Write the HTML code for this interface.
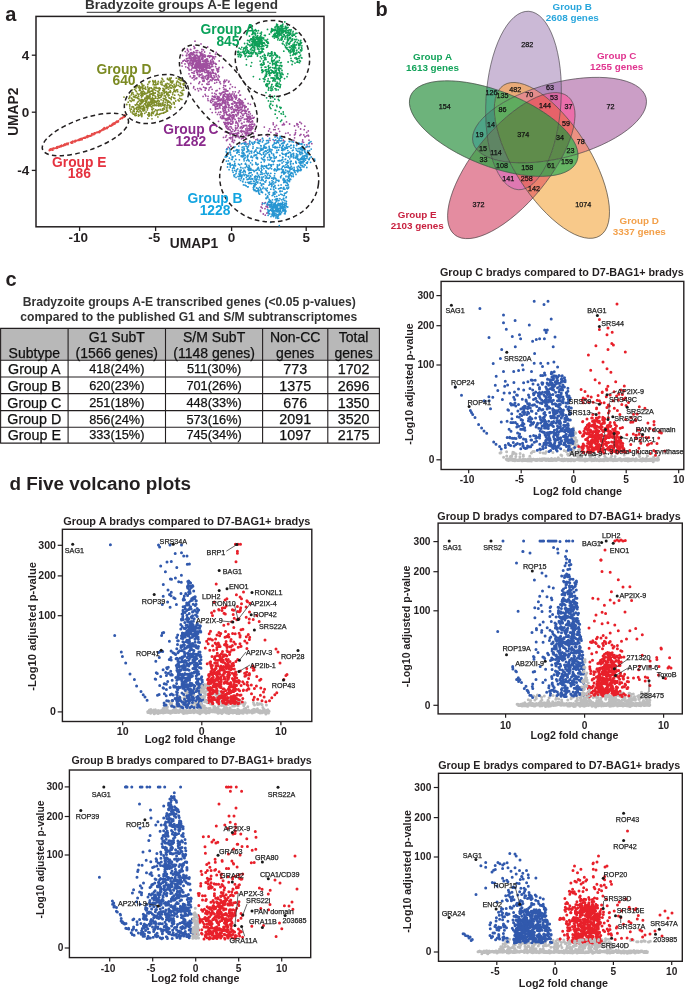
<!DOCTYPE html>
<html><head><meta charset="utf-8"><style>html,body{margin:0;padding:0;background:#fff;}svg{display:block;}text{font-family:"Liberation Sans",sans-serif;}</style></head>
<body><svg style="will-change:transform;filter:blur(0.35px)" width="685" height="990" viewBox="0 0 685 990" font-family="Liberation Sans, sans-serif">
<text x="5.3" y="20.8" font-size="20" font-weight="bold" fill="#231f20">a</text>
<text x="181.5" y="9.3" font-size="13.55" font-weight="bold" text-anchor="middle" fill="#333">Bradyzoite groups A-E legend</text>
<line x1="86.7" y1="12.3" x2="276.3" y2="12.3" stroke="#333" stroke-width="1.0"/>
<rect x="36" y="16.4" width="288" height="210.4" fill="none" stroke="#231f20" stroke-width="1.5"/>
<line x1="31.8" y1="55.2" x2="36.0" y2="55.2" stroke="#231f20" stroke-width="1.3"/>
<text x="29.3" y="59.8" font-size="13.5" font-weight="bold" text-anchor="end" fill="#231f20">4</text>
<line x1="31.8" y1="112.2" x2="36.0" y2="112.2" stroke="#231f20" stroke-width="1.3"/>
<text x="29.3" y="116.8" font-size="13.5" font-weight="bold" text-anchor="end" fill="#231f20">0</text>
<line x1="31.8" y1="170.4" x2="36.0" y2="170.4" stroke="#231f20" stroke-width="1.3"/>
<text x="29.3" y="175.0" font-size="13.5" font-weight="bold" text-anchor="end" fill="#231f20">-4</text>
<line x1="79.6" y1="226.8" x2="79.6" y2="231.0" stroke="#231f20" stroke-width="1.3"/>
<text x="78.3" y="242.3" font-size="13.5" font-weight="bold" text-anchor="middle" fill="#231f20">-10</text>
<line x1="155.6" y1="226.8" x2="155.6" y2="231.0" stroke="#231f20" stroke-width="1.3"/>
<text x="154.3" y="242.3" font-size="13.5" font-weight="bold" text-anchor="middle" fill="#231f20">-5</text>
<line x1="231.6" y1="226.8" x2="231.6" y2="231.0" stroke="#231f20" stroke-width="1.3"/>
<text x="231.6" y="242.3" font-size="13.5" font-weight="bold" text-anchor="middle" fill="#231f20">0</text>
<line x1="306.2" y1="226.8" x2="306.2" y2="231.0" stroke="#231f20" stroke-width="1.3"/>
<text x="306.2" y="242.3" font-size="13.5" font-weight="bold" text-anchor="middle" fill="#231f20">5</text>
<text x="194.0" y="247.8" font-size="13.8" font-weight="bold" text-anchor="middle" fill="#231f20">UMAP1</text>
<text x="17.6" y="111.7" font-size="13.8" font-weight="bold" text-anchor="middle" fill="#231f20" transform="rotate(-90 17.6 111.7)">UMAP2</text>
<path d="M196.6 64.9h0M199.5 60.3h0M194.2 58.1h0M206.3 69.8h0M206.4 68.5h0M202.1 65.6h0M185.7 61.2h0M201.9 67.8h0M193.9 46.4h0M195.4 56.8h0M202.3 64.0h0M205.7 61.5h0M200.9 66.5h0M189.8 70.0h0M200.0 72.0h0M198.1 56.4h0M198.0 61.0h0M203.6 66.9h0M200.0 55.8h0M192.4 67.8h0M193.6 61.1h0M207.8 56.3h0M196.1 70.5h0M187.1 53.1h0M201.9 58.0h0M203.6 64.6h0M187.2 61.8h0M201.6 71.0h0M208.8 70.8h0M205.0 56.2h0M206.3 62.0h0M201.0 54.1h0M195.0 56.1h0M215.5 56.7h0M189.1 58.5h0M208.1 72.0h0M195.0 41.2h0M204.9 60.3h0M189.1 64.0h0M207.1 68.3h0M200.3 66.4h0M209.0 72.9h0M201.8 68.2h0M185.0 63.9h0M204.9 69.8h0M188.4 51.5h0M211.7 56.2h0M195.4 68.0h0M185.7 66.8h0M204.3 64.4h0M200.1 68.0h0M197.1 69.9h0M196.8 58.0h0M207.1 67.3h0M190.8 64.8h0M211.6 66.4h0M190.9 56.7h0M199.9 60.7h0M213.1 62.8h0M212.9 60.9h0M192.5 63.4h0M205.0 72.4h0M201.9 65.2h0M199.2 66.8h0M197.9 63.9h0M204.0 65.3h0M203.5 69.2h0M212.9 72.9h0M198.2 59.2h0M196.9 68.1h0M196.4 63.8h0M221.1 55.9h0M191.4 59.9h0M202.0 65.9h0M194.9 65.0h0M203.7 61.2h0M215.7 74.7h0M196.5 60.2h0M198.6 61.7h0M182.7 49.3h0M210.8 60.5h0M196.4 68.1h0M201.1 74.8h0M189.4 54.2h0M195.6 65.1h0M216.3 52.3h0M212.2 59.2h0M209.6 57.3h0M197.3 70.4h0M198.3 63.5h0M205.1 67.0h0M194.4 71.3h0M208.2 65.5h0M222.7 67.5h0M207.2 65.2h0M198.6 67.5h0M199.5 67.5h0M194.3 48.4h0M207.4 60.0h0M197.7 50.6h0M206.3 72.3h0M213.3 63.6h0M203.7 56.6h0M200.1 75.0h0M188.8 68.2h0M207.4 66.0h0M181.8 63.0h0M201.3 59.2h0M201.4 66.9h0M213.7 63.2h0M203.0 75.9h0M210.6 67.8h0M191.5 65.8h0M200.4 64.2h0M210.7 67.2h0M185.3 51.6h0M184.5 60.2h0M204.2 60.8h0M197.2 67.6h0M196.2 70.8h0M196.2 68.6h0M205.1 78.0h0M192.5 65.3h0M190.5 49.4h0M182.9 61.2h0M191.5 58.0h0M198.8 62.1h0M195.1 61.9h0M212.3 70.4h0M200.4 70.8h0M202.7 55.1h0M192.7 66.8h0M190.5 53.0h0M204.4 71.5h0M197.4 67.6h0M205.0 57.0h0M191.2 53.1h0M208.2 63.5h0M196.3 55.1h0M189.8 56.2h0M190.6 60.3h0M182.6 55.4h0M201.9 49.5h0M205.9 64.3h0M187.4 49.2h0M203.5 61.6h0M203.0 70.3h0M203.6 67.5h0M207.1 72.0h0M209.9 53.1h0M202.0 74.0h0M199.5 59.2h0M219.2 60.9h0M195.4 78.5h0M191.3 63.2h0M213.5 69.9h0M201.0 70.3h0M194.0 58.9h0M199.3 68.8h0M200.4 61.8h0M194.1 56.9h0M205.8 67.1h0M196.8 54.9h0M214.8 80.1h0M212.8 51.0h0M202.7 68.2h0M210.3 72.1h0M197.8 65.7h0M183.2 61.0h0M204.5 60.3h0M203.3 78.5h0M192.4 53.6h0M201.4 65.2h0M200.4 55.9h0M211.3 77.3h0M196.1 50.7h0M208.6 75.4h0M210.0 74.8h0M193.1 61.0h0M187.5 50.1h0M197.9 65.7h0M195.4 59.4h0M202.0 67.0h0M203.7 66.7h0M195.2 66.1h0M203.0 58.5h0M195.7 60.5h0M198.7 63.4h0M199.4 64.0h0M203.2 55.4h0M199.5 70.6h0M203.6 63.7h0M206.2 59.3h0M186.7 55.8h0M191.1 63.4h0M201.0 43.9h0M187.7 67.7h0M201.8 53.8h0M193.0 62.9h0M202.9 66.0h0M208.0 72.9h0M197.9 66.3h0M208.3 75.1h0M210.6 61.0h0M196.6 66.5h0M194.5 67.8h0M201.2 70.5h0M190.3 76.5h0M209.3 66.7h0M192.2 78.0h0M194.8 66.5h0M206.8 67.0h0M191.3 59.4h0M198.8 70.8h0M205.3 66.3h0M204.2 69.5h0M201.2 64.1h0M196.1 65.9h0M194.7 55.2h0M204.8 54.8h0M203.5 49.9h0M193.4 63.5h0M204.1 65.0h0M203.0 54.1h0M211.0 73.2h0M210.4 62.4h0M204.6 52.0h0M202.4 71.4h0M187.0 55.1h0M210.1 55.6h0M190.8 49.7h0M200.2 52.6h0M199.4 64.5h0M202.1 69.5h0M206.6 75.6h0M192.6 54.9h0M196.2 52.7h0M199.4 62.7h0M208.6 56.0h0M191.5 57.9h0M199.6 60.5h0M202.0 58.5h0M203.7 67.8h0M201.6 58.9h0M207.6 47.0h0M193.1 59.3h0M188.9 58.1h0M205.5 55.8h0M199.3 60.2h0M201.2 68.3h0M202.5 58.1h0M199.2 62.1h0M204.1 67.6h0M199.4 52.5h0M199.8 57.3h0M192.7 57.9h0M196.3 61.6h0M205.0 62.8h0M217.1 70.5h0M207.2 68.1h0M215.5 54.1h0M194.0 61.4h0M196.6 78.6h0M198.1 71.5h0M202.2 71.4h0M204.0 64.2h0M207.0 59.0h0M211.5 62.0h0M194.8 75.9h0M198.4 62.2h0M208.0 67.8h0M193.6 61.2h0M201.7 69.3h0M189.0 69.8h0M211.5 69.8h0M203.3 61.7h0M212.1 64.7h0M206.2 63.0h0M192.9 64.3h0M209.3 68.3h0M192.7 64.9h0M198.6 64.6h0M206.9 75.5h0M189.0 73.8h0M197.5 67.4h0M195.7 60.2h0M182.1 66.1h0M213.4 61.6h0M194.8 47.9h0M209.6 65.1h0M200.6 61.0h0M202.7 56.4h0M204.8 55.0h0M198.5 64.5h0M204.0 63.6h0M193.2 60.3h0M191.6 69.9h0M205.7 65.4h0M199.0 57.2h0M194.7 57.3h0M190.9 54.8h0M202.4 56.6h0M216.7 79.9h0M200.7 54.2h0M191.7 52.7h0M197.0 52.7h0M193.4 57.8h0M204.9 76.6h0M211.2 62.4h0M199.5 65.7h0M198.2 60.1h0M187.2 58.3h0M202.6 68.9h0M194.5 57.5h0M199.0 63.4h0M218.4 75.5h0M216.3 64.2h0M213.9 75.7h0M188.8 54.6h0M203.3 70.5h0M218.0 71.7h0M207.7 72.9h0M201.0 66.5h0M207.6 59.1h0M189.5 57.6h0M207.3 71.0h0M203.4 67.5h0M198.6 56.7h0M195.6 63.8h0M218.6 69.3h0M215.9 64.3h0M193.2 57.4h0M218.6 71.1h0M202.4 70.2h0M199.7 57.7h0M208.4 77.8h0M196.8 62.6h0M208.9 55.9h0M212.9 72.2h0M202.7 56.2h0M213.7 56.9h0M192.8 72.8h0M202.4 55.6h0M192.8 62.5h0M208.3 78.5h0M190.1 61.8h0M216.4 76.5h0M210.6 79.9h0M208.3 61.4h0M198.1 60.0h0M194.8 60.5h0M197.5 74.6h0M213.8 63.0h0M191.8 60.9h0M199.4 74.4h0M211.2 77.0h0M196.9 58.2h0M218.5 68.5h0M194.2 71.5h0M196.1 58.3h0M217.1 69.0h0M193.2 64.3h0M198.5 57.5h0M200.0 64.8h0M213.1 72.2h0M213.8 73.2h0M206.3 59.8h0M196.2 60.9h0M191.9 72.6h0M193.7 51.9h0M215.9 79.6h0M194.3 52.5h0M209.8 63.4h0M193.2 62.5h0M206.7 70.2h0M211.2 75.4h0M214.4 58.8h0M204.8 61.2h0M210.8 56.0h0M193.7 57.4h0M205.2 59.8h0M202.8 56.9h0M213.3 69.6h0M201.6 74.6h0M214.4 77.4h0M186.4 58.8h0M189.2 55.7h0M219.1 67.5h0M215.3 63.5h0M194.1 73.3h0M205.9 68.6h0M192.6 61.1h0M189.9 56.1h0M193.9 68.0h0M207.8 56.1h0M208.7 55.6h0M195.9 56.1h0M212.8 66.4h0M198.8 66.5h0M199.3 58.5h0M195.9 67.0h0M197.5 62.5h0M215.2 79.9h0M197.7 55.9h0M210.5 56.1h0M199.8 74.6h0M199.2 76.5h0M201.1 54.9h0M207.4 77.3h0M198.0 65.1h0M190.1 58.5h0M203.2 77.8h0M188.8 64.7h0M213.2 79.0h0M191.9 53.8h0M218.0 79.3h0M201.9 51.6h0M216.6 68.6h0M212.5 56.7h0M199.2 75.4h0M192.6 62.0h0M203.1 61.5h0M189.3 57.4h0M210.4 76.9h0M206.0 66.5h0M206.9 59.2h0M199.7 67.5h0M199.9 69.8h0M200.6 63.2h0M202.1 57.1h0M211.7 73.4h0M201.0 55.4h0M201.6 53.2h0M189.5 62.9h0M188.2 63.3h0M210.7 73.3h0M202.6 61.3h0M215.0 79.9h0M210.6 74.4h0M202.2 78.7h0M212.6 77.9h0M187.3 60.5h0M202.6 77.6h0M192.3 57.9h0M202.7 59.6h0M186.3 55.5h0M208.8 76.9h0M189.0 65.9h0M207.3 60.8h0M215.6 66.7h0M205.3 76.5h0M207.0 61.8h0M212.9 57.9h0M197.6 72.9h0M200.5 55.3h0M213.7 57.6h0M207.4 79.5h0M205.5 69.9h0M206.6 63.0h0M202.9 76.9h0M189.6 56.8h0M188.7 60.7h0M192.8 67.5h0M205.6 56.1h0M206.8 64.2h0M193.5 54.5h0M215.5 73.5h0M199.1 57.9h0M204.7 60.5h0M207.6 63.3h0M217.8 72.0h0M199.2 57.1h0M192.0 68.2h0M202.7 69.2h0M195.8 59.0h0M212.4 71.5h0M211.1 64.0h0M211.0 63.6h0M192.9 53.2h0M196.7 72.5h0M227.6 104.1h0M228.6 82.1h0M219.6 88.6h0M232.9 91.9h0M203.1 96.4h0M202.8 81.0h0M230.4 107.9h0M230.5 84.4h0M223.9 98.3h0M214.8 103.9h0M227.8 104.6h0M212.9 99.5h0M220.5 83.7h0M207.7 77.4h0M227.5 96.1h0M227.7 100.0h0M234.7 105.9h0M194.1 79.8h0M236.3 102.9h0M224.1 103.4h0M224.0 82.9h0M193.7 75.7h0M206.2 88.1h0M209.0 84.2h0M236.5 95.5h0M212.9 101.4h0M207.8 98.8h0M218.7 80.2h0M216.0 102.3h0M198.5 90.8h0M204.2 80.2h0M227.9 90.9h0M227.7 101.9h0M223.8 85.5h0M210.9 87.0h0M199.7 82.0h0M239.4 91.0h0M201.3 89.5h0M218.3 100.7h0M230.9 96.6h0M207.9 84.4h0M225.7 100.2h0M197.7 88.7h0M232.1 94.0h0M195.2 89.6h0M198.9 83.5h0M228.1 104.1h0M196.8 77.9h0M202.1 84.4h0M217.8 78.1h0M206.7 79.2h0M193.8 86.6h0M229.8 88.5h0M194.1 79.8h0M210.1 73.3h0M210.7 102.1h0M227.5 91.0h0M224.0 89.6h0M211.1 100.2h0M220.7 100.5h0M212.0 80.7h0M229.2 105.4h0M232.1 98.6h0M236.6 97.8h0M224.6 89.2h0M205.8 95.9h0M193.6 87.9h0M232.6 99.1h0M223.9 81.5h0M212.1 89.3h0M223.4 87.6h0M226.5 107.3h0M232.4 86.8h0M218.8 99.3h0M217.2 96.3h0M235.3 91.8h0M210.4 101.0h0M208.3 74.2h0M203.6 87.2h0M212.0 98.5h0M208.1 82.1h0M210.3 80.1h0M234.1 96.1h0M214.7 93.4h0M208.1 96.3h0M234.7 103.0h0M214.7 83.2h0M219.3 76.8h0M209.4 81.6h0M212.3 79.1h0M204.0 81.3h0M205.2 90.2h0M212.4 96.2h0M225.6 85.8h0M240.9 104.5h0M239.6 101.8h0M225.4 81.5h0M193.8 77.4h0M207.7 77.8h0M239.5 102.1h0M222.7 101.7h0M226.1 106.0h0M232.9 103.9h0M218.3 100.2h0M219.6 82.1h0M201.3 77.3h0M216.1 74.2h0M214.6 77.5h0M216.0 90.9h0M218.8 104.8h0M214.7 93.4h0M225.9 103.9h0M209.4 87.9h0M224.3 96.2h0M226.9 107.4h0M217.1 90.4h0M228.9 95.8h0M208.9 90.0h0M218.0 101.3h0M200.0 88.5h0M212.1 93.1h0M235.2 87.3h0M216.7 82.3h0M225.3 102.1h0M206.9 84.0h0M205.1 94.3h0M224.2 101.8h0M238.5 92.7h0M190.8 83.4h0M240.5 95.1h0M225.5 102.0h0M239.9 95.2h0M223.2 95.8h0M227.7 94.7h0M226.8 80.1h0M226.0 89.4h0M232.1 106.7h0M225.4 86.0h0M234.9 101.9h0M220.0 81.8h0M205.2 88.0h0M206.2 88.4h0M224.6 107.5h0M190.2 76.5h0M234.2 93.9h0M211.5 75.9h0M224.7 80.1h0M229.0 81.2h0M228.7 104.5h0M223.8 99.0h0M225.8 126.5h0M228.1 118.7h0M231.0 123.8h0M227.9 122.2h0M238.8 110.9h0M228.8 129.3h0M251.7 129.2h0M236.2 104.6h0M241.8 131.4h0M226.6 120.3h0M237.6 105.4h0M228.4 124.2h0M237.7 134.8h0M230.3 119.3h0M246.5 134.4h0M246.3 133.4h0M236.4 103.7h0M247.9 130.4h0M241.1 135.7h0M227.2 94.3h0M235.7 129.9h0M237.9 123.9h0M232.1 100.3h0M245.5 113.0h0M236.8 134.8h0M249.3 116.1h0M232.5 119.5h0M220.8 99.6h0M227.9 118.2h0M229.5 115.9h0M237.5 107.2h0M248.5 114.3h0M236.3 103.1h0M244.9 111.3h0M251.8 128.4h0M223.4 91.9h0M221.2 99.0h0M235.9 133.5h0M237.5 109.9h0M223.5 118.2h0M239.3 137.8h0M240.5 109.7h0M231.4 98.0h0M223.5 107.6h0M245.2 125.5h0M215.3 97.2h0M244.0 137.0h0M240.8 104.9h0M237.3 127.9h0M217.3 106.2h0M223.5 96.2h0M232.7 98.4h0M222.8 97.2h0M248.5 134.4h0M218.7 112.4h0M247.5 121.4h0M231.5 107.0h0M246.7 113.9h0M222.1 92.8h0M242.3 117.7h0M223.9 110.6h0M219.4 103.6h0M219.9 114.6h0M240.4 100.6h0M232.6 104.3h0M223.6 100.1h0M217.0 104.5h0M242.8 104.7h0M246.1 107.0h0M247.1 116.3h0M220.6 111.8h0M236.4 96.9h0M216.2 94.4h0M238.0 114.8h0M224.2 100.3h0M238.1 125.4h0M246.3 119.1h0M221.3 93.3h0M243.0 110.4h0M246.2 106.8h0M247.5 133.2h0M250.3 113.8h0M228.1 98.2h0M228.2 119.7h0M231.3 115.8h0M246.5 133.3h0M226.2 125.6h0M228.6 127.6h0M234.0 116.5h0M220.5 95.1h0M236.6 116.1h0M248.7 125.9h0M214.9 96.2h0M233.2 115.0h0M224.5 96.1h0M229.6 96.8h0M237.3 133.1h0M228.9 111.0h0M247.4 116.3h0M244.9 106.9h0M222.9 106.8h0M246.0 135.6h0M246.4 132.4h0M223.2 111.1h0M238.9 108.2h0M230.8 115.2h0M213.9 97.0h0M251.4 121.7h0M246.2 134.2h0M239.3 103.3h0M240.8 103.7h0M235.2 136.2h0M238.5 102.5h0M234.3 111.7h0M225.5 122.4h0M252.2 115.7h0M224.0 113.3h0M234.9 97.4h0M218.1 96.6h0M225.0 110.3h0M224.8 102.2h0M247.4 120.5h0M236.4 122.5h0M231.9 117.4h0M238.1 113.4h0M225.7 102.1h0M222.1 115.6h0M228.7 119.3h0M235.8 114.6h0M219.5 93.3h0M248.7 112.0h0M215.5 109.4h0M231.0 126.8h0M217.5 101.3h0M252.3 126.9h0M219.3 106.9h0M227.5 123.8h0M238.3 132.5h0M246.7 115.9h0M243.3 127.2h0M244.1 113.8h0M245.2 125.4h0M244.4 119.3h0M236.5 110.9h0M245.1 133.6h0M237.9 109.0h0M231.5 112.9h0M242.6 104.6h0M229.0 117.8h0M228.8 106.1h0M245.3 132.5h0M233.5 112.2h0M220.6 105.2h0M247.6 131.9h0M236.2 114.9h0M250.7 128.7h0M234.2 115.9h0M241.1 109.5h0M227.7 119.7h0M240.7 116.3h0M217.1 108.7h0M229.4 118.1h0M236.5 134.0h0M231.0 121.2h0M234.7 130.8h0M220.0 105.9h0M234.0 95.5h0M249.7 124.5h0M219.4 104.5h0M234.0 115.2h0M220.7 99.1h0M238.8 120.2h0M229.9 129.4h0M225.6 124.5h0M213.2 105.2h0M247.5 119.3h0M240.4 99.8h0M233.4 117.7h0M223.9 122.3h0M236.6 110.6h0M218.0 97.8h0M217.1 98.5h0M234.4 131.2h0M238.1 130.3h0M244.6 106.1h0M242.3 107.7h0M219.9 103.3h0M236.9 107.4h0M231.4 109.3h0M231.0 121.0h0M223.2 92.2h0M251.2 132.7h0M223.0 109.5h0M242.5 101.1h0M232.9 129.6h0M223.0 98.7h0M227.7 99.3h0M236.0 95.7h0M234.9 109.3h0M229.5 93.3h0M227.4 102.2h0M220.8 104.2h0M240.2 107.1h0M216.8 103.5h0M231.2 131.8h0M227.5 126.1h0M233.7 101.4h0M231.6 96.5h0M242.0 103.0h0M249.9 119.4h0M228.1 102.3h0M237.9 100.6h0M234.0 117.1h0M228.8 122.9h0M236.3 105.5h0M229.0 94.3h0M226.2 123.1h0M227.8 115.0h0M225.2 93.3h0M225.8 101.3h0M224.6 110.2h0M250.3 128.7h0M249.2 133.1h0M218.4 103.8h0M240.2 107.6h0M229.9 123.0h0M241.7 102.4h0M238.8 99.1h0M243.1 125.6h0M219.6 99.9h0M225.4 109.0h0M214.6 105.5h0M239.2 99.0h0M247.4 118.5h0M242.4 102.7h0M230.8 124.2h0M247.2 128.8h0M224.7 92.1h0M248.0 120.4h0M214.9 102.2h0M241.5 109.7h0M243.7 131.4h0M224.5 94.5h0M251.1 124.6h0M243.3 131.5h0M238.8 112.6h0M230.6 115.6h0M241.8 130.3h0M223.7 117.3h0M252.7 121.9h0M235.3 102.5h0M215.4 107.9h0M229.9 100.1h0M225.7 96.8h0M242.0 123.5h0M222.8 102.1h0M234.1 112.3h0M235.5 128.0h0M237.5 113.1h0M244.4 131.6h0M217.7 104.5h0M227.8 100.3h0M215.5 104.0h0M231.4 95.6h0M226.3 113.4h0M227.9 98.4h0M253.2 118.2h0M217.5 114.4h0M230.8 99.5h0M250.7 122.2h0M238.7 136.8h0M239.8 102.6h0M223.1 96.9h0M247.0 127.1h0M226.4 99.2h0M228.1 117.6h0M222.8 92.1h0M236.2 121.4h0M246.6 125.3h0M233.3 115.0h0M219.5 105.0h0M231.0 99.5h0M247.5 132.8h0M245.3 111.3h0M224.6 123.1h0M234.1 111.1h0M226.9 111.9h0M240.3 131.3h0M225.1 112.2h0M236.1 107.4h0M221.0 94.3h0M226.3 113.0h0M252.4 121.0h0M240.7 120.5h0M225.2 118.6h0M239.5 105.0h0M214.1 99.4h0M240.8 112.4h0M228.3 119.0h0M230.1 116.5h0M236.2 109.8h0M217.7 99.0h0M249.5 117.4h0M223.4 94.7h0M234.8 102.6h0M233.1 117.7h0M222.3 118.6h0M229.7 93.7h0M231.0 133.2h0M235.6 125.7h0M229.1 98.6h0M252.4 118.2h0M222.7 108.6h0M221.7 105.0h0M242.0 111.3h0M249.4 121.1h0M248.8 118.1h0M227.0 128.2h0M240.9 131.3h0M218.0 108.7h0M243.2 137.4h0M235.5 130.2h0M240.7 102.7h0M220.9 112.3h0M247.4 119.1h0M220.6 117.7h0M224.9 124.4h0M228.6 97.2h0M248.9 116.9h0M241.3 130.4h0M227.0 97.5h0M233.6 133.7h0M240.9 109.6h0M232.5 97.9h0M247.6 109.7h0M248.8 120.5h0M216.1 106.5h0M220.0 108.0h0M232.2 118.9h0M228.9 107.7h0M226.7 91.0h0M214.9 97.3h0M240.5 103.6h0M224.2 115.0h0M223.7 118.4h0M236.0 128.5h0M248.8 128.7h0M239.0 121.7h0M227.9 104.1h0M245.6 133.6h0M251.5 124.1h0M243.3 115.4h0M239.0 107.5h0M235.6 110.3h0M215.5 106.9h0M232.7 108.4h0M223.0 101.7h0M227.3 96.8h0M231.6 112.3h0M236.3 105.1h0M219.9 93.3h0M225.4 105.4h0M242.8 117.6h0M250.8 119.2h0M216.3 98.9h0M227.6 128.7h0M230.6 133.4h0M219.7 103.4h0M241.9 100.9h0M229.4 100.0h0M237.7 133.2h0M239.6 99.8h0M243.1 138.2h0M246.2 133.8h0M227.0 96.8h0M220.7 116.8h0M248.9 122.0h0M226.4 127.5h0M239.6 110.3h0M240.8 106.9h0M226.7 114.7h0M237.5 102.9h0M250.9 118.2h0M238.2 126.2h0M226.5 94.7h0M219.4 97.1h0M246.4 111.2h0M235.1 119.4h0M235.8 122.9h0M237.7 106.5h0M243.4 102.9h0M242.2 128.2h0M244.8 105.5h0M231.6 103.9h0M232.5 122.8h0M244.7 108.1h0M214.1 96.7h0M235.8 99.1h0M219.1 98.9h0M243.2 136.1h0M239.1 107.2h0M245.8 113.0h0M229.5 133.2h0M251.7 121.4h0M222.2 102.6h0M223.8 111.7h0M222.5 100.2h0M244.1 122.1h0M221.9 118.5h0M243.8 131.1h0M224.6 106.6h0M232.9 134.5h0M237.5 112.7h0M236.7 134.1h0M227.8 129.0h0M225.2 91.2h0M217.0 98.4h0M242.4 134.1h0M233.7 101.6h0M230.7 95.2h0M212.2 112.6h0M231.5 97.4h0M223.7 115.8h0M251.8 127.1h0M219.5 100.5h0M226.6 118.7h0M241.5 123.3h0M233.8 118.3h0M251.3 126.5h0M226.2 107.3h0M225.5 110.5h0M226.7 98.9h0M237.2 136.5h0M218.5 121.3h0M225.0 103.6h0M249.7 129.6h0M241.8 107.6h0M239.2 118.3h0M250.2 116.5h0M244.4 110.2h0M242.7 110.9h0M232.9 121.4h0M240.9 107.5h0M238.3 118.1h0M230.1 126.6h0M232.7 114.9h0M216.7 98.8h0M254.1 117.4h0M232.8 117.3h0M248.1 103.5h0M229.4 122.7h0M248.9 134.9h0M225.2 131.9h0M213.2 104.1h0M210.4 109.1h0M247.6 117.0h0M229.0 96.2h0M241.8 113.6h0M230.4 130.3h0M245.2 99.2h0M241.0 109.6h0M232.6 103.4h0M224.7 108.3h0M208.1 100.6h0M243.1 105.2h0M222.2 103.6h0M238.7 133.2h0M215.7 112.3h0M247.0 121.7h0M228.5 109.6h0M242.8 106.2h0M226.6 123.1h0M248.0 108.9h0M225.4 119.8h0M224.7 123.9h0M245.1 110.2h0M232.9 115.8h0M252.8 128.3h0M229.5 114.2h0M249.5 111.9h0M230.1 134.7h0M228.3 115.6h0M232.1 131.6h0M240.5 127.5h0M241.0 118.6h0M245.8 129.0h0M211.3 102.6h0M244.9 119.1h0M242.7 115.2h0M227.1 120.0h0M222.7 116.9h0M219.6 104.6h0M221.6 104.2h0M250.5 118.7h0M232.1 112.2h0M250.9 130.5h0M250.4 104.3h0M233.5 109.9h0M229.6 115.5h0M235.9 109.6h0M294.5 126.0h0M304.9 136.7h0M228.5 129.4h0M270.9 132.3h0M273.7 129.7h0M248.1 143.9h0M249.7 141.3h0M294.6 137.8h0M229.1 133.0h0M299.9 122.2h0M276.5 125.4h0M305.2 136.8h0M294.5 134.9h0M283.3 140.2h0M250.0 126.3h0M297.8 124.4h0M304.8 126.2h0M232.9 122.9h0M260.5 139.8h0M284.4 124.6h0M249.8 127.0h0M275.2 129.6h0M273.3 124.6h0M304.2 129.7h0M298.0 124.6h0M257.4 139.2h0M243.7 136.4h0M232.2 133.9h0M288.1 132.9h0M283.7 123.4h0M296.9 123.7h0M306.7 135.8h0M249.6 130.4h0M290.0 134.9h0M276.6 136.2h0M231.8 124.2h0M298.4 126.8h0M253.3 133.5h0M245.8 142.3h0M239.7 143.6h0M273.2 122.9h0M276.4 133.8h0M232.6 139.4h0M235.6 137.3h0M255.1 131.2h0M282.4 124.9h0M300.9 134.4h0M237.1 122.8h0M301.4 123.5h0M267.7 136.1h0M234.3 134.0h0M238.4 136.1h0M268.6 131.0h0M241.4 132.1h0M241.9 123.8h0M274.2 140.7h0M244.2 142.5h0M237.5 127.9h0M226.7 131.8h0M269.6 128.8h0M274.9 127.0h0M286.5 121.9h0M245.6 138.0h0M278.4 140.8h0M295.7 130.3h0M295.3 133.9h0M306.7 132.4h0M245.5 142.0h0M283.7 124.5h0M254.3 124.2h0M241.4 126.6h0M311.8 143.7h0M266.2 134.9h0M290.1 139.1h0M241.5 138.8h0M298.4 143.6h0M232.1 141.5h0M254.7 124.9h0M309.0 140.2h0M289.6 124.0h0M303.6 142.3h0M297.3 144.1h0M276.0 133.1h0M296.6 143.5h0M300.6 129.0h0M308.6 136.0h0M309.2 143.6h0M244.4 125.9h0M264.3 127.1h0M284.3 141.3h0M293.8 140.5h0M306.9 144.8h0M253.9 137.8h0M297.6 143.8h0M225.4 123.3h0M295.5 132.6h0M277.2 133.7h0M253.5 126.4h0M278.5 128.8h0M231.7 128.1h0M285.7 133.3h0M234.6 140.5h0M240.2 128.1h0M308.3 130.9h0M258.7 135.0h0M308.1 135.2h0M297.1 124.9h0M246.1 130.6h0M232.9 136.6h0M299.9 135.4h0M302.7 140.0h0M230.7 138.7h0M255.8 139.8h0M279.6 131.3h0M270.0 140.3h0M303.8 134.9h0M284.2 136.7h0M302.4 141.9h0M252.6 124.1h0M307.9 146.7h0M260.6 211.4h0M265.3 202.7h0M263.3 214.0h0M266.1 206.5h0M267.4 206.7h0M265.0 208.7h0M267.9 212.8h0M266.8 213.1h0M262.1 204.6h0M265.3 215.2h0M267.7 207.6h0M260.5 210.3h0M268.7 204.6h0M267.1 204.7h0M262.4 202.9h0M262.3 208.1h0M261.1 207.0h0M269.4 205.2h0M226.5 140.5h0M223.5 137.4h0M227.5 139.6h0M228.3 147.2h0M230.9 146.2h0M226.4 135.6h0M232.6 141.0h0M229.8 144.4h0M232.5 137.7h0M227.1 148.6h0M229.4 137.9h0M230.8 137.4h0M233.6 142.6h0M227.0 149.0h0M225.7 137.1h0" stroke="#9f4f9f" stroke-width="1.8" stroke-linecap="round" fill="none"/>
<path d="M132.1 98.9h0M171.7 104.1h0M151.9 109.3h0M134.5 89.3h0M164.8 104.7h0M172.9 92.8h0M147.8 92.7h0M174.7 91.0h0M138.8 111.9h0M158.8 97.8h0M135.7 90.5h0M131.8 93.5h0M157.1 111.1h0M166.7 100.1h0M151.4 99.9h0M143.9 110.8h0M136.8 103.9h0M171.7 97.0h0M165.6 112.1h0M135.6 105.2h0M168.8 101.5h0M163.0 110.0h0M143.8 85.5h0M174.5 91.4h0M168.6 79.9h0M176.6 90.0h0M128.2 102.2h0M136.0 88.0h0M131.4 94.8h0M160.2 109.3h0M130.3 110.1h0M164.5 90.6h0M147.2 99.7h0M140.6 108.7h0M140.1 110.6h0M174.9 98.5h0M129.8 108.1h0M129.6 97.2h0M164.5 106.0h0M161.9 93.0h0M157.7 100.6h0M141.1 111.7h0M183.8 90.2h0M155.7 82.3h0M154.3 104.3h0M169.1 95.2h0M147.8 84.6h0M151.4 88.3h0M139.3 106.4h0M157.9 94.5h0M139.5 105.1h0M139.4 87.6h0M160.5 105.0h0M169.9 105.8h0M169.9 102.2h0M143.3 91.2h0M137.5 102.3h0M148.6 113.0h0M174.7 95.2h0M136.9 108.1h0M155.6 109.9h0M160.7 97.3h0M140.1 87.1h0M170.5 92.4h0M140.4 100.4h0M179.6 98.4h0M132.1 89.9h0M164.2 112.4h0M156.1 102.6h0M139.9 86.7h0M180.5 92.3h0M134.0 100.6h0M154.5 100.4h0M164.9 105.3h0M170.0 79.2h0M155.3 93.0h0M167.0 105.5h0M141.9 103.0h0M168.1 95.9h0M136.2 113.4h0M162.7 79.5h0M141.8 116.5h0M141.3 92.7h0M164.8 106.7h0M141.9 114.2h0M140.7 103.9h0M181.3 87.5h0M171.9 81.2h0M138.8 109.3h0M137.4 97.5h0M134.1 108.5h0M160.2 109.9h0M157.1 101.8h0M162.5 109.0h0M159.6 88.6h0M171.2 78.0h0M154.6 81.9h0M165.7 85.3h0M152.9 81.4h0M177.2 81.1h0M149.3 89.1h0M172.2 82.9h0M168.2 101.0h0M158.2 95.2h0M151.6 101.4h0M170.5 108.9h0M169.6 78.2h0M167.5 111.0h0M153.0 112.1h0M138.4 114.7h0M153.6 105.3h0M142.7 89.0h0M148.2 90.0h0M133.5 94.7h0M171.7 88.0h0M142.5 93.5h0M147.1 107.8h0M174.1 98.3h0M134.1 110.0h0M146.2 102.1h0M149.3 98.5h0M184.0 83.4h0M158.8 103.0h0M159.2 114.5h0M151.6 113.6h0M144.7 113.3h0M138.2 94.5h0M167.8 104.6h0M171.3 107.1h0M142.4 87.3h0M129.6 104.6h0M140.1 87.4h0M162.3 103.2h0M162.7 104.8h0M149.0 82.7h0M134.5 96.7h0M143.9 107.8h0M145.6 93.4h0M168.0 94.8h0M170.2 80.8h0M182.1 90.7h0M176.3 78.2h0M176.1 86.1h0M166.9 88.1h0M180.5 83.3h0M166.2 100.5h0M166.4 84.2h0M165.8 99.8h0M135.5 115.5h0M149.1 105.9h0M136.0 108.5h0M142.6 91.6h0M158.3 81.5h0M142.4 108.8h0M144.5 92.2h0M172.4 86.0h0M139.2 85.8h0M150.3 91.6h0M165.2 95.9h0M178.4 79.0h0M166.5 110.5h0M153.4 81.6h0M154.7 105.5h0M155.8 84.0h0M141.4 94.6h0M148.9 95.8h0M171.2 99.5h0M177.8 81.4h0M141.9 83.8h0M178.2 85.5h0M181.6 95.4h0M170.4 80.0h0M154.3 89.7h0M139.9 103.5h0M149.0 81.8h0M165.9 97.6h0M170.9 98.5h0M141.6 97.0h0M163.1 103.0h0M136.4 109.1h0M177.7 91.7h0M180.4 84.3h0M141.2 100.9h0M180.3 80.3h0M153.5 82.6h0M139.1 107.0h0M151.3 104.2h0M141.5 96.1h0M164.0 85.7h0M176.4 85.1h0M141.1 115.4h0M146.7 93.3h0M147.9 103.7h0M137.4 110.1h0M143.0 95.2h0M160.6 105.5h0M136.0 86.6h0M135.0 115.4h0M158.3 100.3h0M179.4 79.3h0M141.6 83.7h0M162.0 95.1h0M151.7 112.5h0M166.4 111.4h0M183.5 87.8h0M182.6 93.3h0M144.8 88.6h0M152.4 98.2h0M165.9 97.5h0M166.2 100.5h0M183.8 84.7h0M132.4 112.9h0M161.1 84.3h0M168.1 87.2h0M141.7 91.7h0M158.4 104.1h0M132.3 106.7h0M164.2 95.9h0M167.0 109.0h0M167.3 105.4h0M165.6 84.2h0M141.5 94.2h0M183.6 85.3h0M151.7 115.5h0M180.2 86.3h0M170.6 91.4h0M166.5 107.7h0M140.5 87.6h0M151.6 93.8h0M132.5 100.3h0M148.6 105.2h0M153.4 84.0h0M167.2 83.4h0M149.4 115.5h0M165.2 102.4h0M139.4 107.6h0M145.4 87.2h0M175.7 101.0h0M162.2 84.9h0M128.9 98.4h0M170.1 87.9h0M138.0 104.8h0M143.4 105.4h0M134.6 114.4h0M184.3 82.9h0M147.5 97.9h0M146.6 93.7h0M155.8 87.3h0M164.2 104.9h0M143.3 108.7h0M170.3 90.7h0M156.5 84.5h0M181.9 99.4h0M168.2 92.4h0M169.6 86.2h0M133.5 100.4h0M139.1 105.3h0M166.5 99.6h0M161.8 81.3h0M164.8 86.6h0M143.0 93.9h0M158.9 106.0h0M129.8 106.0h0M140.8 88.6h0M165.1 104.6h0M163.7 113.1h0M139.9 89.4h0M166.4 87.4h0M137.1 86.1h0M174.1 89.4h0M146.3 105.8h0M131.2 101.4h0M157.8 83.1h0M154.8 84.9h0M134.9 97.3h0M158.2 91.5h0M169.5 98.2h0M173.0 81.2h0M132.1 92.5h0M156.0 87.1h0M166.8 85.9h0M146.5 96.1h0M169.3 107.8h0M149.6 94.9h0M163.9 81.2h0M154.4 102.5h0M135.5 95.6h0M163.9 89.0h0M132.0 107.0h0M172.7 94.5h0M133.0 92.8h0M172.5 82.4h0M137.5 98.3h0M176.3 83.8h0M138.1 107.6h0M152.7 90.5h0M143.1 106.6h0M155.4 115.3h0M163.0 88.5h0M155.0 105.6h0M170.6 82.2h0M139.2 115.3h0M134.2 109.5h0M147.7 86.9h0M142.8 95.8h0M177.6 89.8h0M138.0 106.8h0M147.8 84.5h0M152.3 109.9h0M178.1 100.0h0M163.2 113.0h0M183.2 90.1h0M143.4 91.6h0M149.7 91.1h0M149.9 81.4h0M141.2 113.4h0M151.8 102.4h0M142.2 113.8h0M170.2 107.2h0M175.2 87.1h0M166.0 92.2h0M176.7 82.3h0M159.3 90.5h0M175.6 90.8h0M179.0 82.6h0M167.3 103.1h0M130.8 111.8h0M159.8 95.2h0M147.7 108.3h0M140.4 90.6h0M174.2 86.1h0M171.0 84.9h0M154.8 93.1h0M146.0 102.3h0M179.9 95.8h0M146.1 112.0h0M161.2 81.2h0M162.1 110.2h0M158.1 96.4h0M152.2 112.2h0M166.6 85.3h0M149.0 91.5h0M135.2 113.6h0M130.0 100.6h0M153.1 105.7h0M152.9 80.7h0M158.4 109.8h0M173.8 91.3h0M140.9 106.8h0M174.5 85.8h0M153.1 92.2h0M139.7 89.1h0M147.1 106.3h0M138.8 98.9h0M157.0 103.7h0M136.3 115.3h0M174.1 84.3h0M180.8 99.1h0M149.0 114.0h0M157.1 112.9h0M157.6 114.3h0M160.5 82.7h0M164.6 109.1h0M152.6 101.1h0M143.0 88.0h0M152.4 97.5h0M155.2 80.7h0M169.6 106.9h0M141.7 87.2h0M158.0 84.0h0M163.0 113.2h0M139.7 100.4h0M169.8 107.0h0M169.3 105.4h0M143.8 110.5h0M181.7 79.1h0M182.8 94.7h0M174.2 104.1h0M136.2 95.4h0M147.5 107.7h0M142.2 85.0h0M137.4 93.4h0M163.9 89.1h0M137.4 85.7h0M146.3 97.2h0M138.6 96.2h0M156.2 114.8h0M155.3 84.9h0M162.3 82.8h0M151.4 91.2h0M152.7 91.1h0M168.1 92.7h0M136.8 111.6h0M148.6 102.2h0M181.4 93.1h0M153.1 88.9h0M160.1 103.5h0M136.4 91.6h0M162.2 104.1h0M147.7 114.8h0M159.9 93.1h0M155.8 96.8h0M149.1 112.8h0M148.3 98.3h0M155.7 90.3h0M150.5 101.4h0M173.6 87.4h0M149.5 92.5h0M149.0 113.5h0M159.3 88.0h0M147.3 109.9h0M137.3 104.6h0M131.4 109.2h0M136.5 86.1h0M170.5 105.8h0M160.0 113.9h0M133.2 114.0h0M153.2 84.7h0M169.1 102.2h0M138.5 101.4h0M148.9 116.2h0M153.2 92.6h0M142.7 86.3h0M168.9 84.0h0M148.4 106.5h0M131.4 98.2h0M167.5 78.3h0M153.5 108.6h0M161.4 95.1h0M179.1 101.0h0M147.5 92.8h0M181.1 99.4h0M150.2 104.6h0M173.6 97.6h0M152.0 103.8h0M161.1 106.1h0M151.7 115.4h0M163.7 89.7h0M149.8 87.8h0M146.5 107.3h0M143.2 101.4h0M137.2 111.3h0M156.3 88.0h0M181.5 80.3h0M136.6 107.4h0M161.3 113.3h0M162.0 94.1h0M182.1 80.5h0M173.1 81.1h0M178.5 94.7h0M170.1 87.3h0M170.4 102.9h0M133.7 96.8h0M169.9 85.6h0M166.0 88.1h0M149.5 113.8h0M152.8 99.9h0M174.9 107.3h0M154.5 111.5h0M151.3 115.0h0M155.4 81.7h0M171.4 82.8h0M167.4 79.1h0M170.9 82.2h0M164.9 92.1h0M142.4 109.6h0M129.9 96.1h0M133.0 111.1h0M179.8 78.4h0M154.9 95.8h0M145.8 89.2h0M141.9 115.7h0M155.2 101.8h0M153.3 95.3h0M158.9 105.0h0M149.6 103.3h0M162.0 92.8h0M152.5 93.5h0M157.7 94.8h0M162.8 90.6h0M169.4 92.1h0M141.4 95.3h0M157.5 91.3h0M173.5 102.5h0M154.9 87.9h0M150.4 94.2h0M133.5 107.0h0M174.4 89.1h0M162.9 105.4h0M141.2 99.4h0M155.7 101.4h0M140.2 103.7h0M152.6 105.7h0M134.0 99.7h0M146.1 98.3h0M158.5 92.7h0M179.8 86.4h0M162.8 103.5h0M161.9 94.9h0M142.7 99.6h0M159.3 97.9h0M159.2 101.2h0M140.9 95.2h0M166.4 91.6h0M138.5 116.1h0M141.5 95.1h0M160.2 88.6h0M144.6 108.6h0M147.8 118.3h0M157.9 116.9h0M153.5 99.0h0M144.8 99.3h0M146.6 100.3h0M157.9 88.2h0M138.5 87.5h0M167.8 94.2h0M151.7 98.6h0M163.3 98.3h0M160.7 95.4h0M150.6 99.0h0M134.2 111.7h0M133.4 96.8h0M159.2 97.5h0M163.7 108.2h0M174.3 103.0h0M153.3 113.5h0M142.5 100.9h0M162.2 94.7h0M150.1 97.0h0M162.0 78.4h0M167.4 102.5h0M152.2 103.0h0M143.7 109.3h0M182.9 84.1h0M166.7 94.6h0M147.5 96.7h0M147.7 91.1h0M140.6 114.1h0M152.8 102.8h0M156.2 101.3h0M134.1 96.9h0M160.5 103.9h0M138.8 98.4h0M141.8 106.5h0M155.7 98.2h0M145.7 103.2h0M151.0 93.9h0M154.3 93.6h0M163.2 100.5h0M145.8 104.9h0M151.4 94.0h0M139.3 90.4h0M140.6 104.6h0M163.7 91.3h0M154.3 100.9h0M161.1 99.8h0M166.4 100.7h0M144.6 103.9h0M126.8 104.5h0M153.3 102.9h0M150.3 105.5h0M164.5 89.6h0M146.7 102.3h0M157.5 98.6h0M158.7 88.6h0M162.4 104.7h0M164.6 98.7h0M150.2 102.4h0M148.3 88.5h0M145.5 100.4h0M144.8 94.2h0M148.9 97.1h0M152.6 98.5h0M155.6 105.2h0M154.2 101.4h0M133.7 82.5h0M149.0 104.7h0M147.3 95.8h0M140.4 108.6h0M146.8 102.2h0M165.0 99.4h0M175.6 91.7h0M163.4 101.0h0M145.1 101.2h0M144.1 93.7h0M153.8 92.9h0M168.5 89.2h0M146.4 101.2h0M146.6 100.8h0M143.0 91.1h0M124.0 97.1h0M169.0 97.7h0M152.8 95.4h0M151.0 101.4h0M135.8 97.6h0M144.8 110.0h0M142.9 109.9h0M152.0 118.8h0M151.2 99.4h0M167.9 101.1h0M160.0 89.1h0M167.1 107.1h0M150.0 96.0h0M142.2 109.0h0M155.1 98.2h0M141.8 113.5h0M161.3 96.4h0M166.0 88.4h0M159.6 89.7h0M166.5 93.1h0M164.2 92.7h0M158.3 105.6h0M142.6 102.2h0M144.6 107.1h0M144.9 98.2h0M152.0 107.5h0M140.9 101.8h0M147.5 96.2h0M143.3 100.2h0M151.3 88.0h0M152.3 90.3h0M156.3 114.4h0M141.6 101.3h0M151.1 106.4h0M143.7 88.3h0M135.2 104.8h0M156.6 105.5h0M147.5 105.0h0M143.0 110.8h0M150.0 94.6h0M157.0 110.3h0M140.8 93.0h0M139.1 94.1h0M152.1 101.5h0M150.6 100.8h0M164.1 93.7h0M134.5 87.1h0M153.3 93.7h0M150.1 102.5h0M154.1 87.1h0" stroke="#7f8d2a" stroke-width="1.8" stroke-linecap="round" fill="none"/>
<path d="M87.6 136.8h0M87.6 135.7h0M115.4 122.5h0M82.1 139.7h0M63.8 145.5h0M120.4 119.1h0M115.6 122.4h0M64.4 144.5h0M58.9 146.7h0M80.4 139.0h0M50.3 150.1h0M49.4 150.6h0M75.3 140.4h0M64.7 145.1h0M97.2 132.5h0M115.8 122.4h0M95.0 132.9h0M51.6 149.9h0M96.4 132.5h0M65.8 144.8h0M78.1 140.1h0M124.6 117.1h0M68.0 143.3h0M52.3 148.5h0M70.5 142.3h0M125.0 116.3h0M66.6 143.4h0M114.1 123.0h0M111.8 125.2h0M106.8 127.6h0M55.9 147.9h0M49.3 150.4h0M77.9 140.2h0M71.9 141.7h0M124.5 116.9h0M87.7 137.0h0M66.0 144.1h0M75.3 140.6h0M72.6 142.9h0M78.9 140.4h0M91.0 135.4h0M114.5 123.4h0M122.3 118.0h0M61.5 145.2h0M84.3 138.1h0M110.0 125.7h0M78.9 139.7h0M67.1 144.0h0M101.8 129.9h0M65.0 145.3h0M103.6 129.9h0M59.6 146.3h0M89.3 136.3h0M59.0 146.6h0M59.5 147.2h0M91.7 134.0h0M94.4 134.1h0M113.0 123.4h0M76.9 140.5h0M113.0 123.8h0M98.4 132.4h0M123.5 116.5h0M115.2 123.7h0M91.3 135.5h0M84.4 137.5h0M91.5 134.8h0M118.5 120.7h0M76.0 141.0h0M98.5 132.0h0M72.1 143.1h0M120.0 119.2h0M84.2 137.7h0M120.8 118.5h0M68.0 144.5h0M92.1 133.7h0M60.3 145.8h0M110.2 125.7h0M122.4 118.4h0M113.8 124.3h0M80.6 139.6h0M122.0 118.2h0M89.6 136.2h0M107.9 127.1h0M65.3 145.0h0M100.5 130.9h0M61.7 145.7h0M89.4 135.6h0M105.3 128.9h0M56.4 148.3h0M87.0 137.2h0M66.3 144.2h0M111.4 125.9h0M92.3 133.9h0M59.0 146.4h0M116.2 121.6h0M112.0 124.6h0M122.4 118.1h0M81.6 138.8h0M66.9 143.8h0M61.1 146.7h0M63.6 145.0h0M83.2 138.0h0M50.6 149.8h0M52.1 148.7h0M91.8 135.6h0M73.4 141.4h0M94.1 133.2h0M87.8 137.1h0M103.8 129.8h0M107.3 128.4h0M116.9 122.0h0M55.7 148.2h0M88.0 136.9h0M85.3 138.0h0M106.1 128.4h0M49.6 150.4h0M104.2 127.7h0M66.4 144.6h0M82.2 138.7h0M74.9 142.1h0M89.3 135.9h0M109.5 126.0h0M62.4 145.8h0M81.2 138.5h0M85.5 137.3h0M93.3 134.0h0M79.3 139.2h0M49.6 149.6h0M114.4 123.1h0M72.8 141.2h0M64.9 144.0h0M101.4 130.6h0M74.6 141.0h0M59.0 146.4h0M110.7 126.0h0M112.7 125.1h0M54.5 148.4h0M105.8 128.4h0M80.0 139.3h0M58.4 146.8h0M122.9 117.5h0M67.5 143.8h0M100.2 130.6h0M108.3 127.2h0M51.5 149.5h0M64.4 144.9h0M71.3 143.0h0M83.8 138.1h0M67.5 143.5h0M50.8 149.8h0M72.5 141.5h0M54.2 148.5h0M73.0 141.8h0M79.3 140.2h0M50.4 150.2h0M55.7 148.2h0M90.7 136.1h0M82.2 139.0h0M115.1 123.5h0M57.2 147.4h0M96.4 132.5h0M53.9 148.0h0M105.6 128.8h0M63.5 145.2h0M95.3 133.5h0M100.4 131.5h0M88.5 136.5h0M88.7 135.8h0M78.0 140.4h0M71.8 142.5h0M125.2 115.9h0M112.3 124.2h0M124.8 115.0h0M94.0 134.5h0M62.9 146.0h0M63.7 145.0h0M56.5 147.5h0M86.5 136.4h0M52.8 150.2h0M79.8 139.6h0M103.8 128.5h0M80.6 138.9h0M65.1 144.7h0M110.4 126.0h0M114.4 124.0h0M106.1 128.2h0M117.1 122.3h0M86.7 137.4h0M111.9 124.3h0M101.9 130.4h0M94.1 134.1h0M57.6 148.1h0M67.0 143.7h0M114.9 123.2h0M81.0 139.3h0M80.2 139.8h0M80.1 139.9h0M67.2 144.0h0M56.8 147.0h0M89.1 136.4h0M122.5 118.0h0M118.4 121.8h0M50.5 149.0h0M103.0 129.0h0M60.9 145.9h0M81.1 139.8h0M94.5 132.9h0M97.1 132.3h0M93.4 134.7h0M78.9 140.2h0M105.2 128.5h0M102.0 130.1h0M83.8 138.1h0M74.8 141.8h0M112.2 125.3h0M118.3 121.0h0M87.7 137.3h0M124.5 115.9h0M99.5 132.6h0M63.3 145.6h0M50.0 149.9h0M121.6 118.2h0M109.8 125.7h0M72.8 141.8h0M99.6 131.0h0M97.3 132.4h0M75.9 141.0h0M52.7 149.2h0M104.8 128.9h0M95.3 133.1h0M79.5 140.2h0M53.8 148.4h0M88.0 136.5h0M106.7 127.3h0M57.5 146.6h0M124.6 116.0h0M117.0 121.2h0M120.5 118.6h0M68.3 143.2h0M72.6 141.4h0" stroke="#e64a48" stroke-width="1.8" stroke-linecap="round" fill="none"/>
<path d="M254.5 44.4h0M261.7 37.7h0M261.4 37.3h0M258.0 40.0h0M252.1 41.3h0M255.5 29.6h0M253.7 36.8h0M253.7 36.3h0M254.3 30.7h0M260.5 40.3h0M258.0 39.0h0M257.3 39.0h0M252.7 34.2h0M257.3 43.9h0M257.9 46.2h0M251.6 39.0h0M254.6 44.7h0M263.7 38.0h0M259.9 39.1h0M253.1 39.6h0M252.9 45.9h0M259.3 44.6h0M258.4 30.7h0M260.2 40.4h0M247.6 40.4h0M261.0 46.6h0M253.0 43.0h0M258.3 39.4h0M255.9 42.0h0M259.3 42.5h0M255.4 35.0h0M262.2 45.0h0M254.8 39.9h0M260.2 33.3h0M259.0 49.3h0M258.1 37.3h0M265.0 40.1h0M257.8 38.4h0M257.7 33.1h0M252.0 34.4h0M260.5 39.7h0M261.5 32.2h0M254.6 45.6h0M253.9 32.9h0M254.1 38.7h0M256.9 45.0h0M262.2 46.0h0M259.3 38.1h0M255.1 34.3h0M262.0 44.8h0M257.4 36.6h0M259.7 41.9h0M257.6 35.6h0M257.9 37.8h0M259.9 42.3h0M258.7 38.4h0M263.0 43.0h0M262.0 43.2h0M259.6 41.5h0M252.8 33.0h0M253.3 42.4h0M260.6 40.7h0M257.4 47.0h0M255.4 33.2h0M250.9 38.8h0M259.8 42.8h0M256.1 43.1h0M256.8 37.2h0M255.5 42.9h0M260.7 35.7h0M253.1 40.5h0M265.3 35.5h0M252.1 41.6h0M259.0 37.7h0M256.9 41.9h0M250.2 39.9h0M259.4 43.5h0M261.6 39.7h0M251.3 45.2h0M260.0 37.6h0M261.1 44.0h0M256.5 31.0h0M255.2 37.1h0M253.7 39.7h0M252.8 41.5h0M264.4 35.4h0M261.1 38.0h0M259.1 39.5h0M262.0 37.3h0M259.9 37.0h0M257.9 39.9h0M261.3 34.0h0M251.7 45.3h0M258.5 46.5h0M253.0 40.8h0M259.4 46.8h0M256.8 38.3h0M259.8 39.6h0M254.1 42.9h0M249.5 36.1h0M262.3 38.1h0M255.7 41.4h0M261.4 42.0h0M253.2 37.8h0M261.1 39.5h0M254.5 43.4h0M261.5 48.3h0M252.8 37.3h0M254.3 41.4h0M255.1 44.3h0M255.6 40.6h0M248.4 53.2h0M266.3 41.2h0M262.7 45.7h0M254.7 47.7h0M259.0 51.2h0M249.6 56.2h0M264.1 42.6h0M239.2 48.2h0M258.6 40.9h0M238.1 52.2h0M257.6 42.1h0M251.7 41.1h0M263.9 46.0h0M260.6 43.6h0M263.6 49.1h0M258.6 44.6h0M255.5 40.2h0M254.6 50.1h0M244.6 54.5h0M260.7 42.6h0M244.7 51.5h0M246.9 51.9h0M248.5 52.7h0M255.9 53.9h0M255.0 44.5h0M262.4 42.9h0M243.9 53.2h0M255.2 52.6h0M253.1 36.8h0M262.4 40.8h0M245.5 50.6h0M262.2 50.0h0M251.6 52.1h0M259.1 40.5h0M254.7 49.2h0M261.0 40.4h0M247.3 43.5h0M261.1 48.7h0M242.7 52.1h0M240.9 52.5h0M245.3 47.3h0M245.9 55.4h0M268.0 42.2h0M261.7 51.3h0M255.5 41.6h0M251.2 55.8h0M237.8 54.4h0M266.7 42.0h0M256.1 45.8h0M247.1 47.6h0M262.5 51.9h0M248.3 56.2h0M263.1 48.4h0M252.7 43.3h0M241.4 55.5h0M257.1 38.2h0M238.1 51.4h0M244.9 47.8h0M264.5 43.7h0M253.4 50.6h0M243.3 49.8h0M243.2 51.6h0M254.4 39.8h0M263.2 38.1h0M257.6 54.9h0M262.2 46.3h0M267.8 43.4h0M266.4 40.4h0M240.9 54.7h0M256.8 38.2h0M262.9 51.9h0M247.5 51.1h0M250.5 52.5h0M238.4 56.5h0M249.7 53.7h0M252.6 53.9h0M246.9 48.0h0M239.6 54.9h0M259.4 45.4h0M260.2 52.0h0M257.0 36.3h0M267.5 45.6h0M256.6 53.9h0M267.5 42.0h0M256.2 38.9h0M240.4 57.0h0M238.4 51.3h0M253.3 46.8h0M241.8 47.3h0M263.5 38.9h0M265.9 45.2h0M252.2 50.2h0M253.9 47.3h0M267.4 46.7h0M261.1 52.7h0M247.0 52.0h0M243.8 48.2h0M256.6 53.1h0M260.9 52.4h0M258.4 53.1h0M254.0 48.4h0M258.6 49.0h0M253.3 52.7h0M255.9 38.8h0M251.1 45.3h0M251.3 48.3h0M248.9 44.6h0M251.1 44.2h0M237.6 51.9h0M250.0 45.9h0M256.5 44.1h0M246.4 46.2h0M260.0 53.5h0M252.5 44.5h0M244.7 53.6h0M240.8 49.1h0M252.2 39.2h0M239.0 52.1h0M239.3 53.8h0M259.0 46.4h0M257.3 38.2h0M256.4 45.3h0M245.2 56.4h0M261.1 38.7h0M244.6 43.5h0M255.9 43.1h0M251.5 53.9h0M243.0 51.8h0M247.9 56.8h0M268.4 43.2h0M257.0 38.4h0M250.5 49.7h0M258.1 43.5h0M255.5 39.8h0M247.1 49.6h0M266.7 47.3h0M245.4 48.9h0M246.1 53.2h0M251.5 56.0h0M248.0 44.7h0M262.1 44.9h0M252.7 44.7h0M251.0 56.3h0M254.3 51.0h0M249.6 42.0h0M241.5 55.5h0M248.9 51.4h0M252.2 47.6h0M248.1 51.0h0M279.7 30.9h0M278.7 27.4h0M283.5 32.1h0M282.2 37.3h0M275.8 30.0h0M280.0 33.9h0M279.1 34.2h0M282.2 25.0h0M276.7 24.1h0M278.6 29.6h0M282.9 31.6h0M279.7 35.3h0M282.9 26.8h0M276.6 32.1h0M288.3 30.3h0M279.2 31.9h0M283.8 30.7h0M281.4 29.6h0M277.3 28.3h0M283.2 29.1h0M282.7 32.4h0M284.8 21.9h0M275.3 26.9h0M279.2 33.7h0M292.4 36.2h0M286.6 32.3h0M278.1 32.8h0M269.4 34.2h0M280.0 33.1h0M275.0 27.3h0M276.9 30.9h0M281.7 29.8h0M281.7 33.3h0M274.3 30.7h0M272.4 29.1h0M284.4 28.6h0M289.1 32.7h0M284.3 31.4h0M284.2 34.7h0M280.5 29.2h0M277.3 37.6h0M279.1 29.4h0M276.5 25.3h0M277.6 32.1h0M277.6 28.4h0M282.0 32.6h0M277.9 32.0h0M275.2 33.9h0M275.2 29.9h0M280.7 29.6h0M274.4 38.1h0M287.4 25.1h0M280.6 26.7h0M281.5 26.6h0M282.8 32.8h0M288.3 35.1h0M277.8 34.2h0M277.8 30.6h0M277.6 25.0h0M282.9 24.1h0M278.8 32.8h0M280.6 25.6h0M276.8 33.3h0M285.4 36.4h0M271.1 32.6h0M277.6 33.6h0M271.8 30.5h0M283.5 28.8h0M278.2 27.7h0M285.4 26.5h0M275.5 29.9h0M278.5 38.2h0M281.3 28.2h0M282.8 32.2h0M281.4 30.8h0M282.3 27.0h0M274.1 29.5h0M274.6 33.4h0M289.5 35.2h0M282.2 32.2h0M276.7 26.6h0M282.7 26.0h0M281.5 30.5h0M283.7 31.2h0M280.5 29.0h0M271.6 29.8h0M283.4 34.6h0M286.7 27.6h0M275.4 33.4h0M277.8 39.8h0M281.5 25.8h0M277.3 36.4h0M271.1 31.5h0M273.2 36.5h0M277.8 27.5h0M271.7 28.6h0M267.5 29.4h0M290.7 31.3h0M278.7 27.0h0M281.7 29.4h0M275.9 35.7h0M282.1 28.0h0M287.2 30.8h0M282.5 31.5h0M285.8 33.1h0M278.3 33.4h0M278.1 31.5h0M288.0 27.4h0M274.9 29.6h0M277.6 35.4h0M300.6 55.1h0M277.9 26.9h0M279.5 28.3h0M287.4 38.0h0M291.9 48.4h0M289.5 38.0h0M293.8 53.6h0M293.1 44.8h0M285.4 37.4h0M290.1 33.4h0M297.7 61.2h0M297.5 58.6h0M286.1 33.0h0M281.2 38.2h0M278.9 27.0h0M288.4 40.4h0M300.4 61.1h0M291.2 29.8h0M292.6 39.9h0M275.5 29.1h0M301.9 58.0h0M287.5 37.0h0M293.6 52.8h0M297.1 42.4h0M288.8 31.9h0M299.6 43.6h0M289.3 43.2h0M293.1 31.3h0M297.7 61.3h0M294.4 50.0h0M282.3 26.7h0M284.4 35.5h0M277.5 29.0h0M292.7 39.0h0M295.7 33.4h0M291.8 40.8h0M294.5 44.9h0M289.9 42.9h0M301.8 48.3h0M281.2 34.9h0M290.5 55.5h0M300.1 43.5h0M291.2 60.7h0M294.1 51.2h0M299.8 52.8h0M290.6 34.1h0M297.5 42.5h0M300.8 40.3h0M290.2 47.7h0M286.5 27.5h0M295.2 41.6h0M287.2 42.8h0M299.5 62.7h0M293.8 54.0h0M296.8 52.9h0M290.6 38.5h0M281.6 40.0h0M299.0 58.6h0M296.1 57.6h0M297.1 59.2h0M287.0 35.4h0M301.5 42.6h0M294.9 58.1h0M295.0 63.1h0M294.3 35.1h0M281.1 39.7h0M284.5 31.1h0M301.9 45.8h0M292.8 46.8h0M294.8 39.5h0M292.8 61.5h0M293.9 48.9h0M273.4 29.9h0M280.7 30.9h0M293.7 50.6h0M296.6 50.8h0M283.2 36.8h0M276.3 36.6h0M286.8 28.4h0M288.9 51.5h0M301.4 57.7h0M274.9 30.5h0M279.1 35.8h0M282.2 39.0h0M293.9 45.7h0M298.9 44.3h0M286.5 48.5h0M290.2 52.9h0M290.5 50.8h0M282.7 28.8h0M297.8 62.2h0M296.4 59.3h0M291.9 35.3h0M282.8 30.0h0M295.7 33.4h0M275.2 37.1h0M290.8 51.5h0M294.3 34.4h0M287.6 32.8h0M278.5 31.9h0M298.5 52.2h0M273.7 34.8h0M289.3 47.2h0M271.8 29.8h0M288.5 50.0h0M287.4 39.6h0M300.3 41.8h0M294.9 47.5h0M293.2 51.5h0M294.6 34.7h0M288.6 43.6h0M286.2 43.1h0M292.9 55.0h0M295.8 36.6h0M291.7 45.8h0M300.2 43.9h0M282.1 27.0h0M285.6 47.3h0M280.6 30.2h0M286.0 28.8h0M287.4 41.5h0M279.7 40.1h0M283.4 41.4h0M300.9 43.6h0M290.9 49.8h0M296.7 39.4h0M287.6 49.3h0M282.4 37.0h0M295.3 54.5h0M298.6 40.3h0M296.2 44.9h0M298.6 45.1h0M279.0 32.0h0M286.4 28.0h0M285.5 30.3h0M293.4 46.4h0M300.6 49.8h0M276.1 35.6h0M289.1 44.4h0M285.6 31.6h0M293.3 47.5h0M283.0 44.0h0M298.6 44.0h0M276.8 37.2h0M289.9 29.8h0M294.3 42.9h0M272.5 29.5h0M287.0 47.6h0M284.8 39.1h0M296.7 53.7h0M274.7 30.2h0M272.6 36.5h0M294.6 44.9h0M301.9 50.0h0M274.7 34.6h0M298.8 48.5h0M289.8 50.6h0M294.9 46.7h0M274.5 34.9h0M274.3 36.0h0M295.7 47.9h0M289.0 35.5h0M282.4 43.4h0M290.8 33.2h0M289.0 38.9h0M296.4 44.7h0M290.5 37.5h0M287.5 34.9h0M294.7 46.0h0M282.0 36.1h0M296.9 62.1h0M292.1 39.5h0M295.4 53.2h0M289.1 30.1h0M277.7 36.3h0M285.5 46.7h0M300.0 45.5h0M286.8 45.0h0M299.7 56.5h0M292.7 49.9h0M291.2 46.0h0M296.9 50.1h0M272.4 31.0h0M299.0 47.8h0M299.7 60.6h0M291.0 58.3h0M296.1 39.7h0M300.6 50.7h0M288.9 33.3h0M281.3 32.0h0M285.4 27.8h0M291.4 51.9h0M299.0 56.7h0M286.3 29.3h0M292.8 32.9h0M301.5 47.6h0M299.0 45.7h0M293.0 44.4h0M293.2 35.1h0M280.5 29.4h0M271.2 86.5h0M276.2 76.1h0M271.1 77.9h0M272.0 57.7h0M276.0 55.4h0M267.1 85.8h0M273.1 71.5h0M276.3 70.7h0M268.8 73.2h0M260.5 64.8h0M280.9 77.5h0M266.5 83.8h0M275.0 75.4h0M277.1 61.2h0M279.2 72.8h0M277.4 85.3h0M265.9 67.2h0M268.3 53.2h0M280.1 78.8h0M271.3 72.9h0M268.2 78.8h0M272.3 70.9h0M266.0 59.4h0M275.4 64.3h0M271.8 54.4h0M268.3 53.1h0M271.5 90.2h0M277.5 65.3h0M281.9 77.1h0M268.9 67.9h0M274.0 72.1h0M280.0 87.6h0M277.9 77.2h0M275.1 53.1h0M268.4 69.9h0M274.6 52.6h0M272.9 81.0h0M278.2 89.8h0M276.5 73.0h0M279.0 83.9h0M274.5 78.1h0M264.1 64.2h0M267.5 86.1h0M278.0 62.2h0M261.4 63.8h0M268.2 66.3h0M279.7 72.4h0M274.5 68.5h0M270.6 90.2h0M266.4 72.1h0M271.0 55.9h0M263.4 71.3h0M278.4 68.1h0M263.4 60.9h0M269.7 81.7h0M270.0 67.6h0M269.3 71.9h0M264.4 55.6h0M272.6 64.8h0M275.6 65.3h0M281.3 62.6h0M270.0 63.3h0M272.3 61.8h0M275.4 67.3h0M276.3 62.2h0M270.5 73.4h0M276.5 77.4h0M269.9 53.6h0M262.6 56.2h0M264.2 57.7h0M275.2 64.3h0M265.7 57.7h0M263.3 78.6h0M273.3 60.6h0M278.6 78.4h0M269.9 75.5h0M275.1 68.5h0M262.1 65.3h0M281.8 65.7h0M274.7 53.7h0M277.8 86.3h0M268.6 65.6h0M271.8 60.6h0M264.8 55.4h0M275.8 71.4h0M280.1 75.9h0M274.3 68.3h0M269.8 56.1h0M272.6 61.5h0M273.2 86.8h0M266.8 74.2h0M266.4 84.9h0M264.8 77.2h0M272.8 63.7h0M261.8 70.4h0M272.0 84.4h0M264.7 57.8h0M267.0 83.7h0M265.3 76.6h0M276.3 70.9h0M262.6 69.9h0M281.6 66.4h0M272.8 67.7h0M271.6 51.8h0M280.3 74.3h0M268.0 61.9h0M279.3 65.9h0M273.9 73.2h0M276.9 56.8h0M260.5 56.9h0M275.0 75.7h0M282.0 70.5h0M279.2 70.0h0M265.0 67.1h0M265.0 79.5h0M264.0 79.0h0M274.2 79.9h0M275.7 66.7h0M280.6 84.7h0M277.6 75.2h0M267.8 84.5h0M275.6 85.3h0M278.4 69.1h0M269.1 83.4h0M275.1 72.7h0M265.2 55.6h0M277.3 78.5h0M269.4 75.0h0M272.7 89.8h0M271.7 72.7h0M270.6 67.3h0M275.9 54.7h0M275.9 89.0h0M277.5 72.8h0M268.1 54.1h0M262.1 72.6h0M280.2 86.4h0M264.2 81.5h0M278.6 70.2h0M279.7 57.8h0M267.7 71.6h0M276.7 68.8h0M266.9 86.4h0M269.0 67.6h0M265.1 70.3h0M276.2 65.2h0M275.2 70.7h0M266.6 72.9h0M261.5 58.6h0M271.9 51.8h0M266.2 71.5h0M264.0 62.9h0M280.8 68.7h0M265.4 75.1h0M262.6 71.8h0M274.9 53.7h0M272.6 63.0h0M277.1 75.9h0M280.9 75.5h0M264.2 57.8h0M276.2 84.0h0M261.4 67.5h0M266.5 69.6h0M280.1 73.5h0M277.1 82.1h0M266.4 76.0h0M268.6 69.9h0M272.2 78.0h0M263.7 63.1h0M268.4 90.0h0M277.5 56.8h0M262.9 65.0h0M261.9 69.8h0M268.0 81.0h0M271.3 90.5h0M279.4 57.2h0M273.0 72.1h0M263.9 63.5h0M265.1 58.2h0M274.1 63.6h0M277.7 74.1h0M279.5 71.3h0M274.5 60.0h0M276.0 67.1h0M276.6 74.5h0M263.2 62.6h0M274.5 72.9h0M276.4 63.8h0M271.0 70.0h0M271.7 60.9h0M273.6 60.9h0M264.7 59.7h0M280.6 65.3h0M280.2 80.9h0M266.2 73.3h0M274.5 54.7h0M271.9 70.8h0M275.4 62.2h0M280.9 76.1h0M280.3 62.8h0M276.4 86.1h0M279.2 60.4h0M278.4 78.8h0M270.7 87.9h0M282.1 74.1h0M276.9 78.2h0M269.2 70.9h0M271.7 59.1h0M266.0 85.5h0M279.5 79.3h0M275.8 71.4h0M273.2 78.0h0M270.8 53.3h0M265.9 84.6h0M278.4 86.5h0M268.5 68.9h0M281.9 72.9h0M275.7 54.6h0M260.1 61.1h0M275.6 58.1h0M276.3 63.4h0M272.1 53.2h0M279.2 83.1h0M273.4 79.0h0M267.8 55.4h0M267.5 81.1h0M273.0 55.7h0M265.5 70.0h0M270.3 55.6h0M277.2 83.4h0M270.9 108.6h0M270.8 104.0h0M283.4 114.2h0M279.9 107.2h0M277.2 117.9h0M281.1 113.6h0M272.7 105.3h0M275.8 110.4h0M270.0 95.0h0M275.1 88.6h0M269.6 106.0h0M266.0 92.6h0M281.7 120.1h0M278.3 99.4h0M278.8 96.8h0M274.5 96.1h0M283.2 112.0h0M279.2 111.6h0M281.1 107.6h0M277.0 106.7h0M280.6 108.3h0M270.1 107.6h0M268.7 88.2h0M275.2 110.2h0M276.7 105.5h0M275.2 114.2h0M281.3 113.8h0M266.6 97.8h0M270.9 101.5h0M274.8 99.2h0M273.1 101.3h0M272.1 88.3h0M268.4 100.9h0M273.0 97.4h0M279.1 100.5h0M280.6 121.4h0M270.5 98.0h0M276.1 90.0h0M270.2 104.1h0M285.4 116.4h0M255.0 44.2h0M246.4 64.9h0M248.9 40.6h0M292.2 47.1h0M252.6 53.5h0M293.1 34.6h0M292.1 64.5h0M292.7 50.5h0M246.6 34.6h0M288.1 62.0h0M290.6 41.3h0M261.0 42.2h0M253.4 76.6h0M246.4 59.3h0M259.7 79.2h0M287.8 73.8h0M256.0 30.9h0M283.0 74.5h0M298.7 52.2h0M275.7 71.6h0M275.5 79.5h0M273.9 30.2h0M277.4 55.7h0M264.4 54.4h0M257.5 48.9h0M271.8 84.7h0M251.7 62.6h0M267.6 39.3h0M283.8 51.2h0M250.9 66.2h0M268.7 87.6h0M284.5 78.6h0M278.8 78.4h0M279.4 68.0h0M255.6 34.1h0M287.0 76.7h0M284.7 45.1h0M273.7 79.5h0M276.6 33.0h0M269.6 72.8h0M296.9 33.2h0M275.1 81.3h0M301.3 50.9h0M256.7 37.7h0M257.4 56.1h0" stroke="#0f9f58" stroke-width="1.8" stroke-linecap="round" fill="none"/>
<path d="M285.0 212.8h0M272.4 214.2h0M261.2 189.9h0M293.7 145.4h0M250.3 179.1h0M269.6 138.5h0M259.3 143.6h0M265.6 166.5h0M271.8 214.8h0M291.1 145.2h0M270.8 165.4h0M276.3 157.0h0M262.0 179.2h0M257.1 182.3h0M232.5 170.5h0M267.9 197.8h0M226.2 151.8h0M239.7 164.9h0M299.5 143.5h0M277.2 204.9h0M291.0 148.2h0M276.5 192.4h0M307.3 156.8h0M282.1 172.1h0M260.4 174.3h0M248.6 150.2h0M301.4 165.7h0M285.4 172.8h0M245.6 182.3h0M253.7 170.4h0M271.0 216.6h0M269.6 182.2h0M266.2 198.5h0M284.0 181.0h0M236.0 173.6h0M230.1 150.8h0M236.3 171.7h0M244.3 153.8h0M279.1 211.9h0M274.4 175.9h0M254.8 178.9h0M266.7 177.0h0M296.7 145.6h0M266.7 173.2h0M259.4 176.7h0M269.0 149.8h0M241.2 175.1h0M226.4 155.5h0M266.0 153.9h0M235.2 155.9h0M287.4 183.2h0M235.9 159.4h0M289.1 174.7h0M242.4 156.9h0M275.5 178.5h0M290.7 179.4h0M266.2 147.4h0M288.5 171.4h0M275.6 215.9h0M293.2 163.7h0M288.3 184.9h0M288.1 173.0h0M247.4 157.5h0M262.0 173.0h0M261.6 165.3h0M283.2 199.7h0M286.1 162.3h0M261.8 158.5h0M257.0 179.3h0M269.7 160.1h0M285.9 193.0h0M269.4 154.7h0M280.7 177.7h0M270.7 204.9h0M279.4 213.2h0M282.9 211.0h0M289.2 168.0h0M269.4 200.2h0M273.2 194.9h0M253.9 185.7h0M287.5 167.3h0M282.9 210.1h0M256.3 179.1h0M247.8 159.5h0M258.2 189.5h0M267.7 195.9h0M257.7 182.9h0M274.8 173.6h0M227.3 156.2h0M253.5 189.3h0M239.6 175.8h0M247.9 182.3h0M283.4 178.5h0M288.7 187.1h0M266.0 198.2h0M304.6 164.8h0M297.2 154.9h0M280.2 136.5h0M295.1 172.6h0M263.5 176.8h0M256.5 154.9h0M283.8 187.4h0M229.4 158.2h0M304.2 159.2h0M249.8 183.4h0M244.0 150.0h0M262.7 159.3h0M282.3 208.6h0M234.4 161.4h0M236.2 171.4h0M260.6 188.7h0M236.7 149.6h0M289.8 141.5h0M277.5 137.9h0M277.7 166.0h0M261.2 172.3h0M297.6 168.8h0M284.8 203.8h0M270.1 167.8h0M282.1 191.2h0M266.4 143.5h0M265.5 182.1h0M293.3 176.5h0M265.3 175.7h0M256.8 191.2h0M257.3 164.8h0M261.7 185.6h0M286.0 197.7h0M260.7 145.7h0M286.3 153.8h0M267.3 178.2h0M255.8 176.1h0M278.2 216.1h0M302.2 150.5h0M290.5 167.3h0M275.7 182.2h0M287.8 160.7h0M282.6 166.3h0M291.5 176.5h0M279.8 204.1h0M300.7 167.6h0M255.7 170.4h0M256.0 164.1h0M279.5 160.6h0M257.3 176.9h0M243.4 156.6h0M262.9 188.5h0M255.2 183.2h0M240.5 180.4h0M252.5 157.5h0M287.9 165.6h0M274.2 192.2h0M271.5 210.4h0M277.3 169.4h0M275.6 136.8h0M277.9 169.8h0M273.7 204.1h0M251.3 156.6h0M247.6 179.4h0M304.9 150.1h0M249.4 166.6h0M279.3 165.0h0M281.9 148.3h0M286.5 147.0h0M283.6 149.2h0M259.7 140.6h0M232.3 164.9h0M274.6 177.9h0M280.7 176.7h0M250.4 169.3h0M254.2 171.5h0M259.0 153.2h0M240.8 175.2h0M249.0 183.4h0M290.7 145.5h0M266.2 151.4h0M279.9 191.6h0M243.6 154.9h0M250.6 162.9h0M292.2 168.3h0M263.8 152.5h0M232.6 168.3h0M250.5 176.0h0M268.6 201.7h0M286.3 197.0h0M247.2 156.6h0M275.7 140.0h0M266.8 165.6h0M290.7 145.6h0M299.1 162.4h0M270.5 184.1h0M284.9 203.1h0M246.3 177.4h0M271.1 183.8h0M263.0 149.0h0M277.9 211.0h0M229.6 163.3h0M236.4 150.3h0M270.8 173.3h0M269.8 156.8h0M237.7 168.9h0M239.0 174.0h0M299.4 162.5h0M289.3 175.6h0M300.7 148.1h0M262.0 178.0h0M297.1 167.1h0M242.2 147.5h0M304.0 161.3h0M283.7 171.6h0M233.8 166.0h0M272.3 213.4h0M304.1 166.8h0M283.7 195.7h0M280.6 137.9h0M283.4 198.5h0M241.3 143.8h0M287.3 171.1h0M240.4 171.0h0M276.5 206.6h0M300.8 162.6h0M283.4 189.1h0M278.1 203.4h0M281.6 143.7h0M248.6 175.8h0M286.4 182.7h0M288.7 180.7h0M228.5 154.1h0M280.2 145.6h0M279.6 164.5h0M262.9 180.0h0M276.6 142.5h0M283.3 149.6h0M293.1 174.8h0M284.1 142.9h0M256.0 149.7h0M263.7 147.6h0M265.2 144.1h0M286.7 153.5h0M304.5 144.8h0M278.6 188.8h0M271.6 186.5h0M240.6 175.1h0M245.6 163.4h0M265.5 178.1h0M263.6 159.9h0M263.3 140.3h0M289.5 152.2h0M251.9 142.3h0M251.9 178.7h0M288.9 177.5h0M273.1 139.6h0M272.1 184.9h0M234.9 163.5h0M240.2 173.8h0M302.8 150.3h0M254.5 186.5h0M283.7 173.8h0M269.9 204.9h0M285.7 170.1h0M284.5 182.2h0M293.5 157.8h0M301.7 161.7h0M291.4 166.4h0M263.8 184.1h0M293.4 170.1h0M301.4 153.8h0M269.2 147.9h0M239.4 159.8h0M277.6 168.4h0M283.0 143.0h0M257.0 191.1h0M289.8 158.8h0M252.8 178.9h0M296.8 144.1h0M275.3 169.4h0M257.3 169.3h0M285.8 172.3h0M285.6 207.9h0M305.0 151.9h0M294.2 169.2h0M261.3 185.2h0M288.7 157.0h0M259.2 170.2h0M285.2 159.4h0M255.1 177.3h0M245.0 171.2h0M288.5 177.4h0M229.6 164.6h0M273.4 155.0h0M257.8 181.9h0M255.8 151.0h0M302.0 143.8h0M272.0 180.7h0M259.7 187.3h0M300.1 162.2h0M229.9 152.4h0M289.0 167.9h0M273.2 210.9h0M238.5 164.1h0M283.7 210.4h0M250.1 151.3h0M285.5 210.9h0M260.1 141.4h0M293.7 157.0h0M286.0 176.1h0M262.6 138.5h0M259.0 179.8h0M247.9 167.3h0M264.5 159.7h0M278.2 142.6h0M243.8 159.1h0M255.9 176.2h0M301.7 144.3h0M273.7 187.2h0M246.7 165.1h0M291.0 175.3h0M230.7 165.3h0M294.4 171.6h0M258.1 188.4h0M283.2 145.2h0M247.1 179.5h0M254.3 181.3h0M258.1 164.2h0M264.6 166.0h0M298.7 166.1h0M282.7 150.5h0M271.0 158.1h0M302.6 166.1h0M253.9 181.2h0M277.5 147.5h0M280.0 160.9h0M289.8 179.2h0M261.8 177.1h0M246.2 185.9h0M255.0 185.8h0M301.3 169.7h0M296.0 174.4h0M262.4 138.5h0M252.2 174.8h0M273.6 154.2h0M279.8 188.4h0M250.0 144.4h0M249.5 153.5h0M276.3 170.9h0M254.8 176.7h0M265.0 151.4h0M282.1 204.4h0M280.5 136.9h0M236.0 177.4h0M283.0 179.8h0M284.8 149.6h0M276.0 179.0h0M286.4 145.2h0M299.1 151.1h0M286.2 167.0h0M284.5 193.3h0M262.1 174.3h0M285.7 148.4h0M301.1 163.2h0M300.4 147.9h0M245.3 172.1h0M274.5 142.7h0M285.8 180.9h0M280.6 203.8h0M268.0 159.8h0M281.5 187.9h0M268.4 173.3h0M303.1 166.9h0M238.0 176.4h0M266.6 167.8h0M291.8 156.5h0M307.5 153.4h0M248.1 169.5h0M264.8 156.2h0M303.6 149.0h0M287.9 180.9h0M283.0 157.4h0M259.0 141.3h0M251.7 151.2h0M270.7 209.5h0M279.8 145.0h0M261.6 154.8h0M294.0 170.3h0M250.1 172.8h0M270.8 189.2h0M253.3 187.6h0M272.2 195.6h0M273.6 193.2h0M258.0 148.1h0M255.8 162.7h0M269.5 175.4h0M284.8 141.5h0M268.1 215.3h0M298.0 169.5h0M254.1 171.6h0M290.4 173.9h0M288.6 178.1h0M288.0 176.5h0M274.3 170.5h0M273.2 181.8h0M304.0 155.9h0M290.8 156.9h0M285.6 159.1h0M275.5 199.6h0M269.4 156.0h0M251.0 181.5h0M287.9 150.6h0M230.8 155.0h0M278.9 169.1h0M256.1 184.3h0M279.9 155.4h0M281.6 147.4h0M277.2 167.0h0M283.8 198.3h0M282.7 153.9h0M241.1 156.0h0M266.5 147.8h0M259.6 194.2h0M246.8 175.2h0M298.4 166.1h0M256.3 180.4h0M236.8 169.8h0M271.3 166.3h0M285.5 154.0h0M276.6 170.2h0M289.7 171.8h0M263.4 152.8h0M256.4 182.1h0M256.2 157.8h0M261.7 148.5h0M299.2 148.6h0M244.3 148.9h0M272.5 199.8h0M284.6 204.2h0M260.7 171.8h0M232.8 157.5h0M299.0 159.4h0M303.2 147.5h0M251.3 156.1h0M271.7 153.4h0M299.1 170.5h0M250.0 144.6h0M285.2 181.9h0M247.9 156.3h0M254.8 184.0h0M243.6 174.1h0M274.3 161.0h0M276.3 180.4h0M260.1 148.1h0M271.3 184.6h0M278.1 208.6h0M276.6 199.3h0M261.8 149.1h0M265.7 194.5h0M268.9 213.5h0M261.1 180.4h0M290.6 155.1h0M273.0 147.1h0M269.2 199.3h0M229.6 148.2h0M275.5 191.5h0M276.1 211.7h0M270.6 164.8h0M258.6 168.4h0M300.0 159.4h0M283.8 182.5h0M246.6 160.6h0M283.9 165.9h0M253.5 181.1h0M298.7 143.2h0M243.8 171.0h0M295.8 161.3h0M276.1 215.7h0M301.8 158.5h0M243.0 168.1h0M263.0 149.7h0M262.3 166.2h0M282.6 159.5h0M233.9 151.0h0M247.2 151.7h0M273.4 161.8h0M277.5 180.3h0M256.1 180.6h0M239.1 154.6h0M263.2 180.6h0M299.5 143.9h0M269.0 185.2h0M296.3 162.8h0M276.5 214.1h0M253.6 189.3h0M287.0 191.8h0M282.3 167.5h0M285.8 164.8h0M244.6 144.2h0M271.9 150.0h0M248.8 160.4h0M256.5 170.2h0M271.6 168.8h0M271.5 202.8h0M269.3 178.0h0M254.7 151.2h0M242.9 143.3h0M260.2 183.0h0M263.3 187.1h0M282.7 145.9h0M271.6 157.7h0M288.4 166.4h0M229.1 169.7h0M261.7 191.8h0M252.0 142.9h0M247.7 186.9h0M301.0 144.1h0M274.8 168.8h0M249.3 169.9h0M276.8 196.3h0M282.6 171.6h0M253.6 187.4h0M269.9 184.0h0M281.5 175.6h0M266.7 190.4h0M275.9 217.9h0M250.8 176.5h0M272.0 161.0h0M240.0 170.1h0M261.1 171.5h0M246.6 175.4h0M273.7 144.4h0M280.9 194.2h0M241.4 156.4h0M282.3 169.8h0M275.0 185.6h0M268.0 211.8h0M285.0 172.5h0M246.9 146.8h0M279.9 198.7h0M258.3 143.0h0M290.5 168.8h0M300.4 168.0h0M226.8 152.8h0M232.2 159.5h0M258.4 175.5h0M270.1 157.6h0M281.5 140.7h0M251.3 183.7h0M260.2 153.8h0M281.6 160.5h0M257.4 177.6h0M252.2 164.8h0M266.5 190.2h0M249.0 165.5h0M283.6 149.5h0M246.6 151.9h0M267.7 197.2h0M283.3 172.2h0M269.1 146.5h0M245.4 164.2h0M255.2 190.1h0M245.4 155.5h0M241.4 176.0h0M244.2 175.6h0M275.0 136.9h0M281.6 172.7h0M273.5 179.3h0M254.3 143.0h0M287.6 144.1h0M274.8 143.3h0M287.1 163.8h0M256.9 158.4h0M276.3 198.8h0M277.3 216.8h0M284.0 174.0h0M275.1 182.5h0M249.1 161.1h0M267.8 168.4h0M284.9 189.2h0M257.5 158.8h0M261.2 168.3h0M301.3 158.7h0M281.1 184.9h0M274.6 215.3h0M268.7 165.1h0M253.9 189.3h0M237.8 151.5h0M293.1 153.6h0M264.9 155.4h0M258.3 167.5h0M242.8 153.3h0M283.6 161.6h0M233.7 167.6h0M257.6 169.1h0M263.9 168.6h0M244.0 148.5h0M265.0 188.5h0M233.8 175.1h0M254.2 190.6h0M291.5 169.2h0M257.4 142.5h0M293.5 147.4h0M256.0 180.2h0M282.1 163.0h0M266.1 171.8h0M272.7 145.5h0M264.9 160.1h0M239.0 179.0h0M284.6 179.1h0M267.3 190.9h0M273.2 193.0h0M257.4 168.7h0M254.0 155.9h0M248.6 182.3h0M264.0 146.8h0M287.3 179.6h0M301.8 157.5h0M291.6 154.5h0M284.9 167.6h0M264.3 161.7h0M244.1 160.8h0M248.0 151.5h0M299.2 167.1h0M272.6 202.5h0M282.6 148.8h0M296.3 163.0h0M227.5 167.0h0M284.3 180.6h0M262.4 141.9h0M279.0 200.6h0M243.8 156.1h0M290.5 179.3h0M226.4 161.1h0M305.2 158.6h0M249.4 173.0h0M257.6 190.6h0M256.5 188.0h0M297.5 151.3h0M231.5 159.4h0M274.1 189.8h0M249.2 178.3h0M253.1 183.5h0M242.6 181.5h0M240.9 172.4h0M271.6 164.8h0M249.4 177.7h0M288.5 162.5h0M275.7 157.8h0M286.0 176.7h0M251.2 172.7h0M258.7 190.9h0M261.7 184.1h0M276.2 143.3h0M267.9 197.5h0M282.8 146.5h0M259.7 177.8h0M247.6 149.4h0M287.2 185.7h0M272.9 207.6h0M230.2 167.0h0M243.5 184.9h0M244.7 158.1h0M261.4 166.6h0M287.3 148.2h0M286.3 154.6h0M293.5 142.1h0M226.9 149.1h0M274.2 156.3h0M283.4 170.0h0M285.9 156.0h0M261.2 192.0h0M256.4 157.1h0M269.7 213.9h0M232.9 156.6h0M279.5 147.3h0M242.4 147.1h0M268.5 178.3h0M240.4 176.0h0M289.5 181.6h0M301.8 147.0h0M287.6 185.2h0M300.0 163.5h0M246.6 166.5h0M289.9 170.0h0M245.1 167.7h0M282.2 149.2h0M237.5 150.0h0M248.2 186.8h0M261.5 150.2h0M254.6 177.1h0M234.0 165.1h0M267.9 142.9h0M267.5 204.9h0M275.1 146.6h0M278.6 142.8h0M270.0 150.6h0M248.5 145.9h0M301.1 147.9h0M282.3 202.1h0M263.1 183.8h0M283.2 142.4h0M284.8 147.5h0M265.8 151.0h0M266.1 189.7h0M287.3 162.7h0M277.6 198.8h0M279.2 213.8h0M293.6 147.6h0M274.3 206.7h0M290.7 163.2h0M234.3 176.6h0M248.3 168.9h0M280.5 188.0h0M277.4 141.0h0M279.9 208.8h0M288.4 188.0h0M285.9 205.5h0M257.7 153.3h0M289.2 146.7h0M242.0 153.0h0M288.3 156.6h0M300.5 169.8h0M241.2 170.1h0M298.0 170.5h0M273.1 177.9h0M285.8 185.3h0M307.7 150.8h0M249.2 168.1h0M273.9 215.5h0M280.8 211.4h0M284.3 204.9h0M278.8 181.3h0M241.2 178.5h0M228.4 160.9h0M241.5 163.9h0M274.4 158.5h0M289.2 141.5h0M282.5 157.1h0M306.4 163.0h0M281.8 138.4h0M257.2 152.5h0M254.5 141.9h0M280.1 140.9h0M287.5 188.8h0M276.3 147.5h0M270.0 151.4h0M232.1 157.0h0M307.6 162.0h0M248.7 179.1h0M291.2 161.2h0M279.4 138.6h0M275.7 188.2h0M227.2 153.5h0M274.4 147.3h0M291.6 173.0h0M307.6 151.7h0M253.4 187.4h0M248.9 170.6h0M286.4 203.9h0M236.7 150.2h0M282.2 194.8h0M293.6 155.2h0M254.8 185.3h0M242.9 172.2h0M283.1 154.2h0M281.3 168.8h0M280.4 203.4h0M282.7 206.8h0M281.5 199.8h0M270.1 149.2h0M244.9 143.0h0M234.3 168.1h0M249.7 182.2h0M295.4 158.0h0M243.6 152.7h0M256.7 164.3h0M284.5 179.5h0M252.9 148.3h0M243.8 179.0h0M247.5 176.1h0M267.6 157.6h0M234.8 170.4h0M293.9 147.3h0M270.6 202.5h0M273.4 164.4h0M266.0 172.9h0M271.7 178.2h0M300.7 165.0h0M236.0 150.5h0M245.6 143.8h0M292.8 173.2h0M269.2 154.5h0M300.7 170.5h0M265.8 170.8h0M295.2 170.8h0M242.1 175.2h0M250.9 157.1h0M290.6 164.6h0M278.1 160.8h0M276.8 150.3h0M267.5 204.3h0M278.6 150.0h0M226.4 156.8h0M258.9 193.4h0M284.2 207.1h0M304.0 158.3h0M246.0 146.0h0M252.9 144.4h0M266.6 140.7h0M302.5 156.1h0M290.4 152.8h0M247.9 147.2h0M270.4 159.3h0M273.5 194.6h0M244.0 146.8h0M268.7 168.8h0M262.9 166.2h0M238.8 146.1h0M286.8 188.0h0M283.4 188.4h0M268.5 152.1h0M263.8 157.4h0M248.0 155.2h0M250.7 168.5h0M279.6 169.4h0M298.2 148.7h0M297.7 171.8h0M292.3 168.4h0M279.0 195.2h0M269.3 194.3h0M261.9 169.9h0M305.5 152.6h0M239.0 150.1h0M250.6 170.2h0M257.4 173.7h0M227.8 164.0h0M268.1 140.4h0M280.5 213.6h0M273.9 205.1h0M253.1 146.8h0M289.5 180.2h0M264.7 146.5h0M272.0 183.0h0M285.3 210.0h0M252.2 170.1h0M262.4 141.9h0M265.2 148.2h0M257.2 173.0h0M257.8 140.1h0M281.2 160.4h0M304.0 156.4h0M242.5 151.0h0M285.4 212.1h0M242.1 155.5h0M237.0 153.1h0M244.0 170.2h0M245.2 157.8h0M260.5 149.9h0M250.9 169.0h0M261.2 162.3h0M229.4 148.8h0M237.0 153.0h0M253.0 144.4h0M277.3 152.4h0M268.3 192.8h0M267.2 196.8h0M291.3 172.7h0M283.8 166.1h0M249.6 142.9h0M296.7 156.3h0M245.0 185.1h0M285.0 154.4h0M248.1 150.7h0M304.9 164.9h0M255.7 155.0h0M268.5 212.6h0M277.0 207.5h0M241.5 177.6h0M262.5 192.5h0M283.7 172.0h0M269.1 202.4h0M256.1 191.4h0M271.7 205.8h0M245.3 174.3h0M234.0 147.6h0M275.2 199.6h0M254.1 142.5h0M274.7 186.4h0M261.5 158.2h0M254.4 155.1h0M294.1 167.3h0M285.6 181.0h0M244.3 158.9h0M281.9 206.8h0M303.0 148.6h0M246.9 144.1h0M240.9 167.7h0M286.0 211.1h0M275.1 147.9h0M256.9 147.8h0M248.6 183.1h0M267.5 150.1h0M278.5 185.3h0M252.2 160.5h0M280.5 214.4h0M278.9 139.9h0M240.6 170.6h0M280.3 191.4h0M258.6 192.2h0M306.3 156.5h0M282.1 153.2h0M234.8 164.0h0M305.4 160.2h0M230.2 163.4h0M266.4 166.5h0M233.1 172.3h0M295.9 148.6h0M230.4 152.9h0M292.4 150.6h0M292.1 141.7h0M239.4 171.8h0M266.1 180.5h0M255.0 141.9h0M271.9 149.6h0M280.1 190.8h0M276.4 152.5h0M254.1 152.5h0M280.6 205.8h0M239.0 152.2h0M267.5 152.8h0M242.0 149.7h0M275.0 213.7h0M264.8 181.8h0M284.4 206.4h0M307.2 163.3h0M276.4 208.4h0M234.9 146.8h0M235.1 165.7h0M260.2 189.9h0M274.1 169.7h0M257.4 157.7h0M225.2 157.0h0M286.4 201.5h0M283.3 172.2h0M259.8 151.5h0M274.9 169.1h0M270.4 176.4h0M249.8 170.3h0M300.7 159.6h0M263.6 154.2h0M306.0 147.2h0M264.1 173.7h0M267.4 174.9h0M252.4 164.5h0M243.5 179.6h0M267.2 188.2h0M289.2 175.9h0M302.2 165.3h0M271.0 201.4h0M239.0 176.7h0M306.3 154.0h0M261.2 145.9h0M297.7 158.3h0M264.3 156.3h0M275.0 194.0h0M273.7 183.9h0M226.5 149.7h0M297.0 156.2h0M273.5 189.1h0M277.4 208.1h0M301.4 161.9h0M300.8 161.9h0M283.1 149.0h0M279.1 160.6h0M280.1 137.4h0M264.0 145.5h0M278.9 180.5h0M273.7 186.7h0M247.2 148.6h0M241.9 176.7h0M236.9 152.9h0M269.4 192.3h0M251.6 152.9h0M235.5 165.8h0M245.3 163.9h0M288.3 153.0h0M302.7 161.9h0M248.9 173.7h0M304.6 151.1h0M281.7 150.2h0M249.8 141.2h0M268.6 142.2h0M274.0 157.8h0M242.9 181.8h0M268.2 210.1h0M239.4 174.2h0M262.9 166.9h0M240.7 167.4h0M271.1 151.9h0M252.1 179.2h0M268.9 164.2h0M234.7 174.9h0M277.3 164.8h0M276.4 201.0h0M278.3 208.6h0M270.9 206.9h0M274.0 206.7h0M273.0 214.6h0M272.6 211.7h0M277.9 215.0h0M276.7 208.0h0M277.2 199.0h0M287.7 207.0h0M275.5 202.6h0M276.3 215.8h0M273.5 210.2h0M281.6 212.6h0M275.1 199.7h0M278.8 210.8h0M275.5 206.0h0M284.8 200.5h0M274.6 205.1h0M269.9 204.7h0M273.3 214.0h0M269.1 201.5h0M278.1 200.7h0M267.9 205.1h0M271.5 203.4h0M276.2 210.2h0M274.0 206.7h0M280.1 207.3h0M280.2 205.3h0M279.1 214.1h0M270.7 222.3h0M275.5 206.4h0M276.2 210.3h0M271.5 208.2h0M274.3 214.8h0M269.2 211.1h0M275.5 204.5h0M277.5 206.9h0M277.1 209.2h0M282.3 206.1h0M284.4 195.2h0M285.1 213.8h0M283.9 209.0h0M278.2 203.3h0M282.9 202.6h0M273.3 208.1h0M278.0 209.7h0M271.7 206.4h0M279.1 213.7h0M280.4 210.0h0M275.7 205.5h0M274.6 207.6h0M279.3 205.7h0M286.1 203.3h0M280.6 207.1h0M276.3 206.3h0M283.8 206.7h0M279.4 208.6h0M280.3 210.8h0M284.3 204.6h0M273.2 216.1h0M282.6 208.4h0M275.6 209.3h0M282.8 204.4h0M283.4 207.8h0M275.3 206.2h0M267.5 209.6h0M271.0 205.4h0M272.9 209.2h0M280.2 208.3h0M277.8 210.0h0M284.1 210.8h0M284.0 207.8h0M278.5 205.0h0M279.6 204.0h0M279.0 205.1h0M275.3 213.8h0M277.6 211.8h0M275.8 199.3h0M283.5 207.2h0M274.0 212.5h0M271.8 204.6h0M282.1 204.8h0M282.0 206.6h0M276.0 208.4h0M274.7 213.1h0M281.8 208.4h0M279.6 210.6h0M284.5 200.6h0M281.5 212.4h0M275.5 208.1h0M275.4 213.9h0M271.8 210.9h0M282.7 210.8h0M274.8 205.9h0M267.4 203.2h0M281.8 203.6h0M269.6 206.9h0M270.2 210.2h0M273.0 212.6h0M276.4 201.4h0M273.5 205.0h0M273.1 213.9h0M272.4 209.8h0M274.3 210.9h0M270.5 200.7h0M279.2 214.8h0M270.7 206.6h0M274.6 203.7h0M281.3 208.3h0M270.7 207.1h0M282.9 204.7h0M274.6 204.2h0M277.7 205.5h0M280.9 204.2h0M270.4 210.2h0M262.7 203.6h0M278.2 209.2h0M274.3 206.0h0M279.3 225.6h0M273.3 207.2h0M274.9 210.7h0M277.0 210.7h0M284.3 206.8h0M275.6 209.9h0M286.3 206.4h0M284.5 213.7h0M264.6 203.4h0M272.5 210.0h0M282.9 208.3h0M277.7 218.3h0M278.5 218.2h0M272.9 215.8h0M274.7 196.7h0M273.2 205.9h0M276.7 211.6h0M280.0 210.5h0M273.6 216.5h0M282.3 208.3h0M274.4 207.9h0M300.8 152.2h0M301.9 152.3h0M305.1 152.4h0M304.4 157.9h0M302.8 159.1h0M296.8 170.7h0M298.5 160.3h0M302.0 153.6h0M310.6 162.3h0M300.6 159.3h0M305.3 165.1h0M307.0 155.1h0M300.7 149.5h0M303.2 161.0h0M300.0 159.9h0M302.6 153.5h0M295.8 162.4h0M314.6 159.2h0M296.5 150.2h0M303.2 159.8h0M309.5 142.4h0M311.2 157.0h0M302.6 158.3h0M300.2 154.5h0M307.2 146.3h0M301.4 159.3h0M293.7 155.2h0M309.6 158.2h0M305.5 160.1h0M303.0 158.1h0M297.9 154.9h0M311.2 149.1h0M301.1 148.9h0M299.3 151.7h0M295.8 157.5h0M297.2 159.1h0M311.0 141.6h0M301.1 144.2h0M301.3 158.2h0M303.0 163.0h0M302.7 146.3h0M309.5 150.7h0M301.5 157.9h0M297.6 156.6h0M309.4 146.5h0M293.6 153.5h0M301.1 148.8h0M290.4 161.3h0M303.9 148.5h0M304.8 155.7h0M302.8 148.5h0M300.9 158.8h0M293.2 150.1h0M306.8 167.5h0M305.3 155.7h0M296.5 153.8h0M300.7 158.6h0M300.7 170.2h0M308.6 143.5h0M296.1 156.1h0M306.9 158.4h0M288.2 146.7h0M308.7 159.5h0M314.8 160.6h0M304.3 164.8h0M299.7 153.0h0M296.9 157.5h0M304.2 161.4h0M309.2 159.6h0M308.1 154.6h0" stroke="#2796d2" stroke-width="1.8" stroke-linecap="round" fill="none"/>
<ellipse cx="85.4" cy="134.5" rx="45.4" ry="16" transform="rotate(-19.4 85.4 134.5)" fill="none" stroke="#231f20" stroke-width="1.5" stroke-dasharray="4.6 3.2"/>
<ellipse cx="156.5" cy="99" rx="33.8" ry="22.3" transform="rotate(-24 156.5 99)" fill="none" stroke="#231f20" stroke-width="1.5" stroke-dasharray="4.6 3.2"/>
<ellipse cx="218.4" cy="90.8" rx="54.4" ry="25.8" transform="rotate(52.4 218.4 90.8)" fill="none" stroke="#231f20" stroke-width="1.5" stroke-dasharray="4.6 3.2"/>
<ellipse cx="272.4" cy="58.5" rx="38.3" ry="37" transform="rotate(65.7 272.4 58.5)" fill="none" stroke="#231f20" stroke-width="1.5" stroke-dasharray="4.6 3.2"/>
<ellipse cx="269.2" cy="178.3" rx="49.6" ry="43.6" transform="rotate(6.8 269.2 178.3)" fill="none" stroke="#231f20" stroke-width="1.5" stroke-dasharray="4.6 3.2"/>
<text x="227.9" y="34.1" font-size="13.8" font-weight="bold" text-anchor="middle" fill="#0aa25a">Group A</text>
<text x="227.9" y="45.8" font-size="13.8" font-weight="bold" text-anchor="middle" fill="#0aa25a">845</text>
<text x="124.0" y="74.0" font-size="13.8" font-weight="bold" text-anchor="middle" fill="#7b8a22">Group D</text>
<text x="124.0" y="85.4" font-size="13.8" font-weight="bold" text-anchor="middle" fill="#7b8a22">640</text>
<text x="190.8" y="134.1" font-size="13.8" font-weight="bold" text-anchor="middle" fill="#8a2a8c">Group C</text>
<text x="190.8" y="145.8" font-size="13.8" font-weight="bold" text-anchor="middle" fill="#8a2a8c">1282</text>
<text x="79.3" y="167.0" font-size="13.8" font-weight="bold" text-anchor="middle" fill="#e5323f">Group E</text>
<text x="79.3" y="178.4" font-size="13.8" font-weight="bold" text-anchor="middle" fill="#e5323f">186</text>
<text x="215.0" y="202.7" font-size="13.8" font-weight="bold" text-anchor="middle" fill="#12a4e0">Group B</text>
<text x="215.0" y="214.6" font-size="13.8" font-weight="bold" text-anchor="middle" fill="#12a4e0">1228</text>
<text x="375.6" y="15.8" font-size="20" font-weight="bold" fill="#231f20">b</text>
<path d="M478.8 84.8 476.7 84.3 474.5 83.8 472.4 83.4 470.2 83.0 468.1 82.7 466.0 82.3 464.0 82.0 461.9 81.8 459.9 81.5 457.9 81.3 455.9 81.2 453.9 81.0 452.0 80.9 450.1 80.9 448.2 80.8 446.4 80.8 444.6 80.9 442.8 80.9 441.0 81.0 439.3 81.1 437.7 81.3 436.0 81.5 434.4 81.7 432.9 82.0 431.4 82.3 429.9 82.6 428.5 82.9 427.1 83.3 425.8 83.7 424.5 84.2 423.3 84.6 422.1 85.1 420.9 85.7 419.8 86.2 418.8 86.8 417.8 87.5 416.9 88.1 416.0 88.8 415.2 89.5 414.4 90.2 413.7 91.0 413.0 91.8 412.4 92.6 411.8 93.4 411.3 94.3 410.9 95.1 410.5 96.0 410.2 97.0 409.9 97.9 409.7 98.9 409.5 99.9 409.4 100.9 409.4 101.9 409.4 103.0 409.5 104.0 409.6 105.1 409.8 106.2 410.1 107.3 410.4 108.4 410.7 109.6 411.1 110.7 411.6 111.9 412.1 113.1 412.7 114.3 413.4 115.5 414.1 116.7 414.8 117.9 415.6 119.1 416.5 120.3 417.4 121.6 418.4 122.8 419.4 124.1 420.5 125.3 421.6 126.5 422.7 127.8 424.0 129.0 425.2 130.3 426.5 131.5 427.9 132.8 429.3 134.0 430.7 135.3 432.2 136.5 433.8 137.7 435.3 139.0 436.9 140.2 438.6 141.4 440.3 142.6 442.0 143.8 443.8 145.0 445.6 146.1 447.4 147.3 449.2 148.4 451.1 149.6 453.1 150.7 455.0 151.8 457.0 152.9 459.0 153.9 461.0 155.0 463.0 156.0 465.1 157.0 467.2 158.0 469.3 159.0 469.5 159.1 469.8 158.6 471.1 156.7 472.4 154.8 473.7 152.9 475.1 151.1 476.4 149.2 476.2 149.0 475.6 148.1 475.0 147.3 474.5 146.4 474.1 145.5 473.7 144.6 473.3 143.7 473.1 142.7 472.8 141.8 472.7 140.8 472.6 139.8 472.5 138.8 472.6 137.8 472.6 136.8 472.8 135.7 473.0 134.7 473.2 133.6 473.6 132.5 473.9 131.5 474.4 130.4 474.9 129.3 475.4 128.2 476.0 127.1 476.7 126.0 477.4 124.9 478.2 123.8 479.0 122.7 479.9 121.5 480.8 120.4 481.8 119.3 482.9 118.2 484.0 117.1 485.1 115.9 485.8 115.4 485.7 114.6 485.7 112.2 485.7 109.9 485.7 107.6 485.8 105.3 485.8 102.9 485.9 100.6 486.1 98.3 486.2 95.9 486.4 93.6 486.6 91.3 486.8 89.0 487.1 86.8 485.4 86.4 483.2 85.8 481.0 85.3Z" fill="rgb(109, 179, 123)" stroke="rgb(109, 179, 123)" stroke-width="0.3"/>
<path d="M560.8 75.0 560.6 72.8 560.4 70.6 560.2 68.4 559.9 66.2 559.6 64.1 559.3 61.9 559.0 59.8 558.6 57.8 558.2 55.7 557.8 53.7 557.4 51.8 556.9 49.8 556.5 47.9 556.0 46.0 555.4 44.2 554.9 42.4 554.3 40.7 553.7 38.9 553.1 37.3 552.5 35.7 551.9 34.1 551.2 32.5 550.5 31.0 549.8 29.6 549.1 28.2 548.3 26.9 547.6 25.6 546.8 24.3 546.0 23.1 545.2 22.0 544.4 20.9 543.6 19.9 542.7 18.9 541.9 18.0 541.0 17.1 540.1 16.3 539.2 15.6 538.3 14.9 537.4 14.2 536.5 13.7 535.5 13.2 534.6 12.7 533.6 12.3 532.7 12.0 531.7 11.7 530.7 11.5 529.8 11.4 528.8 11.3 527.8 11.2 526.8 11.3 525.8 11.4 524.8 11.5 523.8 11.7 522.9 12.0 521.9 12.4 520.9 12.8 519.9 13.2 518.9 13.7 517.9 14.3 516.9 15.0 516.0 15.6 515.0 16.4 514.0 17.2 513.1 18.1 512.1 19.0 511.2 20.0 510.3 21.0 509.3 22.1 508.4 23.3 507.5 24.5 506.6 25.7 505.8 27.0 504.9 28.4 504.0 29.8 503.2 31.2 502.4 32.7 501.5 34.2 500.8 35.8 500.0 37.5 499.2 39.1 498.5 40.9 497.7 42.6 497.0 44.4 496.3 46.3 495.6 48.1 495.0 50.0 494.3 52.0 493.7 54.0 493.1 56.0 492.5 58.0 492.0 60.1 491.4 62.2 490.9 64.3 490.4 66.4 490.0 68.6 489.5 70.8 489.1 73.0 488.7 75.3 488.3 77.5 488.0 79.8 487.7 82.0 487.4 84.3 487.1 86.6 487.1 86.8 487.6 87.0 489.8 87.6 492.0 88.3 494.2 89.0 496.4 89.7 498.6 90.4 498.8 90.1 499.4 89.3 500.0 88.5 500.7 87.7 501.4 87.0 502.1 86.3 502.9 85.7 503.7 85.2 504.6 84.7 505.4 84.2 506.4 83.8 507.3 83.5 508.3 83.2 509.3 82.9 510.3 82.7 511.3 82.6 512.4 82.5 513.5 82.5 514.7 82.5 515.8 82.6 517.0 82.7 518.3 82.9 519.5 83.2 520.7 83.4 522.0 83.8 523.3 84.2 524.6 84.6 526.0 85.1 527.3 85.7 528.7 86.3 530.1 86.9 531.5 87.6 532.9 88.4 533.7 88.8 534.4 88.5 536.6 87.8 538.8 87.1 541.0 86.4 543.3 85.7 545.5 85.0 547.8 84.4 550.0 83.8 552.3 83.2 554.6 82.7 556.8 82.2 559.1 81.7 561.2 81.2 561.1 79.5 561.0 77.2Z" fill="rgb(203, 185, 214)" stroke="rgb(203, 185, 214)" stroke-width="0.3"/>
<path d="M593.2 148.5 595.2 147.7 597.3 146.8 599.3 146.0 601.4 145.1 603.3 144.1 605.3 143.2 607.2 142.2 609.1 141.3 611.0 140.3 612.8 139.3 614.6 138.3 616.3 137.3 618.0 136.2 619.7 135.2 621.3 134.2 622.9 133.1 624.4 132.0 625.9 130.9 627.3 129.9 628.7 128.8 630.1 127.7 631.4 126.6 632.7 125.4 633.9 124.3 635.0 123.2 636.1 122.1 637.2 121.0 638.2 119.9 639.1 118.7 640.0 117.6 640.8 116.5 641.6 115.4 642.3 114.3 643.0 113.2 643.6 112.1 644.2 111.0 644.7 109.9 645.1 108.8 645.5 107.7 645.8 106.7 646.0 105.6 646.2 104.6 646.4 103.5 646.5 102.5 646.5 101.5 646.4 100.5 646.3 99.5 646.2 98.5 646.0 97.6 645.7 96.6 645.3 95.7 644.9 94.8 644.5 93.9 644.0 93.0 643.4 92.2 642.8 91.3 642.1 90.5 641.4 89.7 640.6 88.9 639.7 88.2 638.8 87.4 637.8 86.7 636.8 86.0 635.7 85.4 634.6 84.7 633.5 84.1 632.2 83.5 631.0 83.0 629.6 82.4 628.3 81.9 626.8 81.4 625.4 81.0 623.9 80.5 622.3 80.1 620.7 79.7 619.1 79.4 617.4 79.1 615.7 78.8 613.9 78.5 612.1 78.2 610.3 78.0 608.4 77.9 606.5 77.7 604.6 77.6 602.6 77.5 600.7 77.4 598.6 77.4 596.6 77.4 594.5 77.4 592.4 77.4 590.3 77.5 588.2 77.6 586.0 77.8 583.8 77.9 581.6 78.1 579.4 78.4 577.2 78.6 575.0 78.9 572.7 79.2 570.5 79.5 568.2 79.9 565.9 80.3 563.7 80.7 561.4 81.2 561.2 81.2 561.2 81.8 561.3 84.1 561.3 86.4 561.4 88.7 561.4 91.0 561.4 93.3 561.7 93.4 562.7 93.7 563.6 94.0 564.6 94.4 565.5 94.9 566.3 95.4 567.1 96.0 567.9 96.6 568.7 97.2 569.4 97.9 570.0 98.6 570.6 99.4 571.2 100.3 571.8 101.1 572.3 102.1 572.7 103.0 573.1 104.0 573.5 105.1 573.8 106.2 574.1 107.3 574.4 108.5 574.6 109.7 574.7 110.9 574.8 112.2 574.9 113.5 574.9 114.9 574.9 116.3 574.8 117.7 574.7 119.2 574.6 120.7 574.4 122.2 574.2 123.7 573.9 125.3 573.7 126.1 574.2 126.8 575.6 128.7 577.0 130.5 578.3 132.4 579.6 134.3 581.0 136.3 582.3 138.2 583.5 140.2 584.8 142.1 586.0 144.1 587.2 146.1 588.4 148.1 589.4 150.0 591.0 149.4Z" fill="rgb(203, 158, 198)" stroke="rgb(203, 158, 198)" stroke-width="0.3"/>
<path d="M533.9 199.5 535.3 201.2 536.7 202.9 538.2 204.6 539.7 206.3 541.2 207.9 542.6 209.5 544.1 211.1 545.6 212.6 547.1 214.1 548.6 215.6 550.1 217.0 551.6 218.4 553.2 219.7 554.7 221.0 556.2 222.3 557.7 223.5 559.2 224.7 560.7 225.8 562.2 226.9 563.6 227.9 565.1 228.9 566.6 229.9 568.0 230.8 569.5 231.6 570.9 232.4 572.3 233.2 573.7 233.9 575.1 234.5 576.5 235.2 577.8 235.7 579.2 236.2 580.5 236.7 581.8 237.0 583.1 237.4 584.3 237.7 585.6 237.9 586.8 238.1 588.0 238.2 589.1 238.3 590.3 238.3 591.4 238.3 592.5 238.2 593.5 238.1 594.6 237.9 595.6 237.7 596.5 237.4 597.5 237.0 598.4 236.6 599.3 236.2 600.1 235.7 600.9 235.1 601.7 234.5 602.4 233.8 603.1 233.1 603.8 232.4 604.5 231.6 605.1 230.7 605.6 229.8 606.2 228.9 606.6 227.9 607.1 226.8 607.5 225.7 607.9 224.6 608.2 223.4 608.5 222.2 608.8 220.9 609.0 219.6 609.2 218.3 609.3 216.9 609.5 215.5 609.5 214.0 609.5 212.5 609.5 211.0 609.5 209.4 609.4 207.8 609.3 206.1 609.1 204.5 608.9 202.8 608.6 201.1 608.3 199.3 608.0 197.5 607.7 195.7 607.2 193.9 606.8 192.0 606.3 190.2 605.8 188.3 605.3 186.3 604.7 184.4 604.0 182.5 603.4 180.5 602.7 178.5 602.0 176.5 601.2 174.5 600.4 172.5 599.6 170.5 598.7 168.5 597.8 166.4 596.9 164.4 595.9 162.4 594.9 160.3 593.9 158.3 592.9 156.3 591.8 154.2 590.7 152.2 589.5 150.2 589.4 150.0 588.9 150.2 586.8 151.0 584.6 151.7 582.4 152.5 580.2 153.2 578.0 153.9 578.0 154.2 578.1 155.3 578.0 156.3 577.9 157.3 577.8 158.3 577.5 159.3 577.3 160.2 576.9 161.1 576.6 162.0 576.1 162.9 575.6 163.8 575.1 164.6 574.4 165.4 573.8 166.2 573.1 167.0 572.3 167.7 571.4 168.4 570.6 169.1 569.6 169.7 568.6 170.3 567.6 170.9 566.5 171.5 565.4 172.0 564.2 172.5 562.9 173.0 561.7 173.5 560.3 173.9 559.0 174.3 557.5 174.6 556.1 174.9 554.6 175.2 553.0 175.5 551.4 175.7 550.6 175.8 550.1 176.5 548.8 178.3 547.4 180.2 546.0 182.1 544.6 184.0 543.2 185.8 541.8 187.6 540.3 189.4 538.8 191.2 537.3 193.0 535.7 194.8 534.2 196.5 532.8 198.1Z" fill="rgb(248, 201, 138)" stroke="rgb(248, 201, 138)" stroke-width="0.3"/>
<path d="M465.0 166.3 463.9 168.2 462.8 170.1 461.7 172.0 460.7 173.9 459.7 175.8 458.7 177.7 457.8 179.6 456.9 181.4 456.1 183.3 455.2 185.2 454.5 187.0 453.7 188.8 453.0 190.6 452.4 192.4 451.8 194.2 451.2 195.9 450.7 197.7 450.2 199.4 449.7 201.1 449.3 202.7 449.0 204.3 448.6 206.0 448.4 207.5 448.1 209.1 447.9 210.6 447.8 212.1 447.7 213.6 447.6 215.0 447.6 216.4 447.6 217.7 447.7 219.1 447.8 220.4 448.0 221.6 448.2 222.8 448.4 224.0 448.7 225.1 449.0 226.2 449.4 227.3 449.8 228.3 450.2 229.2 450.7 230.2 451.3 231.0 451.9 231.9 452.5 232.6 453.1 233.4 453.8 234.1 454.6 234.7 455.4 235.3 456.2 235.9 457.0 236.4 457.9 236.8 458.9 237.2 459.8 237.6 460.8 237.9 461.9 238.2 462.9 238.4 464.0 238.5 465.2 238.6 466.3 238.7 467.5 238.7 468.8 238.7 470.0 238.6 471.3 238.4 472.6 238.2 473.9 238.0 475.3 237.7 476.7 237.4 478.1 237.0 479.5 236.5 481.0 236.1 482.5 235.5 484.0 234.9 485.5 234.3 487.0 233.6 488.6 232.9 490.1 232.1 491.7 231.3 493.3 230.5 494.9 229.6 496.5 228.6 498.2 227.6 499.8 226.6 501.4 225.5 503.1 224.4 504.7 223.2 506.4 222.0 508.1 220.8 509.7 219.5 511.4 218.2 513.1 216.9 514.7 215.5 516.4 214.1 518.0 212.6 519.7 211.1 521.3 209.6 523.0 208.1 524.6 206.5 526.3 204.9 527.9 203.3 529.5 201.6 531.1 200.0 532.6 198.3 532.8 198.1 532.4 197.7 531.0 195.9 529.6 194.0 528.2 192.2 526.9 190.3 525.5 188.4 525.2 188.6 524.2 188.9 523.2 189.2 522.3 189.4 521.3 189.6 520.3 189.7 519.3 189.7 518.3 189.7 517.3 189.6 516.4 189.4 515.4 189.2 514.4 188.9 513.5 188.6 512.5 188.2 511.6 187.8 510.6 187.3 509.7 186.7 508.8 186.1 507.9 185.4 507.0 184.6 506.1 183.8 505.2 182.9 504.4 182.0 503.5 181.1 502.7 180.0 501.9 178.9 501.1 177.8 500.3 176.6 499.5 175.4 498.7 174.1 498.0 172.7 497.3 171.3 496.6 169.9 496.2 169.1 495.4 168.9 493.2 168.2 491.0 167.5 488.8 166.8 486.6 166.0 484.4 165.2 482.2 164.4 480.1 163.5 477.9 162.7 475.7 161.8 473.6 160.9 471.4 160.0 469.5 159.1 468.6 160.5 467.3 162.4 466.1 164.3Z" fill="rgb(228, 140, 160)" stroke="rgb(228, 140, 160)" stroke-width="0.3"/>
<path d="M494.2 89.0 492.0 88.3 489.8 87.6 487.6 87.0 487.1 86.8 486.8 89.0 486.6 91.3 486.4 93.6 486.2 95.9 486.1 98.3 485.9 100.6 485.8 102.9 485.8 105.3 485.7 107.6 485.7 109.9 485.7 112.2 485.7 114.6 485.8 115.4 486.4 114.8 487.6 113.7 488.9 112.6 490.3 111.5 491.7 110.4 493.1 109.3 494.3 108.5 494.3 108.3 494.3 106.8 494.4 105.4 494.5 104.0 494.6 102.6 494.8 101.2 495.0 99.9 495.3 98.7 495.6 97.4 495.9 96.3 496.3 95.1 496.7 94.0 497.2 93.0 497.7 92.0 498.2 91.0 498.6 90.4 496.4 89.7Z" fill="rgb(80, 168, 128)" stroke="rgb(80, 168, 128)" stroke-width="0.3"/>
<path d="M482.9 118.2 481.8 119.3 480.8 120.4 479.9 121.5 479.0 122.7 478.2 123.8 477.4 124.9 476.7 126.0 476.0 127.1 475.4 128.2 474.9 129.3 474.4 130.4 473.9 131.5 473.6 132.5 473.2 133.6 473.0 134.7 472.8 135.7 472.6 136.8 472.6 137.8 472.5 138.8 472.6 139.8 472.7 140.8 472.8 141.8 473.1 142.7 473.3 143.7 473.7 144.6 474.1 145.5 474.5 146.4 475.0 147.3 475.6 148.1 476.2 149.0 476.4 149.2 476.5 149.2 477.9 147.3 479.3 145.5 480.8 143.7 482.2 141.8 483.7 140.0 485.2 138.3 486.8 136.5 487.3 135.9 487.2 134.7 486.9 132.6 486.7 130.4 486.5 128.2 486.3 125.9 486.1 123.7 486.0 121.4 485.9 119.1 485.8 116.9 485.8 115.4 485.1 115.9 484.0 117.1Z" fill="rgb(78, 165, 135)" stroke="rgb(78, 165, 135)" stroke-width="0.3"/>
<path d="M551.4 175.7 553.0 175.5 554.6 175.2 556.1 174.9 557.5 174.6 559.0 174.3 560.3 173.9 561.7 173.5 562.9 173.0 564.2 172.5 565.4 172.0 566.5 171.5 567.6 170.9 568.6 170.3 569.6 169.7 570.6 169.1 571.4 168.4 572.3 167.7 573.1 167.0 573.8 166.2 574.4 165.4 575.1 164.6 575.6 163.8 576.1 162.9 576.6 162.0 576.9 161.1 577.3 160.2 577.5 159.3 577.8 158.3 577.9 157.3 578.0 156.3 578.1 155.3 578.0 154.2 578.0 153.9 578.0 153.9 575.8 154.6 573.5 155.2 571.3 155.9 569.0 156.5 566.7 157.0 564.5 157.6 562.2 158.1 561.4 158.3 560.8 159.3 559.8 161.2 558.7 163.1 557.5 165.0 556.4 166.9 555.2 168.8 554.0 170.8 552.7 172.7 551.4 174.6 550.6 175.8Z" fill="rgb(102, 182, 100)" stroke="rgb(102, 182, 100)" stroke-width="0.3"/>
<path d="M477.9 162.7 480.1 163.5 482.2 164.4 484.4 165.2 486.6 166.0 488.8 166.8 491.0 167.5 493.2 168.2 495.4 168.9 496.2 169.1 495.9 168.4 495.2 166.9 494.6 165.3 494.0 163.7 493.3 162.0 492.8 160.3 492.3 158.9 492.2 158.9 490.8 158.4 489.4 157.9 488.1 157.3 486.8 156.7 485.6 156.2 484.4 155.5 483.3 154.9 482.2 154.2 481.2 153.5 480.2 152.8 479.3 152.1 478.5 151.4 477.7 150.6 476.9 149.8 476.4 149.2 475.1 151.1 473.7 152.9 472.4 154.8 471.1 156.7 469.8 158.6 469.5 159.1 471.4 160.0 473.6 160.9 475.7 161.8Z" fill="rgb(92, 160, 92)" stroke="rgb(92, 160, 92)" stroke-width="0.3"/>
<path d="M561.4 91.0 561.4 88.7 561.3 86.4 561.3 84.1 561.2 81.8 561.2 81.2 559.1 81.7 556.8 82.2 554.6 82.7 552.3 83.2 550.0 83.8 547.8 84.4 545.5 85.0 543.3 85.7 541.0 86.4 538.8 87.1 536.6 87.8 534.4 88.5 533.7 88.8 534.4 89.2 535.8 90.1 537.3 91.0 538.7 91.9 540.2 92.9 541.7 93.9 542.8 94.8 543.0 94.7 544.4 94.3 545.8 93.9 547.2 93.6 548.6 93.3 549.9 93.0 551.2 92.8 552.5 92.7 553.8 92.6 555.0 92.6 556.2 92.6 557.3 92.6 558.5 92.8 559.6 92.9 560.6 93.1 561.4 93.3Z" fill="rgb(178, 138, 188)" stroke="rgb(178, 138, 188)" stroke-width="0.3"/>
<path d="M531.5 87.6 530.1 86.9 528.7 86.3 527.3 85.7 526.0 85.1 524.6 84.6 523.3 84.2 522.0 83.8 520.7 83.4 519.5 83.2 518.3 82.9 517.0 82.7 515.8 82.6 514.7 82.5 513.5 82.5 512.4 82.5 511.3 82.6 510.3 82.7 509.3 82.9 508.3 83.2 507.3 83.5 506.4 83.8 505.4 84.2 504.6 84.7 503.7 85.2 502.9 85.7 502.1 86.3 501.4 87.0 500.7 87.7 500.0 88.5 499.4 89.3 498.8 90.1 498.6 90.4 498.6 90.4 500.8 91.2 503.0 92.0 505.2 92.8 507.4 93.6 509.6 94.5 511.7 95.4 513.9 96.3 514.7 96.6 515.7 96.1 517.7 95.2 519.7 94.3 521.7 93.4 523.8 92.6 525.9 91.7 528.0 90.9 530.1 90.1 532.3 89.3 533.7 88.8 532.9 88.4Z" fill="rgb(233, 170, 120)" stroke="rgb(233, 170, 120)" stroke-width="0.3"/>
<path d="M498.0 172.7 498.7 174.1 499.5 175.4 500.3 176.6 501.1 177.8 501.9 178.9 502.7 180.0 503.5 181.1 504.4 182.0 505.2 182.9 506.1 183.8 507.0 184.6 507.9 185.4 508.8 186.1 509.7 186.7 510.6 187.3 511.6 187.8 512.5 188.2 513.5 188.6 514.4 188.9 515.4 189.2 516.4 189.4 517.3 189.6 518.3 189.7 519.3 189.7 520.3 189.7 521.3 189.6 522.3 189.4 523.2 189.2 524.2 188.9 525.2 188.6 525.5 188.4 525.5 188.4 524.2 186.5 522.9 184.6 521.6 182.6 520.3 180.7 519.1 178.7 517.8 176.7 516.6 174.7 516.2 174.0 515.1 173.8 512.9 173.3 510.8 172.9 508.6 172.4 506.4 171.9 504.2 171.4 502.1 170.8 499.9 170.2 497.7 169.6 496.2 169.1 496.6 169.9 497.3 171.3Z" fill="rgb(222, 120, 178)" stroke="rgb(222, 120, 178)" stroke-width="0.3"/>
<path d="M571.0 136.8 571.8 138.1 572.6 139.3 573.4 140.5 574.1 141.7 574.7 142.9 575.3 144.1 575.8 145.3 576.3 146.4 576.7 147.6 577.1 148.7 577.4 149.9 577.6 151.0 577.8 152.1 578.0 153.2 578.0 153.9 580.2 153.2 582.4 152.5 584.6 151.7 586.8 151.0 588.9 150.2 589.4 150.0 588.4 148.1 587.2 146.1 586.0 144.1 584.8 142.1 583.5 140.2 582.3 138.2 581.0 136.3 579.6 134.3 578.3 132.4 577.0 130.5 575.6 128.7 574.2 126.8 573.7 126.1 573.6 126.9 573.2 128.6 572.8 130.2 572.3 131.9 571.8 133.6 571.3 135.4 570.9 136.7Z" fill="rgb(235, 145, 130)" stroke="rgb(235, 145, 130)" stroke-width="0.3"/>
<path d="M573.9 125.3 574.2 123.7 574.4 122.2 574.6 120.7 574.7 119.2 574.8 117.7 574.9 116.3 574.9 114.9 574.9 113.5 574.8 112.2 574.7 110.9 574.6 109.7 574.4 108.5 574.1 107.3 573.8 106.2 573.5 105.1 573.1 104.0 572.7 103.0 572.3 102.1 571.8 101.1 571.2 100.3 570.6 99.4 570.0 98.6 569.4 97.9 568.7 97.2 567.9 96.6 567.1 96.0 566.3 95.4 565.5 94.9 564.6 94.4 563.6 94.0 562.7 93.7 561.7 93.4 561.4 93.3 561.4 93.3 561.3 95.7 561.2 98.0 561.1 100.3 561.0 102.7 560.9 105.0 560.7 107.3 560.5 109.7 560.4 110.5 561.2 111.3 562.7 112.9 564.2 114.6 565.6 116.2 567.1 117.9 568.5 119.6 570.0 121.4 571.4 123.2 572.8 125.0 573.7 126.1Z" fill="rgb(235, 110, 170)" stroke="rgb(235, 110, 170)" stroke-width="0.3"/>
<path d="M528.2 192.2 529.6 194.0 531.0 195.9 532.4 197.7 532.8 198.1 534.2 196.5 535.7 194.8 537.3 193.0 538.8 191.2 540.3 189.4 541.8 187.6 543.2 185.8 544.6 184.0 546.0 182.1 547.4 180.2 548.8 178.3 550.1 176.5 550.6 175.8 549.8 175.9 548.1 176.0 546.4 176.2 544.7 176.3 542.9 176.3 541.1 176.3 539.7 176.3 539.6 176.5 538.7 177.7 537.7 178.8 536.8 179.9 535.9 180.9 535.0 181.9 534.0 182.8 533.1 183.7 532.1 184.5 531.1 185.3 530.1 186.0 529.2 186.6 528.2 187.2 527.2 187.7 526.2 188.2 525.5 188.4 526.9 190.3Z" fill="rgb(235, 130, 110)" stroke="rgb(235, 130, 110)" stroke-width="0.3"/>
<path d="M491.7 110.4 490.3 111.5 488.9 112.6 487.6 113.7 486.4 114.8 485.8 115.4 485.8 116.9 485.9 119.1 486.0 121.4 486.1 123.7 486.3 125.9 486.5 128.2 486.7 130.4 486.9 132.6 487.2 134.7 487.3 135.9 488.3 134.7 489.9 133.0 491.5 131.3 493.0 129.6 494.6 128.0 496.3 126.4 496.4 126.2 496.2 125.1 495.8 123.3 495.5 121.5 495.2 119.8 494.9 118.1 494.7 116.4 494.6 114.7 494.4 113.1 494.3 111.5 494.3 109.9 494.3 108.5 493.1 109.3Z" fill="rgb(72, 148, 118)" stroke="rgb(72, 148, 118)" stroke-width="0.3"/>
<path d="M511.7 95.4 509.6 94.5 507.4 93.6 505.2 92.8 503.0 92.0 500.8 91.2 498.6 90.4 498.6 90.4 498.2 91.0 497.7 92.0 497.2 93.0 496.7 94.0 496.3 95.1 495.9 96.3 495.6 97.4 495.3 98.7 495.0 99.9 494.8 101.2 494.6 102.6 494.5 104.0 494.4 105.4 494.3 106.8 494.3 108.3 494.3 108.5 494.6 108.3 496.2 107.2 497.7 106.1 499.4 105.1 501.0 104.0 502.7 103.0 504.5 102.0 506.3 101.0 508.1 100.0 509.9 99.0 511.8 98.0 513.7 97.1 514.7 96.6 513.9 96.3Z" fill="rgb(100, 172, 100)" stroke="rgb(100, 172, 100)" stroke-width="0.3"/>
<path d="M504.2 171.4 506.4 171.9 508.6 172.4 510.8 172.9 512.9 173.3 515.1 173.8 516.2 174.0 515.4 172.7 514.3 170.7 513.2 168.6 512.0 166.6 511.0 164.6 509.9 162.5 509.8 162.3 508.7 162.2 506.9 162.0 505.1 161.8 503.3 161.5 501.6 161.2 499.9 160.9 498.3 160.5 496.7 160.2 495.1 159.8 493.6 159.3 492.3 158.9 492.8 160.3 493.3 162.0 494.0 163.7 494.6 165.3 495.2 166.9 495.9 168.4 496.2 169.1 497.7 169.6 499.9 170.2 502.1 170.8Z" fill="rgb(82, 155, 90)" stroke="rgb(82, 155, 90)" stroke-width="0.3"/>
<path d="M577.4 149.9 577.1 148.7 576.7 147.6 576.3 146.4 575.8 145.3 575.3 144.1 574.7 142.9 574.1 141.7 573.4 140.5 572.6 139.3 571.8 138.1 571.0 136.8 570.9 136.7 570.7 137.1 570.1 138.9 569.5 140.7 568.8 142.5 568.0 144.3 567.3 146.1 566.5 148.0 565.6 149.8 564.7 151.7 563.8 153.6 562.8 155.5 561.8 157.4 561.4 158.3 562.2 158.1 564.5 157.6 566.7 157.0 569.0 156.5 571.3 155.9 573.5 155.2 575.8 154.6 578.0 153.9 578.0 153.9 578.0 153.2 577.8 152.1 577.6 151.0Z" fill="rgb(97, 172, 95)" stroke="rgb(97, 172, 95)" stroke-width="0.3"/>
<path d="M485.2 138.3 483.7 140.0 482.2 141.8 480.8 143.7 479.3 145.5 477.9 147.3 476.5 149.2 476.4 149.2 476.9 149.8 477.7 150.6 478.5 151.4 479.3 152.1 480.2 152.8 481.2 153.5 482.2 154.2 483.3 154.9 484.4 155.5 485.6 156.2 486.8 156.7 488.1 157.3 489.4 157.9 490.8 158.4 492.2 158.9 492.3 158.9 492.2 158.5 491.6 156.7 491.1 154.9 490.6 153.0 490.2 151.1 489.7 149.2 489.3 147.2 488.9 145.2 488.5 143.2 488.1 141.1 487.8 139.0 487.5 136.9 487.3 135.9 486.8 136.5Z" fill="rgb(90, 140, 92)" stroke="rgb(90, 140, 92)" stroke-width="0.3"/>
<path d="M542.9 176.3 544.7 176.3 546.4 176.2 548.1 176.0 549.8 175.9 550.6 175.8 551.4 174.6 552.7 172.7 554.0 170.8 555.2 168.8 556.4 166.9 557.5 165.0 558.7 163.1 559.8 161.2 560.8 159.3 561.4 158.3 559.9 158.6 557.6 159.1 555.4 159.5 553.1 160.0 550.8 160.4 548.6 160.7 548.3 160.8 547.9 161.8 547.1 163.5 546.3 165.1 545.5 166.7 544.7 168.2 543.9 169.7 543.1 171.2 542.2 172.6 541.3 173.9 540.5 175.2 539.7 176.3 541.1 176.3Z" fill="rgb(90, 155, 85)" stroke="rgb(90, 155, 85)" stroke-width="0.3"/>
<path d="M541.7 93.9 540.2 92.9 538.7 91.9 537.3 91.0 535.8 90.1 534.4 89.2 533.7 88.8 532.3 89.3 530.1 90.1 528.0 90.9 525.9 91.7 523.8 92.6 521.7 93.4 519.7 94.3 517.7 95.2 515.7 96.1 514.7 96.6 516.0 97.2 518.1 98.2 520.2 99.1 522.3 100.1 524.4 101.2 526.4 102.2 526.6 102.3 527.6 101.7 529.2 100.8 530.8 100.0 532.4 99.1 533.9 98.4 535.5 97.6 537.0 97.0 538.5 96.3 540.0 95.8 541.5 95.2 542.8 94.8Z" fill="rgb(228, 140, 140)" stroke="rgb(228, 140, 140)" stroke-width="0.3"/>
<path d="M560.5 109.7 560.7 107.3 560.9 105.0 561.0 102.7 561.1 100.3 561.2 98.0 561.3 95.7 561.4 93.3 561.4 93.3 560.6 93.1 559.6 92.9 558.5 92.8 557.3 92.6 556.2 92.6 555.0 92.6 553.8 92.6 552.5 92.7 551.2 92.8 549.9 93.0 548.6 93.3 547.2 93.6 545.8 93.9 544.4 94.3 543.0 94.7 542.8 94.8 543.2 95.0 544.7 96.2 546.2 97.3 547.7 98.6 549.2 99.8 550.7 101.1 552.2 102.5 553.7 103.8 555.2 105.3 556.7 106.7 558.2 108.2 559.7 109.8 560.4 110.5Z" fill="rgb(218, 105, 165)" stroke="rgb(218, 105, 165)" stroke-width="0.3"/>
<path d="M529.2 186.6 530.1 186.0 531.1 185.3 532.1 184.5 533.1 183.7 534.0 182.8 535.0 181.9 535.9 180.9 536.8 179.9 537.7 178.8 538.7 177.7 539.6 176.5 539.7 176.3 539.2 176.3 537.4 176.3 535.5 176.2 533.5 176.1 531.6 176.0 529.6 175.8 527.6 175.6 525.5 175.4 523.5 175.1 521.4 174.8 519.3 174.5 517.2 174.2 516.2 174.0 516.6 174.7 517.8 176.7 519.1 178.7 520.3 180.7 521.6 182.6 522.9 184.6 524.2 186.5 525.5 188.4 525.5 188.4 526.2 188.2 527.2 187.7 528.2 187.2Z" fill="rgb(228, 108, 110)" stroke="rgb(228, 108, 110)" stroke-width="0.3"/>
<path d="M571.8 133.6 572.3 131.9 572.8 130.2 573.2 128.6 573.6 126.9 573.7 126.1 572.8 125.0 571.4 123.2 570.0 121.4 568.5 119.6 567.1 117.9 565.6 116.2 564.2 114.6 562.7 112.9 561.2 111.3 560.4 110.5 560.3 112.0 560.0 114.3 559.7 116.6 559.4 118.9 559.1 121.2 558.8 123.4 558.7 123.6 559.6 124.4 560.9 125.6 562.2 126.9 563.5 128.1 564.7 129.4 565.9 130.6 567.0 131.9 568.1 133.1 569.1 134.4 570.0 135.6 570.9 136.7 571.3 135.4Z" fill="rgb(233, 108, 105)" stroke="rgb(233, 108, 105)" stroke-width="0.3"/>
<path d="M526.4 102.2 524.4 101.2 522.3 100.1 520.2 99.1 518.1 98.2 516.0 97.2 514.7 96.6 513.7 97.1 511.8 98.0 509.9 99.0 508.1 100.0 506.3 101.0 504.5 102.0 502.7 103.0 501.0 104.0 499.4 105.1 497.7 106.1 496.2 107.2 494.6 108.3 494.3 108.5 494.3 109.9 494.3 111.5 494.4 113.1 494.6 114.7 494.7 116.4 494.9 118.1 495.2 119.8 495.5 121.5 495.8 123.3 496.2 125.1 496.4 126.2 497.9 124.8 499.5 123.2 501.2 121.7 502.8 120.1 504.5 118.7 506.1 117.2 507.8 115.8 509.5 114.4 511.1 113.1 512.8 111.8 514.5 110.5 516.1 109.2 517.8 108.0 519.4 106.9 521.1 105.8 522.7 104.7 524.4 103.7 526.0 102.7 526.6 102.3Z" fill="rgb(95, 172, 95)" stroke="rgb(95, 172, 95)" stroke-width="0.3"/>
<path d="M496.3 126.4 494.6 128.0 493.0 129.6 491.5 131.3 489.9 133.0 488.3 134.7 487.3 135.9 487.5 136.9 487.8 139.0 488.1 141.1 488.5 143.2 488.9 145.2 489.3 147.2 489.7 149.2 490.2 151.1 490.6 153.0 491.1 154.9 491.6 156.7 492.2 158.5 492.3 158.9 493.6 159.3 495.1 159.8 496.7 160.2 498.3 160.5 499.9 160.9 501.6 161.2 503.3 161.5 505.1 161.8 506.9 162.0 508.7 162.2 509.8 162.3 508.9 160.5 507.9 158.5 507.0 156.4 506.0 154.4 505.1 152.4 504.3 150.3 503.4 148.3 502.6 146.3 501.9 144.3 501.1 142.3 500.4 140.3 499.8 138.4 499.2 136.4 498.6 134.5 498.0 132.6 497.5 130.7 497.0 128.8 496.6 127.0 496.4 126.2Z" fill="rgb(95, 133, 100)" stroke="rgb(95, 133, 100)" stroke-width="0.3"/>
<path d="M521.4 174.8 523.5 175.1 525.5 175.4 527.6 175.6 529.6 175.8 531.6 176.0 533.5 176.1 535.5 176.2 537.4 176.3 539.2 176.3 539.7 176.3 540.5 175.2 541.3 173.9 542.2 172.6 543.1 171.2 543.9 169.7 544.7 168.2 545.5 166.7 546.3 165.1 547.1 163.5 547.9 161.8 548.3 160.8 546.3 161.1 544.1 161.4 541.8 161.7 539.6 161.9 537.4 162.1 535.2 162.3 533.0 162.5 530.9 162.6 528.7 162.8 526.6 162.8 524.5 162.9 522.4 162.9 520.4 162.9 518.4 162.9 516.4 162.8 514.4 162.7 512.5 162.6 510.6 162.4 509.8 162.3 509.9 162.5 511.0 164.6 512.0 166.6 513.2 168.6 514.3 170.7 515.4 172.7 516.2 174.0 517.2 174.2 519.3 174.5Z" fill="rgb(90, 155, 85)" stroke="rgb(90, 155, 85)" stroke-width="0.3"/>
<path d="M569.1 134.4 568.1 133.1 567.0 131.9 565.9 130.6 564.7 129.4 563.5 128.1 562.2 126.9 560.9 125.6 559.6 124.4 558.7 123.6 558.4 125.7 558.0 127.9 557.6 130.1 557.1 132.3 556.7 134.5 556.2 136.6 555.7 138.8 555.1 140.9 554.6 142.9 554.0 145.0 553.4 147.0 552.8 148.9 552.1 150.9 551.5 152.8 550.8 154.7 550.1 156.5 549.4 158.3 548.6 160.1 548.3 160.8 548.6 160.7 550.8 160.4 553.1 160.0 555.4 159.5 557.6 159.1 559.9 158.6 561.4 158.3 561.8 157.4 562.8 155.5 563.8 153.6 564.7 151.7 565.6 149.8 566.5 148.0 567.3 146.1 568.0 144.3 568.8 142.5 569.5 140.7 570.1 138.9 570.7 137.1 570.9 136.7 570.0 135.6Z" fill="rgb(92, 137, 75)" stroke="rgb(92, 137, 75)" stroke-width="0.3"/>
<path d="M558.8 123.4 559.1 121.2 559.4 118.9 559.7 116.6 560.0 114.3 560.3 112.0 560.4 110.5 559.7 109.8 558.2 108.2 556.7 106.7 555.2 105.3 553.7 103.8 552.2 102.5 550.7 101.1 549.2 99.8 547.7 98.6 546.2 97.3 544.7 96.2 543.2 95.0 542.8 94.8 541.5 95.2 540.0 95.8 538.5 96.3 537.0 97.0 535.5 97.6 533.9 98.4 532.4 99.1 530.8 100.0 529.2 100.8 527.6 101.7 526.6 102.3 528.5 103.2 530.5 104.3 532.4 105.4 534.4 106.5 536.3 107.6 538.2 108.7 540.1 109.9 541.9 111.0 543.7 112.2 545.4 113.4 547.2 114.6 548.9 115.8 550.5 117.0 552.1 118.2 553.7 119.4 555.2 120.7 556.7 121.9 558.2 123.1 558.7 123.6Z" fill="rgb(230, 98, 105)" stroke="rgb(230, 98, 105)" stroke-width="0.3"/>
<path d="M550.1 156.5 550.8 154.7 551.5 152.8 552.1 150.9 552.8 148.9 553.4 147.0 554.0 145.0 554.6 142.9 555.1 140.9 555.7 138.8 556.2 136.6 556.7 134.5 557.1 132.3 557.6 130.1 558.0 127.9 558.4 125.7 558.7 123.6 558.2 123.1 556.7 121.9 555.2 120.7 553.7 119.4 552.1 118.2 550.5 117.0 548.9 115.8 547.2 114.6 545.4 113.4 543.7 112.2 541.9 111.0 540.1 109.9 538.2 108.7 536.3 107.6 534.4 106.5 532.4 105.4 530.5 104.3 528.5 103.2 526.6 102.3 526.0 102.7 524.4 103.7 522.7 104.7 521.1 105.8 519.4 106.9 517.8 108.0 516.1 109.2 514.5 110.5 512.8 111.8 511.1 113.1 509.5 114.4 507.8 115.8 506.1 117.2 504.5 118.7 502.8 120.1 501.2 121.7 499.5 123.2 497.9 124.8 496.4 126.2 496.6 127.0 497.0 128.8 497.5 130.7 498.0 132.6 498.6 134.5 499.2 136.4 499.8 138.4 500.4 140.3 501.1 142.3 501.9 144.3 502.6 146.3 503.4 148.3 504.3 150.3 505.1 152.4 506.0 154.4 507.0 156.4 507.9 158.5 508.9 160.5 509.8 162.3 510.6 162.4 512.5 162.6 514.4 162.7 516.4 162.8 518.4 162.9 520.4 162.9 522.4 162.9 524.5 162.9 526.6 162.8 528.7 162.8 530.9 162.6 533.0 162.5 535.2 162.3 537.4 162.1 539.6 161.9 541.8 161.7 544.1 161.4 546.3 161.1 548.3 160.8 548.6 160.1 549.4 158.3Z" fill="rgb(95, 140, 75)" stroke="rgb(95, 140, 75)" stroke-width="0.3"/>
<ellipse cx="493.7" cy="128.6" rx="89.35" ry="37.54" transform="rotate(-338.6 493.7 128.6)" fill="none" stroke="#404040" stroke-width="0.6"/>
<ellipse cx="523.5" cy="100.5" rx="89.35" ry="37.54" transform="rotate(-266.6 523.5 100.5)" fill="none" stroke="#404040" stroke-width="0.6"/>
<ellipse cx="559.5" cy="120.1" rx="89.35" ry="37.54" transform="rotate(-194.6 559.5 120.1)" fill="none" stroke="#404040" stroke-width="0.6"/>
<ellipse cx="551.9" cy="160.4" rx="89.35" ry="37.54" transform="rotate(-122.6 551.9 160.4)" fill="none" stroke="#404040" stroke-width="0.6"/>
<ellipse cx="511.3" cy="165.6" rx="89.35" ry="37.54" transform="rotate(-50.6 511.3 165.6)" fill="none" stroke="#404040" stroke-width="0.6"/>
<text x="527.3" y="46.9" font-size="7.2" text-anchor="middle" fill="#111" stroke="#111" stroke-width="0.25">282</text>
<text x="444.7" y="108.8" font-size="7.2" text-anchor="middle" fill="#111" stroke="#111" stroke-width="0.25">154</text>
<text x="610.4" y="109.3" font-size="7.2" text-anchor="middle" fill="#111" stroke="#111" stroke-width="0.25">72</text>
<text x="478.5" y="207.0" font-size="7.2" text-anchor="middle" fill="#111" stroke="#111" stroke-width="0.25">372</text>
<text x="583.2" y="207.0" font-size="7.2" text-anchor="middle" fill="#111" stroke="#111" stroke-width="0.25">1074</text>
<text x="523.3" y="136.5" font-size="7.2" text-anchor="middle" fill="#111" stroke="#111" stroke-width="0.25">374</text>
<text x="515.2" y="91.7" font-size="7.2" text-anchor="middle" fill="#111" stroke="#111" stroke-width="0.25">482</text>
<text x="550.0" y="90.2" font-size="7.2" text-anchor="middle" fill="#111" stroke="#111" stroke-width="0.25">63</text>
<text x="491.6" y="94.7" font-size="7.2" text-anchor="middle" fill="#111" stroke="#111" stroke-width="0.25">126</text>
<text x="502.6" y="98.3" font-size="7.2" text-anchor="middle" fill="#111" stroke="#111" stroke-width="0.25">135</text>
<text x="529.3" y="97.3" font-size="7.2" text-anchor="middle" fill="#111" stroke="#111" stroke-width="0.25">70</text>
<text x="554.0" y="99.8" font-size="7.2" text-anchor="middle" fill="#111" stroke="#111" stroke-width="0.25">53</text>
<text x="502.6" y="112.4" font-size="7.2" text-anchor="middle" fill="#111" stroke="#111" stroke-width="0.25">86</text>
<text x="545.0" y="108.3" font-size="7.2" text-anchor="middle" fill="#111" stroke="#111" stroke-width="0.25">144</text>
<text x="568.6" y="109.3" font-size="7.2" text-anchor="middle" fill="#111" stroke="#111" stroke-width="0.25">37</text>
<text x="491.0" y="127.0" font-size="7.2" text-anchor="middle" fill="#111" stroke="#111" stroke-width="0.25">14</text>
<text x="566.1" y="126.0" font-size="7.2" text-anchor="middle" fill="#111" stroke="#111" stroke-width="0.25">59</text>
<text x="479.5" y="136.5" font-size="7.2" text-anchor="middle" fill="#111" stroke="#111" stroke-width="0.25">19</text>
<text x="560.0" y="139.6" font-size="7.2" text-anchor="middle" fill="#111" stroke="#111" stroke-width="0.25">34</text>
<text x="580.7" y="144.1" font-size="7.2" text-anchor="middle" fill="#111" stroke="#111" stroke-width="0.25">78</text>
<text x="483.0" y="151.1" font-size="7.2" text-anchor="middle" fill="#111" stroke="#111" stroke-width="0.25">15</text>
<text x="496.1" y="154.7" font-size="7.2" text-anchor="middle" fill="#111" stroke="#111" stroke-width="0.25">114</text>
<text x="570.6" y="152.6" font-size="7.2" text-anchor="middle" fill="#111" stroke="#111" stroke-width="0.25">23</text>
<text x="483.5" y="161.7" font-size="7.2" text-anchor="middle" fill="#111" stroke="#111" stroke-width="0.25">33</text>
<text x="502.1" y="167.8" font-size="7.2" text-anchor="middle" fill="#111" stroke="#111" stroke-width="0.25">108</text>
<text x="527.3" y="170.3" font-size="7.2" text-anchor="middle" fill="#111" stroke="#111" stroke-width="0.25">158</text>
<text x="551.0" y="167.8" font-size="7.2" text-anchor="middle" fill="#111" stroke="#111" stroke-width="0.25">61</text>
<text x="567.1" y="164.2" font-size="7.2" text-anchor="middle" fill="#111" stroke="#111" stroke-width="0.25">159</text>
<text x="508.2" y="181.3" font-size="7.2" text-anchor="middle" fill="#111" stroke="#111" stroke-width="0.25">141</text>
<text x="526.8" y="181.3" font-size="7.2" text-anchor="middle" fill="#111" stroke="#111" stroke-width="0.25">258</text>
<text x="533.9" y="191.4" font-size="7.2" text-anchor="middle" fill="#111" stroke="#111" stroke-width="0.25">142</text>
<text x="572.3" y="10.1" font-size="9.85" font-weight="bold" text-anchor="middle" fill="#29a6dc">Group B</text>
<text x="572.3" y="21.2" font-size="9.85" font-weight="bold" text-anchor="middle" fill="#29a6dc">2608 genes</text>
<text x="616.6" y="59.0" font-size="9.85" font-weight="bold" text-anchor="middle" fill="#e0338f">Group C</text>
<text x="616.6" y="69.9" font-size="9.85" font-weight="bold" text-anchor="middle" fill="#e0338f">1255 genes</text>
<text x="432.5" y="60.3" font-size="9.85" font-weight="bold" text-anchor="middle" fill="#13a35a">Group A</text>
<text x="432.5" y="71.3" font-size="9.85" font-weight="bold" text-anchor="middle" fill="#13a35a">1613 genes</text>
<text x="417.2" y="218.1" font-size="9.85" font-weight="bold" text-anchor="middle" fill="#c8203f">Group E</text>
<text x="417.2" y="228.6" font-size="9.85" font-weight="bold" text-anchor="middle" fill="#c8203f">2103 genes</text>
<text x="639.3" y="224.1" font-size="9.85" font-weight="bold" text-anchor="middle" fill="#f3a04a">Group D</text>
<text x="639.3" y="234.5" font-size="9.85" font-weight="bold" text-anchor="middle" fill="#f3a04a">3337 genes</text>
<text x="5.6" y="285.8" font-size="20" font-weight="bold" fill="#231f20">c</text>
<text x="189.3" y="306.1" font-size="12.15" font-weight="bold" text-anchor="middle" fill="#333">Bradyzoite groups A-E transcribed genes (&lt;0.05 p-values)</text>
<text x="188.8" y="320.5" font-size="12.13" font-weight="bold" text-anchor="middle" fill="#333">compared to the published G1 and S/M subtranscriptomes</text>
<rect x="0.6" y="328.4" width="378.8" height="31.9" fill="#b8b8b8"/>
<line x1="0.1" y1="328.4" x2="379.9" y2="328.4" stroke="#231f20" stroke-width="1.1"/>
<line x1="0.1" y1="360.3" x2="379.9" y2="360.3" stroke="#231f20" stroke-width="1.1"/>
<line x1="0.1" y1="377.0" x2="379.9" y2="377.0" stroke="#231f20" stroke-width="1.1"/>
<line x1="0.1" y1="393.6" x2="379.9" y2="393.6" stroke="#231f20" stroke-width="1.1"/>
<line x1="0.1" y1="410.6" x2="379.9" y2="410.6" stroke="#231f20" stroke-width="1.1"/>
<line x1="0.1" y1="427.3" x2="379.9" y2="427.3" stroke="#231f20" stroke-width="1.1"/>
<line x1="0.1" y1="443.1" x2="379.9" y2="443.1" stroke="#231f20" stroke-width="1.1"/>
<line x1="0.6" y1="328.4" x2="0.6" y2="443.1" stroke="#231f20" stroke-width="1.1"/>
<line x1="68.1" y1="328.4" x2="68.1" y2="443.1" stroke="#231f20" stroke-width="1.1"/>
<line x1="165.5" y1="328.4" x2="165.5" y2="443.1" stroke="#231f20" stroke-width="1.1"/>
<line x1="262.6" y1="328.4" x2="262.6" y2="443.1" stroke="#231f20" stroke-width="1.1"/>
<line x1="327.8" y1="328.4" x2="327.8" y2="443.1" stroke="#231f20" stroke-width="1.1"/>
<line x1="379.4" y1="328.4" x2="379.4" y2="443.1" stroke="#231f20" stroke-width="1.1"/>
<text x="34.3" y="358.2" font-size="14.0" text-anchor="middle" fill="#111" stroke="#111" stroke-width="0.25">Subtype</text>
<text x="116.8" y="342.0" font-size="14.0" text-anchor="middle" fill="#111" stroke="#111" stroke-width="0.25">G1 SubT</text>
<text x="116.8" y="358.2" font-size="14.0" text-anchor="middle" fill="#111" stroke="#111" stroke-width="0.25">(1566 genes)</text>
<text x="214.1" y="342.0" font-size="14.0" text-anchor="middle" fill="#111" stroke="#111" stroke-width="0.25">S/M SubT</text>
<text x="214.1" y="358.2" font-size="14.0" text-anchor="middle" fill="#111" stroke="#111" stroke-width="0.25">(1148 genes)</text>
<text x="295.2" y="342.0" font-size="14.0" text-anchor="middle" fill="#111" stroke="#111" stroke-width="0.25">Non-CC</text>
<text x="295.2" y="358.2" font-size="14.0" text-anchor="middle" fill="#111" stroke="#111" stroke-width="0.25">genes</text>
<text x="353.6" y="342.0" font-size="14.0" text-anchor="middle" fill="#111" stroke="#111" stroke-width="0.25">Total</text>
<text x="353.6" y="358.2" font-size="14.0" text-anchor="middle" fill="#111" stroke="#111" stroke-width="0.25">genes</text>
<text x="34.3" y="374.0" font-size="14.3" text-anchor="middle" fill="#111" stroke="#111" stroke-width="0.25">Group A</text>
<text x="116.8" y="373.3" font-size="12.75" text-anchor="middle" fill="#111" stroke="#111" stroke-width="0.25">418(24%)</text>
<text x="214.1" y="373.3" font-size="12.75" text-anchor="middle" fill="#111" stroke="#111" stroke-width="0.25">511(30%)</text>
<text x="295.2" y="374.1" font-size="14.3" text-anchor="middle" fill="#111" stroke="#111" stroke-width="0.25">773</text>
<text x="353.6" y="374.1" font-size="14.3" text-anchor="middle" fill="#111" stroke="#111" stroke-width="0.25">1702</text>
<text x="34.3" y="390.6" font-size="14.3" text-anchor="middle" fill="#111" stroke="#111" stroke-width="0.25">Group B</text>
<text x="116.8" y="389.9" font-size="12.75" text-anchor="middle" fill="#111" stroke="#111" stroke-width="0.25">620(23%)</text>
<text x="214.1" y="389.9" font-size="12.75" text-anchor="middle" fill="#111" stroke="#111" stroke-width="0.25">701(26%)</text>
<text x="295.2" y="390.7" font-size="14.3" text-anchor="middle" fill="#111" stroke="#111" stroke-width="0.25">1375</text>
<text x="353.6" y="390.7" font-size="14.3" text-anchor="middle" fill="#111" stroke="#111" stroke-width="0.25">2696</text>
<text x="34.3" y="407.6" font-size="14.3" text-anchor="middle" fill="#111" stroke="#111" stroke-width="0.25">Group C</text>
<text x="116.8" y="406.9" font-size="12.75" text-anchor="middle" fill="#111" stroke="#111" stroke-width="0.25">251(18%)</text>
<text x="214.1" y="406.9" font-size="12.75" text-anchor="middle" fill="#111" stroke="#111" stroke-width="0.25">448(33%)</text>
<text x="295.2" y="407.7" font-size="14.3" text-anchor="middle" fill="#111" stroke="#111" stroke-width="0.25">676</text>
<text x="353.6" y="407.7" font-size="14.3" text-anchor="middle" fill="#111" stroke="#111" stroke-width="0.25">1350</text>
<text x="34.3" y="424.3" font-size="14.3" text-anchor="middle" fill="#111" stroke="#111" stroke-width="0.25">Group D</text>
<text x="116.8" y="423.6" font-size="12.75" text-anchor="middle" fill="#111" stroke="#111" stroke-width="0.25">856(24%)</text>
<text x="214.1" y="423.6" font-size="12.75" text-anchor="middle" fill="#111" stroke="#111" stroke-width="0.25">573(16%)</text>
<text x="295.2" y="424.4" font-size="14.3" text-anchor="middle" fill="#111" stroke="#111" stroke-width="0.25">2091</text>
<text x="353.6" y="424.4" font-size="14.3" text-anchor="middle" fill="#111" stroke="#111" stroke-width="0.25">3520</text>
<text x="34.3" y="440.1" font-size="14.3" text-anchor="middle" fill="#111" stroke="#111" stroke-width="0.25">Group E</text>
<text x="116.8" y="439.4" font-size="12.75" text-anchor="middle" fill="#111" stroke="#111" stroke-width="0.25">333(15%)</text>
<text x="214.1" y="439.4" font-size="12.75" text-anchor="middle" fill="#111" stroke="#111" stroke-width="0.25">745(34%)</text>
<text x="295.2" y="440.2" font-size="14.3" text-anchor="middle" fill="#111" stroke="#111" stroke-width="0.25">1097</text>
<text x="353.6" y="440.2" font-size="14.3" text-anchor="middle" fill="#111" stroke="#111" stroke-width="0.25">2175</text>
<path d="M567.1 459.5h0M619.1 459.8h0M611.7 460.2h0M524.8 460.1h0M613.2 460.8h0M515.9 459.9h0M633.8 460.0h0M614.9 460.4h0M649.6 460.0h0M615.5 459.6h0M571.8 460.1h0M649.5 460.3h0M509.0 459.6h0M641.0 459.2h0M578.7 459.8h0M522.6 460.8h0M611.4 459.8h0M531.7 460.0h0M636.1 460.4h0M528.6 460.7h0M648.0 460.5h0M587.7 460.0h0M597.3 460.1h0M658.0 459.6h0M593.2 459.9h0M658.6 459.4h0M616.2 459.5h0M640.4 459.9h0M591.7 460.8h0M620.6 459.7h0M616.5 460.3h0M615.4 460.6h0M520.9 460.0h0M539.5 459.9h0M622.9 459.9h0M562.4 459.0h0M649.5 460.0h0M573.5 460.1h0M545.9 459.7h0M619.8 458.9h0M555.5 459.4h0M590.0 459.6h0M587.2 460.4h0M630.3 460.6h0M625.0 460.1h0M620.6 460.0h0M629.6 458.9h0M571.2 459.0h0M540.7 459.4h0M564.3 459.9h0M625.7 459.4h0M596.7 460.5h0M509.3 458.8h0M605.1 459.7h0M636.2 458.8h0M511.9 458.6h0M571.1 460.1h0M551.0 460.6h0M607.7 459.7h0M600.0 459.7h0M556.4 459.8h0M602.7 460.5h0M538.7 459.8h0M514.4 459.6h0M641.8 460.9h0M658.2 459.3h0M619.4 459.2h0M587.9 459.5h0M650.4 460.3h0M536.9 459.7h0M588.3 459.0h0M647.1 460.2h0M600.8 460.3h0M525.7 460.1h0M588.1 460.1h0M577.6 459.1h0M530.2 460.7h0M580.7 459.4h0M514.0 459.6h0M566.8 459.3h0M563.9 459.8h0M605.5 460.1h0M585.3 459.0h0M582.9 460.2h0M530.8 459.7h0M607.9 460.4h0M602.9 459.8h0M623.3 459.3h0M595.2 459.8h0M601.8 460.1h0M635.6 460.7h0M631.9 459.5h0M596.3 459.8h0M637.8 460.2h0M547.8 459.2h0M508.7 459.9h0M523.0 460.1h0M626.1 460.6h0M519.4 460.6h0M531.4 461.1h0M628.4 458.9h0M618.7 459.3h0M520.9 459.9h0M512.4 459.0h0M650.2 459.7h0M586.3 460.3h0M591.0 459.6h0M636.6 459.7h0M586.1 460.3h0M535.0 460.1h0M572.1 459.6h0M530.7 459.0h0M550.0 460.5h0M534.4 459.7h0M599.3 459.8h0M606.7 460.0h0M523.1 460.3h0M653.9 460.4h0M516.5 459.8h0M515.0 459.5h0M508.5 460.6h0M644.8 459.9h0M508.0 459.9h0M568.3 459.9h0M555.3 460.1h0M522.0 460.7h0M602.7 460.3h0M525.8 460.4h0M536.1 460.2h0M575.0 459.8h0M607.1 460.4h0M523.8 459.8h0M608.3 459.5h0M564.9 459.2h0M631.5 460.4h0M589.2 460.0h0M646.5 459.9h0M564.6 459.4h0M597.2 459.7h0M657.9 459.9h0M575.5 460.0h0M508.3 460.0h0M645.4 460.2h0M650.6 460.3h0M623.5 459.5h0M609.1 459.6h0M629.4 459.9h0M568.9 460.1h0M597.5 460.3h0M546.9 459.4h0M617.0 459.9h0M507.4 460.0h0M594.2 459.3h0M590.7 459.5h0M534.8 460.0h0M567.7 460.4h0M582.4 460.3h0M619.8 459.5h0M515.3 459.6h0M536.4 459.8h0M534.9 459.6h0M648.9 460.0h0M552.0 459.7h0M562.5 460.0h0M626.0 458.8h0M600.4 459.5h0M604.5 458.9h0M574.8 460.2h0M527.3 459.9h0M514.8 460.7h0M533.6 459.3h0M577.3 459.3h0M605.8 459.2h0M511.9 460.1h0M569.1 460.4h0M558.1 459.7h0M601.4 460.4h0M569.7 459.7h0M631.7 460.0h0M608.3 459.5h0M551.7 459.3h0M561.5 460.5h0M645.9 458.8h0M525.7 459.9h0M567.9 460.8h0M642.1 460.0h0M580.3 458.5h0M565.2 460.1h0M552.8 460.5h0M628.8 460.7h0M586.6 459.7h0M608.3 458.9h0M522.6 459.2h0M578.7 459.0h0M571.4 459.6h0M540.5 459.5h0M610.1 460.0h0M607.7 459.8h0M583.0 460.1h0M552.7 459.9h0M611.9 460.1h0M600.9 460.2h0M621.5 460.8h0M535.3 459.8h0M591.6 459.3h0M597.4 459.4h0M564.6 459.9h0M639.6 460.5h0M610.4 459.1h0M544.8 458.7h0M594.0 460.1h0M506.2 459.2h0M584.2 459.9h0M566.2 459.5h0M656.3 459.2h0M597.4 460.0h0M636.0 458.8h0M613.9 460.1h0M567.4 459.5h0M513.9 459.5h0M580.2 460.2h0M635.0 459.9h0M654.5 459.9h0M560.0 460.1h0M574.9 460.4h0M530.1 460.5h0M588.5 459.7h0M523.8 460.5h0M581.6 459.9h0M535.6 459.7h0M517.0 460.2h0M543.1 459.2h0M643.7 460.1h0M617.7 460.3h0M598.0 459.9h0M534.2 459.9h0M650.7 460.1h0M513.3 459.5h0M603.1 460.1h0M646.5 460.8h0M625.6 459.9h0M633.3 458.9h0M564.1 459.8h0M612.3 459.7h0M574.1 460.7h0M575.3 459.7h0M614.2 459.2h0M507.2 459.4h0M540.4 459.8h0M646.2 460.6h0M602.2 459.8h0M528.3 459.1h0M545.1 459.1h0M570.1 459.4h0M612.3 459.6h0M531.8 460.2h0M569.3 459.6h0M648.3 459.7h0M507.3 459.7h0M649.5 459.3h0M549.8 460.6h0M563.9 459.9h0M631.2 459.5h0M607.1 459.3h0M610.2 459.6h0M606.0 460.1h0M593.1 460.1h0M571.9 459.9h0M519.8 459.3h0M551.2 459.7h0M620.9 459.8h0M597.3 459.6h0M657.9 458.7h0M541.6 458.9h0M539.8 459.6h0M530.4 460.1h0M545.0 458.9h0M624.2 459.8h0M512.1 459.9h0M546.7 459.1h0M507.1 460.0h0M544.8 459.6h0M552.5 460.1h0M646.1 458.6h0M636.0 460.1h0M514.6 459.3h0M541.9 460.0h0M526.6 460.0h0M554.8 460.2h0M636.9 459.9h0M543.0 458.8h0M508.4 459.7h0M617.3 459.7h0M642.3 459.8h0M627.7 460.8h0M594.3 460.6h0M603.2 459.8h0M613.9 459.9h0M615.1 459.9h0M593.9 459.9h0M553.1 459.2h0M592.5 460.6h0M524.0 459.5h0M592.9 459.0h0M651.9 459.1h0M514.5 459.9h0M552.1 459.6h0M584.2 460.3h0M523.5 459.7h0M544.6 459.6h0M595.5 460.2h0M629.8 459.9h0M617.9 459.6h0M620.8 460.0h0M639.0 460.3h0M589.8 460.1h0M612.1 460.1h0M599.2 460.7h0M628.2 460.5h0M608.6 459.6h0M551.5 459.7h0M630.0 460.3h0M597.2 459.6h0M585.1 460.9h0M655.8 459.3h0M558.8 459.1h0M657.7 459.1h0M567.7 459.9h0M586.0 460.0h0M569.2 460.2h0M619.7 460.0h0M604.5 460.1h0M578.4 459.9h0M573.7 459.7h0M633.2 459.8h0M585.0 459.3h0M566.7 460.0h0M540.9 459.8h0M639.4 459.9h0M591.4 460.2h0M612.7 459.5h0M558.2 459.5h0M508.0 459.9h0M550.6 459.3h0M537.7 459.5h0M555.8 459.8h0M522.1 460.0h0M556.2 460.4h0M522.4 459.9h0M569.2 459.7h0M550.8 460.2h0M573.5 459.9h0M611.4 459.8h0M643.8 460.3h0M603.1 459.5h0M626.2 459.9h0M648.4 459.9h0M563.2 460.8h0M579.3 460.2h0M542.8 459.9h0M537.0 460.4h0M554.8 458.7h0M628.7 459.6h0M535.8 460.4h0M645.1 459.1h0M627.5 459.7h0M586.1 459.0h0M578.6 459.8h0M594.2 459.7h0M540.2 460.1h0M654.6 459.7h0M534.7 459.7h0M595.2 458.3h0M644.2 459.7h0M516.9 460.3h0M620.1 458.5h0M651.8 459.3h0M610.8 460.3h0M627.9 459.6h0M557.6 458.9h0M627.7 458.8h0M555.6 459.1h0M600.8 460.3h0M612.7 459.2h0M528.3 460.0h0M605.7 460.2h0M511.0 459.7h0M535.6 459.6h0M548.5 459.0h0M650.9 459.6h0M541.0 460.6h0M596.2 460.3h0M646.6 459.7h0M561.4 459.5h0M539.5 459.4h0M637.8 459.9h0M643.1 460.6h0M653.2 461.7h0M565.0 460.6h0M618.4 458.9h0M561.5 459.2h0M558.0 459.2h0M578.7 460.0h0M627.7 460.0h0M553.2 459.6h0M614.8 459.3h0M549.7 460.4h0M545.3 460.2h0M537.3 459.2h0M642.3 459.9h0M612.6 459.3h0M597.8 460.0h0M525.8 459.6h0M649.7 460.4h0M598.0 460.1h0M627.8 461.1h0M540.1 459.7h0M622.6 459.9h0M539.4 460.2h0M624.8 459.1h0M592.4 459.8h0M596.9 459.9h0M508.0 458.9h0M527.5 459.7h0M572.8 459.5h0M536.8 459.7h0M599.4 459.9h0M539.8 460.1h0M649.3 460.0h0M593.7 459.7h0M568.9 460.2h0M605.5 459.9h0M509.0 460.2h0M559.2 459.7h0M651.2 460.0h0M578.3 460.0h0M553.9 459.5h0M651.4 460.4h0M569.5 460.3h0M636.5 459.9h0M572.2 460.2h0M540.7 459.9h0M559.7 459.5h0M616.0 460.5h0M512.8 460.4h0M640.0 460.5h0M626.6 460.1h0M517.5 460.5h0M609.3 460.0h0M635.0 460.7h0M577.5 459.6h0M642.7 458.6h0M605.0 459.4h0M610.6 459.5h0M527.5 459.6h0M520.1 459.9h0M608.2 459.5h0M651.2 460.0h0M550.5 459.2h0M534.2 459.7h0M658.0 459.9h0M551.8 458.7h0M645.4 460.8h0M533.2 459.2h0M529.8 460.0h0M613.3 459.9h0M513.8 459.3h0M617.5 459.9h0M513.1 459.6h0M551.4 458.6h0M567.7 459.8h0M635.5 459.4h0M658.4 459.9h0M528.4 460.4h0M591.3 458.7h0M617.2 460.6h0M657.8 460.1h0M564.5 458.9h0M607.7 460.2h0M646.9 460.1h0M655.9 460.1h0M568.0 460.3h0M600.9 459.5h0M640.6 459.6h0M574.9 459.9h0M656.0 459.0h0M584.8 459.1h0M541.1 459.3h0M512.9 460.1h0M620.7 459.1h0M628.4 460.1h0M603.9 460.8h0M650.5 458.9h0M514.7 459.5h0M531.3 459.1h0M565.0 459.6h0M517.0 459.9h0M642.0 459.7h0M541.6 459.6h0M542.2 459.2h0M556.2 459.8h0M548.5 460.4h0M589.2 459.7h0M612.6 460.0h0M546.0 460.3h0M546.1 459.6h0M615.9 460.2h0M618.2 459.5h0M556.7 460.2h0M511.6 459.8h0M506.6 459.1h0M549.8 459.6h0M569.3 459.4h0M535.0 460.1h0M589.3 459.7h0M640.8 459.7h0M545.7 459.5h0M609.0 459.9h0M568.1 459.4h0M583.7 459.5h0M519.2 460.3h0M556.6 459.7h0M635.5 459.6h0M570.9 460.7h0M523.8 459.4h0M536.8 459.6h0M657.4 460.3h0M629.6 459.6h0M608.5 459.7h0M594.9 460.0h0M535.2 459.8h0M539.7 459.1h0M624.8 460.4h0M654.4 459.7h0M574.8 460.4h0M559.9 459.9h0M646.4 458.5h0M530.9 459.6h0M564.6 460.0h0M614.8 459.8h0M511.0 459.9h0M646.9 460.3h0M542.1 460.6h0M612.6 459.8h0M527.2 460.7h0M649.2 459.4h0M632.0 459.1h0M525.0 459.6h0M604.5 459.5h0M553.9 460.2h0M518.4 460.1h0M507.4 459.0h0M584.5 460.4h0M531.6 459.9h0M653.0 459.5h0M546.1 460.4h0M644.3 460.2h0M540.5 459.8h0M620.2 459.1h0M556.1 460.5h0" stroke="#bdbdbd" stroke-width="3.0" stroke-linecap="round" fill="none"/>
<path d="M520.1 453.6h0M583.7 454.6h0M534.2 451.4h0M583.4 453.6h0M577.1 455.4h0M510.4 456.4h0M552.9 452.5h0M506.6 451.8h0M602.7 453.6h0M639.5 456.6h0M606.3 458.0h0M653.6 457.1h0M514.3 453.2h0M523.3 454.9h0M512.7 453.7h0M600.0 453.2h0M575.5 455.1h0M611.7 455.7h0M566.4 451.4h0M532.9 451.5h0M595.1 455.0h0M516.0 454.1h0M592.0 455.5h0M511.8 455.8h0M543.2 453.1h0M519.9 456.7h0M598.9 456.5h0M564.2 450.6h0M515.8 456.5h0M500.0 453.1h0M506.7 456.1h0M558.2 457.8h0M540.1 452.5h0M658.0 457.4h0M561.8 455.4h0M500.4 453.0h0M610.8 457.7h0M570.7 453.3h0M560.9 454.9h0M503.6 457.3h0M501.0 452.5h0M523.4 456.2h0M639.2 454.4h0M531.4 453.1h0M572.2 451.6h0M647.4 456.0h0M546.1 451.8h0M545.4 453.2h0M604.7 456.2h0M531.3 453.0h0M615.1 456.6h0M573.7 453.0h0M624.2 455.1h0M639.0 455.1h0M590.2 456.8h0M512.9 452.2h0M578.0 456.6h0M529.8 456.2h0M514.1 452.8h0M574.2 455.7h0" stroke="#bdbdbd" stroke-width="3.0" stroke-linecap="round" fill="none"/>
<path d="M575.4 453.0h0M575.4 437.8h0M570.5 451.7h0M573.6 454.5h0M578.4 455.5h0M569.8 453.7h0M573.3 440.5h0M580.6 451.2h0M579.1 453.7h0M575.7 454.3h0M580.8 451.2h0M570.0 443.8h0M573.9 449.4h0M573.2 435.5h0M579.7 448.0h0M572.5 448.6h0M570.7 441.5h0M573.5 427.9h0M571.6 436.6h0M571.9 441.7h0M582.2 453.0h0M567.6 454.2h0M579.7 449.4h0M573.2 450.3h0M576.0 446.5h0M575.7 440.1h0M578.6 457.3h0M572.2 439.4h0M573.8 434.3h0M581.8 457.2h0M572.0 451.3h0M575.5 432.7h0M574.7 442.8h0M568.3 455.3h0M569.4 446.7h0M575.2 445.4h0M577.8 444.9h0M576.9 455.7h0M571.3 444.4h0M580.1 456.9h0M574.6 445.1h0M572.8 448.5h0M573.6 430.9h0M575.2 442.8h0M578.3 450.2h0M573.2 437.1h0M575.6 433.3h0M582.0 452.4h0M575.0 453.0h0M571.7 433.8h0M576.8 440.4h0M577.2 453.5h0M574.8 441.4h0M576.7 441.6h0M571.4 441.4h0" stroke="#bdbdbd" stroke-width="3.0" stroke-linecap="round" fill="none"/>
<path d="M548.7 421.3h0M546.7 404.4h0M544.8 412.4h0M546.1 436.9h0M552.6 448.1h0M553.5 378.4h0M564.4 386.9h0M569.0 407.1h0M551.6 416.8h0M550.1 388.8h0M550.0 379.7h0M556.3 404.6h0M562.0 413.4h0M564.8 418.8h0M558.1 439.5h0M547.5 389.6h0M570.0 414.3h0M572.8 443.5h0M553.6 390.0h0M556.3 448.2h0M558.0 397.1h0M568.4 443.1h0M573.0 429.0h0M558.9 391.8h0M573.1 435.2h0M563.7 425.3h0M547.3 394.1h0M557.5 387.8h0M557.6 367.1h0M568.4 401.9h0M551.9 387.6h0M553.1 417.5h0M565.9 403.0h0M565.9 415.3h0M569.0 428.7h0M554.2 375.9h0M547.9 426.0h0M548.9 397.3h0M557.0 420.5h0M559.6 423.1h0M568.4 449.2h0M562.9 402.7h0M558.9 395.9h0M569.7 413.0h0M565.3 436.4h0M565.3 442.3h0M557.5 425.9h0M571.3 407.9h0M548.1 439.3h0M560.7 448.7h0M562.2 388.2h0M546.9 443.3h0M551.1 380.2h0M559.9 427.7h0M568.0 424.1h0M553.4 445.3h0M558.8 432.0h0M545.9 392.4h0M567.2 424.8h0M565.5 425.6h0M552.7 409.0h0M546.1 402.8h0M547.5 394.8h0M554.0 375.8h0M549.4 442.8h0M556.0 447.3h0M552.8 410.6h0M559.9 400.8h0M568.5 409.6h0M554.2 438.7h0M562.2 430.8h0M559.2 400.7h0M558.2 383.2h0M570.7 433.6h0M555.7 433.6h0M560.4 422.3h0M550.7 432.4h0M551.4 400.6h0M567.9 388.3h0M567.5 439.1h0M548.3 428.6h0M552.3 389.5h0M554.3 433.0h0M563.4 399.0h0M564.8 435.8h0M549.3 440.4h0M559.7 420.7h0M558.0 427.0h0M560.3 404.6h0M559.1 438.0h0M546.6 427.9h0M552.0 373.2h0M557.8 377.1h0M557.7 380.5h0M557.2 377.8h0M557.2 417.9h0M570.1 398.0h0M545.6 403.0h0M562.9 397.1h0M566.3 392.8h0M569.1 446.2h0M556.4 411.8h0M555.3 382.0h0M561.8 376.2h0M548.4 402.0h0M563.7 444.6h0M561.7 429.6h0M558.1 434.4h0M567.2 403.2h0M547.4 438.5h0M550.9 443.5h0M555.3 414.0h0M557.2 431.5h0M554.3 410.2h0M550.4 395.0h0M546.5 388.5h0M551.9 425.3h0M547.7 379.2h0M545.7 440.4h0M567.3 418.4h0M545.9 405.9h0M560.7 437.7h0M546.1 397.3h0M573.0 433.1h0M544.4 416.8h0M548.8 385.3h0M553.3 387.2h0M552.5 385.3h0M554.0 416.8h0M561.0 428.7h0M561.3 392.9h0M549.7 401.2h0M560.4 426.2h0M570.7 431.4h0M543.5 432.2h0M558.1 445.9h0M573.3 430.3h0M545.7 421.6h0M546.8 402.5h0M547.2 391.9h0M544.7 412.4h0M545.9 387.0h0M567.9 391.2h0M561.5 440.4h0M563.4 436.4h0M549.0 451.5h0M550.3 440.3h0M546.3 440.1h0M550.1 432.2h0M547.1 409.1h0M561.4 414.0h0M565.7 439.3h0M559.7 386.3h0M568.5 403.0h0M551.4 432.5h0M567.4 436.9h0M543.8 413.5h0M544.2 419.5h0M547.3 432.7h0M543.6 425.4h0M558.2 410.4h0M554.8 417.4h0M545.1 443.8h0M567.9 430.1h0M565.0 439.6h0M548.7 401.4h0M549.4 445.6h0M558.1 437.4h0M551.1 417.7h0M566.9 395.4h0M551.6 373.3h0M563.1 401.3h0M549.4 393.6h0M553.2 376.7h0M562.0 379.3h0M549.9 397.0h0M549.8 438.6h0M568.5 420.1h0M560.7 443.8h0M564.5 421.7h0M566.1 406.4h0M571.0 449.6h0M551.2 383.1h0M552.5 404.0h0M549.3 425.1h0M567.3 437.6h0M560.5 430.9h0M568.5 428.6h0M553.2 415.5h0M562.2 375.8h0M557.2 382.1h0M546.7 442.4h0M553.5 448.4h0M566.6 416.5h0M558.5 421.8h0M560.3 389.2h0M549.0 384.8h0M568.2 446.3h0M556.8 381.0h0M548.7 392.4h0M554.9 442.0h0M559.8 408.2h0M563.0 381.2h0M554.9 403.9h0M545.1 392.3h0M561.3 417.9h0M551.5 372.2h0M561.3 379.3h0M566.4 446.6h0M553.2 432.2h0M570.3 420.0h0M555.0 403.7h0M561.3 382.0h0M555.9 376.1h0M559.2 415.7h0M544.3 413.0h0M563.2 428.3h0M560.9 396.7h0M559.4 423.4h0M557.0 429.3h0M567.0 430.6h0M556.9 378.6h0M548.6 391.5h0M552.9 378.7h0M560.1 383.3h0M554.4 430.2h0M569.7 399.7h0M573.2 441.6h0M561.0 394.4h0M549.2 425.3h0M544.9 421.8h0M550.3 382.1h0M562.7 399.6h0M568.3 399.4h0M568.0 419.1h0M562.2 387.0h0M553.4 422.7h0M557.1 451.0h0M563.8 425.6h0M548.6 406.8h0M551.9 377.1h0M556.7 377.6h0M565.5 421.6h0M554.0 435.2h0M544.4 401.9h0M547.8 407.3h0M554.2 371.8h0M569.9 434.0h0M561.8 401.8h0M560.8 409.0h0M561.2 393.6h0M569.1 410.7h0M550.6 416.3h0M567.9 408.9h0M553.4 412.8h0M565.1 381.7h0M556.4 410.7h0M548.9 408.0h0M547.1 383.1h0M554.7 443.0h0M562.6 390.1h0M563.4 409.9h0M565.5 435.4h0M559.4 398.7h0M557.2 436.5h0M557.0 412.7h0M567.3 440.7h0M561.7 411.4h0M546.2 398.4h0M549.1 432.4h0M564.5 377.7h0M561.5 441.2h0M570.1 398.4h0M554.7 411.6h0M556.4 449.8h0M570.3 442.8h0M551.4 417.7h0M555.8 384.0h0M545.7 399.8h0M569.4 435.2h0M557.5 400.7h0M547.5 434.6h0M564.4 442.8h0M554.5 385.9h0M566.8 419.6h0M553.4 426.6h0M549.0 407.4h0M567.6 395.9h0M547.0 424.1h0M564.9 418.3h0M559.3 404.9h0M550.7 397.7h0M569.4 429.9h0M549.0 436.3h0M568.3 425.6h0M562.7 385.9h0M553.6 436.8h0M570.3 439.7h0M566.5 428.4h0M569.2 447.0h0M572.4 441.7h0M553.3 445.2h0M570.7 413.0h0M571.3 435.5h0M556.7 422.2h0M552.1 383.1h0M558.6 407.1h0M558.6 427.8h0M548.9 434.4h0M553.4 400.3h0M571.7 429.6h0M566.3 434.3h0M556.5 395.8h0M559.7 438.9h0M548.6 426.3h0M558.2 447.2h0M565.7 445.3h0M556.2 405.7h0M551.0 383.9h0M553.0 384.4h0M563.0 414.9h0M566.6 430.6h0M562.7 411.5h0M558.3 395.3h0M552.9 394.6h0M559.3 404.2h0M560.5 423.5h0M562.5 416.1h0M557.4 405.5h0M550.6 450.4h0M545.4 435.3h0M558.3 395.8h0M552.8 447.4h0M553.7 415.7h0M556.3 422.9h0M560.8 411.7h0M559.6 390.0h0M566.7 393.9h0M553.6 421.5h0M565.6 437.6h0M544.5 423.2h0M554.3 418.1h0M548.6 400.2h0M550.8 424.3h0M559.1 420.7h0M567.5 396.8h0M551.6 422.3h0M552.9 408.8h0M563.1 413.8h0M549.9 401.0h0M571.7 439.6h0M550.5 433.0h0M565.1 380.2h0M568.3 440.4h0M569.1 395.9h0M555.6 392.2h0M569.3 431.7h0M560.0 412.2h0M552.4 416.5h0M544.5 428.1h0M557.8 416.3h0M555.1 445.8h0M549.8 407.9h0M565.1 430.2h0M552.8 376.5h0M571.2 436.1h0M559.2 442.6h0M567.9 423.8h0M551.3 373.7h0M564.6 426.3h0M554.6 440.0h0M568.3 450.3h0M556.2 434.6h0M549.7 412.6h0M567.1 427.9h0M569.2 414.6h0M562.9 385.1h0M568.2 431.4h0M551.0 446.0h0M556.3 440.0h0M550.4 398.1h0M547.5 379.2h0M559.5 407.5h0M546.4 444.9h0M563.3 410.5h0M551.8 401.9h0M559.1 445.3h0M555.8 439.4h0M545.2 426.9h0M546.9 389.5h0M545.7 441.8h0M571.6 434.2h0M559.0 375.6h0M559.6 443.3h0M574.6 447.6h0M565.8 419.7h0M564.7 431.8h0M553.4 379.5h0M551.8 385.6h0M560.8 389.5h0" stroke="#3159ad" stroke-width="3.0" stroke-linecap="round" fill="none"/>
<path d="M522.6 423.1h0M541.4 393.5h0M536.1 427.0h0M522.9 446.2h0M520.8 448.7h0M544.6 396.0h0M526.4 401.3h0M535.9 398.4h0M530.5 425.2h0M536.6 425.2h0M542.9 420.7h0M537.3 450.2h0M519.9 444.2h0M534.3 442.3h0M536.7 401.2h0M538.4 395.8h0M531.6 423.3h0M540.6 393.9h0M539.9 416.8h0M535.8 436.0h0M527.7 408.4h0M535.6 418.0h0M537.6 401.9h0M516.8 427.1h0M522.4 429.2h0M536.5 441.3h0M526.2 401.3h0M523.5 439.1h0M530.0 417.4h0M539.8 444.3h0M529.5 403.8h0M535.5 398.5h0M523.1 445.4h0M536.2 413.4h0M530.2 436.3h0M539.4 396.7h0M525.3 406.6h0M518.8 426.3h0M526.0 400.1h0M522.6 443.2h0M530.0 417.1h0M525.5 448.4h0M545.0 434.6h0M540.9 419.7h0M521.5 425.2h0M545.3 400.3h0M544.0 443.3h0M524.9 430.3h0M539.4 408.2h0M542.3 431.8h0M522.6 425.8h0M531.9 418.7h0M528.7 418.6h0M533.5 399.6h0M535.8 438.2h0M522.5 420.3h0M524.3 414.3h0M521.5 419.7h0M537.4 424.3h0M546.4 400.8h0M540.6 423.0h0M525.2 408.0h0M542.2 383.6h0M533.5 393.4h0M532.4 405.2h0M523.8 410.2h0M524.2 447.7h0M539.5 387.6h0M539.6 434.7h0M545.5 414.9h0M539.7 435.9h0M541.9 421.6h0M544.5 432.4h0M527.6 403.4h0M542.7 446.4h0M527.5 446.1h0M541.2 428.6h0M524.6 427.8h0M519.8 437.4h0M543.3 417.7h0M531.3 411.1h0M533.6 435.6h0M543.0 448.7h0M544.8 443.2h0M544.0 395.1h0M538.3 410.4h0M529.2 397.2h0M531.1 419.0h0M528.4 420.7h0M528.7 413.3h0M531.0 439.9h0M544.5 420.0h0M540.0 398.3h0M519.6 433.9h0M545.2 424.4h0M540.5 419.2h0M539.9 449.1h0M545.7 447.6h0M532.7 424.1h0M540.5 449.4h0M530.7 446.8h0M543.9 444.4h0M536.9 437.6h0M542.4 384.3h0M536.8 406.4h0M541.7 399.9h0M547.7 384.1h0M531.6 440.1h0M523.1 408.4h0M542.1 426.1h0M540.3 417.8h0M526.2 441.6h0M529.4 446.7h0M539.0 395.7h0M519.3 417.2h0M542.5 392.3h0M540.2 403.0h0M520.8 437.0h0M534.5 404.8h0M532.1 444.7h0M530.9 418.5h0M533.7 394.7h0M537.6 423.2h0M539.6 438.1h0M547.6 384.0h0M522.6 412.3h0M545.6 405.5h0M521.8 415.4h0M541.6 410.1h0M542.8 383.0h0M542.9 409.4h0M529.5 404.9h0M538.2 393.2h0M532.0 411.2h0M525.8 439.5h0M540.2 431.1h0M542.0 403.6h0M541.9 382.7h0M538.8 428.3h0M533.7 422.4h0M530.3 408.1h0M530.7 421.8h0M542.9 400.9h0M533.4 405.0h0M520.7 429.3h0M539.6 408.4h0M524.9 412.6h0M545.7 424.7h0M526.9 448.0h0M539.2 436.8h0" stroke="#3159ad" stroke-width="3.0" stroke-linecap="round" fill="none"/>
<path d="M530.0 388.4h0M510.6 445.5h0M515.0 403.0h0M542.2 383.8h0M517.4 443.6h0M539.6 392.6h0M531.6 380.2h0M517.2 424.3h0M513.7 404.7h0M509.9 437.8h0M528.5 394.9h0M511.0 431.3h0M505.3 445.3h0M523.7 390.1h0M526.9 414.5h0M517.9 410.9h0M531.2 380.0h0M507.9 409.7h0M534.3 393.5h0M532.7 389.9h0M512.3 438.3h0M507.2 437.6h0M520.1 414.2h0M520.8 408.9h0M533.0 384.1h0M533.0 384.0h0M538.1 384.8h0M508.4 443.4h0M511.7 413.7h0M511.4 404.9h0M508.5 410.3h0M539.5 388.9h0M507.1 421.2h0M510.9 422.4h0M525.1 406.4h0M532.4 380.3h0M515.9 444.4h0M527.7 412.0h0M515.8 406.0h0M514.2 438.2h0M509.8 437.2h0M522.3 399.3h0M513.1 422.6h0M528.4 406.6h0M522.9 407.6h0M517.3 416.7h0M516.6 395.1h0M517.6 432.9h0M508.9 444.4h0M509.1 429.3h0M511.4 404.0h0M523.9 424.0h0M515.4 422.6h0M510.5 403.5h0M511.9 418.7h0M535.2 380.3h0M517.4 395.3h0M505.4 447.6h0M524.4 406.2h0M542.8 375.6h0M514.1 446.1h0M535.7 392.1h0M519.0 436.2h0M514.7 399.4h0M513.7 397.2h0M501.3 422.1h0M521.1 419.7h0M513.3 442.5h0M516.0 438.5h0M518.5 404.5h0" stroke="#3159ad" stroke-width="3.0" stroke-linecap="round" fill="none"/>
<path d="M479.9 308.5h0M503.5 315.0h0M503.5 322.7h0M515.1 320.5h0M529.3 324.9h0M534.2 301.2h0M544.0 304.5h0M548.0 301.2h0M551.2 319.0h0M506.3 329.3h0M489.0 337.4h0M512.3 336.5h0M519.5 334.7h0M520.6 338.7h0M532.6 341.3h0M536.3 339.6h0M539.6 338.7h0M544.4 338.7h0M544.7 330.0h0M546.2 332.6h0M547.3 330.0h0M555.0 337.0h0M553.2 346.8h0M515.3 346.8h0M501.7 349.6h0M500.4 358.4h0M493.2 363.6h0M503.5 371.5h0M522.5 365.0h0M523.2 369.8h0M531.5 371.5h0M534.6 353.4h0M534.2 363.2h0M540.7 363.2h0M542.5 366.5h0M548.0 363.2h0M553.9 362.1h0" stroke="#3159ad" stroke-width="3.0" stroke-linecap="round" fill="none"/>
<path d="M518.6 370.4h0M513.7 371.5h0M507.6 385.1h0M495.3 385.2h0M496.2 376.3h0M504.1 392.9h0M488.9 396.8h0M504.7 386.2h0M490.5 408.7h0M505.3 381.3h0M492.8 397.2h0M544.5 373.1h0M485.2 401.3h0M523.6 382.7h0M518.5 389.0h0M497.8 390.5h0M545.1 374.9h0M509.6 392.9h0M502.4 399.6h0M514.5 392.1h0M540.8 375.4h0M513.9 382.5h0M484.2 400.7h0M489.2 400.7h0M527.9 381.8h0" stroke="#3159ad" stroke-width="3.0" stroke-linecap="round" fill="none"/>
<path d="M455.2 387.0h0M461.5 395.2h0M470.4 410.4h0M472.7 414.6h0M475.0 417.4h0M478.6 424.4h0M481.6 427.9h0M486.7 433.3h0M493.7 441.9h0M496.0 444.3h0M499.6 446.6h0M501.2 448.9h0M471.5 412.5h0M484.0 431.0h0" stroke="#3159ad" stroke-width="3.0" stroke-linecap="round" fill="none"/>
<path d="M602.5 430.5h0M602.7 419.3h0M593.2 451.5h0M594.7 442.5h0M608.5 434.3h0M608.6 442.4h0M606.5 445.5h0M593.8 426.0h0M601.2 445.6h0M601.3 449.3h0M587.7 438.0h0M593.1 437.0h0M615.1 429.5h0M587.9 433.7h0M594.0 425.6h0M601.7 445.5h0M605.8 438.6h0M590.3 436.6h0M614.5 429.6h0M603.2 451.8h0M608.1 429.9h0M588.2 450.7h0M615.1 438.1h0M599.4 421.2h0M601.7 434.5h0M589.4 436.4h0M623.8 448.6h0M590.7 434.7h0M583.4 447.8h0M614.5 441.8h0M583.9 434.2h0M602.1 423.8h0M586.0 428.9h0M598.4 451.4h0M595.1 449.2h0M593.4 442.3h0M607.9 428.1h0M613.5 442.6h0M619.8 442.2h0M584.1 445.4h0M623.9 448.7h0M610.2 422.4h0M613.5 450.4h0M623.1 449.2h0M583.9 434.0h0M619.5 439.5h0M604.0 452.9h0M587.2 451.7h0M606.9 427.2h0M619.9 450.0h0M602.2 451.3h0M589.9 442.2h0M612.3 447.0h0M597.7 422.0h0M603.3 448.2h0M593.7 448.8h0M592.2 434.4h0M610.4 446.4h0M598.0 444.6h0M616.6 445.6h0M592.3 448.2h0M615.1 438.7h0M595.4 443.4h0M583.2 443.9h0M599.2 444.6h0M607.0 430.5h0M594.6 435.6h0M586.2 427.1h0M609.3 424.8h0M594.8 424.2h0M592.7 431.9h0M586.3 428.8h0M624.3 450.8h0M622.0 451.2h0M612.3 451.8h0M609.4 432.3h0M587.8 440.8h0M624.4 450.8h0M611.5 453.0h0M613.2 447.9h0M620.0 437.5h0M618.0 433.2h0M589.9 447.0h0M616.5 440.3h0M601.6 427.2h0M618.7 441.3h0M610.8 446.7h0M582.2 448.3h0M592.0 436.7h0M602.8 420.1h0M620.1 448.1h0M600.1 445.8h0M586.9 446.2h0M617.2 443.5h0M610.5 447.1h0M602.6 442.0h0M601.0 438.4h0M593.1 425.0h0M620.1 437.4h0M594.8 428.3h0M595.5 436.1h0M587.2 433.8h0M596.1 431.5h0M596.8 419.6h0M614.4 451.1h0M597.5 430.2h0M611.1 451.0h0M604.5 440.6h0M585.0 428.9h0M600.9 440.9h0M597.6 443.8h0M604.2 421.5h0M594.7 438.2h0M616.8 441.1h0M603.8 423.1h0M615.6 441.7h0M590.6 452.6h0M590.0 445.1h0M595.6 448.1h0M592.8 447.9h0M596.2 438.6h0M594.5 439.7h0M596.3 438.7h0M616.9 435.3h0M613.7 431.9h0M589.8 429.7h0M597.2 435.1h0M602.5 445.7h0M616.5 432.0h0M615.4 438.9h0M581.6 447.0h0M620.7 440.4h0M603.3 449.8h0M582.5 436.1h0M589.3 434.3h0M607.7 425.7h0M583.0 435.3h0M611.3 436.4h0M617.5 452.9h0M600.7 438.2h0M590.0 450.9h0M615.3 451.8h0M597.8 435.6h0M604.0 421.6h0M591.9 441.0h0M595.4 435.8h0M598.8 427.2h0M587.9 428.9h0M582.9 448.8h0M609.7 435.4h0M594.8 441.8h0M595.7 447.3h0M603.8 430.7h0M613.7 435.1h0M612.4 433.0h0M604.2 440.8h0M616.5 450.9h0M609.4 446.9h0M587.4 425.1h0M601.1 426.5h0M605.1 428.6h0M618.0 451.5h0M598.6 446.2h0M608.4 425.9h0M603.9 422.4h0M594.2 420.6h0M588.3 449.0h0M603.4 448.3h0M601.1 428.8h0M602.5 430.6h0M589.1 425.7h0M603.4 431.6h0M585.6 439.4h0M620.6 437.1h0M595.6 435.5h0M594.0 431.4h0M615.7 432.3h0M594.4 424.2h0M605.9 435.7h0M613.8 436.4h0M593.3 451.2h0M602.2 423.7h0M605.0 436.0h0M602.8 443.1h0M596.6 440.5h0M591.9 443.4h0M616.6 436.7h0M597.3 444.7h0M615.5 433.1h0M600.5 439.2h0M582.5 436.3h0M583.6 435.4h0M608.1 431.2h0M599.2 450.7h0M625.7 452.3h0M587.9 429.2h0M592.2 449.8h0M608.4 437.5h0M584.0 445.8h0M587.8 448.5h0M611.0 433.5h0M591.1 451.5h0M595.8 443.8h0M609.4 431.6h0M591.9 425.9h0M622.8 443.5h0M596.0 428.6h0M617.0 446.8h0M594.4 426.8h0M592.1 446.4h0M602.0 441.6h0M611.2 446.0h0M604.9 418.9h0M610.5 426.5h0M619.3 438.4h0M611.6 442.0h0M619.2 446.6h0M622.2 446.9h0M591.7 444.1h0M596.2 444.4h0M605.6 438.1h0M619.9 449.8h0M596.1 433.9h0M606.4 442.3h0M583.9 452.0h0M613.2 429.5h0M609.4 437.6h0M602.1 436.1h0M617.5 432.2h0M615.2 438.6h0M601.0 424.4h0M599.2 437.9h0M599.9 435.2h0M583.4 452.4h0M606.9 443.4h0M587.8 424.8h0M598.1 447.1h0M607.2 443.2h0M602.9 450.4h0M611.0 451.3h0M617.7 437.3h0M598.2 421.1h0M592.5 421.2h0M583.2 445.2h0M603.2 430.8h0M612.7 429.2h0M589.1 425.7h0M623.9 448.9h0M589.3 450.5h0M601.1 425.9h0M607.4 425.8h0M604.2 444.1h0M599.4 449.6h0M596.2 420.6h0M593.9 422.2h0M602.1 427.0h0M622.6 445.9h0M596.3 436.8h0M596.9 426.3h0M589.7 425.6h0M590.1 450.7h0M591.1 440.8h0M591.0 450.6h0M618.7 451.6h0M599.2 449.1h0M614.9 445.3h0M610.8 426.1h0M592.4 436.3h0M596.3 432.0h0M594.5 422.8h0M592.9 441.3h0M592.9 449.3h0M593.6 440.9h0M620.9 446.6h0M589.7 425.5h0M582.2 451.0h0M592.8 431.8h0M615.3 428.2h0M617.4 444.4h0M585.1 428.5h0M616.5 441.9h0M599.3 422.6h0M587.7 430.2h0M602.6 440.9h0M620.0 442.2h0M605.6 436.5h0M599.8 448.3h0M590.7 430.2h0M591.6 440.9h0M597.7 441.8h0M614.0 444.9h0M587.6 443.2h0M600.7 449.0h0M589.0 447.4h0M587.8 430.1h0M597.0 448.9h0M587.9 432.5h0M597.0 436.6h0M602.7 440.7h0M616.2 443.4h0" stroke="#e8202a" stroke-width="3.0" stroke-linecap="round" fill="none"/>
<path d="M588.9 452.5h0M620.2 428.2h0M604.2 430.7h0M608.3 404.9h0M599.0 413.0h0M585.3 433.0h0M589.3 423.6h0M640.1 439.9h0M593.1 402.3h0M623.4 451.7h0M592.3 417.9h0M597.2 433.7h0M578.7 446.4h0M598.1 395.5h0M633.3 434.0h0M630.8 444.5h0M608.4 413.1h0M631.1 417.6h0M594.3 426.0h0M607.3 436.4h0M636.4 438.5h0M582.6 421.7h0M607.9 386.2h0M625.3 397.9h0M589.9 443.6h0M596.0 431.0h0M622.5 427.4h0M583.2 398.1h0M598.2 417.7h0M580.3 432.8h0M629.8 450.7h0M599.2 431.3h0M640.8 443.2h0M608.9 449.9h0M614.4 422.5h0M616.6 396.1h0M604.2 418.3h0M630.7 422.3h0M601.2 451.0h0M601.4 451.6h0M609.3 411.0h0M617.8 448.8h0M618.4 400.1h0M592.3 439.4h0M595.8 448.1h0M606.8 390.0h0M626.8 434.7h0M602.8 417.3h0M606.9 407.6h0M619.9 414.6h0M599.3 416.9h0M599.4 400.7h0M596.6 408.0h0M596.5 408.7h0M623.8 399.4h0M597.7 433.8h0M621.8 404.4h0M597.0 433.0h0M603.2 439.4h0M623.1 399.3h0M615.9 445.7h0M620.5 444.3h0M600.8 402.9h0M614.3 408.2h0M613.1 400.7h0M591.9 425.6h0M585.5 399.1h0M584.0 431.3h0M588.6 402.2h0M635.4 419.5h0M609.3 406.0h0M612.6 437.4h0M602.2 392.6h0M590.3 432.1h0M610.0 448.1h0M592.8 433.0h0M604.1 402.7h0M626.1 405.4h0M592.8 414.4h0M606.5 388.9h0M602.3 391.9h0M587.9 395.9h0M582.8 421.4h0M621.3 442.5h0M595.5 439.3h0M591.2 397.1h0M636.3 435.3h0M582.2 400.0h0M588.9 426.9h0M606.8 449.1h0M596.3 418.1h0M605.2 438.6h0M590.9 443.7h0M617.4 410.6h0M629.7 450.4h0M637.8 451.8h0M607.7 437.2h0M608.4 447.4h0M604.4 423.1h0M616.5 426.0h0M622.4 394.6h0M591.7 417.9h0M603.2 431.0h0M587.0 419.1h0M606.3 396.7h0M638.9 448.3h0M579.6 431.8h0M597.9 439.4h0M615.0 424.4h0M625.6 419.5h0M632.9 422.0h0M610.3 446.3h0M610.6 431.4h0M613.6 448.2h0M583.1 402.8h0M589.2 443.9h0M597.2 400.3h0M618.6 432.7h0M595.1 440.9h0M608.3 417.8h0" stroke="#e8202a" stroke-width="3.0" stroke-linecap="round" fill="none"/>
<path d="M618.9 394.3h0M644.9 408.3h0M654.0 424.7h0M646.1 437.6h0M639.1 434.3h0M658.7 438.0h0M648.7 444.0h0M650.0 428.6h0M647.9 423.1h0M623.8 391.0h0M653.4 430.0h0M661.4 432.9h0M637.2 414.1h0M659.9 431.0h0M637.6 429.7h0M655.5 455.3h0M651.5 443.3h0M635.8 420.6h0M610.2 395.1h0M654.0 421.4h0M647.4 444.9h0M628.5 402.4h0M614.1 391.7h0M635.8 435.2h0M639.3 406.7h0M655.7 451.7h0M659.5 432.2h0M642.2 436.1h0M633.5 414.3h0M657.0 443.4h0M639.9 430.0h0M650.4 453.4h0M653.8 450.5h0M648.7 437.6h0M664.8 451.1h0" stroke="#e8202a" stroke-width="3.0" stroke-linecap="round" fill="none"/>
<path d="M617.0 304.0h0M599.4 319.4h0M599.4 329.5h0M608.0 328.0h0M612.2 332.2h0M607.0 334.7h0M611.8 343.4h0M613.4 344.9h0M595.9 345.7h0M608.0 349.5h0M625.3 352.0h0M588.4 354.9h0M590.7 370.2h0M607.0 368.7h0M610.9 372.2h0M595.1 379.8h0M599.4 383.1h0M615.7 381.8h0M624.3 386.0h0M581.1 389.4h0M585.0 391.4h0M603.0 362.0h0M621.0 390.0h0" stroke="#e8202a" stroke-width="3.0" stroke-linecap="round" fill="none"/>
<path d="M451.4 305.2h0" stroke="#1a1a1a" stroke-width="3.0" stroke-linecap="round" fill="none"/>
<text x="445.5" y="313.3" font-size="7.2" fill="#222222" stroke="#222222" stroke-width="0.25">SAG1</text>
<path d="M506.8 352.3h0" stroke="#1a1a1a" stroke-width="3.0" stroke-linecap="round" fill="none"/>
<text x="503.9" y="361.0" font-size="7.2" fill="#222222" stroke="#222222" stroke-width="0.25">SRS20A</text>
<path d="M455.3 386.9h0" stroke="#1a1a1a" stroke-width="3.0" stroke-linecap="round" fill="none"/>
<text x="451.0" y="384.7" font-size="7.2" fill="#222222" stroke="#222222" stroke-width="0.25">ROP24</text>
<path d="M469.1 406.6h0" stroke="#1a1a1a" stroke-width="3.0" stroke-linecap="round" fill="none"/>
<text x="467.4" y="404.8" font-size="7.2" fill="#222222" stroke="#222222" stroke-width="0.25">ROP41</text>
<path d="M597.4 315.5h0" stroke="#1a1a1a" stroke-width="3.0" stroke-linecap="round" fill="none"/>
<text x="587.3" y="312.6" font-size="7.2" fill="#222222" stroke="#222222" stroke-width="0.25">BAG1</text>
<path d="M599.4 326.5h0" stroke="#1a1a1a" stroke-width="3.0" stroke-linecap="round" fill="none"/>
<text x="601.3" y="326.0" font-size="7.2" fill="#222222" stroke="#222222" stroke-width="0.25">SRS44</text>
<line x1="607.0" y1="394.8" x2="617.0" y2="391.0" stroke="#222" stroke-width="0.7"/>
<path d="M607.0 394.8h0" stroke="#1a1a1a" stroke-width="3.0" stroke-linecap="round" fill="none"/>
<text x="617.2" y="393.7" font-size="7.2" fill="#222222" stroke="#222222" stroke-width="0.25">AP2IX-9</text>
<line x1="609.5" y1="402.5" x2="608.0" y2="419.6" stroke="#222" stroke-width="0.7"/>
<path d="M608.0 419.6h0" stroke="#1a1a1a" stroke-width="3.0" stroke-linecap="round" fill="none"/>
<text x="609.0" y="402.0" font-size="7.2" fill="#222222" stroke="#222222" stroke-width="0.25">SRS49C</text>
<line x1="587.0" y1="400.5" x2="599.4" y2="404.2" stroke="#222" stroke-width="0.7"/>
<path d="M599.4 404.2h0" stroke="#1a1a1a" stroke-width="3.0" stroke-linecap="round" fill="none"/>
<text x="568.6" y="404.0" font-size="7.2" fill="#222222" stroke="#222222" stroke-width="0.25">SRS59</text>
<line x1="589.0" y1="412.0" x2="596.1" y2="414.4" stroke="#222" stroke-width="0.7"/>
<path d="M596.1 414.4h0" stroke="#1a1a1a" stroke-width="3.0" stroke-linecap="round" fill="none"/>
<text x="567.7" y="415.4" font-size="7.2" fill="#222222" stroke="#222222" stroke-width="0.25">SRS13</text>
<path d="M627.2 407.3h0" stroke="#1a1a1a" stroke-width="3.0" stroke-linecap="round" fill="none"/>
<text x="626.2" y="413.8" font-size="7.2" fill="#222222" stroke="#222222" stroke-width="0.25">SRS22A</text>
<path d="M612.8 416.7h0" stroke="#1a1a1a" stroke-width="3.0" stroke-linecap="round" fill="none"/>
<text x="614.3" y="420.7" font-size="7.2" fill="#222222" stroke="#222222" stroke-width="0.25">SRS52C</text>
<line x1="637.5" y1="431.5" x2="642.6" y2="434.6" stroke="#222" stroke-width="0.7"/>
<path d="M642.6 434.6h0" stroke="#1a1a1a" stroke-width="3.0" stroke-linecap="round" fill="none"/>
<text x="635.8" y="431.7" font-size="7.2" fill="#222222" stroke="#222222" stroke-width="0.25">PAN domain</text>
<line x1="621.4" y1="437.4" x2="628.0" y2="439.0" stroke="#222" stroke-width="0.7"/>
<path d="M621.4 437.4h0" stroke="#1a1a1a" stroke-width="3.0" stroke-linecap="round" fill="none"/>
<text x="628.7" y="442.2" font-size="7.2" fill="#222222" stroke="#222222" stroke-width="0.25">AP2IX-1</text>
<line x1="605.5" y1="429.6" x2="600.0" y2="451.0" stroke="#222" stroke-width="0.7"/>
<path d="M605.5 429.6h0" stroke="#1a1a1a" stroke-width="3.0" stroke-linecap="round" fill="none"/>
<text x="569.6" y="456.3" font-size="7.2" fill="#222222" stroke="#222222" stroke-width="0.25">AP2VIIa-9</text>
<line x1="614.1" y1="433.6" x2="614.3" y2="448.0" stroke="#222" stroke-width="0.7"/>
<path d="M614.1 433.6h0" stroke="#1a1a1a" stroke-width="3.0" stroke-linecap="round" fill="none"/>
<text x="603.2" y="453.8" font-size="7.2" fill="#222222" stroke="#222222" stroke-width="0.25">1,3 beta-glucan synthase</text>
<rect x="441.1" y="281.4" width="242.7" height="188.1" fill="none" stroke="#231f20" stroke-width="1.4"/>
<line x1="468.7" y1="469.5" x2="468.7" y2="473.3" stroke="#231f20" stroke-width="1.2"/>
<text x="467.0" y="483.2" font-size="10.2" font-weight="bold" text-anchor="middle" fill="#231f20">-10</text>
<line x1="521.2" y1="469.5" x2="521.2" y2="473.3" stroke="#231f20" stroke-width="1.2"/>
<text x="519.5" y="483.2" font-size="10.2" font-weight="bold" text-anchor="middle" fill="#231f20">-5</text>
<line x1="573.7" y1="469.5" x2="573.7" y2="473.3" stroke="#231f20" stroke-width="1.2"/>
<text x="573.7" y="483.2" font-size="10.2" font-weight="bold" text-anchor="middle" fill="#231f20">0</text>
<line x1="626.2" y1="469.5" x2="626.2" y2="473.3" stroke="#231f20" stroke-width="1.2"/>
<text x="626.2" y="483.2" font-size="10.2" font-weight="bold" text-anchor="middle" fill="#231f20">5</text>
<line x1="678.7" y1="469.5" x2="678.7" y2="473.3" stroke="#231f20" stroke-width="1.2"/>
<text x="678.7" y="483.2" font-size="10.2" font-weight="bold" text-anchor="middle" fill="#231f20">10</text>
<line x1="436.4" y1="459.8" x2="441.1" y2="459.8" stroke="#231f20" stroke-width="1.2"/>
<text x="434.4" y="463.0" font-size="10.2" font-weight="bold" text-anchor="end" fill="#231f20">0</text>
<line x1="436.4" y1="365.0" x2="441.1" y2="365.0" stroke="#231f20" stroke-width="1.2"/>
<text x="434.4" y="368.2" font-size="10.2" font-weight="bold" text-anchor="end" fill="#231f20">100</text>
<line x1="436.4" y1="325.7" x2="441.1" y2="325.7" stroke="#231f20" stroke-width="1.2"/>
<text x="434.4" y="328.9" font-size="10.2" font-weight="bold" text-anchor="end" fill="#231f20">200</text>
<line x1="436.4" y1="295.6" x2="441.1" y2="295.6" stroke="#231f20" stroke-width="1.2"/>
<text x="434.4" y="298.8" font-size="10.2" font-weight="bold" text-anchor="end" fill="#231f20">300</text>
<text x="561.9" y="276.0" font-size="10.7868" font-weight="bold" text-anchor="middle" fill="#231f20">Group C bradys compared to D7-BAG1+ bradys</text>
<text x="577.6" y="495.2" font-size="10.758999999999999" font-weight="bold" text-anchor="middle" fill="#231f20">Log2 fold change</text>
<text x="412.9" y="384.0" font-size="10.6" font-weight="bold" text-anchor="middle" fill="#231f20" transform="rotate(-90 412.9 384.0)">-Log10 adjusted p-value</text>
<text x="9.4" y="490.4" font-size="18.9" font-weight="bold" fill="#231f20">d Five volcano plots</text>
<path d="M200.1 688.0h0M201.3 686.0h0M209.8 700.5h0M200.3 703.6h0M195.5 705.8h0M213.8 707.9h0M223.9 696.4h0M228.3 710.0h0M200.8 688.4h0M186.6 702.1h0M209.0 688.1h0M220.9 696.9h0M265.6 711.7h0M231.7 709.9h0M185.2 697.3h0M224.3 699.9h0M204.4 698.9h0M163.1 708.5h0M254.5 704.9h0M188.3 700.8h0M176.4 698.6h0M217.3 702.6h0M173.2 709.9h0M224.2 712.0h0M170.1 704.1h0M249.2 711.8h0M185.8 692.5h0M257.3 703.3h0M172.1 700.6h0M192.5 706.2h0M171.5 704.0h0M203.7 687.6h0M187.6 706.2h0M263.2 711.0h0M164.3 708.6h0M262.9 707.6h0M239.9 711.8h0M179.4 697.0h0M264.1 709.2h0M213.9 699.0h0M218.6 691.3h0M186.9 710.9h0M220.7 702.1h0M254.6 709.6h0M183.9 700.7h0M219.1 710.0h0M204.6 701.6h0M171.8 703.1h0M162.4 709.9h0M212.5 699.1h0M175.5 698.5h0M207.9 701.9h0M219.0 705.4h0M229.4 711.5h0M187.9 697.7h0M226.5 707.4h0M179.5 700.9h0M235.9 702.3h0M233.4 705.4h0M189.6 695.8h0M224.6 703.7h0M204.6 693.3h0M218.9 694.6h0M164.8 710.5h0M219.1 697.7h0M202.5 708.1h0M175.8 706.8h0M185.1 700.3h0M198.3 691.9h0M200.0 701.0h0M199.3 692.7h0M199.1 707.6h0M266.4 705.1h0M239.4 702.5h0M230.0 707.7h0M166.2 711.3h0M213.8 707.8h0M207.8 702.7h0M259.9 703.7h0M218.0 707.3h0M196.1 691.1h0M245.6 708.6h0M220.9 698.3h0M206.3 685.0h0M224.1 706.3h0M198.4 703.4h0M239.7 702.9h0M178.9 695.9h0M225.7 708.6h0M181.0 706.0h0M177.1 698.5h0M193.0 703.1h0M206.5 690.9h0M217.9 708.9h0M238.1 709.8h0M237.3 700.9h0M191.2 698.0h0M248.7 711.4h0M233.7 699.3h0M234.8 710.3h0M208.5 698.0h0M257.6 704.5h0M233.4 698.7h0M165.8 706.5h0M176.2 706.4h0M237.1 699.5h0M217.8 693.3h0M245.9 711.4h0M244.2 703.0h0M204.6 696.7h0M178.0 697.5h0M262.1 704.7h0M199.6 685.7h0M183.9 697.7h0M187.2 704.0h0M253.4 702.6h0M227.1 707.9h0M193.8 694.4h0M185.4 696.4h0M204.8 692.6h0M182.3 707.2h0M232.4 699.3h0M263.7 708.9h0M230.0 698.5h0M216.5 692.0h0M200.9 697.4h0M221.4 693.4h0M197.7 699.6h0M228.2 704.5h0M198.7 701.5h0M237.7 709.3h0M239.7 700.4h0M222.6 693.6h0M196.3 689.4h0M264.2 711.1h0M193.4 697.9h0M167.4 707.0h0M189.2 707.7h0M185.5 697.9h0M235.2 700.3h0M258.8 704.3h0M212.3 694.3h0M203.2 696.2h0M193.1 703.3h0M171.9 706.2h0M198.5 708.6h0M185.8 705.4h0M221.6 705.5h0M257.4 708.8h0M209.7 700.8h0M222.7 709.7h0M193.6 709.4h0M205.7 685.4h0M191.1 699.6h0M177.9 697.2h0M212.7 702.3h0M210.7 688.3h0M221.0 694.4h0M217.7 691.1h0M221.0 698.1h0M227.4 702.7h0M168.3 711.1h0M178.4 706.0h0M169.2 701.6h0M193.7 711.0h0M238.1 705.8h0M176.9 711.8h0M247.8 706.7h0M174.2 710.0h0M226.0 703.7h0M243.6 704.8h0M199.8 696.7h0M226.6 697.5h0M187.3 692.1h0M206.3 708.3h0M180.2 698.0h0M226.7 709.1h0M204.8 709.6h0M195.4 702.7h0M203.2 687.2h0M203.5 707.5h0M204.4 699.7h0M224.1 705.9h0M208.9 708.6h0M184.9 711.8h0M216.5 708.4h0M190.2 707.5h0M222.9 700.4h0M207.1 711.4h0M201.6 696.5h0M187.9 694.8h0M191.1 710.9h0M244.0 708.9h0M233.0 710.3h0M189.6 709.5h0M245.2 702.7h0M210.4 704.0h0M167.1 709.1h0M252.9 711.9h0M255.0 709.7h0M236.4 703.3h0M207.1 688.9h0M221.3 697.5h0M204.0 707.7h0M240.5 703.6h0M210.4 693.4h0M193.0 699.6h0M214.6 706.6h0M229.6 710.9h0M198.3 687.2h0M190.6 697.5h0M202.3 691.5h0M244.7 704.1h0M223.5 700.3h0M243.8 705.7h0M191.7 700.2h0M209.3 687.8h0M201.7 710.7h0M217.1 696.0h0M222.4 696.8h0M220.3 711.7h0M198.1 686.5h0M201.4 711.7h0M196.8 703.4h0M234.4 706.1h0M232.6 706.1h0M236.6 700.5h0M204.5 684.4h0M208.9 686.2h0M192.1 705.2h0M223.9 708.9h0M253.8 703.9h0M240.8 701.3h0M214.4 709.2h0M237.8 710.0h0M203.7 707.5h0M209.6 694.4h0M200.1 693.3h0M211.3 700.1h0M228.8 699.6h0M213.4 698.1h0M198.6 711.9h0M192.5 698.4h0M192.6 700.5h0M193.3 695.3h0M209.4 700.9h0M195.1 690.0h0M210.2 709.3h0M261.4 704.0h0M215.8 694.5h0M215.0 698.3h0M193.9 695.0h0M196.1 702.7h0M223.4 703.7h0M178.9 699.1h0M210.2 708.3h0M209.0 695.9h0M212.6 705.1h0M248.5 709.9h0M235.3 705.6h0" stroke="#bdbdbd" stroke-width="3.0" stroke-linecap="round" fill="none"/>
<path d="M212.2 711.8h0M226.4 711.7h0M240.4 710.8h0M193.8 712.7h0M203.3 711.1h0M226.6 710.5h0M164.5 711.1h0M239.3 710.3h0M224.5 711.1h0M269.1 711.3h0M266.2 711.5h0M239.4 712.8h0M205.3 711.4h0M166.6 712.3h0M245.6 708.6h0M173.6 711.2h0M267.4 711.0h0M160.6 710.8h0M155.7 711.2h0M224.9 711.6h0M176.3 712.6h0M153.6 711.1h0M252.6 711.4h0M193.3 711.1h0M230.0 712.2h0M246.2 711.1h0M262.3 712.7h0M247.7 711.3h0M156.7 711.2h0M190.0 710.1h0M251.2 710.7h0M187.9 712.8h0M215.3 711.3h0M157.8 711.3h0M190.2 710.6h0M264.9 712.1h0M262.5 712.5h0M161.8 712.5h0M155.6 713.0h0M234.1 712.6h0M211.0 710.6h0M160.4 711.1h0M205.7 711.8h0M234.3 711.5h0M156.5 711.1h0M156.7 711.5h0M155.4 709.7h0M165.3 712.6h0M201.4 711.3h0M174.4 712.3h0M196.0 712.0h0M249.0 711.5h0M244.5 710.4h0M214.9 711.9h0M268.5 712.9h0M247.7 712.0h0M227.3 711.9h0M222.3 711.6h0M238.6 712.5h0M247.4 712.0h0M229.5 710.5h0M259.2 712.6h0M175.5 711.6h0M239.7 713.1h0M200.0 713.8h0M220.2 711.5h0M194.0 711.7h0M195.5 711.7h0M200.4 712.1h0M253.2 711.9h0M238.6 711.4h0M261.3 711.9h0M257.9 711.7h0M231.0 710.4h0M180.6 711.6h0M186.8 711.6h0M170.2 712.6h0M201.6 712.4h0M186.3 711.8h0M229.9 710.5h0M257.8 711.9h0M156.2 712.4h0M237.2 711.6h0M189.4 711.4h0M156.3 712.0h0M177.7 710.6h0M232.9 713.1h0M194.8 710.9h0M150.4 711.2h0M233.8 712.1h0M188.0 712.0h0M256.6 711.1h0M260.9 711.4h0M243.8 711.5h0M252.1 712.5h0M158.9 712.6h0M186.4 711.5h0M226.0 712.1h0M267.9 709.7h0M180.0 711.6h0M163.3 711.3h0M187.4 713.0h0M190.0 712.4h0M195.9 710.8h0M253.9 711.9h0M222.9 712.0h0M207.8 711.0h0M231.1 710.3h0M169.0 711.5h0M159.2 711.0h0M183.8 710.9h0M161.9 712.2h0M224.9 709.8h0M206.1 713.2h0M249.0 712.0h0M228.5 710.6h0M158.1 713.4h0M259.9 710.5h0M157.5 711.8h0M168.9 712.3h0M178.8 712.5h0M254.0 712.2h0M188.5 712.4h0M217.6 710.2h0M253.0 711.6h0M226.2 712.7h0M148.1 712.2h0M210.8 711.5h0M244.0 711.2h0M268.3 711.7h0M253.6 710.9h0M148.3 711.6h0M185.8 712.9h0M165.5 711.4h0M226.8 712.4h0M263.9 712.1h0M150.9 709.5h0M159.6 711.6h0M202.4 712.1h0M212.9 710.1h0M218.2 710.4h0M267.0 711.3h0M228.1 711.7h0M207.4 712.2h0M229.0 711.8h0M170.9 711.0h0M158.6 711.6h0M148.9 711.4h0M201.4 712.4h0M180.1 709.5h0M190.4 711.9h0M171.5 711.9h0M244.4 711.3h0M242.1 710.4h0M172.2 712.6h0M180.0 711.4h0M245.8 711.6h0M240.3 711.7h0M163.3 713.1h0M188.5 711.5h0M265.5 710.8h0M182.2 711.1h0M257.5 711.1h0M185.6 711.2h0M184.1 710.7h0M218.1 713.3h0M224.1 711.6h0M221.2 711.3h0M243.1 713.2h0M207.6 712.5h0M149.7 712.4h0M248.4 711.5h0M267.1 712.2h0M207.5 711.7h0M184.0 711.4h0M205.9 710.9h0M197.7 711.8h0M194.7 710.6h0M253.9 709.3h0M163.5 712.5h0M159.0 711.0h0M153.8 710.0h0M189.3 711.4h0M215.3 710.3h0M231.4 712.3h0M193.8 710.8h0M172.9 710.9h0M252.2 712.9h0M191.8 711.8h0M154.2 713.8h0M195.0 710.6h0M152.5 712.3h0M230.7 712.1h0M201.5 711.7h0M241.0 712.0h0M150.5 712.7h0M166.7 711.5h0M246.1 711.9h0M217.8 712.0h0M215.6 710.8h0M151.1 712.2h0M226.0 711.3h0M251.3 711.0h0M240.7 712.0h0M245.7 712.3h0M188.9 711.2h0M209.2 710.6h0M248.7 710.9h0M224.4 711.6h0M242.2 713.0h0M249.7 712.3h0M251.6 712.1h0M195.3 711.7h0M233.6 711.8h0M151.3 711.1h0M168.4 712.3h0M203.3 711.6h0M187.2 711.3h0M229.1 710.8h0M182.2 710.9h0M190.9 712.4h0M182.8 711.2h0M205.0 712.4h0M262.4 712.3h0M226.9 713.1h0M171.7 711.6h0M152.0 711.4h0M147.9 712.6h0M268.3 711.5h0M230.9 711.7h0M266.9 712.1h0M161.8 711.7h0M192.0 711.5h0M265.0 711.7h0M241.2 711.4h0M206.0 712.7h0M245.3 711.7h0M236.8 713.6h0M223.9 710.5h0M150.4 711.1h0M256.2 711.1h0M191.4 711.6h0M235.6 711.7h0M194.5 711.1h0M268.2 712.3h0M263.9 711.9h0M235.6 710.7h0M156.1 711.5h0M239.4 711.4h0M265.7 711.9h0M158.2 710.4h0M213.7 711.8h0M195.7 711.6h0M233.2 711.0h0M198.8 713.1h0M174.7 711.3h0M256.4 710.9h0M165.7 711.9h0M168.9 712.1h0M194.9 711.7h0M231.0 712.6h0M265.1 710.9h0M262.9 712.0h0M152.9 711.1h0M219.8 710.1h0M150.6 713.3h0M263.0 711.4h0M236.4 712.8h0M206.1 711.8h0M162.7 710.1h0M247.1 713.1h0M219.8 711.5h0M220.6 712.4h0M183.8 712.2h0M176.0 712.2h0M171.8 711.3h0M252.4 710.0h0M168.8 711.2h0M257.6 710.1h0M222.1 712.4h0M189.1 711.4h0M215.0 711.9h0M156.5 712.1h0M186.6 711.3h0M194.6 709.8h0M157.1 711.9h0M190.7 710.7h0M254.3 711.4h0M213.5 711.0h0M193.1 710.6h0M201.6 711.7h0M264.7 712.0h0M230.0 712.7h0M197.6 712.6h0M198.0 711.8h0M230.9 710.9h0M243.0 711.4h0M162.4 711.2h0M239.4 711.0h0M261.9 711.1h0M215.1 712.1h0M248.8 711.6h0M267.7 711.9h0M205.3 712.1h0M186.6 711.3h0M152.0 711.4h0M159.2 712.2h0M243.8 712.1h0M218.6 712.2h0M267.7 712.5h0M264.9 712.4h0M158.0 712.5h0M252.9 711.1h0M259.1 712.6h0M202.4 711.5h0M229.2 711.8h0M229.6 711.5h0M188.9 711.3h0M181.1 711.8h0M175.4 711.9h0M252.6 712.3h0M186.9 710.8h0M187.7 712.0h0M161.7 711.3h0M263.0 711.3h0M183.5 713.6h0M159.7 710.9h0M252.3 713.0h0M222.0 710.8h0M189.7 711.4h0M262.1 711.3h0M219.1 711.8h0M193.4 710.8h0M228.8 713.4h0M204.2 712.1h0M169.5 711.4h0M266.3 712.6h0M182.6 712.5h0M160.5 712.8h0M186.9 711.2h0M173.2 711.3h0M183.6 710.3h0M152.3 711.0h0M184.8 712.4h0M241.4 711.0h0M213.9 711.7h0M164.4 711.0h0M175.9 709.5h0M169.1 711.1h0M161.3 711.3h0M209.0 712.1h0M209.2 712.7h0M174.8 712.4h0M244.1 711.1h0M243.5 711.6h0M182.9 712.2h0M210.0 711.6h0M179.7 711.2h0M149.6 712.2h0M219.8 709.8h0M219.1 711.0h0M193.3 711.9h0M147.7 711.7h0M188.9 712.5h0M222.8 712.1h0M261.0 712.2h0M174.4 711.7h0M265.8 711.6h0M265.9 713.9h0M266.8 710.2h0M208.8 711.8h0M247.4 711.1h0M168.3 712.5h0M231.1 710.5h0M242.3 710.9h0M260.1 712.9h0M225.4 711.4h0M196.6 711.1h0M234.6 710.7h0M164.0 711.1h0M149.4 710.1h0M268.7 711.8h0M164.9 712.2h0M266.6 711.5h0M198.2 711.9h0M226.0 710.6h0M155.7 712.8h0M154.5 712.9h0M222.6 712.7h0M217.8 711.2h0M233.9 711.8h0M161.6 711.0h0M185.2 711.2h0M190.7 711.2h0M204.4 711.0h0M262.1 712.6h0M213.1 711.8h0M256.5 711.0h0M252.3 711.7h0M198.6 711.7h0M177.9 712.1h0M247.8 711.6h0M207.4 711.0h0M160.7 710.9h0M267.7 712.4h0M265.4 711.3h0M229.7 711.3h0M268.1 711.8h0M152.2 711.0h0M236.7 711.9h0M194.5 712.3h0M151.0 711.9h0M219.3 712.7h0M264.6 711.1h0M216.5 710.6h0M150.4 711.2h0M186.0 710.6h0M257.4 711.8h0M233.8 710.4h0M221.9 713.6h0M156.5 710.9h0M196.4 711.5h0M222.1 712.3h0M263.3 710.5h0M217.3 712.4h0M254.5 712.3h0M188.0 711.9h0M222.3 711.5h0M175.1 711.1h0M212.2 711.3h0M170.5 713.2h0M210.2 710.8h0M168.4 711.1h0M260.4 711.4h0M250.5 711.9h0M225.9 711.9h0M178.8 712.0h0M152.3 711.9h0M253.1 711.8h0M181.8 711.8h0M150.8 711.9h0M212.7 710.3h0M267.5 712.5h0M166.9 711.1h0M239.1 713.6h0M243.7 711.7h0M229.9 712.6h0M243.4 712.6h0M262.5 710.9h0M254.4 711.9h0" stroke="#bdbdbd" stroke-width="3.0" stroke-linecap="round" fill="none"/>
<path d="M187.4 679.2h0M196.3 638.1h0M191.3 691.0h0M185.1 660.5h0M193.8 685.2h0M187.3 632.0h0M186.9 630.8h0M192.9 625.8h0M189.6 700.9h0M194.5 630.8h0M179.7 678.9h0M178.4 672.2h0M199.8 655.2h0M195.7 668.8h0M195.3 628.5h0M186.3 648.1h0M190.2 663.9h0M195.5 659.6h0M188.7 635.8h0M186.9 640.3h0M187.6 677.5h0M189.0 640.0h0M196.3 631.9h0M198.5 697.7h0M181.5 635.8h0M191.1 623.3h0M189.8 663.2h0M197.3 636.6h0M190.0 657.1h0M186.1 662.5h0M185.1 682.1h0M187.5 646.3h0M193.7 693.1h0M197.1 699.2h0M201.0 668.2h0M199.8 700.2h0M187.6 630.7h0M189.3 633.6h0M184.0 635.9h0M198.7 705.0h0M198.3 671.8h0M199.8 700.4h0M187.4 653.2h0M184.0 636.9h0M198.0 648.3h0M187.0 695.7h0M192.0 623.5h0M192.7 628.5h0M189.5 641.6h0M197.0 670.0h0M188.2 686.7h0M200.4 656.7h0M194.8 633.4h0M193.6 654.1h0M186.7 633.1h0M190.2 707.4h0M196.6 697.3h0M188.3 636.0h0M177.1 669.9h0M187.0 679.7h0M184.4 644.9h0M193.2 700.0h0M188.2 687.7h0M197.0 658.4h0M178.3 676.2h0M179.6 666.6h0M177.6 705.8h0M193.0 662.0h0M189.1 646.2h0M188.9 679.8h0M177.2 702.8h0M192.9 668.4h0M177.0 704.0h0M186.2 641.4h0M194.9 662.3h0M199.7 691.3h0M202.2 679.9h0M187.7 700.7h0M177.9 660.0h0M199.4 667.4h0M197.5 688.4h0M183.9 704.3h0M176.8 687.4h0M191.2 656.7h0M191.4 699.4h0M200.3 706.2h0M202.1 699.9h0M190.7 629.1h0M201.0 703.9h0M185.7 635.6h0M182.2 650.5h0M185.3 690.5h0M187.1 634.7h0M192.1 662.7h0M178.0 661.3h0M183.9 642.5h0M200.3 708.0h0M189.2 698.5h0M187.4 696.0h0M189.8 646.9h0M184.5 699.3h0M199.4 701.8h0M176.8 680.3h0M191.9 649.4h0M182.6 684.1h0M196.9 632.9h0M184.8 648.5h0M183.6 687.1h0M187.7 705.5h0M202.3 681.9h0M197.1 674.7h0M178.5 665.3h0M200.2 654.9h0M189.8 631.6h0M192.6 700.0h0M182.4 661.1h0M188.8 700.6h0M195.5 672.2h0M180.7 679.3h0M189.5 680.3h0M184.8 655.8h0M189.7 689.4h0M190.2 638.1h0M189.1 670.3h0M177.3 671.3h0M191.2 676.6h0M194.2 686.7h0M183.3 675.7h0M200.0 652.1h0M182.8 667.6h0M200.2 684.4h0M200.1 704.8h0M183.3 702.5h0M180.3 670.8h0M184.7 681.8h0M194.7 634.0h0M185.4 705.0h0M192.0 691.9h0M177.4 692.6h0M198.0 647.6h0M197.8 681.0h0M185.0 680.7h0M197.3 664.9h0M190.5 637.7h0M197.4 707.2h0M197.9 696.2h0M188.6 629.5h0M200.7 667.7h0M191.9 683.5h0M182.3 702.3h0M191.2 673.7h0M185.3 670.1h0M181.9 681.6h0M195.2 663.3h0M196.4 666.7h0M181.6 647.1h0M184.5 652.3h0M180.1 699.6h0M185.2 637.0h0M179.2 661.9h0M177.9 659.0h0M179.8 661.9h0M189.7 692.3h0M196.6 632.6h0M184.3 669.7h0M195.8 700.8h0M190.5 632.2h0M176.9 670.3h0M199.6 642.4h0M194.7 686.1h0M189.2 640.0h0M178.9 677.4h0M180.0 674.3h0M188.8 688.9h0M196.5 647.8h0M184.7 667.8h0M190.6 626.8h0M200.6 690.7h0M195.9 627.5h0M191.0 632.3h0M178.7 665.2h0M189.3 659.0h0M195.7 669.3h0M187.4 697.2h0M181.6 666.3h0M177.9 689.6h0M181.4 669.8h0M195.0 627.2h0M178.4 664.3h0M192.4 637.2h0M185.2 703.0h0M193.5 635.2h0M192.6 643.4h0M197.6 704.7h0M182.4 684.4h0M196.7 634.1h0M201.9 698.2h0M195.6 654.3h0M200.1 702.8h0M188.1 685.2h0M194.1 707.4h0M184.0 662.2h0M192.4 702.6h0M200.8 688.8h0M190.3 649.7h0M202.5 685.3h0M188.6 660.2h0M187.4 697.8h0M189.2 684.7h0M189.7 699.6h0M198.5 646.6h0M197.5 680.0h0M187.8 632.2h0M178.7 651.5h0M192.9 696.9h0M186.2 681.8h0M192.1 699.3h0M195.9 645.5h0M192.6 624.2h0M178.3 671.1h0M199.7 693.7h0M189.5 694.8h0M191.9 696.9h0M194.4 646.2h0M191.4 685.4h0M189.8 646.0h0M188.1 665.6h0M177.0 667.7h0M192.6 634.9h0M194.9 659.6h0M178.3 701.0h0M183.6 704.3h0M193.9 650.6h0M189.5 690.4h0M183.9 628.2h0M189.9 644.3h0M183.6 677.9h0M190.2 657.5h0M191.4 649.0h0M180.9 645.7h0M200.7 663.5h0M181.1 701.1h0M179.0 671.3h0M188.9 696.7h0M181.7 707.3h0M197.2 665.8h0M184.7 647.8h0M198.9 652.1h0M199.0 704.2h0M194.4 645.6h0M187.8 630.6h0M182.2 650.7h0M177.1 695.2h0M189.5 651.1h0M192.9 659.9h0M184.6 653.8h0M188.0 646.9h0M185.9 661.0h0M199.2 691.0h0M199.3 661.2h0M198.8 679.0h0M176.7 694.4h0M184.9 673.5h0M177.5 677.1h0M193.8 651.1h0M185.0 689.9h0M184.1 666.3h0M184.5 648.9h0M191.2 694.6h0M197.7 654.1h0M199.6 706.0h0M182.9 707.7h0M198.1 637.4h0M187.0 707.5h0M182.8 688.2h0M182.8 657.4h0M201.3 678.0h0M187.5 704.7h0M200.2 703.2h0M190.2 630.8h0M184.6 635.9h0M183.6 633.4h0M194.1 688.4h0M176.6 691.7h0M197.7 664.7h0M179.9 687.4h0M193.0 630.8h0M198.3 682.9h0M191.5 643.7h0M186.4 706.2h0M192.4 624.9h0M187.7 669.6h0M194.6 667.0h0M181.8 679.8h0M189.6 678.8h0M202.6 699.8h0M184.6 687.1h0M181.7 650.4h0M177.5 689.3h0M182.0 693.1h0M192.2 692.3h0M194.7 636.0h0M195.9 691.4h0M187.8 689.1h0M184.7 628.4h0M189.7 626.3h0M185.9 701.4h0M199.2 685.9h0M186.7 633.0h0M190.0 627.6h0M196.8 690.5h0M190.3 654.0h0M196.4 678.4h0M188.5 633.7h0M198.0 672.6h0M183.0 645.3h0M187.1 657.4h0M192.6 635.1h0M192.4 676.0h0M199.2 691.6h0M196.7 671.5h0M177.4 698.9h0M193.6 673.0h0M185.8 627.7h0M179.0 699.8h0M188.5 654.9h0M200.2 662.7h0M184.8 655.3h0M189.4 674.1h0M196.3 682.6h0M179.3 705.9h0M183.8 694.4h0M200.8 684.2h0M183.7 664.9h0M191.4 644.1h0M191.6 706.5h0M191.8 672.9h0M188.1 642.5h0M188.8 674.2h0M201.7 676.8h0M179.8 697.3h0M193.7 698.3h0M177.3 658.5h0M185.2 674.3h0M191.4 676.7h0M188.6 675.3h0M177.3 697.7h0M190.9 674.4h0M193.3 653.2h0M192.1 654.4h0M195.9 665.2h0M177.7 698.4h0M178.1 658.9h0M195.8 656.7h0M187.1 642.1h0M198.3 639.2h0M201.7 680.1h0M182.2 657.0h0M191.7 634.3h0M194.4 664.7h0M179.8 669.5h0M182.9 641.8h0M184.6 687.5h0M190.4 632.8h0M193.4 634.2h0M186.5 663.0h0M182.4 633.1h0M190.2 691.0h0M185.5 678.2h0M183.4 677.2h0M178.0 704.6h0M201.5 704.4h0M194.3 660.3h0M192.7 690.8h0M200.0 663.4h0M185.0 636.9h0M183.9 682.0h0M178.3 674.0h0M177.3 688.7h0M182.0 659.5h0M199.2 685.6h0M179.2 678.9h0M186.4 707.0h0M182.2 674.2h0M188.7 664.2h0M193.2 656.8h0M197.1 674.9h0M182.9 638.4h0M193.6 668.5h0M180.3 657.9h0M200.9 656.7h0M184.0 674.7h0M179.7 650.8h0M189.8 673.7h0M176.6 683.5h0M190.8 675.6h0M182.5 675.6h0M185.8 686.9h0M187.1 674.3h0M194.4 658.2h0M181.9 685.9h0M188.7 666.0h0M185.2 667.9h0M192.5 693.0h0M195.0 668.6h0M198.9 687.5h0M201.0 659.7h0M183.2 685.8h0M180.7 674.6h0M177.5 679.4h0M197.1 683.9h0M190.4 688.7h0M181.6 661.8h0M191.0 644.6h0M201.0 701.9h0M191.2 621.6h0M184.6 684.2h0M190.2 683.2h0M191.1 689.9h0M199.2 703.5h0M189.4 685.6h0M198.4 642.3h0M188.2 626.8h0M199.8 685.1h0M195.0 639.3h0M181.0 647.5h0M186.6 664.3h0M182.6 645.5h0M181.4 638.3h0M189.4 676.5h0M189.1 703.2h0M189.0 629.4h0M179.2 672.6h0M178.5 687.0h0M195.1 642.3h0M202.0 705.3h0M185.7 632.8h0M188.6 645.5h0M198.0 631.4h0M189.3 655.9h0M198.1 655.3h0M187.6 653.3h0M187.0 684.4h0M185.4 666.6h0M187.3 680.4h0M184.8 703.3h0M182.6 638.5h0M199.9 699.2h0M188.0 688.3h0M196.2 676.0h0M191.7 673.2h0M178.0 675.7h0M192.3 697.7h0M196.8 663.3h0M192.6 644.5h0M182.4 633.9h0M192.1 646.2h0M182.0 683.9h0M187.6 679.7h0M200.5 694.4h0M198.8 673.9h0M190.5 625.3h0M193.3 625.2h0M198.1 636.9h0M194.3 672.0h0M183.8 656.4h0M178.8 704.3h0M181.2 677.6h0M193.5 627.0h0M196.8 690.6h0" stroke="#3159ad" stroke-width="3.0" stroke-linecap="round" fill="none"/>
<path d="M181.4 619.3h0M188.8 621.7h0M187.6 595.6h0M196.3 600.7h0M188.2 585.2h0M186.1 625.3h0M186.4 619.2h0M185.4 608.7h0M183.0 610.2h0M184.7 606.6h0M182.1 613.9h0M191.4 587.5h0M190.6 606.7h0M187.3 617.5h0M187.6 621.6h0M191.8 616.4h0M188.9 585.8h0M184.8 622.6h0M192.9 586.2h0M196.1 604.3h0M193.1 597.7h0M183.3 600.1h0M194.6 610.2h0M196.5 625.2h0M188.4 582.8h0M183.7 598.4h0M195.3 605.5h0M189.1 589.4h0M197.1 624.2h0M180.8 629.1h0M197.1 608.6h0M180.8 624.6h0M198.0 633.4h0M197.3 612.6h0M192.5 585.6h0M194.6 597.0h0M184.3 595.9h0M191.7 598.7h0M188.4 609.6h0M183.3 612.1h0M193.2 611.5h0M198.5 628.2h0M190.2 593.0h0M182.6 617.9h0M183.3 619.5h0M183.1 606.7h0M194.2 618.8h0M186.9 615.3h0M199.7 625.7h0M189.9 582.4h0M195.2 596.8h0M188.7 609.5h0M190.3 585.9h0M187.2 625.1h0M196.3 631.7h0M190.8 586.9h0M188.7 581.1h0M181.6 620.0h0M192.5 611.9h0M186.7 602.9h0M192.3 600.2h0M183.0 610.7h0M188.0 620.3h0M192.3 625.2h0M187.7 587.9h0M189.8 591.4h0M188.6 592.3h0M196.0 601.1h0M192.9 628.2h0M185.7 593.4h0M182.5 619.4h0M197.2 625.2h0M195.5 615.1h0M194.7 598.4h0M186.7 610.6h0M200.3 630.7h0M190.0 586.2h0M182.8 616.6h0M193.4 621.2h0M198.7 609.9h0M188.9 618.8h0M182.2 626.5h0M193.7 590.9h0M184.5 599.8h0M197.2 616.4h0M197.3 623.3h0M196.4 611.6h0M191.3 616.7h0M190.7 600.8h0M194.7 629.9h0M188.6 605.0h0M189.2 613.5h0M189.9 623.4h0M185.1 612.6h0M196.3 628.1h0M187.8 581.5h0M197.4 608.8h0M186.6 604.9h0M198.0 632.7h0M189.9 589.6h0M194.9 628.8h0M200.8 631.9h0M182.7 614.6h0M192.6 615.7h0M189.7 608.3h0M189.3 593.6h0M189.0 582.7h0M189.0 602.4h0M196.3 615.2h0M193.2 627.4h0M188.8 604.2h0M191.2 609.1h0M197.3 624.5h0M197.7 611.3h0M193.2 604.3h0M200.4 626.0h0M187.8 587.4h0M192.0 618.1h0M183.2 599.4h0M199.7 627.7h0" stroke="#3159ad" stroke-width="3.0" stroke-linecap="round" fill="none"/>
<path d="M163.1 687.7h0M168.3 667.3h0M166.7 667.8h0M177.9 663.7h0M167.7 681.4h0M177.7 635.0h0M176.6 700.4h0M178.3 640.7h0M177.9 652.7h0M175.8 677.5h0M171.6 693.9h0M172.2 680.2h0M166.2 695.7h0M172.3 675.0h0M165.7 672.4h0M164.6 683.8h0M164.2 683.8h0M169.3 659.5h0M171.6 706.1h0M172.7 700.5h0M176.7 637.6h0M176.6 658.2h0M170.7 674.9h0M171.5 674.3h0M164.2 705.2h0M171.1 650.9h0M168.4 701.1h0M164.4 693.7h0M167.8 667.6h0M166.4 675.6h0M175.1 698.6h0M168.4 673.3h0M177.6 640.7h0M170.9 657.4h0M177.5 644.4h0M166.4 684.3h0M170.3 694.8h0M164.1 703.0h0M171.2 660.0h0M175.6 686.6h0M174.1 707.0h0M172.2 700.6h0M166.4 689.6h0M176.3 665.6h0M174.0 687.1h0M173.3 695.0h0M167.2 668.7h0M176.8 648.7h0M170.1 687.5h0M170.7 671.2h0M172.3 705.9h0M175.6 654.6h0M163.6 688.2h0M173.7 685.8h0M175.0 687.1h0M173.0 652.8h0M166.7 700.7h0M176.1 658.7h0M174.5 653.5h0M166.1 705.0h0" stroke="#3159ad" stroke-width="3.0" stroke-linecap="round" fill="none"/>
<path d="M181.0 593.4h0M171.3 561.4h0M170.4 578.9h0M171.3 592.3h0M181.4 575.3h0M176.4 604.4h0M162.3 604.6h0M167.6 602.1h0M170.1 607.3h0M178.7 581.8h0M171.0 595.7h0M175.0 598.6h0M183.7 555.9h0M169.5 594.6h0M190.6 582.9h0M171.5 579.2h0M163.3 584.5h0M189.4 563.9h0M187.3 564.2h0M175.4 578.0h0M175.2 553.4h0M165.4 571.8h0M187.5 586.5h0M181.3 582.3h0M163.2 596.2h0M181.5 552.8h0M176.8 567.5h0M173.8 597.8h0" stroke="#3159ad" stroke-width="3.0" stroke-linecap="round" fill="none"/>
<path d="M159.3 657.4h0M157.3 673.4h0M161.6 635.6h0M159.1 694.6h0M156.3 672.8h0M160.2 651.6h0M155.8 661.3h0M163.1 669.7h0M157.5 695.3h0M163.7 632.5h0M155.2 679.1h0M162.4 633.1h0M169.4 641.3h0M162.7 651.6h0M159.7 685.6h0M158.5 652.6h0M160.7 676.4h0M155.7 679.2h0" stroke="#3159ad" stroke-width="3.0" stroke-linecap="round" fill="none"/>
<path d="M110.4 544.7h0M158.5 545.0h0M159.6 547.0h0M170.0 545.0h0M181.5 545.0h0M187.0 556.0h0M167.0 562.0h0M168.0 590.0h0M160.7 566.0h0" stroke="#3159ad" stroke-width="3.0" stroke-linecap="round" fill="none"/>
<path d="M114.7 635.6h0M121.3 652.0h0M122.4 656.4h0M125.7 663.0h0M130.0 673.9h0M134.4 679.4h0M136.6 685.9h0M141.0 691.4h0M143.2 694.7h0M147.1 700.2h0M145.0 697.0h0" stroke="#3159ad" stroke-width="3.0" stroke-linecap="round" fill="none"/>
<path d="M211.6 700.5h0M230.5 691.3h0M221.0 684.2h0M220.5 687.4h0M208.6 679.8h0M219.1 698.1h0M208.7 697.4h0M236.3 701.9h0M214.9 669.7h0M211.0 693.9h0M228.8 666.1h0M228.5 667.2h0M234.2 675.5h0M234.4 680.3h0M209.9 692.7h0M210.6 661.8h0M219.1 681.9h0M224.8 700.0h0M221.2 681.5h0M228.2 701.9h0M235.5 681.1h0M218.2 660.2h0M211.2 664.7h0M220.9 684.6h0M209.3 680.6h0M234.0 698.3h0M233.5 695.7h0M221.2 679.4h0M208.4 702.5h0M219.6 655.7h0M233.7 691.5h0M227.2 665.8h0M208.2 683.6h0M212.7 681.4h0M228.6 673.0h0M232.4 698.0h0M221.4 691.5h0M217.0 690.8h0M210.4 679.4h0M208.5 682.1h0M211.5 680.2h0M234.4 702.4h0M228.4 689.0h0M219.5 686.8h0M223.1 674.8h0M216.8 678.0h0M225.5 671.7h0M229.4 691.2h0M221.2 681.7h0M232.2 668.7h0M229.4 674.8h0M230.6 697.6h0M220.3 659.7h0M208.8 700.4h0M225.7 690.6h0M212.9 692.4h0M209.8 662.4h0M228.9 677.6h0M223.1 660.2h0M209.9 673.9h0M222.6 675.3h0M232.5 690.7h0M229.1 687.3h0M216.8 684.0h0M213.1 699.5h0M218.4 685.0h0M229.5 690.3h0M215.1 680.9h0M216.1 668.2h0M230.0 661.4h0M212.2 677.9h0M209.5 695.5h0M225.4 699.2h0M215.1 680.3h0M221.6 696.1h0M219.1 686.2h0M208.5 689.5h0M214.5 686.8h0M235.7 672.1h0M214.9 680.2h0M214.4 683.6h0M213.1 693.0h0M234.7 695.7h0M217.0 675.7h0M208.3 680.3h0M210.9 697.1h0M211.2 666.5h0M212.3 690.1h0M222.3 670.0h0M224.2 683.2h0M223.5 667.5h0M211.4 701.1h0M231.1 666.4h0M231.8 664.0h0M211.6 667.9h0M236.2 698.6h0M229.3 668.9h0M234.4 686.7h0M210.8 700.0h0M219.0 697.5h0M206.3 700.7h0M214.1 697.8h0M224.0 656.0h0M218.7 677.5h0M235.4 689.3h0M208.8 674.6h0M220.3 667.8h0M218.8 677.9h0M225.2 696.3h0M229.7 683.7h0M231.7 691.8h0M215.8 660.2h0M235.3 690.5h0M212.7 681.7h0M219.6 670.6h0M209.9 690.9h0M214.4 658.5h0M218.5 671.0h0M207.4 702.0h0M221.6 668.5h0M232.4 678.4h0M218.3 679.2h0M225.7 655.1h0M225.2 694.6h0M226.8 656.0h0M228.0 671.9h0M222.6 693.3h0M212.9 703.5h0M224.4 682.5h0M230.4 701.1h0M237.9 703.7h0M219.8 655.2h0M228.5 664.9h0M207.6 679.8h0M223.2 696.3h0M223.3 700.6h0M213.7 690.5h0M211.3 679.5h0M226.0 659.3h0M217.8 697.8h0M207.9 688.0h0M229.6 675.1h0M225.9 703.8h0M214.9 681.2h0M223.6 666.4h0M212.1 693.5h0M222.3 700.9h0M216.6 673.2h0M228.9 693.6h0M225.1 703.2h0M228.1 677.8h0M217.0 701.4h0M223.0 688.8h0M221.9 697.7h0M214.1 684.5h0M227.5 692.9h0M228.3 679.3h0M212.4 665.5h0M224.8 655.1h0M226.3 695.0h0M212.9 686.9h0M212.3 702.2h0M227.8 700.9h0M214.8 656.8h0M227.8 698.2h0M233.2 700.8h0M211.2 674.2h0M211.4 689.0h0M229.9 693.1h0M230.7 703.5h0M235.9 689.2h0M216.6 678.6h0M208.6 675.2h0M217.4 672.3h0M219.2 672.4h0M216.7 688.6h0M224.6 698.3h0M230.6 692.7h0M234.8 700.9h0M225.0 666.9h0M213.3 685.8h0M226.4 664.8h0M226.4 668.6h0M225.4 682.4h0M232.3 673.3h0M219.2 696.6h0M237.2 695.0h0M234.0 681.6h0M219.9 674.3h0M209.0 675.7h0M219.1 655.7h0M223.9 673.3h0M225.1 698.1h0M234.9 673.2h0M224.3 702.3h0M214.7 663.0h0M213.4 697.6h0M234.3 669.0h0M224.5 673.2h0M232.6 701.1h0M223.5 692.0h0M222.4 697.8h0M217.6 680.2h0M221.2 695.7h0M224.4 677.6h0M217.8 702.0h0M220.3 656.5h0M234.7 703.3h0M229.5 672.5h0M227.0 660.8h0M210.9 671.6h0M213.7 679.7h0M228.7 683.8h0M219.7 696.4h0M217.3 663.1h0M233.4 679.2h0M208.6 688.4h0M208.1 694.6h0M219.7 683.1h0M230.5 686.8h0M212.7 692.4h0M236.5 685.5h0M210.8 682.3h0M213.3 677.3h0M225.4 663.5h0M219.3 698.7h0M227.0 699.7h0M230.8 699.9h0M215.9 668.5h0M228.5 674.3h0M212.2 669.5h0M214.3 673.6h0M223.8 702.4h0M222.8 702.8h0M230.7 682.6h0M222.8 662.2h0M223.4 670.2h0M208.0 678.9h0M221.3 661.5h0M235.2 677.1h0M216.5 685.7h0M209.3 676.5h0M223.6 662.3h0M210.1 662.5h0M233.5 686.0h0M233.7 684.5h0M224.4 677.0h0M216.4 679.7h0M211.3 701.6h0M220.9 666.1h0M233.4 699.5h0M211.9 698.2h0M234.8 681.4h0M216.6 655.8h0M227.0 681.5h0M234.8 687.3h0M234.0 688.8h0M228.3 701.4h0M218.8 703.7h0M224.7 667.3h0" stroke="#e8202a" stroke-width="3.0" stroke-linecap="round" fill="none"/>
<path d="M234.3 689.2h0M213.7 671.6h0M210.9 689.4h0M230.8 684.8h0M213.5 650.2h0M224.1 670.0h0M213.8 698.6h0M227.3 667.8h0M229.6 654.4h0M231.8 650.0h0M225.3 682.1h0M218.5 701.8h0M239.5 681.2h0M212.0 656.4h0M233.2 664.7h0M218.4 674.1h0M216.8 649.4h0M216.1 665.5h0M216.7 644.5h0M232.8 697.4h0M210.4 687.6h0M229.7 689.5h0M233.6 665.5h0M216.9 693.2h0M230.7 669.8h0M220.9 679.7h0M209.8 650.2h0M225.5 678.9h0M231.0 646.7h0M232.4 645.6h0M215.2 643.1h0M211.1 682.6h0M231.1 696.5h0M235.5 697.3h0M212.6 675.1h0M211.3 683.3h0M213.7 698.8h0M233.0 690.4h0M237.7 659.4h0M236.8 677.9h0M234.5 685.7h0M224.5 644.7h0M236.6 681.4h0M212.1 673.0h0M218.5 700.6h0M215.9 643.7h0M239.8 695.3h0M210.8 683.0h0M208.9 694.6h0M219.4 656.2h0M226.4 694.0h0M227.0 647.6h0M227.7 664.9h0M236.4 698.2h0M233.5 680.3h0M233.3 663.3h0M227.4 702.2h0M209.5 690.1h0M225.6 645.3h0M232.5 687.0h0M212.6 703.5h0M229.8 690.3h0M222.5 651.6h0M214.7 691.5h0M235.9 661.5h0M234.0 649.8h0M216.4 690.3h0M229.6 652.6h0M238.9 683.1h0M233.3 703.0h0M234.3 678.9h0M216.0 666.0h0M234.9 703.2h0M238.7 680.5h0M216.1 672.4h0M230.0 652.0h0M227.0 645.1h0M216.2 674.3h0M237.2 694.2h0M223.6 654.8h0M221.8 658.4h0M220.3 659.0h0M224.2 679.0h0M220.3 670.0h0M214.7 659.0h0M209.1 699.3h0M231.1 666.6h0M228.7 690.1h0M236.0 685.0h0M209.5 683.8h0M220.2 667.5h0M230.9 683.5h0M221.4 653.8h0M236.3 674.5h0M214.9 669.0h0M228.3 659.4h0M221.0 686.8h0M227.8 674.7h0M228.2 662.7h0M238.9 703.3h0M234.2 684.5h0M207.2 663.8h0M214.7 699.6h0M227.3 683.2h0M226.3 703.9h0M223.1 656.4h0M227.5 676.4h0M238.4 689.5h0M239.6 690.7h0M227.0 650.5h0M210.7 664.4h0M217.3 653.2h0M227.6 697.5h0M224.1 689.1h0M218.0 665.6h0M227.5 651.5h0M230.1 684.9h0M217.0 699.8h0M233.3 686.4h0M221.0 677.1h0" stroke="#e8202a" stroke-width="3.0" stroke-linecap="round" fill="none"/>
<path d="M235.2 633.7h0M244.8 641.1h0M226.1 641.4h0M227.5 636.6h0M230.0 646.8h0M246.9 648.6h0M246.3 636.8h0M227.1 636.3h0M241.1 646.2h0M248.3 634.5h0M230.8 640.9h0M212.4 639.9h0M218.9 632.4h0M206.6 641.2h0M208.2 643.7h0M235.4 643.9h0M220.1 646.5h0M247.0 642.9h0M216.9 647.5h0M228.5 634.5h0M219.7 635.8h0M227.2 646.6h0M215.6 638.9h0M210.5 631.3h0M226.4 636.7h0M218.8 646.4h0M220.8 633.6h0M240.1 635.5h0M210.3 639.0h0M249.4 639.4h0M212.6 645.7h0M209.2 633.7h0M240.0 643.8h0M228.9 637.0h0M208.5 639.1h0M225.5 631.4h0M239.1 633.3h0M217.0 635.0h0M231.1 639.5h0M240.0 637.0h0M225.0 637.2h0M205.3 647.9h0M219.1 644.8h0M240.8 646.5h0M238.2 647.2h0M218.3 643.1h0M249.7 637.3h0M232.6 633.4h0M233.8 642.0h0M225.7 643.8h0" stroke="#e8202a" stroke-width="3.0" stroke-linecap="round" fill="none"/>
<path d="M244.9 676.3h0M259.7 680.2h0M241.1 685.6h0M246.5 675.1h0M264.6 689.2h0M242.8 698.6h0M244.6 673.3h0M262.0 700.8h0M239.3 699.9h0M251.3 684.9h0M238.3 699.4h0M241.0 695.1h0M249.5 674.2h0M264.1 696.9h0M253.4 670.3h0M253.3 699.7h0M254.3 697.3h0M247.1 684.8h0M248.9 689.1h0M256.8 676.6h0M251.5 693.8h0M245.4 676.1h0M257.7 699.3h0M243.3 690.6h0M240.3 671.0h0M265.9 701.7h0M242.7 681.8h0M260.4 695.2h0M248.5 688.4h0M249.3 675.1h0M248.6 678.5h0M263.5 692.1h0M248.0 685.6h0M248.0 689.0h0M260.9 679.2h0M246.7 690.3h0M244.1 683.8h0M249.4 673.5h0M243.5 690.0h0M253.7 667.7h0M246.7 672.1h0M254.1 669.9h0M252.6 667.4h0M254.4 688.5h0M256.4 686.1h0M242.3 701.9h0M253.0 666.0h0M247.3 682.3h0M260.8 688.1h0M246.8 668.6h0" stroke="#e8202a" stroke-width="3.0" stroke-linecap="round" fill="none"/>
<path d="M249.3 618.9h0M240.7 607.7h0M231.7 621.8h0M240.1 596.9h0M223.8 625.3h0M242.9 629.2h0M226.9 598.8h0M233.7 610.2h0M233.8 627.5h0M246.1 606.9h0M239.0 618.7h0M224.0 613.3h0M246.9 600.7h0M224.8 607.8h0M240.3 610.7h0M256.7 615.6h0M225.1 599.9h0M237.8 611.6h0M237.4 606.5h0M253.2 619.5h0M214.3 601.9h0M228.2 623.9h0M219.0 609.9h0M249.9 603.3h0M240.4 609.6h0M239.5 611.7h0M218.7 609.4h0M222.0 610.5h0M212.5 615.6h0M241.0 629.7h0M211.6 612.8h0M236.8 619.8h0M233.2 614.6h0M234.2 618.3h0M226.2 606.1h0M246.2 617.3h0M249.1 622.8h0M222.3 608.0h0" stroke="#e8202a" stroke-width="3.0" stroke-linecap="round" fill="none"/>
<path d="M235.4 544.2h0M238.0 544.2h0M240.5 544.2h0M237.4 551.3h0M237.4 553.3h0M236.0 561.8h0M216.2 584.0h0M236.4 594.7h0M243.5 592.0h0M241.5 598.7h0M247.5 601.8h0M241.5 603.8h0M214.2 610.9h0M225.3 613.9h0M232.4 609.8h0M249.5 611.9h0M259.2 621.6h0M265.0 640.0h0M276.0 649.0h0M278.0 652.0h0M280.0 663.0h0" stroke="#e8202a" stroke-width="3.0" stroke-linecap="round" fill="none"/>
<path d="M269.5 700.8h0M271.8 697.8h0M274.8 694.7h0M276.8 692.7h0M283.9 679.5h0M285.9 675.5h0M287.0 674.5h0" stroke="#e8202a" stroke-width="3.0" stroke-linecap="round" fill="none"/>
<path d="M206.0 710.9h0M205.3 709.8h0M205.5 700.6h0M199.7 709.8h0M203.9 692.8h0M201.2 692.3h0M205.2 710.9h0M204.4 706.1h0M206.5 701.4h0M201.1 689.5h0M202.1 697.4h0M205.2 708.4h0M202.0 685.8h0M200.5 710.9h0M202.4 705.4h0M203.9 689.6h0M204.6 688.1h0M200.7 703.3h0M202.2 686.5h0M203.4 690.7h0M205.9 694.4h0M201.8 705.1h0M204.8 701.8h0M206.8 702.3h0M202.2 691.3h0" stroke="#bdbdbd" stroke-width="3.0" stroke-linecap="round" fill="none"/>
<path d="M72.7 544.3h0" stroke="#1a1a1a" stroke-width="3.0" stroke-linecap="round" fill="none"/>
<text x="64.8" y="553.0" font-size="7.2" fill="#222222" stroke="#222222" stroke-width="0.25">SAG1</text>
<path d="M173.2 544.3h0" stroke="#1a1a1a" stroke-width="3.0" stroke-linecap="round" fill="none"/>
<text x="159.6" y="543.6" font-size="7.2" fill="#222222" stroke="#222222" stroke-width="0.25">SRS34A</text>
<path d="M154.2 594.6h0" stroke="#1a1a1a" stroke-width="3.0" stroke-linecap="round" fill="none"/>
<text x="141.7" y="603.8" font-size="7.2" fill="#222222" stroke="#222222" stroke-width="0.25">ROP39</text>
<path d="M161.2 650.2h0" stroke="#1a1a1a" stroke-width="3.0" stroke-linecap="round" fill="none"/>
<text x="136.0" y="655.7" font-size="7.2" fill="#222222" stroke="#222222" stroke-width="0.25">ROP41</text>
<line x1="226.3" y1="551.2" x2="236.8" y2="544.6" stroke="#222" stroke-width="0.7"/>
<path d="M236.8 544.6h0" stroke="#1a1a1a" stroke-width="3.0" stroke-linecap="round" fill="none"/>
<text x="206.6" y="555.1" font-size="7.2" fill="#222222" stroke="#222222" stroke-width="0.25">BRP1</text>
<path d="M219.2 570.4h0" stroke="#1a1a1a" stroke-width="3.0" stroke-linecap="round" fill="none"/>
<text x="222.8" y="573.5" font-size="7.2" fill="#222222" stroke="#222222" stroke-width="0.25">BAG1</text>
<path d="M227.0 588.8h0" stroke="#1a1a1a" stroke-width="3.0" stroke-linecap="round" fill="none"/>
<text x="228.9" y="588.8" font-size="7.2" fill="#222222" stroke="#222222" stroke-width="0.25">ENO1</text>
<path d="M219.2 590.6h0" stroke="#1a1a1a" stroke-width="3.0" stroke-linecap="round" fill="none"/>
<text x="202.1" y="599.3" font-size="7.2" fill="#222222" stroke="#222222" stroke-width="0.25">LDH2</text>
<path d="M252.0 592.4h0" stroke="#1a1a1a" stroke-width="3.0" stroke-linecap="round" fill="none"/>
<text x="254.6" y="595.3" font-size="7.2" fill="#222222" stroke="#222222" stroke-width="0.25">RON2L1</text>
<line x1="234.1" y1="603.7" x2="238.1" y2="619.5" stroke="#222" stroke-width="0.7"/>
<path d="M238.1 619.5h0" stroke="#1a1a1a" stroke-width="3.0" stroke-linecap="round" fill="none"/>
<text x="211.8" y="606.4" font-size="7.2" fill="#222222" stroke="#222222" stroke-width="0.25">RON10</text>
<line x1="250.0" y1="604.0" x2="238.1" y2="619.5" stroke="#222" stroke-width="0.7"/>
<path d="M238.1 619.5h0" stroke="#1a1a1a" stroke-width="3.0" stroke-linecap="round" fill="none"/>
<text x="249.9" y="606.4" font-size="7.2" fill="#222222" stroke="#222222" stroke-width="0.25">AP2IX-4</text>
<path d="M251.2 614.8h0" stroke="#1a1a1a" stroke-width="3.0" stroke-linecap="round" fill="none"/>
<text x="253.3" y="617.4" font-size="7.2" fill="#222222" stroke="#222222" stroke-width="0.25">ROP42</text>
<line x1="222.3" y1="621.0" x2="232.8" y2="622.1" stroke="#222" stroke-width="0.7"/>
<path d="M232.8 622.1h0" stroke="#1a1a1a" stroke-width="3.0" stroke-linecap="round" fill="none"/>
<text x="196.0" y="623.4" font-size="7.2" fill="#222222" stroke="#222222" stroke-width="0.25">AP2IX-9</text>
<path d="M254.4 630.0h0" stroke="#1a1a1a" stroke-width="3.0" stroke-linecap="round" fill="none"/>
<text x="259.0" y="629.2" font-size="7.2" fill="#222222" stroke="#222222" stroke-width="0.25">SRS22A</text>
<line x1="246.0" y1="652.0" x2="239.4" y2="660.2" stroke="#222" stroke-width="0.7"/>
<path d="M239.4 660.2h0" stroke="#1a1a1a" stroke-width="3.0" stroke-linecap="round" fill="none"/>
<text x="246.0" y="654.9" font-size="7.2" fill="#222222" stroke="#222222" stroke-width="0.25">AP2IV-3</text>
<path d="M298.0 650.5h0" stroke="#1a1a1a" stroke-width="3.0" stroke-linecap="round" fill="none"/>
<text x="280.9" y="659.4" font-size="7.2" fill="#222222" stroke="#222222" stroke-width="0.25">ROP28</text>
<line x1="249.9" y1="665.0" x2="238.9" y2="671.5" stroke="#222" stroke-width="0.7"/>
<path d="M238.9 671.5h0" stroke="#1a1a1a" stroke-width="3.0" stroke-linecap="round" fill="none"/>
<text x="249.9" y="667.5" font-size="7.2" fill="#222222" stroke="#222222" stroke-width="0.25">AP2Ib-1</text>
<path d="M283.5 679.9h0" stroke="#1a1a1a" stroke-width="3.0" stroke-linecap="round" fill="none"/>
<text x="271.7" y="688.0" font-size="7.2" fill="#222222" stroke="#222222" stroke-width="0.25">ROP43</text>
<rect x="62.4" y="529.3" width="249.4" height="192.2" fill="none" stroke="#231f20" stroke-width="1.4"/>
<line x1="122.7" y1="721.5" x2="122.7" y2="725.3" stroke="#231f20" stroke-width="1.2"/>
<text x="122.7" y="735.2" font-size="10.6" font-weight="bold" text-anchor="middle" fill="#231f20">10</text>
<line x1="201.8" y1="721.5" x2="201.8" y2="725.3" stroke="#231f20" stroke-width="1.2"/>
<text x="201.8" y="735.2" font-size="10.6" font-weight="bold" text-anchor="middle" fill="#231f20">0</text>
<line x1="280.9" y1="721.5" x2="280.9" y2="725.3" stroke="#231f20" stroke-width="1.2"/>
<text x="280.9" y="735.2" font-size="10.6" font-weight="bold" text-anchor="middle" fill="#231f20">10</text>
<line x1="57.7" y1="711.9" x2="62.4" y2="711.9" stroke="#231f20" stroke-width="1.2"/>
<text x="56.0" y="715.1" font-size="10.6" font-weight="bold" text-anchor="end" fill="#231f20">0</text>
<line x1="57.7" y1="615.7" x2="62.4" y2="615.7" stroke="#231f20" stroke-width="1.2"/>
<text x="56.0" y="618.9" font-size="10.6" font-weight="bold" text-anchor="end" fill="#231f20">100</text>
<line x1="57.7" y1="575.9" x2="62.4" y2="575.9" stroke="#231f20" stroke-width="1.2"/>
<text x="56.0" y="579.1" font-size="10.6" font-weight="bold" text-anchor="end" fill="#231f20">200</text>
<line x1="57.7" y1="545.3" x2="62.4" y2="545.3" stroke="#231f20" stroke-width="1.2"/>
<text x="56.0" y="548.5" font-size="10.6" font-weight="bold" text-anchor="end" fill="#231f20">300</text>
<text x="186.8" y="525.2" font-size="10.9686" font-weight="bold" text-anchor="middle" fill="#231f20">Group A bradys compared to D7-BAG1+ bradys</text>
<text x="190.1" y="743.4" font-size="10.99245" font-weight="bold" text-anchor="middle" fill="#231f20">Log2 fold change</text>
<text x="36.0" y="626.4" font-size="11.27" font-weight="bold" text-anchor="middle" fill="#231f20" transform="rotate(-90 36.0 626.4)">-Log10 adjusted p-value</text>
<path d="M648.9 704.1h0M545.2 704.9h0M549.0 704.5h0M551.4 704.5h0M628.2 705.9h0M568.2 705.5h0M616.2 704.4h0M642.8 704.6h0M547.6 705.2h0M638.9 705.1h0M575.5 704.8h0M558.3 703.9h0M525.5 705.0h0M574.0 706.6h0M631.4 705.7h0M591.3 705.1h0M545.7 704.9h0M566.7 703.6h0M572.1 704.5h0M632.0 705.5h0M603.5 704.2h0M524.0 704.5h0M545.3 703.9h0M623.9 704.3h0M545.7 704.9h0M606.2 704.5h0M580.5 704.8h0M621.9 704.3h0M615.6 703.3h0M605.4 704.3h0M593.6 703.9h0M550.5 706.0h0M589.7 705.1h0M545.2 704.6h0M639.0 705.5h0M542.3 705.7h0M592.9 703.5h0M633.8 703.9h0M526.5 704.2h0M627.4 705.6h0M609.0 705.5h0M623.5 704.3h0M565.6 705.0h0M636.4 704.6h0M541.8 703.1h0M616.5 703.9h0M640.2 705.0h0M646.5 703.4h0M612.8 704.6h0M641.0 704.4h0M639.5 704.3h0M577.9 704.8h0M562.8 704.9h0M598.6 705.8h0M598.0 705.1h0M635.4 704.5h0M603.0 704.4h0M595.7 706.9h0M518.5 705.6h0M647.6 705.0h0M523.8 705.8h0M599.8 705.0h0M626.2 705.5h0M572.3 704.9h0M547.8 706.1h0M604.0 703.8h0M626.6 704.9h0M644.5 703.6h0M524.9 705.2h0M555.3 704.1h0M585.5 705.5h0M614.7 703.9h0M607.3 703.8h0M595.9 705.8h0M535.5 704.8h0M574.7 704.9h0M538.0 704.2h0M618.6 704.4h0M632.1 704.8h0M609.2 704.0h0M564.4 704.3h0M622.3 704.9h0M575.2 704.8h0M545.0 705.2h0M584.3 706.3h0M585.6 702.3h0M537.3 705.1h0M530.2 703.2h0M607.7 703.8h0M531.3 704.0h0M636.9 703.6h0M546.2 704.5h0M553.7 704.1h0M605.3 704.3h0M617.5 705.9h0M582.6 704.4h0M617.2 703.3h0M567.9 706.1h0M553.7 705.6h0M537.5 704.0h0M559.1 704.5h0M521.6 704.8h0M639.9 704.3h0M581.5 704.3h0M628.7 704.9h0M582.9 705.2h0M572.5 705.4h0M597.6 704.6h0M531.5 704.9h0M548.8 706.2h0M517.8 704.6h0M559.6 702.5h0M556.1 703.7h0M567.8 704.6h0M606.8 704.6h0M571.1 704.5h0M584.3 704.7h0M646.0 704.3h0M560.9 705.3h0M525.8 705.0h0M561.2 705.3h0M570.1 704.7h0M604.2 705.4h0M625.7 704.0h0M545.7 705.3h0M623.0 705.9h0M575.2 704.6h0M629.8 704.3h0M552.6 704.3h0M631.7 704.7h0M630.2 705.6h0M546.4 705.1h0M577.2 702.7h0M577.9 703.9h0M532.2 703.6h0M518.0 705.0h0M640.1 704.8h0M554.2 703.5h0M569.4 703.3h0M545.2 705.9h0M624.1 705.0h0M643.9 704.1h0M632.9 703.6h0M580.0 703.2h0M535.1 704.1h0M642.6 705.1h0M590.1 704.4h0M567.0 704.3h0M630.5 704.9h0M563.4 704.7h0M555.8 702.7h0M620.0 704.3h0M609.4 703.7h0M586.9 704.7h0M629.4 704.8h0M528.2 703.9h0M562.0 702.3h0M541.6 705.4h0M523.5 704.3h0M594.8 704.5h0M553.3 704.5h0M552.4 703.8h0M609.3 704.2h0M623.1 705.3h0M531.7 704.9h0M635.2 703.8h0M545.7 704.8h0M547.0 705.1h0M541.6 703.2h0M536.4 704.2h0M580.2 705.5h0M638.2 704.1h0M617.8 705.3h0M631.7 704.6h0M567.9 705.1h0M522.5 703.7h0M546.3 705.2h0M625.1 705.2h0M584.4 706.1h0M517.9 704.7h0M635.9 704.1h0M563.7 703.9h0M554.0 703.9h0M648.0 705.2h0M549.1 705.4h0M601.5 703.1h0M636.2 703.5h0M532.4 703.5h0M571.7 704.5h0M544.1 702.8h0M599.3 704.0h0M583.6 704.7h0M585.6 705.7h0M593.9 705.3h0M605.7 704.6h0M588.8 704.8h0M649.1 704.1h0M605.7 704.3h0M521.4 704.9h0M541.4 704.8h0M639.9 703.6h0M569.9 704.0h0M527.6 704.2h0M543.9 704.1h0M525.5 705.7h0M566.1 703.8h0M545.6 706.6h0M589.7 704.3h0M571.1 705.1h0M562.8 703.7h0M646.2 705.2h0M647.0 704.3h0M630.1 706.6h0M557.9 704.5h0M623.5 704.8h0M550.8 705.1h0M557.1 703.9h0M601.4 706.0h0M519.1 704.8h0M621.2 704.2h0M550.2 705.7h0M599.0 704.3h0M553.9 704.8h0M627.0 704.3h0M591.5 703.9h0M520.2 705.0h0M582.4 703.8h0M543.7 704.7h0M594.4 704.1h0M547.4 704.8h0M540.0 705.9h0M541.3 704.8h0M607.4 704.3h0M545.9 704.9h0M613.2 704.1h0M528.3 705.5h0M643.4 703.2h0M546.4 705.0h0M642.1 704.7h0M636.3 705.8h0M601.1 705.8h0M621.2 705.6h0M607.4 704.4h0M557.1 704.4h0M561.2 704.8h0M534.0 706.0h0M551.8 704.8h0M633.3 705.0h0M522.1 705.9h0M556.8 705.0h0M555.8 705.2h0M531.8 705.5h0M574.0 704.6h0M575.4 704.6h0M534.9 706.0h0M520.3 704.9h0M541.6 704.8h0M575.3 704.5h0M610.9 702.7h0M574.0 703.7h0M634.5 704.5h0M649.3 705.4h0M573.5 703.4h0M633.6 703.7h0M639.1 705.4h0M641.7 704.7h0M565.7 704.7h0M629.1 705.2h0M592.2 704.2h0M552.7 704.9h0M550.1 704.3h0M588.3 704.6h0M596.5 704.6h0M618.2 703.6h0M539.5 704.9h0M562.9 704.1h0M597.3 705.8h0M624.9 705.5h0M612.4 704.4h0M542.5 705.0h0M547.0 704.2h0M592.1 704.2h0M619.3 705.6h0M560.6 703.7h0M613.6 705.7h0M528.1 704.2h0M587.8 704.5h0M555.6 704.6h0M630.6 702.8h0M630.5 704.9h0M580.0 704.1h0M603.9 704.5h0M536.4 703.7h0M609.6 704.4h0M611.1 706.1h0M628.8 703.8h0M536.5 703.4h0M572.9 705.0h0M517.1 704.3h0M520.2 704.4h0M539.6 704.7h0M570.9 705.2h0M616.3 704.0h0M567.3 704.1h0M578.1 703.7h0M569.8 706.0h0M616.3 703.8h0M595.6 704.3h0M620.9 703.4h0M554.9 704.8h0M606.8 704.7h0M641.1 705.2h0M609.2 704.2h0M593.3 704.1h0M556.6 704.8h0M534.7 705.7h0M520.9 704.2h0M562.3 704.0h0M601.0 705.4h0M533.6 703.8h0M618.3 702.8h0M531.1 704.1h0M564.0 705.2h0M578.3 704.9h0M576.4 703.8h0M640.9 705.7h0M593.6 703.2h0M598.6 705.0h0M598.6 704.6h0M609.2 705.6h0M533.6 703.7h0M592.9 704.0h0M609.9 706.3h0M641.5 703.8h0M627.6 705.3h0M612.5 705.7h0M587.0 703.9h0M567.1 704.8h0M570.8 705.0h0M594.7 706.0h0M646.1 702.6h0M644.0 704.4h0M530.2 703.5h0M638.4 704.4h0M572.7 704.6h0M564.3 704.0h0M570.8 704.1h0M538.7 704.2h0M520.6 705.4h0M630.4 706.0h0M558.0 703.8h0M591.7 704.8h0M548.8 705.6h0M645.1 704.9h0M627.3 704.3h0M572.5 704.3h0M582.7 705.7h0M612.0 704.5h0M579.8 704.6h0M647.5 704.1h0M643.0 704.2h0M630.6 703.9h0M518.3 704.7h0M626.6 705.7h0M554.0 704.0h0M622.8 703.0h0M585.0 705.1h0M578.0 703.0h0M548.3 704.2h0M644.4 705.2h0M518.0 704.2h0M539.9 704.2h0M566.8 703.4h0M551.9 705.2h0M608.4 705.3h0M559.3 704.8h0M536.1 703.9h0M555.2 704.5h0M553.9 704.7h0M607.8 703.8h0M610.2 705.2h0M607.9 703.2h0M585.1 703.6h0M527.8 706.3h0M530.7 705.2h0M635.0 705.1h0M641.5 703.8h0M548.4 702.9h0M590.4 704.1h0M634.6 705.5h0M538.4 704.3h0M533.0 704.6h0M563.0 704.4h0M628.0 704.6h0M518.5 704.7h0M564.9 703.9h0M625.1 705.5h0M537.6 704.8h0M616.0 704.5h0M623.1 704.1h0M537.2 704.9h0M572.1 705.0h0M641.1 704.4h0M588.3 705.4h0M630.3 704.8h0M536.2 705.3h0M642.2 704.6h0M564.4 703.7h0M595.0 704.1h0M608.4 705.2h0M525.7 705.0h0M649.8 704.9h0M538.0 703.9h0M579.6 705.0h0M608.4 704.4h0M544.6 703.1h0M646.3 703.8h0M560.9 703.6h0M592.1 706.2h0M567.2 704.8h0M604.0 703.6h0M552.6 704.2h0M611.6 705.1h0M580.0 706.2h0M638.7 704.8h0M525.6 704.6h0M583.9 705.4h0M535.3 705.1h0M530.8 703.4h0M610.2 703.3h0M524.8 702.8h0M544.1 704.2h0M640.0 705.4h0M596.9 703.4h0M563.7 704.9h0M525.7 704.9h0M635.7 704.5h0M632.2 703.8h0M587.7 704.5h0M642.2 704.4h0M553.4 704.1h0M579.0 705.2h0M605.4 704.5h0M579.7 705.7h0M547.5 704.8h0M594.2 704.2h0M552.0 704.7h0M603.9 704.0h0M573.5 703.8h0M576.4 704.0h0M614.5 704.7h0M526.2 704.4h0M584.7 704.7h0M610.9 703.3h0M562.2 703.6h0M530.3 704.4h0M605.1 705.6h0M576.1 704.8h0M581.7 705.3h0M596.8 703.6h0M580.5 704.1h0M550.9 703.6h0M575.2 705.6h0M575.3 706.2h0M592.6 705.2h0M571.8 704.0h0M523.9 703.8h0M590.7 704.7h0M609.0 704.0h0M633.4 704.4h0M615.4 705.1h0M573.3 706.1h0M529.2 703.7h0M596.9 704.1h0M607.4 703.9h0M527.5 706.2h0M520.5 704.6h0M594.6 704.2h0M540.3 704.2h0M586.3 705.2h0" stroke="#bdbdbd" stroke-width="3.0" stroke-linecap="round" fill="none"/>
<path d="M541.9 700.0h0M602.9 695.8h0M648.9 698.1h0M529.1 703.5h0M577.2 699.3h0M621.2 702.1h0M613.5 703.1h0M641.6 703.8h0M595.0 696.5h0M567.8 700.1h0M615.0 700.0h0M533.7 696.1h0M575.8 701.3h0M599.3 700.8h0M643.5 700.4h0M619.7 696.1h0M615.8 702.6h0M611.2 696.2h0M641.1 697.2h0M597.8 697.0h0M583.3 702.2h0M599.6 702.8h0M637.9 703.4h0M552.7 701.8h0M609.6 700.1h0M546.5 702.7h0M571.1 698.2h0M615.6 697.9h0M601.0 698.3h0M561.6 700.1h0M544.3 696.0h0M534.9 700.1h0M539.2 702.9h0M609.8 701.3h0M624.6 699.8h0M548.8 702.0h0M620.8 696.8h0M572.4 696.5h0M623.1 698.4h0M580.1 697.8h0M573.3 696.9h0M584.3 694.2h0M558.7 699.0h0M581.4 693.4h0M584.9 698.1h0M566.0 693.6h0M581.5 702.7h0M549.1 697.8h0M597.4 697.8h0M621.9 700.3h0M635.2 703.8h0M548.4 701.0h0M642.8 702.4h0M620.3 695.7h0M585.6 699.5h0M609.5 699.6h0M608.8 695.2h0M584.0 698.2h0M537.4 695.0h0M605.8 698.0h0M581.6 703.3h0M635.4 699.1h0M601.9 701.7h0M647.2 699.7h0M584.2 694.0h0M561.5 695.1h0M632.8 699.9h0M596.9 693.1h0M554.8 703.3h0M541.6 697.2h0M560.0 694.5h0M540.8 701.3h0M583.2 696.1h0M625.0 698.0h0M605.9 694.6h0M530.3 702.5h0M576.3 694.3h0M621.1 695.9h0M623.9 699.8h0M621.5 695.3h0M642.8 701.8h0M639.5 699.3h0M577.5 699.9h0M536.3 698.6h0M579.1 704.0h0M577.1 697.4h0M591.0 701.4h0M548.0 700.2h0M597.0 694.0h0M589.4 699.4h0M586.9 695.2h0M576.7 696.3h0M615.7 695.2h0M539.8 695.8h0M599.5 693.5h0M536.1 696.9h0M557.9 702.2h0M611.5 699.5h0M581.0 695.2h0M571.1 703.5h0M634.0 699.1h0M624.5 699.1h0M632.6 703.3h0M613.5 702.1h0M598.8 694.6h0M556.4 697.4h0M598.1 697.5h0M586.9 696.9h0M600.7 699.6h0M611.9 700.6h0M645.7 701.7h0M616.0 695.9h0M571.1 698.7h0M530.7 700.5h0M553.1 695.4h0M555.8 699.2h0M528.3 699.8h0M623.9 696.2h0M606.8 695.7h0M611.2 696.8h0" stroke="#bdbdbd" stroke-width="3.0" stroke-linecap="round" fill="none"/>
<path d="M562.0 601.6h0M565.9 666.0h0M581.4 640.5h0M565.6 679.6h0M579.6 635.0h0M568.7 664.8h0M569.0 691.2h0M570.2 632.4h0M569.0 624.5h0M582.8 654.9h0M564.9 632.0h0M572.9 641.0h0M572.9 680.7h0M565.6 648.8h0M563.2 642.6h0M573.4 668.9h0M575.6 679.1h0M577.6 639.6h0M560.8 626.4h0M565.6 669.1h0M568.5 635.6h0M559.0 621.2h0M578.4 640.8h0M563.0 601.0h0M577.0 644.1h0M559.6 628.1h0M583.2 694.4h0M563.1 630.1h0M578.9 630.1h0M562.3 652.4h0M571.2 642.1h0M560.6 666.0h0M569.9 605.5h0M579.8 637.0h0M575.5 598.3h0M566.6 650.9h0M574.1 681.5h0M567.7 655.5h0M566.1 662.0h0M573.1 630.3h0M570.0 679.5h0M566.3 636.6h0M575.7 625.5h0M571.5 685.0h0M580.4 688.7h0M572.3 634.2h0M563.4 683.6h0M574.1 666.9h0M572.4 618.0h0M565.2 685.8h0M567.7 609.2h0M564.0 617.5h0M567.3 665.0h0M560.5 655.7h0M575.2 659.7h0M572.5 623.1h0M572.5 663.2h0M571.2 652.6h0M573.2 692.1h0M577.3 658.2h0M573.7 601.5h0M561.0 657.0h0M567.5 623.5h0M565.9 617.0h0M569.7 602.6h0M567.0 629.0h0M562.0 688.5h0M578.3 621.1h0M580.7 674.2h0M566.1 610.8h0M570.4 644.0h0M573.2 638.2h0M564.5 654.3h0M583.2 687.5h0M573.7 674.3h0M574.4 662.6h0M582.9 688.0h0M566.2 696.5h0M569.1 666.1h0M571.1 603.8h0M571.6 593.6h0M565.4 667.3h0M583.3 662.1h0M581.4 678.2h0M575.2 628.9h0M571.0 609.6h0M579.7 624.3h0M574.7 656.6h0M560.1 664.3h0M570.9 614.4h0M573.5 640.9h0M577.0 634.4h0M568.4 651.1h0M573.0 626.0h0M568.8 670.4h0M569.4 642.4h0M561.9 617.4h0M577.5 685.7h0M573.1 626.2h0M574.7 675.4h0M560.6 636.3h0M559.8 647.5h0M568.6 592.7h0M562.4 645.5h0M568.9 655.6h0M581.8 655.5h0M578.6 627.2h0M565.4 681.8h0M575.5 604.2h0M579.5 663.5h0M565.5 689.7h0M559.6 643.9h0M566.8 601.5h0M564.4 696.5h0M561.6 690.0h0M567.7 666.0h0M568.9 592.8h0M575.1 601.9h0M573.8 627.9h0M568.2 599.5h0M565.9 690.4h0M560.9 680.9h0M580.6 679.9h0M572.3 596.4h0M578.5 676.8h0M564.8 672.6h0M559.8 654.5h0M571.0 685.9h0M581.0 668.6h0M564.0 659.2h0M572.4 627.9h0M569.7 671.6h0M564.6 687.4h0M572.6 682.2h0M572.6 595.9h0M574.3 607.0h0M573.1 621.1h0M576.0 693.4h0M578.2 628.0h0M572.4 659.7h0M565.5 643.9h0M572.2 605.2h0M577.2 609.0h0M575.9 688.5h0M574.2 684.4h0M574.1 633.8h0M571.5 677.1h0M579.6 646.4h0M574.2 621.6h0M563.5 647.4h0M562.5 622.5h0M561.0 654.5h0M564.0 604.2h0M559.6 628.1h0M572.2 637.7h0M564.4 682.1h0M577.7 632.0h0M573.9 681.0h0M575.6 604.1h0M566.5 691.2h0M573.8 609.2h0M573.9 655.6h0M579.1 669.9h0M576.7 619.7h0M565.1 605.1h0M566.1 624.7h0M569.8 608.7h0M576.3 676.4h0M573.1 636.2h0M564.4 675.0h0M563.1 612.7h0M567.5 675.6h0M572.8 611.0h0M560.8 683.5h0M583.9 686.9h0M579.8 646.5h0M560.5 654.2h0M572.9 672.3h0M571.6 618.1h0M581.4 662.7h0M567.1 611.2h0M573.8 631.5h0M568.0 643.5h0M580.9 650.9h0M563.1 677.0h0M569.0 600.3h0M562.6 622.9h0M569.6 597.0h0M578.3 673.3h0M560.3 623.6h0M575.3 643.2h0M571.6 664.6h0M571.8 640.5h0M561.9 681.7h0M565.5 674.9h0M574.2 636.5h0M566.3 681.3h0M571.6 695.2h0M578.7 623.5h0M579.3 680.2h0M579.4 629.4h0M570.6 617.0h0M578.5 613.3h0M560.0 650.3h0M564.6 653.6h0M582.2 689.4h0M578.9 642.9h0M573.6 614.8h0M582.1 659.3h0M570.7 596.2h0M584.0 674.1h0M563.4 598.3h0M572.7 663.2h0M561.4 608.5h0M578.9 629.1h0M568.0 609.9h0M568.3 640.3h0M564.5 664.9h0M572.1 664.9h0M574.5 678.5h0M560.4 682.9h0M579.9 636.6h0M565.3 600.0h0M580.9 689.5h0M578.2 640.1h0M561.6 693.2h0M562.5 685.0h0M567.3 630.3h0M568.1 691.3h0M578.1 633.8h0M568.6 680.7h0M564.3 627.4h0M578.8 652.7h0M577.4 618.6h0M571.5 636.6h0M570.4 617.4h0M573.2 626.1h0M562.2 657.8h0M582.5 658.0h0M571.0 624.9h0M565.8 608.1h0M579.7 658.4h0M564.9 658.7h0M578.6 662.4h0M561.2 617.9h0M576.0 647.0h0M580.7 636.8h0M576.1 653.1h0M567.8 628.2h0M559.1 622.3h0M560.5 641.5h0M568.1 616.4h0M574.1 657.7h0M573.9 614.6h0M574.6 650.7h0M562.7 660.2h0M570.2 669.9h0M576.5 664.5h0M571.3 605.0h0M562.2 659.8h0M565.0 643.1h0M572.3 681.3h0M564.5 690.9h0M576.1 695.2h0M573.9 633.5h0M565.0 690.4h0M573.6 695.9h0M576.8 603.3h0M573.3 665.3h0M571.3 606.7h0M570.1 609.6h0M567.8 617.2h0M576.5 651.0h0M560.8 611.8h0M580.1 665.5h0M572.7 606.9h0M579.4 632.3h0M559.2 639.0h0M572.9 652.8h0M570.2 594.2h0M582.7 687.7h0M581.9 673.9h0M578.1 639.3h0M565.8 633.7h0M560.9 677.8h0M566.3 618.0h0M572.5 661.5h0M577.1 686.7h0M577.5 650.7h0M582.2 659.4h0M561.1 642.7h0M582.5 666.6h0M571.5 649.8h0M560.9 693.0h0M565.2 632.7h0M560.0 646.5h0M569.6 591.2h0M562.4 670.1h0M560.2 664.5h0M569.1 648.4h0M577.0 622.1h0M577.9 614.5h0M571.8 647.4h0M568.9 646.1h0M579.5 648.6h0M561.9 605.4h0M569.6 654.3h0M574.7 602.2h0M579.8 687.5h0M568.3 621.2h0M564.4 656.7h0M579.7 693.4h0M569.4 673.2h0M560.8 642.0h0M580.7 681.2h0M579.8 655.2h0M576.1 628.4h0M582.3 651.8h0M561.7 643.0h0M562.4 602.7h0M559.7 644.5h0M561.4 622.3h0M568.5 691.3h0M581.0 639.0h0M577.9 642.2h0M566.0 633.8h0M574.8 667.7h0M583.6 694.1h0M559.1 640.0h0M563.7 638.0h0M561.4 689.5h0M562.3 640.5h0M578.3 622.5h0M576.2 669.4h0M564.1 638.5h0M570.4 641.2h0M561.1 696.2h0M565.7 654.6h0M578.9 651.0h0M583.9 669.1h0M573.7 613.7h0M575.1 646.6h0M583.5 668.2h0M564.4 675.5h0M583.3 670.0h0M570.5 612.3h0M564.5 647.8h0M568.1 612.1h0M577.5 607.2h0M562.2 683.1h0M560.9 613.2h0M566.3 674.4h0M568.2 657.0h0M568.7 621.8h0M568.2 594.0h0M576.3 618.4h0M582.9 665.5h0M579.0 638.8h0M573.6 649.5h0M562.4 639.1h0M575.1 652.4h0M565.7 630.2h0M579.2 643.1h0M578.3 665.2h0M579.5 653.4h0M576.6 682.4h0M574.8 629.8h0M576.8 605.9h0M572.9 643.9h0M580.0 672.1h0M570.4 683.2h0M577.9 622.4h0M572.8 662.7h0M565.2 687.1h0M568.7 667.9h0M561.5 629.4h0M561.0 677.0h0M564.7 615.7h0M577.8 634.6h0M576.0 604.3h0M559.2 644.7h0M570.4 666.0h0M564.7 655.6h0M576.2 692.0h0M578.7 651.9h0M560.4 657.6h0M576.3 687.5h0M561.5 676.5h0M563.0 675.3h0M572.9 607.2h0M573.6 695.6h0M578.1 688.1h0M561.1 694.8h0M574.2 688.3h0M567.0 631.4h0M572.4 684.2h0M560.7 652.9h0M572.7 632.0h0M564.0 637.8h0M574.3 603.2h0M577.9 641.7h0M568.5 625.2h0M575.8 612.7h0M575.5 638.3h0M560.5 617.4h0M565.1 608.6h0M574.0 618.5h0M568.6 668.7h0M563.1 618.4h0M561.8 627.2h0M561.5 645.2h0M564.1 642.1h0M571.9 615.8h0M568.8 663.2h0M573.4 600.0h0M570.8 693.9h0M561.8 621.2h0M573.9 623.6h0M572.8 601.6h0M575.9 638.4h0M583.6 680.9h0M563.2 600.1h0M562.1 674.0h0M567.5 612.1h0M560.5 628.6h0M575.0 694.0h0M567.2 676.4h0M565.4 613.2h0M574.3 624.9h0M577.8 650.8h0M574.5 661.1h0M569.6 660.2h0M560.7 638.7h0M570.9 638.6h0M578.8 655.9h0M560.4 643.9h0M579.8 687.5h0M567.3 688.1h0M567.6 677.3h0M575.5 644.0h0M577.7 690.5h0M563.4 695.0h0M573.2 609.3h0M567.4 644.6h0M572.9 619.1h0M562.1 682.5h0M577.0 679.1h0M583.2 682.7h0M572.0 596.1h0M575.7 606.5h0M569.1 662.1h0M570.8 601.8h0M568.5 636.8h0M583.6 683.2h0M583.5 665.1h0M559.9 641.8h0M573.6 621.4h0M563.5 671.6h0M574.5 679.0h0M575.5 626.6h0M580.3 647.4h0M572.7 625.1h0M578.4 666.6h0M569.2 613.3h0M562.8 601.2h0M574.3 652.2h0M572.7 675.6h0M569.7 642.0h0M566.7 641.4h0M579.8 650.7h0M577.6 691.9h0M566.7 690.4h0M563.6 655.7h0M562.8 617.1h0M576.1 692.0h0M570.3 667.6h0M560.5 657.2h0M571.5 658.5h0M568.8 654.2h0M562.4 599.7h0M561.5 632.8h0M582.9 695.4h0M564.9 619.9h0M579.6 694.5h0M567.8 681.9h0M566.5 616.0h0M562.3 618.4h0M560.2 637.2h0M567.9 670.0h0M565.3 614.8h0M576.3 695.5h0M582.1 681.2h0M570.9 625.8h0M559.9 644.9h0M563.2 628.0h0M561.5 692.8h0M577.7 668.4h0M572.8 674.6h0M571.6 628.0h0M578.2 689.5h0M561.3 639.4h0M576.1 666.4h0M559.7 658.4h0M577.4 634.0h0M567.3 670.4h0M572.2 616.4h0M573.8 601.0h0M568.8 673.0h0M565.2 616.8h0M572.9 634.1h0M577.2 661.5h0M569.3 622.7h0M575.9 620.8h0M563.0 679.5h0M565.7 693.8h0M575.4 607.2h0M574.3 679.3h0M566.8 692.2h0M572.4 642.3h0M564.4 600.8h0" stroke="#3159ad" stroke-width="3.0" stroke-linecap="round" fill="none"/>
<path d="M569.8 579.4h0M570.1 594.4h0M573.0 579.2h0M575.3 584.1h0M569.5 582.4h0M569.6 589.4h0M576.0 584.0h0M574.8 582.8h0M574.9 586.4h0M571.2 590.2h0M568.9 575.0h0M567.8 569.5h0M570.9 564.4h0M564.3 582.0h0M569.5 561.7h0M563.5 588.9h0M572.0 586.3h0M566.5 582.0h0M566.6 574.1h0M566.2 563.1h0M569.3 565.2h0M576.9 598.3h0M569.8 583.0h0M575.3 586.0h0M568.0 582.3h0M567.7 591.4h0M576.4 580.9h0M564.9 577.0h0M574.9 596.1h0M569.4 585.9h0M563.6 592.4h0M567.7 576.7h0M565.3 593.1h0M562.0 594.5h0M569.8 568.9h0M561.7 576.0h0M574.0 591.9h0M576.3 589.9h0M571.4 586.6h0M564.7 594.9h0M566.6 583.1h0M576.5 582.0h0M566.6 559.0h0M566.5 584.4h0M565.7 587.5h0M570.0 590.4h0M564.5 577.6h0M563.6 581.3h0M562.3 590.5h0M567.0 575.6h0M573.1 588.3h0M566.0 584.7h0M563.2 570.4h0M569.6 587.2h0M564.7 575.8h0M569.4 576.6h0M569.6 560.2h0M565.0 565.8h0M570.6 579.0h0M572.0 586.8h0" stroke="#3159ad" stroke-width="3.0" stroke-linecap="round" fill="none"/>
<path d="M557.1 674.9h0M555.9 655.8h0M552.9 685.6h0M553.0 686.0h0M558.8 657.5h0M550.3 690.7h0M553.1 642.1h0M553.0 634.1h0M555.5 638.3h0M556.9 658.2h0M555.5 671.0h0M556.5 663.1h0M551.7 657.9h0M557.1 681.1h0M559.3 645.6h0M554.2 687.4h0M560.5 604.4h0M553.2 659.2h0M558.8 660.9h0M557.6 675.4h0M556.3 648.5h0M555.4 663.4h0M559.9 679.5h0M552.1 683.9h0M554.6 647.0h0M555.8 639.9h0M560.5 621.8h0M556.2 644.8h0M559.1 673.3h0M556.2 666.1h0M552.1 690.2h0M558.4 613.5h0M558.9 667.5h0M555.3 646.0h0M558.1 607.3h0M557.5 671.8h0M552.3 682.9h0M558.3 632.0h0M556.5 672.0h0M553.5 652.5h0M553.3 689.9h0M553.0 643.1h0M554.1 674.8h0M550.6 693.5h0M555.4 691.1h0M559.1 616.6h0M555.1 648.9h0M551.8 659.8h0M558.8 607.5h0M557.1 673.2h0M558.5 610.4h0M558.0 662.1h0M557.8 650.9h0M556.1 623.9h0M557.0 695.4h0M552.2 649.1h0M555.4 628.1h0M553.1 653.6h0M558.6 660.6h0M559.7 617.1h0M557.4 692.0h0M556.1 617.0h0M560.3 622.7h0M558.6 611.6h0M555.6 639.5h0M556.7 627.4h0M556.3 655.0h0M560.1 638.8h0M554.3 691.4h0M555.7 625.8h0M559.3 643.0h0M555.0 622.9h0M556.1 640.6h0M556.0 636.8h0M557.2 629.2h0M552.1 651.0h0M556.9 643.4h0M551.7 676.6h0M561.0 618.3h0M559.9 669.4h0M555.8 659.6h0M554.4 635.3h0M558.1 684.2h0M555.9 665.8h0M558.0 663.6h0M561.2 618.6h0M551.8 664.9h0M557.3 628.3h0M556.3 646.9h0M553.6 654.2h0M556.9 662.5h0M559.7 612.8h0M558.3 694.4h0M559.1 652.5h0M556.4 679.4h0M553.7 653.6h0M554.5 646.0h0M558.4 612.0h0M558.4 661.0h0M557.6 640.4h0M551.7 677.1h0M559.3 667.3h0M558.3 613.3h0M553.8 648.5h0M550.3 695.2h0M552.0 678.4h0M557.4 656.7h0M553.5 653.6h0M552.1 669.5h0M558.4 638.1h0" stroke="#3159ad" stroke-width="3.0" stroke-linecap="round" fill="none"/>
<path d="M534.9 617.8h0M541.6 632.2h0M549.6 691.2h0M532.0 632.5h0M539.9 624.8h0M544.0 657.5h0M541.1 605.3h0M551.9 599.8h0M527.9 691.1h0M549.0 586.8h0M549.9 616.6h0M547.0 596.7h0M552.4 631.7h0M543.1 642.2h0M542.5 591.0h0M545.1 635.9h0M550.7 606.8h0M543.2 622.0h0M539.7 596.2h0M533.2 671.9h0M549.0 685.7h0M550.0 630.2h0M546.7 692.2h0M551.3 621.6h0M545.4 679.9h0M533.5 656.5h0M549.4 640.4h0M550.5 660.6h0M534.1 657.3h0M548.5 654.8h0M540.2 666.6h0M548.8 687.7h0M550.8 637.0h0M536.2 642.0h0M552.6 614.5h0M532.7 684.1h0M544.7 658.6h0M542.9 682.4h0M534.7 671.5h0M547.2 627.8h0M551.6 643.7h0M536.5 629.7h0M538.3 608.6h0M536.4 628.6h0M541.8 630.4h0M550.0 638.1h0M536.0 649.5h0M547.6 653.3h0M529.8 695.3h0M538.4 601.7h0M532.8 688.4h0M532.3 686.4h0M550.1 607.6h0M553.3 588.0h0M539.3 695.5h0M536.0 679.4h0M542.9 657.1h0M534.0 659.2h0M538.0 652.5h0M550.1 611.2h0M531.2 695.6h0M551.4 597.9h0M545.6 669.3h0M542.0 611.5h0M534.8 607.8h0" stroke="#3159ad" stroke-width="3.0" stroke-linecap="round" fill="none"/>
<path d="M523.6 540.9h0M540.0 540.9h0M542.0 540.9h0M543.6 540.9h0M548.2 540.9h0M550.0 540.9h0M552.0 540.9h0M554.0 541.0h0M556.0 541.0h0M560.0 541.5h0M566.4 540.9h0M569.0 540.9h0M572.7 540.9h0M503.0 541.0h0M523.0 551.5h0M530.0 553.0h0M553.6 547.5h0M557.6 549.0h0M558.0 553.0h0M565.5 556.5h0M566.6 551.0h0M542.0 573.0h0M546.0 576.0h0M534.4 580.0h0M497.7 631.5h0M518.1 611.3h0M516.5 563.0h0M522.8 551.4h0" stroke="#3159ad" stroke-width="3.0" stroke-linecap="round" fill="none"/>
<path d="M519.9 679.7h0M524.3 688.4h0M528.5 692.6h0M518.6 681.4h0M519.4 680.1h0M512.7 666.6h0M516.6 679.4h0M521.5 682.5h0M526.0 686.3h0M532.6 697.4h0M512.7 667.3h0M515.7 670.9h0M516.4 671.8h0M518.3 677.8h0M512.9 668.9h0M527.1 690.2h0" stroke="#3159ad" stroke-width="3.0" stroke-linecap="round" fill="none"/>
<path d="M614.0 699.1h0M631.3 694.3h0M609.3 701.7h0M611.6 704.8h0M649.5 702.4h0M622.2 704.3h0M629.6 693.2h0M615.9 692.7h0M592.8 702.6h0M644.9 693.6h0M628.8 702.4h0M647.3 701.3h0M631.4 700.6h0M647.7 693.1h0M609.3 696.9h0M648.7 705.1h0M601.3 694.4h0M619.5 695.5h0M648.2 701.8h0M634.6 696.8h0M617.5 700.1h0M631.3 699.1h0M608.7 694.6h0M596.2 702.6h0M626.0 700.7h0M641.8 694.0h0M640.1 697.1h0M606.4 705.5h0M605.0 695.6h0M646.8 702.3h0M613.1 701.1h0M587.3 696.1h0M616.9 702.9h0M644.3 705.4h0M640.5 703.9h0M627.2 700.7h0M588.0 701.2h0M638.9 697.5h0M588.4 694.8h0M642.6 704.2h0M600.1 694.4h0M630.6 697.7h0M599.6 704.6h0M590.3 700.8h0M647.3 693.4h0M621.6 693.2h0M623.1 693.1h0M618.8 700.2h0M633.6 697.5h0M589.3 704.6h0M625.1 701.3h0M615.0 705.0h0M617.8 695.3h0M613.2 702.1h0M613.0 698.1h0M602.1 695.9h0M605.5 696.9h0M628.6 700.2h0M598.5 703.9h0M625.6 701.3h0M635.3 700.3h0M631.6 702.9h0M584.9 701.5h0M639.0 695.6h0M606.6 704.1h0M645.1 695.3h0M614.8 698.8h0M620.6 694.9h0M606.8 704.0h0M596.7 704.0h0M647.7 693.1h0M643.8 695.7h0M588.6 698.6h0M649.9 700.3h0M599.1 700.1h0M629.6 694.4h0M645.8 698.5h0M590.2 701.1h0M615.4 696.0h0M641.5 692.2h0M599.9 700.5h0M590.6 692.3h0M633.3 694.0h0M593.3 697.5h0M610.0 698.7h0M585.5 702.7h0M580.9 700.9h0M623.4 695.2h0M598.1 704.9h0M631.0 695.9h0M587.6 702.7h0M588.8 694.5h0M628.7 700.0h0M629.0 693.3h0M603.5 705.8h0M628.9 697.0h0M602.5 693.3h0M596.8 700.6h0M598.4 701.8h0M603.0 692.1h0M582.9 692.4h0M627.2 703.6h0M618.8 702.8h0M618.8 694.2h0M596.2 697.2h0M619.6 703.5h0M638.5 697.5h0M637.6 696.3h0M620.9 701.6h0M629.1 702.2h0M629.3 695.5h0M639.8 702.4h0M638.6 695.9h0M607.6 696.7h0M638.8 699.3h0M624.5 704.1h0M605.8 699.3h0M614.2 696.4h0M615.7 700.2h0M585.8 700.1h0" stroke="#bdbdbd" stroke-width="3.0" stroke-linecap="round" fill="none"/>
<path d="M603.8 660.6h0M610.8 688.3h0M611.1 687.9h0M599.9 669.5h0M610.6 658.1h0M614.4 673.9h0M605.7 688.9h0M603.0 689.7h0M611.6 680.5h0M613.9 673.9h0M604.2 681.9h0M599.8 683.3h0M598.4 691.6h0M603.4 681.5h0M605.8 674.0h0M598.4 688.7h0M610.2 683.3h0M614.3 657.4h0M602.5 681.9h0M599.9 675.7h0M607.3 664.9h0M597.8 676.7h0M598.4 684.2h0M615.0 657.9h0M610.3 677.5h0M609.2 664.9h0M601.4 692.5h0M612.9 656.5h0M600.6 668.0h0M605.6 657.3h0M615.7 682.2h0M602.8 668.8h0M599.7 662.3h0M601.5 690.0h0M607.9 655.1h0M615.7 665.7h0M596.8 684.2h0M612.4 686.2h0M598.5 690.7h0M599.7 679.0h0M604.5 679.8h0M607.5 679.9h0M608.7 691.6h0M612.6 668.7h0M612.6 681.3h0M601.6 681.6h0M608.5 659.5h0M608.4 675.3h0M607.4 687.2h0M611.4 690.6h0M599.7 689.2h0M605.4 689.7h0M602.2 692.2h0M597.3 687.2h0M607.1 675.2h0M604.6 665.5h0M612.0 669.3h0M609.3 654.3h0M617.8 693.8h0M602.1 684.2h0M608.0 685.1h0M600.3 687.7h0M606.4 678.5h0M610.2 653.6h0M607.3 683.1h0M599.4 670.6h0M607.7 660.6h0M613.2 663.0h0M606.4 676.1h0M599.6 686.4h0M613.1 680.1h0M611.7 690.2h0M611.4 686.1h0M600.5 692.5h0M611.6 668.1h0M613.5 662.6h0M614.0 681.9h0M599.1 689.7h0M612.0 671.7h0M613.5 672.4h0M597.7 681.6h0M607.0 673.9h0M603.0 680.9h0M613.1 669.4h0M606.3 674.2h0M614.4 666.7h0M597.0 685.3h0M615.3 692.3h0M603.9 659.5h0M608.2 665.6h0M605.5 681.9h0M606.3 667.6h0M599.6 688.1h0M607.2 691.3h0M604.3 680.3h0M607.3 686.5h0M607.5 692.8h0M608.2 657.3h0M610.4 678.7h0M597.9 678.7h0M611.4 681.9h0M609.0 666.5h0M598.9 672.6h0M610.2 675.2h0M610.8 667.1h0M600.1 677.3h0M614.2 668.0h0M599.5 691.3h0M598.4 680.2h0M604.7 670.7h0M615.7 661.2h0M613.9 691.4h0M614.4 694.5h0M613.3 655.4h0M603.1 656.0h0M602.3 672.0h0M605.0 690.7h0M617.0 682.5h0M607.5 689.4h0M615.5 674.9h0M614.9 681.1h0M608.0 668.4h0M612.4 692.6h0M607.6 662.2h0M604.9 664.7h0M614.4 666.5h0M608.1 669.2h0M597.6 691.4h0M610.7 683.3h0M603.1 693.0h0M606.3 669.1h0M597.1 681.5h0M610.3 679.7h0M598.8 671.3h0M606.0 653.2h0M598.4 681.2h0M600.9 686.4h0M603.1 667.7h0M603.8 683.4h0M609.2 689.7h0M602.9 690.9h0M600.9 688.3h0M614.2 682.3h0M603.2 671.4h0M611.0 670.7h0M597.9 694.4h0M612.2 661.1h0M602.6 688.3h0M599.1 685.7h0M617.5 687.5h0M602.4 659.3h0M614.4 655.2h0M604.1 678.5h0M614.1 677.4h0M606.9 665.5h0M611.5 683.3h0M613.9 671.1h0M612.8 668.9h0M599.4 678.0h0M616.8 693.4h0M603.3 690.1h0M616.4 686.8h0M602.4 671.7h0M610.9 682.5h0M616.1 671.5h0M611.9 654.5h0M614.9 665.0h0M604.9 672.6h0M606.7 674.4h0M604.3 654.5h0M600.5 687.0h0M611.7 674.8h0M612.3 660.9h0M606.5 672.1h0M603.3 672.4h0M598.7 676.5h0M610.2 675.4h0M613.3 688.5h0M610.1 671.4h0M604.1 666.7h0M599.1 668.4h0M600.1 680.1h0M617.2 681.3h0M608.0 674.2h0M604.5 673.6h0M611.7 666.2h0M600.6 660.3h0M611.0 659.9h0M608.7 672.2h0M612.9 691.6h0M602.5 677.4h0M605.5 674.8h0M603.1 674.5h0M599.4 663.0h0M599.7 674.2h0M609.6 676.6h0M602.9 679.4h0M605.5 692.0h0M603.8 657.9h0M605.5 665.3h0" stroke="#e8202a" stroke-width="3.0" stroke-linecap="round" fill="none"/>
<path d="M622.3 687.3h0M627.9 677.7h0M619.6 684.1h0M625.4 694.9h0M602.7 662.3h0M595.2 690.6h0M602.2 687.1h0M616.9 670.7h0M589.8 666.8h0M597.5 669.0h0M607.7 685.5h0M608.7 669.8h0M621.3 675.7h0M587.3 695.3h0M607.0 678.4h0M588.1 692.5h0M601.5 694.5h0M590.7 673.5h0M623.7 693.7h0M620.1 691.2h0M624.4 686.7h0M593.9 678.6h0M611.4 683.4h0M623.1 678.4h0M618.7 670.5h0M607.3 686.9h0M600.7 661.4h0M599.3 685.3h0M589.2 696.8h0M608.7 680.0h0M589.9 688.3h0M611.0 674.9h0M619.7 664.9h0M596.3 692.5h0M593.8 695.1h0M622.1 696.6h0M621.7 682.7h0M595.2 689.7h0M620.3 695.0h0M618.7 662.3h0M623.1 686.8h0M610.7 661.9h0M587.2 685.9h0M588.6 695.2h0M619.9 675.4h0M614.4 665.8h0M628.5 681.7h0M597.8 663.5h0M597.6 669.2h0M614.2 673.2h0M598.9 675.2h0M615.8 694.4h0M619.9 665.1h0M587.5 686.2h0M611.3 665.2h0M627.4 688.5h0M595.7 688.3h0M592.5 679.3h0M606.7 676.0h0M589.3 686.6h0M603.9 693.5h0M623.5 678.9h0M591.2 692.4h0M592.2 680.0h0M608.8 679.5h0M597.1 668.7h0M607.3 680.6h0M625.6 685.1h0M588.3 688.7h0M615.2 674.7h0M627.9 687.6h0M608.9 669.2h0M592.0 687.7h0M617.8 692.1h0M606.1 661.9h0M602.6 694.2h0M595.5 693.2h0M612.0 687.4h0M603.0 692.2h0M605.9 667.5h0M614.8 683.4h0M605.2 669.1h0M613.2 667.2h0M620.0 665.4h0M618.6 677.6h0M613.0 692.2h0M603.9 681.6h0M612.8 692.2h0M628.8 695.7h0M625.1 684.0h0M611.9 664.0h0M602.5 667.6h0M596.4 677.1h0M602.5 662.9h0M601.6 684.0h0M613.8 691.0h0M613.1 674.5h0M613.7 695.1h0M607.1 675.2h0M627.0 688.5h0M607.4 673.6h0M593.2 685.9h0M624.6 674.3h0M621.3 694.9h0M595.9 687.7h0M594.5 695.2h0M606.2 664.3h0M598.3 671.0h0M589.9 668.8h0M619.9 682.4h0M595.4 672.1h0M616.6 688.2h0M593.2 690.9h0M598.6 676.0h0M602.8 690.6h0M598.8 679.4h0M606.2 679.2h0M616.6 692.0h0M605.7 688.4h0M601.6 673.7h0M593.8 671.7h0M615.3 668.8h0M600.9 664.1h0M603.9 674.1h0M590.3 687.3h0M611.9 693.3h0M590.4 695.9h0M620.6 672.9h0M605.6 672.9h0M627.3 681.6h0M590.7 670.8h0M601.5 678.3h0M608.7 691.2h0M599.2 689.3h0M616.5 682.6h0M616.5 691.9h0M621.2 682.7h0M593.9 674.5h0M605.0 679.7h0M609.4 685.2h0M602.3 688.7h0M617.0 676.3h0M623.5 676.4h0M594.1 683.0h0M602.9 696.0h0M592.9 686.5h0M615.5 690.8h0M613.2 664.2h0M619.6 679.2h0M587.9 695.3h0M605.4 692.8h0M616.5 689.4h0M610.0 675.8h0M592.0 692.8h0M602.8 681.4h0M596.9 669.3h0M618.9 665.6h0M605.5 684.0h0M613.2 678.5h0M594.8 694.3h0" stroke="#e8202a" stroke-width="3.0" stroke-linecap="round" fill="none"/>
<path d="M623.9 657.0h0M621.2 661.9h0M601.0 638.1h0M610.4 654.4h0M610.3 659.4h0M609.5 653.0h0M616.4 656.8h0M610.2 641.4h0M618.8 658.0h0M592.8 640.7h0M619.6 655.3h0M610.0 656.3h0M604.6 660.8h0M614.1 646.6h0M596.5 652.2h0M605.8 643.4h0M592.5 660.2h0M612.2 652.7h0M616.9 656.0h0M611.1 654.2h0M620.8 650.7h0M613.1 647.9h0M596.2 643.5h0M589.9 662.1h0M617.4 648.8h0M619.1 662.4h0M602.5 648.7h0M591.7 642.4h0M615.0 657.4h0M589.1 648.3h0M605.4 642.1h0M608.3 659.3h0M591.8 653.7h0M604.4 641.3h0M602.7 643.5h0M595.4 642.5h0M596.5 638.8h0M618.6 660.5h0M599.2 646.8h0M603.4 645.6h0M592.9 642.1h0M621.5 641.2h0M621.2 657.3h0M621.9 651.3h0M598.2 646.1h0M606.1 637.7h0M617.4 645.5h0M616.3 660.4h0M609.1 642.8h0M607.6 652.5h0" stroke="#e8202a" stroke-width="3.0" stroke-linecap="round" fill="none"/>
<path d="M600.9 559.9h0M602.0 571.6h0M610.2 572.3h0M618.3 579.7h0M623.0 587.1h0M629.9 586.7h0M611.4 591.8h0M592.8 598.3h0M598.1 599.0h0M604.4 605.2h0M610.2 600.1h0M614.1 602.9h0M619.0 600.6h0M631.6 600.6h0M602.1 612.2h0M605.6 613.4h0M594.4 621.0h0M602.1 623.8h0M607.9 622.7h0M614.8 625.0h0M618.3 630.8h0M590.5 641.9h0M597.4 637.3h0M603.2 635.4h0M610.2 633.1h0M626.5 638.9h0M635.7 628.5h0M642.3 634.7h0M629.9 630.8h0M636.9 638.9h0M661.3 648.9h0M669.0 666.8h0M596.0 615.0h0M625.0 612.0h0M589.0 628.0h0M612.0 645.0h0" stroke="#e8202a" stroke-width="3.0" stroke-linecap="round" fill="none"/>
<path d="M669.6 657.8h0M659.0 666.6h0M642.2 655.2h0M645.3 677.0h0M639.4 679.5h0M639.6 666.2h0M647.7 677.8h0M656.7 657.4h0M645.2 680.9h0M638.7 669.8h0M665.5 678.4h0M649.9 685.4h0M658.4 674.9h0M656.9 659.6h0M650.1 666.3h0M650.1 661.0h0M633.5 678.1h0M638.3 677.2h0" stroke="#e8202a" stroke-width="3.0" stroke-linecap="round" fill="none"/>
<path d="M614.8 541.0h0M617.0 540.0h0M619.0 541.0h0M621.0 540.0h0M623.0 541.0h0M625.3 540.5h0M605.0 550.0h0M601.0 560.0h0M661.0 648.0h0M668.0 668.0h0M671.0 668.0h0" stroke="#e8202a" stroke-width="3.0" stroke-linecap="round" fill="none"/>
<path d="M588.3 692.1h0M588.3 683.0h0M584.0 681.4h0M581.9 686.9h0M586.6 694.0h0M585.0 659.6h0M586.4 678.9h0M582.4 701.4h0M589.0 690.0h0M586.8 686.2h0M580.8 698.8h0M585.6 676.9h0M586.3 686.1h0M582.6 695.5h0M584.1 699.7h0M589.3 690.9h0M583.8 689.8h0M580.7 699.7h0M586.8 673.0h0M585.9 674.7h0M585.0 662.1h0M583.4 682.5h0M584.4 688.9h0M582.4 681.0h0M582.8 693.8h0M583.2 694.8h0M584.5 679.8h0M585.5 685.1h0M586.5 677.7h0M583.6 680.2h0M583.6 681.8h0M584.1 693.6h0M584.9 660.6h0M584.2 686.4h0M582.0 686.9h0M583.1 700.1h0M585.4 701.7h0M584.9 667.5h0M584.1 670.9h0M589.1 695.7h0M583.7 667.3h0M586.4 700.9h0M581.0 697.7h0M585.5 678.3h0M582.6 703.3h0M587.1 680.1h0M581.6 702.9h0M586.1 693.8h0M586.6 681.6h0M590.1 702.5h0M583.3 680.3h0M587.3 697.0h0M584.3 666.7h0M583.3 672.1h0M583.4 702.5h0" stroke="#bdbdbd" stroke-width="3.0" stroke-linecap="round" fill="none"/>
<path d="M449.2 541.0h0" stroke="#1a1a1a" stroke-width="3.0" stroke-linecap="round" fill="none"/>
<text x="442.7" y="549.8" font-size="7.2" fill="#222222" stroke="#222222" stroke-width="0.25">SAG1</text>
<path d="M491.0 541.0h0" stroke="#1a1a1a" stroke-width="3.0" stroke-linecap="round" fill="none"/>
<text x="483.3" y="549.8" font-size="7.2" fill="#222222" stroke="#222222" stroke-width="0.25">SRS2</text>
<path d="M532.3 571.0h0" stroke="#1a1a1a" stroke-width="3.0" stroke-linecap="round" fill="none"/>
<text x="522.9" y="569.0" font-size="7.2" fill="#222222" stroke="#222222" stroke-width="0.25">ROP15</text>
<path d="M506.5 654.8h0" stroke="#1a1a1a" stroke-width="3.0" stroke-linecap="round" fill="none"/>
<text x="502.4" y="651.3" font-size="7.2" fill="#222222" stroke="#222222" stroke-width="0.25">ROP19A</text>
<path d="M545.2 661.2h0" stroke="#1a1a1a" stroke-width="3.0" stroke-linecap="round" fill="none"/>
<text x="515.3" y="666.0" font-size="7.2" fill="#222222" stroke="#222222" stroke-width="0.25">AB2XII-9</text>
<path d="M606.2 540.9h0" stroke="#1a1a1a" stroke-width="3.0" stroke-linecap="round" fill="none"/>
<text x="602.0" y="537.9" font-size="7.2" fill="#222222" stroke="#222222" stroke-width="0.25">LDH2</text>
<path d="M601.6 542.5h0" stroke="#1a1a1a" stroke-width="3.0" stroke-linecap="round" fill="none"/>
<text x="581.9" y="546.0" font-size="7.2" fill="#222222" stroke="#222222" stroke-width="0.25">BAG1</text>
<path d="M613.2 543.2h0" stroke="#1a1a1a" stroke-width="3.0" stroke-linecap="round" fill="none"/>
<text x="609.7" y="553.0" font-size="7.2" fill="#222222" stroke="#222222" stroke-width="0.25">ENO1</text>
<path d="M617.2 596.0h0" stroke="#1a1a1a" stroke-width="3.0" stroke-linecap="round" fill="none"/>
<text x="619.5" y="598.3" font-size="7.2" fill="#222222" stroke="#222222" stroke-width="0.25">AP2IX-9</text>
<line x1="628.0" y1="659.0" x2="614.4" y2="668.7" stroke="#222" stroke-width="0.7"/>
<path d="M614.4 668.7h0" stroke="#1a1a1a" stroke-width="3.0" stroke-linecap="round" fill="none"/>
<text x="626.5" y="660.3" font-size="7.2" fill="#222222" stroke="#222222" stroke-width="0.25">271320</text>
<line x1="628.0" y1="668.0" x2="615.5" y2="675.6" stroke="#222" stroke-width="0.7"/>
<path d="M615.5 675.6h0" stroke="#1a1a1a" stroke-width="3.0" stroke-linecap="round" fill="none"/>
<text x="627.6" y="670.3" font-size="7.2" fill="#222222" stroke="#222222" stroke-width="0.25">AP2VIII-6</text>
<path d="M663.2 677.7h0" stroke="#1a1a1a" stroke-width="3.0" stroke-linecap="round" fill="none"/>
<text x="656.7" y="677.2" font-size="7.2" fill="#222222" stroke="#222222" stroke-width="0.25">ToxoB</text>
<line x1="649.0" y1="680.7" x2="649.0" y2="692.0" stroke="#222" stroke-width="0.7"/>
<path d="M649.0 680.7h0" stroke="#1a1a1a" stroke-width="3.0" stroke-linecap="round" fill="none"/>
<text x="640.0" y="698.2" font-size="7.2" fill="#222222" stroke="#222222" stroke-width="0.25">288475</text>
<rect x="438.1" y="523.1" width="244.2" height="190.8" fill="none" stroke="#231f20" stroke-width="1.4"/>
<line x1="505.6" y1="713.9" x2="505.6" y2="717.7" stroke="#231f20" stroke-width="1.2"/>
<text x="505.6" y="728.9" font-size="10.2" font-weight="bold" text-anchor="middle" fill="#231f20">10</text>
<line x1="584.6" y1="713.9" x2="584.6" y2="717.7" stroke="#231f20" stroke-width="1.2"/>
<text x="584.6" y="728.9" font-size="10.2" font-weight="bold" text-anchor="middle" fill="#231f20">0</text>
<line x1="663.6" y1="713.9" x2="663.6" y2="717.7" stroke="#231f20" stroke-width="1.2"/>
<text x="663.6" y="728.9" font-size="10.2" font-weight="bold" text-anchor="middle" fill="#231f20">10</text>
<line x1="433.4" y1="705.3" x2="438.1" y2="705.3" stroke="#231f20" stroke-width="1.2"/>
<text x="430.5" y="708.5" font-size="10.2" font-weight="bold" text-anchor="end" fill="#231f20">0</text>
<line x1="433.4" y1="610.8" x2="438.1" y2="610.8" stroke="#231f20" stroke-width="1.2"/>
<text x="430.5" y="614.0" font-size="10.2" font-weight="bold" text-anchor="end" fill="#231f20">100</text>
<line x1="433.4" y1="571.7" x2="438.1" y2="571.7" stroke="#231f20" stroke-width="1.2"/>
<text x="430.5" y="574.9" font-size="10.2" font-weight="bold" text-anchor="end" fill="#231f20">200</text>
<line x1="433.4" y1="541.6" x2="438.1" y2="541.6" stroke="#231f20" stroke-width="1.2"/>
<text x="430.5" y="544.8" font-size="10.2" font-weight="bold" text-anchor="end" fill="#231f20">300</text>
<text x="559.0" y="520.0" font-size="10.7565" font-weight="bold" text-anchor="middle" fill="#231f20">Group D bradys compared to D7-BAG1+ bradys</text>
<text x="574.5" y="739.2" font-size="10.657499999999999" font-weight="bold" text-anchor="middle" fill="#231f20">Log2 fold change</text>
<text x="410.0" y="626.4" font-size="10.64" font-weight="bold" text-anchor="middle" fill="#231f20" transform="rotate(-90 410.0 626.4)">-Log10 adjusted p-value</text>
<path d="M185.3 862.0h0M163.6 875.9h0M169.8 910.5h0M179.6 820.8h0M168.5 889.3h0M182.5 842.1h0M168.2 821.9h0M176.1 903.7h0M185.8 895.4h0M175.5 885.4h0M165.6 880.0h0M193.3 934.2h0M176.6 856.1h0M169.3 862.8h0M185.8 850.8h0M173.8 895.8h0M188.3 902.0h0M166.9 868.8h0M180.0 908.6h0M169.7 932.2h0M166.9 931.7h0M179.6 870.7h0M174.6 905.8h0M185.1 905.3h0M173.5 920.0h0M165.3 842.9h0M182.1 864.4h0M165.9 905.2h0M188.1 883.4h0M168.9 912.0h0M184.6 915.8h0M179.1 866.6h0M177.4 891.3h0M173.1 819.4h0M177.5 811.1h0M169.0 910.5h0M184.2 923.5h0M184.3 877.4h0M168.7 816.1h0M189.5 913.9h0M169.4 933.7h0M183.5 907.9h0M175.4 833.1h0M168.0 877.4h0M174.5 913.3h0M172.7 810.3h0M164.2 865.7h0M183.3 905.5h0M181.4 826.7h0M164.0 893.6h0M165.1 867.5h0M163.9 886.0h0M188.6 907.7h0M177.8 911.5h0M185.9 913.7h0M171.7 807.0h0M177.6 880.2h0M169.9 799.0h0M168.3 931.4h0M189.9 884.1h0M175.6 849.7h0M165.0 894.0h0M176.2 800.7h0M181.7 840.8h0M186.1 915.3h0M176.5 802.2h0M180.8 881.0h0M186.3 875.7h0M179.3 823.7h0M168.7 809.7h0M173.7 900.2h0M165.0 858.9h0M166.3 936.8h0M169.2 920.9h0M175.1 829.2h0M179.2 934.9h0M170.7 881.2h0M166.2 839.2h0M186.5 896.0h0M166.0 884.7h0M178.8 877.3h0M181.5 825.8h0M184.4 876.0h0M169.7 814.2h0M183.6 854.7h0M179.8 893.2h0M168.0 887.0h0M166.4 894.9h0M185.5 855.3h0M168.8 843.9h0M184.9 912.2h0M172.0 892.9h0M174.9 887.4h0M178.9 825.1h0M183.8 920.5h0M175.1 906.4h0M170.2 890.6h0M181.6 871.3h0M175.1 898.4h0M174.6 799.4h0M175.8 817.2h0M175.3 878.8h0M188.7 935.2h0M173.7 909.9h0M188.8 926.8h0M170.7 906.6h0M165.0 879.4h0M173.9 880.9h0M173.7 890.2h0M179.8 829.1h0M173.9 923.4h0M185.4 927.6h0M168.3 877.5h0M174.6 806.7h0M176.8 897.1h0M164.6 857.7h0M173.4 922.5h0M165.2 890.8h0M180.1 829.4h0M189.2 929.9h0M173.6 935.1h0M180.7 895.4h0M175.7 826.3h0M164.2 890.0h0M177.1 861.1h0M177.3 916.6h0M168.8 916.9h0M178.5 847.8h0M175.1 908.1h0M179.8 852.9h0M170.6 861.6h0M181.2 851.6h0M175.4 869.3h0M178.0 896.8h0M171.8 846.8h0M171.0 805.4h0M166.3 924.4h0M170.8 814.3h0M182.6 926.5h0M177.3 810.9h0M186.7 910.5h0M188.1 911.1h0M171.0 918.4h0M173.1 874.6h0M178.7 829.9h0M178.9 827.5h0M172.2 938.5h0M175.0 899.7h0M172.7 866.6h0M183.5 864.8h0M171.0 819.0h0M172.5 920.9h0M172.7 832.0h0M183.8 933.2h0M173.2 908.5h0M173.6 842.5h0M173.2 820.8h0M189.5 910.4h0M167.4 938.6h0M171.0 901.2h0M188.5 898.2h0M179.8 932.8h0M170.2 853.6h0M185.6 925.6h0M172.3 882.9h0M177.5 924.6h0M170.4 885.6h0M183.1 911.1h0M187.2 909.2h0M166.8 874.5h0M170.1 862.1h0M165.9 915.0h0M172.4 881.8h0M184.5 904.6h0M172.1 922.7h0M182.1 933.0h0M176.3 884.8h0M165.3 912.8h0M191.2 898.4h0M179.4 936.1h0M169.1 840.9h0M187.0 869.1h0M184.9 919.8h0M176.6 913.5h0M171.5 811.0h0M177.0 902.5h0M188.1 923.6h0M188.4 909.6h0M187.3 899.4h0M166.5 849.2h0M167.7 914.6h0M178.7 842.9h0M182.9 855.6h0M168.1 836.2h0M174.8 927.5h0M170.0 915.6h0M163.2 882.0h0M190.2 925.4h0M183.5 863.6h0M184.8 856.3h0M174.3 798.6h0M175.0 883.9h0M174.2 879.5h0M186.7 907.8h0M180.7 927.5h0M180.8 847.8h0M185.7 854.6h0M177.8 895.2h0M178.1 843.4h0M187.0 924.2h0M164.1 893.2h0M177.7 882.5h0M177.2 895.5h0M171.3 844.3h0M171.1 905.5h0M185.2 921.3h0M169.2 814.7h0M191.0 932.4h0M172.7 812.9h0M179.9 875.7h0M173.3 932.9h0M182.2 896.2h0M185.5 854.6h0M165.0 860.6h0M180.1 876.8h0M178.4 875.3h0M166.5 868.2h0M172.0 870.9h0M176.5 898.2h0M181.0 823.5h0M168.0 879.6h0M180.5 883.9h0M187.8 915.3h0M177.7 827.1h0M172.6 930.3h0M165.0 922.3h0M178.5 858.9h0M178.8 853.5h0M182.0 847.5h0M170.8 822.5h0M173.3 907.5h0M177.7 809.6h0M184.3 909.6h0M167.1 864.8h0M174.4 928.0h0M167.2 843.0h0M179.2 897.5h0M165.8 867.6h0M166.4 832.9h0M179.2 817.4h0M187.1 925.5h0M168.6 904.0h0M171.2 883.9h0M165.2 930.1h0M172.1 897.5h0M173.6 814.6h0M182.4 866.6h0M186.7 862.0h0M188.3 898.5h0M172.7 843.4h0M171.8 885.6h0M180.9 911.4h0M166.6 895.7h0M168.9 820.3h0M168.8 901.4h0M178.3 903.5h0M163.3 879.1h0M165.9 867.4h0M165.6 913.5h0M189.4 912.3h0M177.4 885.6h0M173.5 840.5h0M176.5 834.5h0M168.9 877.8h0M187.5 924.9h0M169.1 928.4h0M190.5 899.6h0M183.2 904.1h0M168.3 913.6h0M178.2 852.9h0M193.6 937.0h0M169.8 866.0h0M178.5 874.1h0M179.9 864.5h0M187.9 884.1h0M169.4 868.6h0M179.6 842.2h0M164.9 871.6h0M191.3 922.8h0M177.1 825.3h0M183.1 826.7h0M173.5 889.8h0M179.2 931.0h0M182.6 871.0h0M172.1 821.2h0M180.8 821.8h0M179.2 895.9h0M170.9 912.6h0M164.8 893.9h0M178.2 846.0h0M170.7 878.6h0M166.3 884.8h0M173.7 898.7h0M178.7 815.8h0M173.0 911.2h0M165.3 847.2h0M185.0 839.5h0M175.6 910.3h0M184.0 905.9h0M186.0 934.1h0M174.1 864.8h0M183.1 828.8h0M164.7 926.5h0M170.7 911.0h0M170.0 844.9h0M182.0 836.1h0M181.0 936.1h0M176.5 884.1h0M172.5 826.4h0M176.8 926.9h0M167.3 835.9h0M188.9 901.9h0M181.5 909.8h0M164.5 887.1h0M176.5 934.7h0M165.7 902.4h0M177.9 888.1h0M167.7 888.3h0M172.9 907.8h0M180.6 821.2h0M186.8 878.0h0M167.8 851.5h0M165.3 836.4h0M171.7 861.8h0M167.0 937.2h0M173.5 899.7h0M172.0 906.5h0M171.9 934.8h0M181.6 835.6h0M171.3 811.5h0M170.7 893.6h0M182.1 881.8h0M171.5 830.4h0M172.2 797.4h0M184.6 928.2h0M168.7 928.6h0M182.1 890.3h0M166.1 867.3h0M167.0 893.3h0M179.7 872.2h0M171.4 867.8h0M185.0 921.1h0M183.2 833.4h0M175.1 872.3h0M173.9 907.5h0M180.6 879.6h0M176.7 930.0h0M172.0 886.6h0M179.4 853.5h0M176.9 937.5h0M192.4 921.3h0M165.5 911.3h0M189.2 937.8h0M164.2 866.2h0M179.4 880.8h0M183.8 936.0h0M180.0 900.7h0M180.8 927.8h0M168.8 915.6h0M168.0 928.5h0M172.7 843.5h0M179.0 887.2h0M180.0 938.2h0M171.0 841.0h0M174.3 915.6h0M165.7 849.9h0M176.2 808.3h0M170.2 889.5h0M180.1 849.0h0M176.6 887.9h0M166.5 917.3h0M166.6 857.7h0M167.2 929.2h0M182.8 854.2h0M171.8 862.3h0M178.6 859.5h0M174.4 816.1h0M168.7 884.8h0M172.5 848.1h0M182.0 933.2h0M182.7 854.3h0M179.1 931.4h0M174.7 866.2h0M175.0 809.8h0M178.4 853.6h0M164.6 926.5h0M167.0 927.0h0M180.5 871.3h0M168.3 861.4h0M186.3 882.5h0M190.9 907.1h0M173.4 918.4h0M172.4 853.9h0M169.8 859.7h0M163.7 874.3h0M168.8 805.2h0M184.6 876.2h0M179.4 822.2h0M166.0 852.8h0M170.6 852.8h0M191.4 931.1h0M169.8 825.3h0M173.5 838.5h0M166.0 894.4h0M166.1 854.1h0M166.4 914.8h0M173.5 812.7h0M171.7 849.4h0M171.6 864.1h0M167.6 835.1h0M181.3 858.9h0M166.2 882.8h0M183.5 885.7h0M176.1 871.7h0M173.1 923.9h0M177.2 898.0h0M184.4 858.1h0M167.9 851.2h0M185.3 848.0h0M167.5 858.6h0M185.3 931.5h0M170.5 890.8h0M171.7 842.7h0M189.6 936.0h0M189.6 904.6h0M179.7 826.8h0M174.3 834.9h0M180.6 824.0h0M178.4 931.7h0M184.1 895.9h0M176.8 936.9h0M175.2 877.2h0M176.2 935.1h0M186.9 870.0h0M170.1 823.2h0M171.6 926.1h0M172.8 907.1h0M190.4 889.9h0M178.1 911.5h0M184.9 914.2h0M186.7 862.4h0M178.6 833.6h0M188.1 904.6h0M175.9 858.9h0M187.2 908.7h0M169.1 840.8h0M169.3 844.1h0M169.6 818.9h0M167.2 930.2h0M183.0 856.2h0M185.6 923.8h0M165.0 913.9h0M165.0 926.1h0M180.7 931.6h0M166.2 826.8h0M183.6 909.2h0M164.9 863.8h0M180.2 911.0h0M176.1 813.9h0M183.5 935.6h0M188.4 894.5h0M168.9 865.4h0M166.7 874.0h0M189.4 913.1h0M174.9 837.3h0M179.6 891.2h0M164.4 903.2h0M180.4 906.3h0M168.2 866.4h0M168.8 909.0h0M169.0 817.4h0M169.3 861.7h0M170.8 848.3h0M181.5 900.1h0M174.0 935.0h0M185.6 881.5h0M173.9 814.3h0M177.2 892.5h0M166.6 876.4h0M166.0 889.9h0M179.9 923.3h0M180.2 892.3h0M192.3 918.9h0M189.6 884.3h0M181.4 917.4h0M180.0 932.2h0M182.9 922.1h0M174.5 859.3h0M168.6 933.4h0M175.5 880.5h0M181.6 826.8h0M178.8 883.3h0M182.9 864.5h0M179.2 880.5h0M166.4 866.8h0M190.7 901.2h0M167.0 814.5h0M190.6 928.7h0M177.9 841.1h0M172.4 834.1h0M173.9 921.2h0M183.2 892.3h0M181.0 850.7h0M174.5 927.8h0M177.3 908.7h0M168.2 919.3h0M171.3 899.0h0M167.3 902.7h0M176.5 888.6h0M185.2 908.3h0M190.1 923.8h0M183.8 933.7h0M177.0 872.7h0M165.9 910.1h0M169.1 850.8h0M185.4 843.3h0M189.8 921.0h0M181.9 922.4h0M172.0 843.4h0M181.3 914.8h0M166.9 818.5h0M176.4 934.1h0M179.2 830.8h0M176.0 894.2h0M186.9 867.6h0M168.3 868.1h0M187.8 922.7h0M166.4 848.1h0M182.5 934.7h0M165.3 881.5h0M170.0 887.2h0M173.0 797.2h0M178.7 811.8h0M169.0 884.9h0M170.4 807.0h0M177.9 851.4h0M184.7 855.9h0M184.7 910.7h0M165.1 872.2h0M188.6 934.6h0M171.4 800.2h0M174.2 865.1h0M171.0 808.2h0M178.0 810.0h0M182.0 851.4h0M168.1 905.0h0M166.0 832.5h0M189.3 877.6h0M174.2 824.3h0M169.8 920.2h0M173.2 853.8h0M191.4 914.0h0M171.7 826.0h0M166.4 919.7h0M181.7 869.0h0M179.7 844.6h0M165.9 864.4h0M184.8 922.3h0M184.3 879.7h0M179.8 883.1h0M192.7 920.6h0M166.5 854.4h0M183.3 836.6h0M189.1 878.4h0M179.3 911.1h0M165.7 929.6h0M171.2 872.9h0M190.4 905.1h0M183.4 916.2h0M176.0 875.0h0M181.5 907.2h0M186.7 936.6h0M171.9 825.0h0M179.7 830.6h0M170.9 848.8h0M183.5 874.9h0M171.8 877.9h0M171.9 915.3h0M174.1 796.6h0M175.6 852.9h0M174.4 826.7h0M180.5 888.3h0M183.7 919.2h0M175.9 865.1h0M190.9 898.0h0M174.6 834.9h0M173.5 873.9h0M181.8 928.7h0M170.7 802.4h0M182.7 877.6h0" stroke="#3159ad" stroke-width="3.0" stroke-linecap="round" fill="none"/>
<path d="M150.8 912.4h0M146.4 910.3h0M161.7 914.2h0M152.2 893.8h0M146.1 927.1h0M155.9 927.0h0M155.3 895.1h0M155.7 897.4h0M150.1 903.2h0M150.5 921.2h0M145.5 909.1h0M156.5 899.7h0M161.8 931.2h0M143.3 918.6h0M161.7 918.3h0M158.9 924.1h0M160.6 887.3h0M143.1 936.2h0M151.2 919.5h0M157.9 936.1h0M144.5 936.3h0M146.5 926.9h0M145.1 927.1h0M152.5 927.1h0M150.1 906.1h0M144.5 934.0h0M146.2 915.8h0M150.3 938.1h0M160.2 937.8h0M149.5 932.5h0M160.0 905.4h0M152.3 898.2h0M159.1 886.8h0M144.5 915.3h0M141.2 934.3h0M156.8 900.8h0M162.9 895.8h0M154.3 903.3h0M152.5 904.2h0M157.6 899.5h0M160.1 923.5h0M146.7 904.4h0M155.6 934.8h0M148.1 936.2h0M161.1 904.4h0M161.5 889.0h0M159.9 904.0h0M146.0 918.6h0M141.6 930.7h0M141.2 933.1h0M162.7 931.3h0M151.2 923.5h0M164.2 926.7h0M158.8 923.8h0M146.6 925.3h0M152.8 903.2h0M149.3 923.9h0M148.4 932.3h0M147.5 912.9h0M157.7 892.8h0M162.7 938.1h0M157.6 899.3h0M157.2 915.7h0M149.1 912.1h0M159.8 885.9h0M154.1 891.9h0M160.4 891.3h0M153.7 906.8h0M157.0 917.4h0M149.5 902.6h0M149.1 937.9h0M153.2 937.2h0M157.8 928.4h0M151.0 895.1h0M155.0 895.5h0M146.8 919.6h0M142.3 928.5h0M155.3 921.8h0M153.0 903.1h0M143.4 926.1h0M149.7 925.4h0M155.1 890.7h0M160.6 928.9h0M143.7 934.5h0M162.6 919.1h0M147.8 928.8h0M145.7 907.5h0M157.5 886.7h0M143.8 916.6h0M155.4 935.0h0M157.0 902.0h0M160.6 887.5h0M152.4 914.0h0M160.0 902.9h0M162.3 900.1h0M161.6 938.7h0M142.9 932.0h0M159.7 901.9h0M145.6 930.4h0M144.4 919.2h0M162.4 933.8h0M163.2 911.5h0M154.6 897.6h0M160.3 909.0h0M147.2 938.6h0M158.6 900.1h0M162.3 923.7h0M146.6 910.2h0M144.1 928.1h0M152.5 894.1h0M158.5 902.0h0M143.6 934.3h0M144.4 923.9h0M161.0 901.1h0M162.5 900.9h0M144.5 915.7h0M153.8 915.3h0M158.7 918.6h0M159.9 893.9h0M154.8 916.1h0" stroke="#3159ad" stroke-width="3.0" stroke-linecap="round" fill="none"/>
<path d="M160.0 894.4h0M163.1 897.3h0M160.9 911.6h0M163.7 855.5h0M155.8 923.8h0M159.0 897.2h0M160.7 852.0h0M158.2 863.1h0M155.7 909.7h0M163.2 900.4h0M162.5 846.5h0M160.6 878.5h0M159.1 884.2h0M158.3 869.2h0M156.9 906.6h0M163.7 830.7h0M163.0 841.4h0M157.1 933.2h0M161.4 903.0h0M167.6 832.8h0M153.7 931.5h0M165.2 878.9h0M166.9 813.5h0M167.2 830.9h0M154.7 928.5h0M159.9 893.5h0M159.4 863.3h0M159.7 912.8h0M155.4 896.3h0M168.7 809.1h0M159.1 912.4h0M165.2 871.6h0M154.5 896.2h0M157.4 885.9h0M166.2 828.0h0M164.8 875.6h0M155.5 915.9h0M161.9 930.4h0M161.1 891.4h0M165.4 864.2h0M164.1 835.5h0M154.6 929.5h0M165.3 861.5h0M156.6 900.6h0M162.0 899.7h0M158.4 882.5h0M162.6 879.3h0M159.6 879.7h0M151.5 920.7h0M159.0 875.4h0M166.3 816.2h0M154.0 922.9h0M162.3 837.7h0M162.8 841.1h0M164.9 869.4h0M168.8 805.0h0M163.1 865.7h0M153.7 917.7h0M162.8 907.8h0M162.5 882.8h0M160.8 883.8h0M160.6 865.6h0M165.3 848.5h0M162.6 847.3h0M151.2 922.5h0M164.0 888.5h0M154.0 899.9h0M154.8 883.0h0M164.5 824.8h0M165.9 860.4h0M155.9 936.1h0M157.9 894.4h0M161.9 838.6h0M160.5 889.3h0M163.1 847.6h0M155.9 897.2h0M159.9 915.0h0M156.6 936.8h0M163.0 929.8h0M160.0 901.1h0M158.8 881.8h0M165.3 825.3h0M155.3 903.5h0M165.6 862.9h0M151.6 909.0h0M153.7 929.5h0M158.6 917.4h0M150.9 924.0h0M156.5 909.5h0M158.1 913.6h0M157.8 927.0h0M156.9 917.7h0M156.1 923.5h0M155.4 916.2h0M161.6 911.9h0M158.2 899.1h0M152.8 920.4h0M155.6 926.3h0M160.9 917.2h0M155.4 911.7h0" stroke="#3159ad" stroke-width="3.0" stroke-linecap="round" fill="none"/>
<path d="M163.7 806.0h0M143.3 914.3h0M133.5 928.8h0M132.3 934.4h0M133.6 927.1h0M169.1 808.6h0M132.4 892.9h0M150.0 887.5h0M165.8 828.4h0M165.7 822.1h0M150.1 835.6h0M174.3 792.7h0M163.2 835.5h0M141.6 892.8h0M138.8 865.1h0M152.6 867.5h0M149.3 894.2h0M141.8 887.9h0M133.8 919.0h0M151.1 886.6h0M137.2 924.5h0M132.9 919.7h0M137.0 877.2h0M147.0 908.4h0M164.1 840.8h0M162.0 843.8h0M164.8 842.1h0M156.5 861.2h0M172.5 809.5h0M140.3 885.8h0M160.9 858.3h0M161.3 862.1h0M170.9 805.3h0M169.0 820.3h0M141.5 894.7h0M161.2 854.2h0M139.6 919.6h0M143.0 852.0h0M149.9 873.9h0M161.2 825.0h0M140.0 904.3h0M154.2 866.8h0M138.4 933.1h0M137.7 871.5h0M151.2 872.7h0M165.4 823.3h0M146.5 872.8h0M165.7 833.4h0M153.0 884.3h0M151.8 884.8h0M155.1 879.0h0M168.6 803.2h0M171.4 796.6h0M148.0 897.0h0M148.8 840.5h0M136.3 930.3h0M156.1 879.6h0M140.9 923.5h0M152.0 875.6h0M156.9 865.9h0M149.9 900.6h0M157.9 821.8h0M142.1 865.3h0M160.1 831.2h0M139.6 892.1h0M137.6 897.9h0M146.2 860.3h0M156.1 858.7h0M156.9 853.6h0M148.8 913.2h0M137.0 921.8h0M163.7 818.0h0M136.6 901.7h0M155.8 825.1h0M133.6 889.7h0M150.8 861.7h0M149.7 850.7h0M156.6 859.9h0M138.1 869.9h0M143.5 883.1h0" stroke="#3159ad" stroke-width="3.0" stroke-linecap="round" fill="none"/>
<path d="M125.4 787.1h0M127.0 787.1h0M131.8 787.1h0M140.3 787.1h0M142.0 787.1h0M147.0 787.1h0M149.8 787.1h0M158.3 787.1h0M160.0 787.0h0M164.7 787.1h0M180.6 787.1h0M126.1 787.1h0M99.4 877.3h0M139.5 804.0h0M150.5 810.0h0M151.0 818.0h0M140.0 828.0h0" stroke="#3159ad" stroke-width="3.0" stroke-linecap="round" fill="none"/>
<path d="M123.8 922.9h0M126.0 923.4h0M113.9 907.0h0M128.7 929.1h0M134.1 935.3h0M121.2 918.4h0M132.3 930.0h0M123.7 923.5h0M122.2 922.4h0M120.2 914.2h0M113.7 903.1h0M125.8 928.2h0M112.4 901.1h0M128.6 928.2h0M117.3 912.1h0M131.2 932.8h0M122.5 921.8h0M124.7 924.0h0M112.6 904.2h0M114.3 905.8h0M116.4 911.3h0M116.5 907.6h0M120.5 915.1h0M121.1 921.1h0M126.4 928.5h0" stroke="#3159ad" stroke-width="3.0" stroke-linecap="round" fill="none"/>
<path d="M229.0 903.7h0M231.3 902.6h0M222.7 902.0h0M218.7 924.9h0M230.8 914.3h0M215.7 937.8h0M223.6 910.1h0M225.8 899.4h0M219.5 928.4h0M230.8 899.9h0M222.9 915.1h0M209.7 928.2h0M205.8 932.1h0M227.0 929.4h0M210.3 924.3h0M219.8 908.2h0M228.1 905.1h0M213.9 918.2h0M230.4 935.5h0M224.2 914.4h0M209.5 932.1h0M221.6 907.2h0M211.0 915.0h0M227.0 915.3h0M232.4 905.1h0M226.0 918.4h0M233.3 915.9h0M206.6 912.3h0M226.7 921.9h0M221.8 919.6h0M231.5 918.2h0M213.0 919.5h0M230.4 935.3h0M211.6 927.9h0M216.7 916.8h0M208.8 912.0h0M216.2 920.5h0M223.2 905.2h0M221.1 917.1h0M230.4 919.2h0M208.1 930.5h0M205.5 935.9h0M217.5 916.7h0M231.0 928.5h0M231.7 922.1h0M229.5 900.9h0M214.4 928.6h0M211.1 931.8h0M208.8 928.8h0M216.6 930.2h0M215.9 930.9h0M208.6 907.9h0M216.9 938.5h0M207.8 934.3h0M212.9 907.6h0M207.2 914.0h0M225.2 930.6h0M208.5 917.8h0M213.8 907.3h0M221.4 912.7h0M226.4 913.9h0M221.0 932.3h0M214.6 928.1h0M205.7 934.8h0M222.1 917.2h0M210.4 931.2h0M220.7 938.1h0M221.4 936.4h0M219.6 912.7h0M215.7 898.3h0M211.0 914.6h0M229.9 932.0h0M229.0 919.5h0M226.3 899.9h0M208.9 917.3h0M224.6 903.7h0M211.5 927.1h0M212.1 913.1h0M220.5 900.0h0M213.5 905.6h0M218.4 914.0h0M229.2 935.1h0M217.3 933.6h0M216.5 933.2h0M209.6 916.7h0M225.9 908.9h0M229.2 920.3h0M227.2 924.7h0M224.4 923.1h0M218.6 904.4h0M213.0 933.0h0M234.6 932.1h0M218.5 923.7h0M214.3 935.9h0M232.1 923.2h0M224.9 902.2h0M208.6 931.8h0M227.8 930.3h0M216.6 929.2h0M226.8 920.9h0M216.5 928.8h0M233.5 931.9h0M213.6 907.3h0M210.9 902.3h0M230.6 902.8h0M226.0 921.1h0M226.3 920.4h0M224.3 901.0h0M214.5 914.0h0M232.0 937.7h0M206.7 924.3h0M218.6 924.3h0M233.2 931.1h0M213.0 900.5h0M223.9 929.0h0M235.0 937.9h0M228.7 916.5h0M220.7 912.1h0M212.4 935.3h0M232.6 934.5h0M224.6 904.6h0M230.7 935.1h0M209.5 924.4h0M212.1 923.8h0M214.3 907.6h0M225.3 920.7h0M225.9 909.2h0M221.7 915.1h0M217.8 903.0h0M227.8 920.8h0M207.1 937.8h0M218.1 898.7h0M220.4 935.4h0M210.3 937.8h0M206.7 918.5h0M231.4 902.9h0M211.1 909.0h0M221.2 933.1h0M213.4 912.9h0M227.2 924.7h0M211.3 921.8h0M223.2 902.4h0M215.6 908.6h0M213.9 902.4h0M223.6 918.6h0M230.3 909.7h0M229.2 912.8h0M224.3 927.4h0M221.5 929.5h0M212.0 910.7h0M231.4 926.0h0M227.7 937.4h0M226.2 914.2h0M205.3 935.6h0M209.9 907.4h0M224.2 929.2h0M212.0 927.9h0M228.1 935.4h0M235.2 937.0h0M226.4 926.1h0M211.1 925.2h0M218.7 910.3h0M222.9 930.6h0M222.0 936.2h0M230.9 920.5h0M232.7 914.4h0M208.8 923.0h0M216.9 921.2h0M217.4 902.4h0M224.3 934.2h0M222.4 902.0h0M215.0 917.0h0M220.4 932.5h0M225.3 934.8h0M229.1 915.8h0M231.3 902.7h0M220.0 909.5h0M224.2 902.6h0M227.8 935.3h0M207.7 926.9h0M210.0 908.9h0M229.5 911.1h0M223.7 908.5h0M220.0 934.4h0M211.3 925.2h0M208.9 934.0h0M234.7 938.6h0M229.9 905.1h0M231.5 916.5h0M217.6 906.3h0M209.5 920.7h0M227.5 936.8h0M227.6 927.5h0M220.6 906.0h0M207.2 906.7h0M214.1 919.0h0M223.0 915.3h0M209.3 938.9h0M223.2 903.6h0M217.1 903.1h0M212.3 911.8h0M221.2 929.7h0M211.7 912.9h0M213.0 938.4h0M217.5 913.7h0M219.2 907.1h0M230.3 924.6h0M206.1 920.5h0M225.7 924.6h0M205.4 936.6h0M224.6 938.2h0M208.4 920.3h0M216.5 927.1h0M208.4 920.5h0M220.7 932.2h0M217.1 935.2h0M224.9 938.9h0M206.1 927.3h0M210.3 938.2h0M217.9 915.8h0M231.9 912.8h0M220.6 907.8h0M235.3 935.6h0M220.4 903.1h0M209.1 929.4h0M228.1 930.0h0M215.2 907.3h0M215.7 936.1h0M217.3 927.9h0M230.2 902.1h0" stroke="#e8202a" stroke-width="3.0" stroke-linecap="round" fill="none"/>
<path d="M213.5 931.0h0M206.5 911.3h0M231.8 894.7h0M228.2 897.6h0M212.8 906.4h0M236.5 935.9h0M235.4 910.5h0M215.9 936.1h0M214.0 909.0h0M221.4 933.0h0M219.8 921.5h0M231.3 931.4h0M220.5 887.1h0M213.0 919.6h0M204.2 924.2h0M239.0 933.5h0M201.8 929.7h0M225.7 921.9h0M217.4 912.3h0M204.0 927.1h0M225.5 901.0h0M232.9 889.1h0M223.6 926.9h0M202.8 922.2h0M205.8 918.9h0M235.6 902.4h0M226.1 922.0h0M235.2 936.9h0M202.2 919.5h0M198.8 905.5h0M229.7 935.9h0M228.2 937.9h0M198.3 893.4h0M198.2 915.6h0M201.6 909.7h0M238.4 929.1h0M221.3 901.4h0M204.4 909.3h0M226.1 894.8h0M239.6 936.1h0M230.4 932.1h0M235.4 893.0h0M211.4 913.4h0M216.1 919.5h0M208.7 887.2h0M226.8 899.4h0M202.5 900.0h0M219.4 917.1h0M222.1 920.4h0M218.4 915.6h0M201.5 933.2h0M199.7 920.7h0M212.2 887.3h0M228.0 926.5h0M225.6 913.4h0M222.8 894.3h0M206.3 899.6h0M199.6 922.5h0M204.6 918.6h0M202.5 895.8h0M227.6 904.1h0M198.5 930.1h0M238.4 904.2h0M242.6 937.2h0M197.3 926.4h0M202.7 911.2h0M207.2 913.0h0M215.2 930.6h0M204.7 918.0h0M202.1 933.9h0M213.1 907.0h0M211.3 933.5h0M228.7 933.4h0M231.8 891.7h0M230.5 895.6h0M214.4 895.7h0M223.5 895.8h0M209.5 937.4h0M219.9 914.0h0M238.8 905.5h0M219.2 934.4h0M232.3 930.6h0M221.3 892.6h0M210.6 908.4h0M198.8 895.6h0M223.4 930.5h0M216.4 916.0h0M227.4 919.8h0M233.1 889.2h0M234.7 913.1h0M218.9 930.0h0M210.6 913.4h0M220.6 896.1h0M218.9 918.0h0M224.6 887.8h0M206.7 912.6h0M224.5 903.9h0M208.8 888.6h0M216.4 932.2h0M197.2 933.7h0M198.7 916.4h0M217.8 897.7h0M205.1 895.7h0M225.9 920.8h0M234.2 902.8h0M205.5 913.3h0M240.0 931.1h0M238.1 920.4h0M239.0 901.8h0M242.4 915.3h0M236.7 908.3h0M199.3 893.4h0M231.9 909.9h0M217.2 922.5h0M215.5 928.7h0M229.6 909.9h0M218.1 915.0h0M221.8 908.1h0M199.5 918.5h0M241.4 931.7h0M216.6 901.7h0M224.9 897.7h0M206.3 920.8h0M218.6 937.0h0M201.7 920.5h0M235.1 915.3h0M217.8 911.1h0M205.1 917.4h0M223.1 892.8h0M220.8 896.5h0M226.8 931.6h0M206.7 911.0h0M224.1 890.0h0M217.3 929.6h0M241.0 913.4h0M205.8 900.4h0M241.0 918.2h0M204.0 938.9h0M228.8 891.7h0M214.6 889.5h0M213.9 938.1h0M224.6 914.6h0M236.8 892.4h0M218.8 910.6h0M209.6 934.3h0M217.6 937.1h0M214.4 893.8h0M233.3 895.7h0M233.2 909.8h0M212.9 919.4h0" stroke="#e8202a" stroke-width="3.0" stroke-linecap="round" fill="none"/>
<path d="M238.8 885.3h0M232.6 879.1h0M241.9 878.9h0M215.6 869.5h0M207.4 870.6h0M218.6 884.3h0M214.2 884.0h0M208.2 884.1h0M239.6 878.4h0M221.6 873.9h0M210.5 885.4h0M238.3 887.6h0M236.4 887.7h0M228.0 876.8h0M242.7 874.1h0M210.7 879.0h0M223.1 880.7h0M214.1 883.7h0M221.0 874.5h0M240.1 878.6h0M208.0 881.1h0M209.5 879.2h0M211.1 888.0h0M200.7 886.1h0M223.0 885.8h0M211.1 876.1h0M207.3 878.2h0M236.5 887.0h0M219.1 871.8h0M200.8 883.4h0M239.2 874.7h0M239.4 884.7h0M232.9 877.0h0M228.7 882.3h0M211.1 882.8h0M241.1 879.3h0M201.1 871.2h0M205.8 882.6h0M216.2 884.2h0M221.9 884.6h0M201.9 874.6h0M216.7 875.0h0M211.1 870.5h0M221.3 877.8h0M226.4 868.6h0M205.7 872.4h0M234.9 884.2h0M214.7 870.3h0M235.9 876.3h0M239.5 878.2h0" stroke="#e8202a" stroke-width="3.0" stroke-linecap="round" fill="none"/>
<path d="M215.9 842.9h0M237.2 844.2h0M209.9 867.2h0M211.9 841.9h0M246.8 838.8h0M226.8 839.6h0M252.2 850.3h0M228.6 868.6h0M208.6 836.6h0M227.7 828.5h0M254.2 862.6h0M206.7 864.4h0M203.3 836.8h0M237.8 844.2h0M255.3 831.5h0M240.8 834.0h0M237.1 867.0h0M216.3 826.0h0M215.1 859.3h0M228.4 853.9h0M247.4 846.6h0M224.8 824.9h0M235.3 830.9h0M242.0 846.4h0M215.3 862.2h0M208.9 862.9h0M233.6 864.1h0M217.8 842.3h0M222.1 860.4h0M222.2 861.3h0M240.1 855.1h0M205.0 846.8h0M251.3 862.7h0M235.4 824.3h0M205.4 853.2h0M233.0 834.0h0M213.7 840.0h0M255.8 849.2h0M235.0 833.4h0M233.6 848.9h0M256.0 837.3h0M235.8 827.5h0M230.2 822.3h0M231.9 861.0h0M233.4 863.6h0" stroke="#e8202a" stroke-width="3.0" stroke-linecap="round" fill="none"/>
<path d="M268.6 909.8h0M281.8 928.8h0M292.9 909.2h0M268.3 894.0h0M270.0 904.5h0M262.1 889.3h0M251.8 926.2h0M279.5 923.1h0M263.5 925.6h0M260.8 908.6h0M276.1 936.6h0M284.4 905.8h0M270.2 890.2h0M259.4 888.1h0" stroke="#e8202a" stroke-width="3.0" stroke-linecap="round" fill="none"/>
<path d="M226.4 787.0h0M228.5 787.0h0M231.0 787.0h0M236.3 787.0h0M230.4 791.2h0M241.6 791.2h0M219.0 804.0h0M236.0 808.0h0M229.0 816.0h0M234.0 816.0h0M295.0 856.0h0M297.0 889.0h0M292.0 902.0h0M289.0 906.0h0M275.0 880.0h0M280.0 883.0h0" stroke="#e8202a" stroke-width="3.0" stroke-linecap="round" fill="none"/>
<path d="M196.0 915.5h0M196.8 927.0h0M197.9 933.7h0M193.0 930.4h0M194.4 931.6h0M194.0 914.8h0M194.3 913.9h0M193.4 927.4h0M198.6 937.9h0M193.3 929.1h0M198.2 924.3h0M192.7 932.3h0M197.0 922.8h0M193.4 918.3h0M196.8 916.0h0M192.8 938.2h0M194.7 930.7h0M197.3 924.0h0M197.5 929.9h0M193.2 921.1h0M196.5 936.7h0M194.6 937.6h0M195.5 926.5h0M194.5 937.6h0M194.7 927.4h0M198.3 934.5h0M198.6 934.7h0M192.5 935.7h0M194.8 936.0h0M194.9 934.6h0M197.6 923.1h0M197.9 935.2h0M197.7 926.9h0M195.8 922.7h0M196.6 914.7h0M193.2 920.8h0M195.6 922.0h0M196.1 921.7h0M197.5 917.6h0M197.8 931.2h0M196.8 929.5h0M195.3 925.6h0M197.3 920.4h0M194.9 923.8h0M193.5 929.3h0M198.1 937.7h0M194.6 928.8h0M194.4 930.1h0M198.4 935.0h0M197.5 928.2h0M195.6 925.7h0M198.2 928.3h0M194.9 932.3h0M195.4 921.1h0M194.4 917.4h0M197.8 929.3h0M195.3 908.3h0M193.9 913.6h0M195.8 915.1h0M194.8 917.3h0M196.8 925.0h0M196.6 930.5h0M195.1 915.2h0M194.9 912.8h0M194.3 937.8h0M196.1 938.2h0M196.0 921.1h0M197.3 932.4h0M194.4 913.9h0M194.5 919.5h0" stroke="#bdbdbd" stroke-width="3.0" stroke-linecap="round" fill="none"/>
<path d="M103.8 787.1h0" stroke="#1a1a1a" stroke-width="3.0" stroke-linecap="round" fill="none"/>
<text x="91.7" y="796.6" font-size="7.2" fill="#222222" stroke="#222222" stroke-width="0.25">SAG1</text>
<path d="M80.8 810.6h0" stroke="#1a1a1a" stroke-width="3.0" stroke-linecap="round" fill="none"/>
<text x="75.7" y="819.1" font-size="7.2" fill="#222222" stroke="#222222" stroke-width="0.25">ROP39</text>
<path d="M144.9 819.8h0" stroke="#1a1a1a" stroke-width="3.0" stroke-linecap="round" fill="none"/>
<text x="125.9" y="827.4" font-size="7.2" fill="#222222" stroke="#222222" stroke-width="0.25">ROP15</text>
<line x1="145.6" y1="903.5" x2="158.3" y2="905.9" stroke="#222" stroke-width="0.7"/>
<path d="M158.3 905.9h0" stroke="#1a1a1a" stroke-width="3.0" stroke-linecap="round" fill="none"/>
<text x="118.0" y="906.3" font-size="7.2" fill="#222222" stroke="#222222" stroke-width="0.25">AP2XII-9</text>
<path d="M278.0 787.2h0" stroke="#1a1a1a" stroke-width="3.0" stroke-linecap="round" fill="none"/>
<text x="267.8" y="796.5" font-size="7.2" fill="#222222" stroke="#222222" stroke-width="0.25">SRS22A</text>
<path d="M232.3 832.5h0" stroke="#1a1a1a" stroke-width="3.0" stroke-linecap="round" fill="none"/>
<text x="223.5" y="830.6" font-size="7.2" fill="#222222" stroke="#222222" stroke-width="0.25">AP2IX-9</text>
<path d="M218.0 855.2h0" stroke="#1a1a1a" stroke-width="3.0" stroke-linecap="round" fill="none"/>
<text x="218.9" y="854.0" font-size="7.2" fill="#222222" stroke="#222222" stroke-width="0.25">GRA63</text>
<path d="M262.4 861.9h0" stroke="#1a1a1a" stroke-width="3.0" stroke-linecap="round" fill="none"/>
<text x="255.0" y="859.9" font-size="7.2" fill="#222222" stroke="#222222" stroke-width="0.25">GRA80</text>
<path d="M232.3 882.1h0" stroke="#1a1a1a" stroke-width="3.0" stroke-linecap="round" fill="none"/>
<text x="220.1" y="877.6" font-size="7.2" fill="#222222" stroke="#222222" stroke-width="0.25">GRA82</text>
<path d="M268.3 878.8h0" stroke="#1a1a1a" stroke-width="3.0" stroke-linecap="round" fill="none"/>
<text x="259.9" y="876.8" font-size="7.2" fill="#222222" stroke="#222222" stroke-width="0.25">CDA1/CD39</text>
<line x1="238.2" y1="893.0" x2="234.9" y2="925.4" stroke="#222" stroke-width="0.7"/>
<path d="M234.9 925.4h0" stroke="#1a1a1a" stroke-width="3.0" stroke-linecap="round" fill="none"/>
<text x="238.8" y="896.3" font-size="7.2" fill="#222222" stroke="#222222" stroke-width="0.25">AP2X-3</text>
<line x1="247.1" y1="903.8" x2="242.8" y2="915.0" stroke="#222" stroke-width="0.7"/>
<path d="M242.8 915.0h0" stroke="#1a1a1a" stroke-width="3.0" stroke-linecap="round" fill="none"/>
<text x="246.1" y="903.2" font-size="7.2" fill="#222222" stroke="#222222" stroke-width="0.25">SRS22i</text>
<path d="M252.0 911.0h0" stroke="#1a1a1a" stroke-width="3.0" stroke-linecap="round" fill="none"/>
<text x="254.0" y="914.0" font-size="7.2" fill="#222222" stroke="#222222" stroke-width="0.25">PAN domain</text>
<path d="M285.1 915.6h0" stroke="#1a1a1a" stroke-width="3.0" stroke-linecap="round" fill="none"/>
<text x="282.5" y="923.1" font-size="7.2" fill="#222222" stroke="#222222" stroke-width="0.25">203685</text>
<path d="M262.4 927.4h0" stroke="#1a1a1a" stroke-width="3.0" stroke-linecap="round" fill="none"/>
<text x="249.0" y="924.4" font-size="7.2" fill="#222222" stroke="#222222" stroke-width="0.25">GRA11B</text>
<line x1="244.7" y1="936.3" x2="241.6" y2="926.4" stroke="#222" stroke-width="0.7"/>
<path d="M241.6 926.4h0" stroke="#1a1a1a" stroke-width="3.0" stroke-linecap="round" fill="none"/>
<text x="229.4" y="942.6" font-size="7.2" fill="#222222" stroke="#222222" stroke-width="0.25">GRA11A</text>
<rect x="69.4" y="770.0" width="241.3" height="187.6" fill="none" stroke="#231f20" stroke-width="1.4"/>
<line x1="109.7" y1="957.6" x2="109.7" y2="961.4" stroke="#231f20" stroke-width="1.2"/>
<text x="108.0" y="971.7" font-size="10.2" font-weight="bold" text-anchor="middle" fill="#231f20">-10</text>
<line x1="152.7" y1="957.6" x2="152.7" y2="961.4" stroke="#231f20" stroke-width="1.2"/>
<text x="151.0" y="971.7" font-size="10.2" font-weight="bold" text-anchor="middle" fill="#231f20">-5</text>
<line x1="195.7" y1="957.6" x2="195.7" y2="961.4" stroke="#231f20" stroke-width="1.2"/>
<text x="195.7" y="971.7" font-size="10.2" font-weight="bold" text-anchor="middle" fill="#231f20">0</text>
<line x1="238.7" y1="957.6" x2="238.7" y2="961.4" stroke="#231f20" stroke-width="1.2"/>
<text x="238.7" y="971.7" font-size="10.2" font-weight="bold" text-anchor="middle" fill="#231f20">5</text>
<line x1="281.7" y1="957.6" x2="281.7" y2="961.4" stroke="#231f20" stroke-width="1.2"/>
<text x="281.7" y="971.7" font-size="10.2" font-weight="bold" text-anchor="middle" fill="#231f20">10</text>
<line x1="64.7" y1="948.0" x2="69.4" y2="948.0" stroke="#231f20" stroke-width="1.2"/>
<text x="63.4" y="951.2" font-size="10.2" font-weight="bold" text-anchor="end" fill="#231f20">0</text>
<line x1="64.7" y1="855.0" x2="69.4" y2="855.0" stroke="#231f20" stroke-width="1.2"/>
<text x="63.4" y="858.2" font-size="10.2" font-weight="bold" text-anchor="end" fill="#231f20">100</text>
<line x1="64.7" y1="816.5" x2="69.4" y2="816.5" stroke="#231f20" stroke-width="1.2"/>
<text x="63.4" y="819.7" font-size="10.2" font-weight="bold" text-anchor="end" fill="#231f20">200</text>
<line x1="64.7" y1="786.9" x2="69.4" y2="786.9" stroke="#231f20" stroke-width="1.2"/>
<text x="63.4" y="790.1" font-size="10.2" font-weight="bold" text-anchor="end" fill="#231f20">300</text>
<text x="191.6" y="763.7" font-size="10.6252" font-weight="bold" text-anchor="middle" fill="#231f20">Group B bradys compared to D7-BAG1+ bradys</text>
<text x="195.3" y="982.4" font-size="10.657499999999999" font-weight="bold" text-anchor="middle" fill="#231f20">Log2 fold change</text>
<text x="43.6" y="859.5" font-size="10.32" font-weight="bold" text-anchor="middle" fill="#231f20" transform="rotate(-90 43.6 859.5)">-Log10 adjusted p-value</text>
<path d="M514.7 951.0h0M523.6 951.3h0M595.4 952.1h0M599.6 952.2h0M602.8 951.4h0M627.7 952.3h0M596.0 950.6h0M604.7 951.9h0M503.6 950.1h0M484.1 952.2h0M637.3 952.1h0M508.7 951.7h0M525.2 951.7h0M597.2 951.5h0M515.6 951.9h0M503.2 951.4h0M613.5 952.5h0M549.2 951.8h0M551.8 952.2h0M578.4 951.9h0M531.7 952.6h0M492.3 951.7h0M546.9 951.5h0M532.6 952.1h0M543.1 951.7h0M589.7 951.6h0M521.6 951.0h0M531.7 951.4h0M637.1 952.1h0M596.5 952.0h0M494.1 952.2h0M596.3 951.1h0M595.2 951.9h0M581.3 952.6h0M609.3 952.5h0M642.0 951.5h0M542.7 951.7h0M602.7 951.5h0M525.1 952.0h0M527.0 951.4h0M504.6 951.7h0M515.4 951.0h0M493.4 951.6h0M640.2 952.1h0M567.3 951.9h0M610.0 951.7h0M574.0 951.7h0M502.8 952.2h0M602.0 951.4h0M618.6 950.4h0M496.6 952.4h0M604.6 951.1h0M564.2 951.7h0M488.6 952.6h0M559.5 952.3h0M524.2 952.0h0M581.3 952.4h0M486.7 951.9h0M548.3 952.5h0M575.9 950.9h0M546.9 951.9h0M616.3 951.5h0M510.1 952.1h0M577.1 953.1h0M517.7 951.2h0M546.7 952.2h0M602.3 951.6h0M642.1 951.4h0M610.5 952.3h0M572.5 952.9h0M580.2 952.4h0M501.6 952.0h0M507.2 951.9h0M579.0 950.6h0M647.2 952.6h0M498.2 952.2h0M555.3 951.8h0M632.3 951.4h0M489.8 952.2h0M499.0 951.0h0M603.3 951.2h0M608.5 950.8h0M500.4 951.7h0M553.4 951.4h0M601.0 950.9h0M606.6 952.0h0M538.3 951.7h0M490.3 951.9h0M501.7 949.5h0M618.0 952.5h0M623.9 951.3h0M563.8 950.6h0M524.9 952.1h0M551.0 951.6h0M597.9 951.7h0M588.6 952.4h0M643.8 952.5h0M514.3 952.1h0M539.1 952.7h0M535.1 951.6h0M575.9 952.1h0M630.4 951.3h0M562.4 952.4h0M563.3 951.8h0M549.1 950.4h0M578.7 951.6h0M483.1 951.9h0M494.9 952.0h0M515.8 951.5h0M489.5 952.5h0M524.0 952.0h0M568.2 951.8h0M644.8 951.4h0M508.6 951.1h0M570.1 952.1h0M505.4 951.4h0M485.3 951.3h0M638.8 951.9h0M618.3 951.2h0M573.0 951.6h0M644.5 951.8h0M625.0 951.6h0M507.1 951.9h0M581.5 951.9h0M613.1 951.1h0M631.1 951.1h0M545.2 952.5h0M594.5 952.5h0M558.7 951.5h0M570.2 952.4h0M630.8 952.7h0M503.5 951.5h0M567.2 952.0h0M496.7 952.1h0M509.4 950.9h0M638.6 952.5h0M579.9 951.2h0M520.0 951.9h0M498.3 951.8h0M540.5 951.8h0M585.9 951.7h0M610.7 952.4h0M579.7 952.1h0M556.6 952.1h0M480.7 951.5h0M624.1 951.8h0M505.0 951.5h0M571.7 952.3h0M549.9 952.9h0M587.4 952.3h0M520.4 951.0h0M513.5 952.3h0M626.7 951.8h0M625.1 952.2h0M532.7 952.8h0M634.3 952.4h0M580.4 951.7h0M511.9 951.6h0M504.4 951.8h0M489.2 951.0h0M538.3 951.7h0M568.3 952.2h0M516.2 952.3h0M623.8 952.4h0M503.6 952.1h0M528.8 951.8h0M571.5 950.9h0M621.2 951.8h0M645.6 952.6h0M606.3 952.3h0M626.3 952.1h0M522.8 951.6h0M511.0 951.8h0M494.4 951.4h0M645.0 951.6h0M484.6 952.4h0M576.0 952.3h0M514.9 952.4h0M546.1 951.6h0M546.8 952.6h0M629.7 951.1h0M504.7 951.6h0M623.6 952.0h0M487.8 953.7h0M553.2 952.2h0M542.4 952.0h0M484.4 952.5h0M491.2 951.8h0M555.8 951.8h0M489.7 951.9h0M591.1 951.7h0M611.5 951.4h0M497.0 953.0h0M590.3 951.8h0M516.3 951.9h0M619.5 951.3h0M624.1 951.4h0M533.9 951.2h0M587.7 952.6h0M502.3 950.8h0M599.0 951.8h0M598.8 952.2h0M510.0 951.6h0M508.9 951.6h0M599.1 951.2h0M507.8 951.8h0M617.2 952.2h0M628.9 951.0h0M501.5 951.7h0M502.3 951.6h0M502.4 950.4h0M573.8 952.4h0M559.2 951.4h0M627.3 953.3h0M593.9 952.2h0M541.0 951.8h0M517.7 952.0h0M567.8 951.1h0M491.1 951.6h0M592.1 952.4h0M478.6 951.7h0M628.9 952.8h0M525.6 951.9h0M558.6 952.5h0M503.3 951.2h0M604.0 951.8h0M527.5 952.8h0M518.0 951.7h0M602.0 951.8h0M630.7 950.9h0M521.1 951.5h0M503.9 952.1h0M584.9 952.7h0M535.1 952.3h0M598.0 952.5h0M625.1 951.7h0M621.2 952.3h0M568.9 951.3h0M604.5 951.4h0M625.7 951.6h0M577.2 951.4h0M599.4 951.0h0M560.8 951.7h0M541.0 952.1h0M568.9 951.9h0M531.0 951.8h0M640.3 951.5h0M507.8 950.6h0M543.6 950.6h0M580.1 951.9h0M569.7 952.5h0M628.2 951.6h0M583.0 950.8h0M572.3 951.7h0M531.1 951.3h0M540.3 951.2h0M520.2 951.7h0M571.9 952.3h0M561.2 950.9h0M478.7 951.5h0M611.1 952.0h0M609.6 951.4h0M592.7 953.2h0M633.9 950.4h0M532.5 951.9h0M639.4 951.6h0M555.1 952.0h0M644.1 951.5h0M611.0 951.9h0M637.0 952.1h0M591.0 951.5h0M530.7 951.0h0M487.0 953.1h0M606.1 951.1h0M545.8 951.8h0M478.0 951.7h0M516.3 950.6h0M532.1 952.4h0M499.3 952.1h0M633.5 951.5h0M566.2 951.2h0M545.1 951.3h0M538.0 952.2h0M503.8 951.4h0M516.0 952.3h0M548.9 951.7h0M510.5 952.3h0M645.9 951.7h0M617.1 952.6h0M531.0 951.3h0M562.2 951.4h0M621.7 951.6h0M586.7 951.9h0M619.7 951.8h0M626.5 951.6h0M568.4 951.3h0M605.4 952.0h0M554.0 952.6h0M492.3 951.3h0M635.1 953.1h0M638.0 950.9h0M620.0 951.4h0M495.1 951.2h0M572.5 951.3h0M536.3 952.5h0M481.5 952.0h0M620.3 952.6h0M621.3 953.1h0M510.6 950.9h0M479.6 951.0h0M530.6 951.7h0M624.2 953.1h0M564.5 952.0h0M578.2 952.6h0M607.8 952.0h0M507.6 951.2h0M579.2 951.9h0M578.4 952.1h0M481.8 953.7h0M620.1 951.2h0M502.6 951.7h0M519.5 952.3h0M580.9 951.5h0M633.2 951.9h0M608.6 951.3h0M519.3 951.4h0M574.0 951.6h0M560.1 952.3h0M496.0 950.9h0M623.5 950.8h0M533.4 952.2h0M542.5 951.6h0M501.2 952.0h0M580.2 951.2h0M607.2 951.8h0M636.5 952.2h0M498.7 951.6h0M540.7 949.8h0M633.1 951.1h0M626.3 952.1h0M550.6 951.0h0M621.6 952.4h0M511.0 950.9h0M570.1 952.8h0M591.3 951.2h0M592.7 951.6h0M559.3 952.4h0M580.1 951.7h0M567.4 952.7h0M483.9 951.8h0M512.9 952.4h0M607.7 951.5h0M529.9 950.7h0M494.0 952.3h0M499.4 952.1h0M591.1 951.5h0M548.1 952.4h0M554.4 951.1h0M599.7 952.2h0M563.6 952.3h0M507.2 952.7h0M486.7 950.7h0M510.9 951.9h0M509.1 950.8h0M508.7 952.9h0M569.9 952.2h0M509.8 950.7h0M536.2 951.6h0M481.6 952.1h0M513.1 952.6h0M484.0 951.1h0M598.9 952.1h0M536.2 950.7h0M599.9 950.5h0M569.2 952.0h0M527.9 951.9h0M591.8 951.1h0M554.1 951.7h0M596.9 950.7h0M546.3 952.1h0M605.0 951.7h0M543.8 952.6h0M587.2 952.4h0M588.2 951.6h0M549.7 952.1h0M606.3 951.7h0M596.5 952.1h0M600.9 951.1h0M501.1 951.6h0M573.8 951.3h0M518.4 951.8h0M489.5 952.6h0M501.1 951.1h0M574.2 951.7h0M550.9 952.6h0M647.4 951.8h0M527.8 951.3h0M535.4 950.5h0M609.9 953.1h0M578.8 952.1h0M487.7 952.0h0M497.9 951.3h0M640.8 951.1h0M534.5 952.3h0M574.1 952.0h0M612.5 952.1h0M563.3 951.8h0M590.0 950.7h0M582.5 952.0h0M631.9 952.2h0M571.8 951.5h0M558.9 951.0h0M534.4 952.0h0M500.7 951.5h0M612.5 951.8h0M531.3 950.8h0M618.8 951.8h0M642.0 951.0h0M627.2 951.5h0M608.2 951.4h0M501.4 952.0h0M508.8 951.7h0M550.0 952.7h0M636.5 951.1h0M558.7 952.6h0M483.3 951.5h0M646.1 952.4h0M559.6 952.4h0M493.2 951.5h0M638.7 951.9h0M616.0 950.3h0M571.6 951.7h0M527.2 950.1h0M505.0 951.3h0M607.1 952.7h0M489.9 952.0h0M541.8 951.9h0M562.8 951.8h0M612.3 952.5h0M599.8 952.5h0M646.4 952.1h0M508.4 952.5h0M558.3 952.1h0M576.0 952.0h0M516.2 952.0h0M525.7 952.1h0M618.7 952.0h0M509.6 951.0h0M640.8 951.3h0M647.0 951.9h0M485.7 951.9h0M524.3 952.6h0M564.3 951.9h0M629.6 952.3h0M583.3 952.6h0M514.1 950.4h0M565.7 952.3h0M516.2 951.8h0M639.0 951.8h0M496.2 951.0h0M523.7 951.6h0M610.1 952.5h0M486.0 951.7h0M614.4 951.5h0M537.1 951.2h0M626.6 951.7h0M646.3 951.2h0M548.3 951.6h0M538.9 951.7h0M635.0 952.0h0M479.6 951.4h0M607.2 952.9h0M556.0 951.1h0M501.0 949.6h0M607.2 952.1h0M549.1 951.5h0M509.9 952.5h0M564.2 953.1h0M481.3 951.8h0M539.7 952.4h0" stroke="#bdbdbd" stroke-width="3.0" stroke-linecap="round" fill="none"/>
<path d="M538.0 942.4h0M571.8 948.9h0M610.3 944.9h0M606.6 943.3h0M554.3 948.3h0M535.3 944.1h0M555.0 945.7h0M550.9 947.2h0M567.8 947.4h0M585.6 942.7h0M505.9 942.5h0M602.4 946.8h0M598.8 946.0h0M558.8 946.2h0M566.9 948.0h0M513.7 945.1h0M604.1 942.6h0M545.6 945.3h0M607.3 949.7h0M525.0 946.4h0M602.8 946.4h0M519.3 944.1h0M596.1 946.7h0M567.2 946.0h0M578.5 949.2h0M606.8 939.2h0M599.1 939.0h0M593.9 944.7h0M555.0 945.1h0M537.1 939.5h0M560.2 938.8h0M526.7 938.3h0M606.7 939.5h0M507.5 949.8h0M508.6 947.8h0M556.2 947.1h0M536.0 948.7h0M522.5 941.0h0M526.0 940.7h0M582.2 941.8h0M510.1 948.3h0M532.3 949.4h0M503.1 948.3h0M565.3 943.4h0M533.3 947.1h0M574.9 938.4h0M511.9 947.7h0M505.6 942.4h0M533.4 942.2h0M535.8 943.1h0M520.8 942.9h0M574.6 943.5h0M525.6 938.8h0M502.2 946.4h0M582.3 945.9h0M586.9 943.5h0M600.2 942.7h0M519.9 947.5h0M515.7 943.0h0M534.8 940.2h0M508.0 949.2h0M543.2 948.7h0M503.1 944.1h0M598.2 939.9h0M584.9 944.9h0M539.3 944.1h0M524.6 943.5h0M559.6 940.9h0M526.6 938.4h0M565.8 943.3h0M576.0 943.3h0M546.2 945.8h0M570.0 948.5h0M524.8 944.2h0M508.8 948.2h0M531.1 948.2h0M601.0 946.2h0M536.8 942.2h0M605.5 938.8h0M588.8 944.9h0M533.3 940.7h0M596.8 943.6h0M602.0 940.4h0M557.2 949.4h0M526.8 947.5h0M507.8 946.4h0M539.4 941.3h0M542.3 938.7h0M591.6 944.3h0M528.3 946.1h0M512.5 947.4h0M595.2 946.0h0M516.4 939.0h0M591.8 946.8h0M525.4 944.2h0M563.8 940.1h0M569.4 944.2h0M557.7 939.5h0M521.6 943.4h0M577.3 942.3h0M543.7 939.3h0M557.1 943.3h0M553.2 942.0h0M524.8 949.4h0M545.4 943.8h0M561.9 947.5h0M553.7 946.9h0M508.7 948.7h0M556.8 946.0h0M553.0 940.3h0M523.5 940.8h0M533.6 946.2h0M554.8 943.9h0M530.0 938.5h0M598.8 939.2h0M506.9 943.1h0M610.3 949.1h0M528.0 938.3h0M571.2 948.5h0M573.2 946.2h0M508.7 947.6h0M584.7 941.8h0M530.5 949.8h0M541.4 939.7h0M543.0 938.4h0M542.8 943.0h0M548.5 945.3h0M534.3 943.1h0M598.3 944.9h0M538.3 946.1h0M523.6 941.3h0M499.6 949.1h0M525.2 939.6h0M557.5 944.3h0M544.9 945.6h0M550.1 943.5h0M601.0 942.7h0M594.4 948.5h0M518.2 946.9h0M605.3 941.2h0M501.1 949.5h0M534.0 945.2h0M575.3 945.4h0M520.6 945.3h0M560.9 945.0h0M566.3 949.4h0M508.7 942.3h0M509.6 939.2h0M584.1 942.5h0M521.8 939.0h0M540.3 949.7h0M608.6 942.4h0M513.6 945.7h0M536.9 942.7h0M532.4 945.8h0M500.9 947.9h0M554.7 949.7h0M593.8 944.8h0M564.9 942.6h0M500.8 946.7h0M601.7 943.3h0M597.6 939.8h0M610.2 948.1h0M540.2 949.3h0M575.6 949.2h0M610.4 942.8h0M523.4 942.5h0M514.9 948.4h0M505.1 946.5h0M609.2 939.2h0M505.3 944.4h0M534.3 948.9h0M589.0 946.3h0M582.9 947.3h0M580.2 945.9h0M556.2 941.0h0M529.0 946.5h0M589.3 949.4h0M543.4 946.1h0M546.2 940.2h0M526.6 943.2h0M579.6 944.2h0M525.5 942.7h0M612.9 946.0h0M555.2 944.0h0M515.2 945.1h0M563.9 941.8h0M610.7 943.5h0M529.7 942.9h0M557.6 948.6h0M505.9 941.6h0M530.3 948.9h0M545.4 941.6h0M561.4 942.6h0M602.1 939.8h0M566.5 943.2h0M570.3 947.0h0M557.6 943.5h0M611.8 948.1h0M557.7 943.4h0" stroke="#bdbdbd" stroke-width="3.0" stroke-linecap="round" fill="none"/>
<path d="M648.8 942.1h0M643.8 940.7h0M644.5 941.3h0M630.8 940.5h0M650.3 941.3h0M633.2 940.3h0M641.4 941.7h0M643.9 941.0h0M645.2 941.2h0M630.9 939.6h0M638.1 941.7h0M636.7 941.8h0M641.3 941.2h0M648.4 942.0h0" stroke="#bdbdbd" stroke-width="3.0" stroke-linecap="round" fill="none"/>
<path d="M540.1 911.7h0M521.0 934.9h0M534.2 910.6h0M537.3 930.5h0M533.6 913.1h0M519.6 924.9h0M524.7 910.1h0M526.1 923.6h0M519.6 937.8h0M520.1 941.4h0M532.1 933.7h0M520.1 913.0h0M516.6 930.2h0M547.2 927.0h0M522.4 932.9h0M532.4 915.7h0M513.7 939.2h0M533.2 926.1h0M537.3 929.9h0M550.3 930.3h0M519.1 937.6h0M516.9 920.6h0M528.9 914.8h0M536.9 911.5h0M522.8 935.7h0M529.8 914.5h0M522.8 911.7h0M523.5 940.3h0M523.9 938.6h0M540.7 936.0h0M531.3 911.3h0M545.0 916.6h0M523.1 925.4h0M517.6 940.6h0M530.3 933.4h0M541.4 915.2h0M517.9 922.0h0M531.9 917.0h0M519.7 935.7h0M531.9 925.9h0M517.7 940.1h0M535.6 938.7h0M547.9 932.8h0M521.7 935.3h0M526.6 909.6h0M520.5 926.6h0M545.5 935.1h0M528.1 928.6h0M539.5 914.0h0M549.3 938.6h0M524.8 929.4h0M546.4 938.8h0M524.6 917.6h0M518.1 938.8h0M531.2 911.5h0M531.2 926.5h0M526.2 922.0h0M536.1 927.9h0M530.8 918.0h0M533.2 941.2h0M519.4 919.7h0M521.8 930.2h0M526.0 919.5h0M514.7 931.4h0M528.9 924.0h0M535.1 918.3h0M532.5 919.0h0M533.4 939.7h0M521.8 916.3h0M546.1 935.0h0M541.3 936.6h0M538.9 912.0h0M550.6 938.8h0M551.2 934.5h0M543.0 923.2h0M541.0 913.1h0M544.1 916.3h0M518.3 917.3h0M522.2 911.7h0M533.8 918.9h0M539.3 929.6h0M527.8 936.4h0M537.2 916.0h0M539.4 936.0h0M521.5 912.0h0M535.3 916.3h0M519.5 918.9h0M528.9 922.2h0M533.7 935.2h0M544.8 926.6h0M521.5 927.5h0M535.7 913.2h0M547.5 939.1h0M530.1 925.6h0M527.8 934.5h0M530.2 915.9h0M516.6 942.4h0M534.3 935.2h0M537.3 936.2h0M539.6 934.9h0M543.0 938.0h0M515.6 934.0h0M531.0 938.0h0M529.1 921.9h0M541.6 915.2h0M542.1 930.3h0M530.1 916.0h0M535.6 939.6h0M523.7 923.5h0M516.4 928.4h0M517.3 931.0h0M518.3 928.0h0M532.3 922.6h0M540.0 926.3h0M531.3 938.9h0M520.1 939.4h0M538.7 939.1h0M517.9 926.9h0M543.8 934.5h0M530.6 938.5h0M539.0 927.8h0M529.1 936.2h0M524.6 917.2h0M520.6 920.5h0M538.5 916.8h0M530.3 932.4h0M528.9 939.2h0M538.6 916.9h0M524.0 935.9h0M540.6 915.8h0M543.8 938.7h0M542.8 920.3h0M546.9 920.2h0M532.5 911.4h0M531.7 916.4h0M525.9 925.2h0M529.1 923.5h0M546.5 920.2h0M545.6 929.2h0M537.4 918.8h0M535.0 911.9h0M520.7 938.8h0M525.3 928.1h0M545.1 938.0h0M538.3 937.0h0M516.3 929.7h0M535.1 927.1h0M538.5 940.7h0M519.7 941.7h0M541.5 929.7h0M529.0 921.7h0M518.8 916.9h0M522.5 919.4h0M536.6 925.0h0M516.0 916.9h0M526.2 927.5h0M547.2 920.8h0M524.6 910.6h0M533.9 937.6h0M532.1 939.1h0M536.8 911.2h0M530.2 925.2h0M529.1 933.2h0M533.3 925.1h0M527.7 934.3h0M535.8 942.1h0M517.4 929.3h0M519.8 929.4h0M526.8 922.3h0M540.7 940.3h0M525.8 930.7h0M548.8 928.3h0M531.5 933.0h0M546.0 927.5h0M520.3 942.0h0M516.2 940.1h0M518.3 923.7h0M531.8 942.8h0M525.8 934.0h0M540.1 921.4h0M540.3 938.7h0M536.2 909.8h0M528.2 941.0h0M530.5 937.4h0M529.1 921.7h0M525.2 916.8h0M545.0 936.3h0M533.6 929.1h0M519.7 940.1h0M532.2 918.1h0M523.2 912.1h0M531.8 935.7h0M521.3 925.2h0M515.2 940.3h0M518.3 920.0h0M516.1 916.1h0M526.3 942.0h0M523.4 921.1h0M518.1 928.5h0M551.7 942.4h0M523.6 921.1h0M526.1 912.1h0M536.8 920.6h0M538.1 913.3h0M539.1 910.0h0M530.2 926.9h0M525.9 937.8h0M539.6 930.9h0M523.4 926.2h0M525.9 933.9h0M529.1 936.2h0M527.6 909.7h0M533.1 924.0h0M527.7 924.9h0M537.8 924.2h0M542.5 937.9h0M545.3 919.8h0M522.7 938.0h0M521.8 910.7h0M530.3 920.9h0M544.2 927.8h0M539.0 934.3h0M541.9 918.2h0M515.9 938.0h0M542.0 913.7h0M516.5 931.8h0M542.9 925.1h0M521.8 920.1h0M518.6 928.7h0M524.0 930.5h0M525.0 927.6h0M546.9 930.5h0M522.4 927.9h0M542.9 916.2h0M528.7 927.9h0M525.5 924.9h0M523.6 919.1h0M539.4 913.6h0M526.8 926.2h0M543.9 937.3h0M517.5 933.7h0M531.1 924.4h0M520.4 926.4h0M546.4 922.0h0M537.5 941.8h0M541.4 940.5h0M521.2 935.6h0M518.2 936.9h0M535.3 917.4h0M530.4 934.9h0M524.9 942.4h0M528.7 913.2h0M537.4 926.4h0M533.9 940.7h0M527.3 914.5h0M537.8 922.8h0M518.5 919.3h0M539.8 937.3h0M551.1 934.9h0M544.7 925.7h0M541.6 941.6h0M520.6 913.8h0M532.9 927.3h0M534.4 932.3h0M527.0 929.0h0M520.4 936.1h0M532.5 939.2h0M519.9 929.7h0M525.9 942.3h0M528.0 930.7h0M528.4 935.2h0M527.2 920.1h0M523.8 937.7h0M544.5 915.8h0M535.5 939.1h0M531.6 936.5h0M516.0 920.2h0M534.1 909.8h0M520.9 912.7h0M536.1 912.2h0M514.8 935.4h0M544.2 927.3h0M526.7 940.2h0M522.9 922.3h0M539.7 942.1h0M525.4 918.9h0M516.1 933.8h0M547.5 922.0h0M546.2 929.7h0M542.2 913.5h0M536.9 928.4h0M517.3 929.7h0M541.6 927.5h0M540.0 936.0h0M530.0 925.0h0M540.5 941.0h0M514.4 942.9h0M523.1 940.8h0M531.2 931.4h0M526.6 913.9h0M520.4 923.6h0M532.9 929.5h0M541.9 917.8h0M516.1 940.7h0M529.9 922.0h0M513.8 939.2h0M548.6 933.9h0M517.1 924.8h0M532.7 925.2h0M542.9 942.3h0M538.6 937.5h0M539.9 924.8h0M519.0 928.0h0M523.5 929.9h0M516.6 936.7h0M545.2 940.9h0M549.6 924.1h0M532.4 920.0h0M544.5 921.3h0M529.0 913.1h0M515.3 940.5h0M548.8 933.4h0M517.2 936.0h0M546.6 938.9h0M520.1 934.3h0M528.4 931.3h0M546.9 926.5h0M535.0 919.1h0M547.2 924.7h0M540.9 928.4h0" stroke="#3159ad" stroke-width="3.0" stroke-linecap="round" fill="none"/>
<path d="M521.5 938.6h0M532.5 930.0h0M518.9 905.0h0M531.1 899.5h0M547.9 935.8h0M545.6 928.0h0M512.7 896.7h0M510.4 908.1h0M513.6 912.4h0M518.2 935.0h0M510.1 896.9h0M534.5 926.6h0M522.2 932.1h0M507.4 900.8h0M526.0 927.2h0M518.3 940.2h0M520.8 932.8h0M527.2 931.4h0M525.3 923.2h0M506.1 914.0h0M515.8 915.4h0M520.5 900.5h0M545.9 909.6h0M498.7 927.0h0M545.2 930.6h0M499.8 928.0h0M514.2 940.5h0M543.3 899.0h0M503.5 924.1h0M507.3 938.3h0M538.1 915.0h0M502.9 916.9h0M533.7 921.3h0M524.3 918.5h0M550.4 941.9h0M508.4 890.2h0M539.6 910.2h0M529.4 898.1h0M547.9 930.8h0M524.9 896.0h0M532.2 898.5h0M503.4 925.5h0M502.2 901.0h0M503.9 927.1h0M513.3 887.0h0M527.2 928.8h0M512.0 892.2h0M513.0 919.9h0M530.3 931.0h0M538.1 901.2h0M506.5 899.7h0M519.7 891.8h0M520.5 908.9h0M532.2 913.4h0M520.3 910.7h0M513.7 905.9h0M512.3 928.3h0M502.6 909.0h0M520.9 888.2h0M539.3 910.7h0M523.2 936.0h0M526.0 926.7h0M525.6 937.0h0M515.1 935.0h0M533.9 932.5h0M498.9 937.9h0M521.0 905.0h0M501.4 908.6h0M515.2 887.8h0M518.3 941.6h0M520.3 921.5h0M519.6 929.6h0M529.3 921.2h0M507.9 921.2h0M524.1 888.2h0M541.3 942.8h0M515.0 924.5h0M544.0 934.0h0M537.9 926.7h0M538.7 929.2h0M541.4 905.5h0M513.4 930.1h0M517.8 894.9h0M517.2 905.4h0M527.5 898.5h0M526.7 917.8h0M511.4 900.8h0M499.6 919.3h0M545.9 915.7h0M526.1 938.0h0M506.2 908.5h0M535.7 900.2h0M523.9 893.0h0M530.2 927.5h0M524.8 935.5h0M517.2 916.6h0M525.4 889.4h0M519.5 902.6h0M532.2 913.9h0M531.4 896.3h0M547.3 930.6h0M506.5 938.3h0M498.7 934.6h0M536.3 896.2h0M545.3 912.4h0M544.3 909.1h0M511.9 908.3h0M529.0 892.5h0M522.0 907.8h0M525.5 940.3h0M507.4 914.8h0M508.4 895.3h0M529.5 914.6h0M529.9 920.4h0M515.1 916.3h0M540.0 939.2h0M516.2 942.2h0M534.6 938.0h0M528.3 886.3h0M535.3 895.1h0M527.4 924.0h0M516.5 930.0h0M543.6 906.4h0M522.4 901.6h0M502.0 915.1h0M538.2 911.2h0M514.0 899.8h0M520.0 913.2h0M544.2 913.8h0M525.0 916.5h0M538.7 921.4h0M531.5 905.1h0M533.9 904.3h0M528.8 908.0h0M518.5 932.9h0M505.7 895.7h0M507.5 941.4h0M524.6 891.3h0M506.5 913.2h0M517.1 905.6h0M539.1 934.1h0M514.0 916.3h0M529.1 895.3h0M524.1 920.7h0M544.7 935.3h0M528.1 929.2h0M509.7 893.3h0M528.2 911.9h0M521.7 894.6h0M503.8 936.7h0M538.7 903.5h0M530.6 934.8h0M535.6 927.1h0M511.3 899.6h0M506.5 927.7h0M522.9 903.5h0M515.0 925.7h0M536.3 925.1h0M525.6 895.8h0M510.2 907.0h0M517.0 903.2h0M498.4 929.5h0M545.2 910.8h0M509.0 913.9h0M549.2 937.1h0M545.2 908.3h0M513.6 922.8h0M529.4 921.3h0M545.8 909.6h0M521.3 923.8h0M523.7 930.3h0M519.7 911.6h0M522.4 933.1h0M524.7 897.8h0M531.6 903.3h0M524.1 914.4h0M521.1 924.1h0M530.2 894.9h0M504.9 925.8h0M519.9 939.3h0M504.5 916.7h0M512.2 899.0h0M531.7 932.1h0M521.5 933.0h0M540.8 939.1h0M537.2 935.4h0M508.9 892.1h0M520.8 925.2h0M524.5 932.6h0M543.2 904.2h0M540.2 897.8h0M530.4 906.8h0M540.0 918.8h0M516.3 904.4h0M540.2 905.2h0M525.7 936.9h0M528.6 913.5h0M538.2 913.3h0M525.3 917.9h0M502.9 937.4h0" stroke="#3159ad" stroke-width="3.0" stroke-linecap="round" fill="none"/>
<path d="M498.8 930.2h0M496.9 929.7h0M499.3 915.2h0M496.1 920.9h0M497.0 902.0h0M498.9 935.8h0M496.7 928.0h0M496.4 917.8h0M490.3 928.8h0M493.0 933.1h0M490.6 922.8h0M504.4 930.3h0M495.6 925.3h0M494.5 933.1h0M498.5 912.3h0M503.0 940.1h0M502.6 912.9h0M502.6 919.8h0M503.4 933.6h0M494.9 926.5h0M501.1 911.3h0M495.6 939.7h0M504.2 938.2h0M492.6 936.6h0M500.8 927.4h0M499.6 939.0h0M489.9 924.8h0M497.3 938.0h0M490.0 935.4h0M491.4 937.7h0" stroke="#3159ad" stroke-width="3.0" stroke-linecap="round" fill="none"/>
<path d="M497.9 862.6h0M502.6 868.5h0M516.8 883.3h0M493.6 870.3h0M521.6 876.4h0M502.6 878.2h0M504.1 863.8h0M512.2 877.2h0M492.3 882.4h0M528.5 877.8h0M507.1 862.7h0M519.2 883.5h0M520.3 879.5h0M526.6 882.8h0M511.0 871.2h0M503.8 881.1h0M521.9 876.6h0M526.5 870.6h0M519.5 870.5h0M506.8 880.2h0M522.8 873.3h0M494.6 882.9h0M495.2 865.5h0M497.0 886.0h0M512.9 887.6h0M516.2 873.9h0M528.2 874.7h0M499.9 863.7h0M508.0 867.7h0M495.3 869.4h0M523.2 879.0h0M535.9 878.0h0M507.9 881.7h0M502.7 865.1h0M515.0 867.7h0" stroke="#3159ad" stroke-width="3.0" stroke-linecap="round" fill="none"/>
<path d="M509.8 853.5h0M515.0 854.0h0M516.2 856.0h0M476.0 894.6h0M485.7 888.0h0M480.9 865.7h0M485.7 862.5h0M485.7 867.3h0M492.0 872.0h0M520.0 860.0h0" stroke="#3159ad" stroke-width="3.0" stroke-linecap="round" fill="none"/>
<path d="M471.2 940.5h0M465.5 935.6h0M467.8 936.1h0M469.3 937.9h0M472.3 939.4h0M464.3 934.1h0M463.1 933.8h0M469.0 937.9h0M470.1 937.1h0" stroke="#3159ad" stroke-width="3.0" stroke-linecap="round" fill="none"/>
<path d="M580.1 907.1h0M583.5 920.8h0M584.2 926.2h0M595.6 910.9h0M594.8 920.0h0M593.5 912.0h0M589.9 925.1h0M573.7 917.6h0M597.7 941.0h0M590.0 911.3h0M583.7 924.6h0M590.0 936.3h0M588.1 908.6h0M589.1 929.8h0M590.5 939.6h0M596.5 933.8h0M581.2 912.5h0M578.5 929.4h0M588.4 936.0h0M586.1 920.3h0M581.3 935.4h0M582.6 942.3h0M581.2 934.8h0M591.3 917.8h0M588.4 931.6h0M581.1 906.0h0M583.0 942.4h0M575.6 913.6h0M597.7 918.5h0M575.4 912.0h0M588.8 939.2h0M584.6 930.3h0M576.3 938.4h0M599.3 919.6h0M584.1 932.9h0M598.0 916.0h0M588.4 916.6h0M595.3 908.0h0M582.4 941.8h0M575.7 937.6h0M588.1 910.6h0M597.7 937.0h0M573.2 937.8h0M587.8 939.9h0M587.8 941.2h0M580.7 912.4h0M592.5 943.0h0M597.8 928.9h0M579.8 940.4h0M572.9 941.1h0M599.8 939.4h0M591.1 937.8h0M597.6 913.7h0M587.8 922.4h0M582.0 934.1h0M594.9 932.7h0M579.2 937.9h0M590.2 928.2h0M583.1 910.1h0M579.1 920.7h0M582.5 938.3h0M584.3 925.5h0M588.8 906.4h0M596.1 936.4h0M598.2 925.9h0M591.6 939.3h0M594.9 906.8h0M595.0 919.6h0M572.5 926.6h0M572.3 940.8h0M590.7 923.9h0M597.7 921.5h0M593.5 919.0h0M599.9 938.5h0M590.4 922.3h0M580.2 905.3h0M596.8 934.8h0M582.2 914.6h0M600.0 923.5h0M573.0 918.7h0M591.9 932.6h0M594.2 916.1h0M591.3 942.5h0M598.5 940.4h0M593.7 922.6h0M588.0 906.1h0M582.7 927.9h0M583.8 910.0h0M585.3 929.0h0M582.1 914.1h0M593.8 920.8h0M575.1 935.6h0M574.1 923.4h0M582.3 939.2h0M592.8 917.9h0M589.9 913.6h0M592.0 941.3h0M588.9 938.5h0M573.7 929.2h0M592.2 909.7h0M575.4 910.9h0M584.1 927.1h0M576.1 922.2h0M587.8 927.2h0M593.2 925.0h0M588.3 914.5h0M596.7 927.2h0M584.8 924.6h0M595.1 916.6h0M576.7 930.5h0M580.9 909.5h0M599.5 938.1h0M589.3 913.7h0M572.8 934.4h0M592.7 917.2h0M580.4 935.9h0M582.8 939.4h0M588.8 909.0h0M587.5 924.4h0M582.6 931.3h0M587.0 939.8h0M594.7 907.6h0M580.9 937.3h0M576.8 922.3h0M580.1 920.1h0M599.0 921.5h0M575.6 930.1h0M591.3 906.5h0M591.8 906.0h0M588.9 907.1h0M574.0 939.9h0M577.7 939.9h0M595.9 934.1h0M592.1 913.5h0M582.9 919.4h0M581.3 913.7h0M587.8 907.0h0M578.4 926.3h0M589.7 927.9h0M584.5 933.3h0M597.1 941.2h0M589.9 934.6h0M579.6 924.2h0M588.9 929.9h0M585.4 905.7h0M576.7 914.7h0M593.2 907.2h0M575.1 920.2h0M583.1 912.1h0M598.1 922.6h0M590.2 937.3h0M581.4 933.6h0M584.3 921.5h0M587.4 931.8h0M584.5 942.2h0M585.3 927.9h0M589.3 910.5h0M578.3 933.5h0M576.0 909.3h0M584.8 922.7h0M596.5 928.5h0M578.1 924.7h0M591.4 932.6h0M596.6 918.1h0M595.3 925.1h0M599.4 942.7h0M584.0 909.0h0M576.4 930.5h0M596.9 929.2h0M592.2 931.1h0M580.1 926.0h0M578.6 935.3h0M597.1 924.2h0M580.5 914.7h0M598.4 921.6h0M572.9 937.5h0M590.4 939.8h0M591.1 936.5h0M582.3 923.0h0M577.6 912.4h0M583.6 912.0h0M582.3 907.6h0M591.7 912.6h0M572.2 941.6h0M593.1 932.0h0M577.7 908.0h0M593.6 909.8h0M597.2 927.5h0M599.5 924.0h0M583.6 939.3h0M580.6 937.2h0M598.2 932.8h0M591.0 914.1h0M580.5 921.6h0M597.5 934.3h0M585.5 905.5h0M591.9 929.4h0M590.8 919.6h0M582.2 914.7h0M592.3 912.2h0M576.9 938.8h0M586.9 937.8h0M576.0 932.8h0M592.0 919.1h0M574.9 925.4h0M596.5 939.9h0M586.3 940.5h0M576.4 928.9h0M587.5 912.8h0M586.6 914.6h0M590.2 932.3h0M584.7 932.5h0M597.7 932.2h0M589.9 909.8h0M593.3 913.0h0M590.4 930.4h0M598.9 920.3h0M588.7 925.6h0M582.9 925.9h0M588.4 910.1h0M592.2 910.4h0M578.0 929.9h0M585.3 907.1h0M578.0 918.6h0M591.8 938.3h0M585.6 909.1h0M577.9 929.0h0M577.9 938.2h0M589.5 939.5h0M584.7 907.4h0M592.7 928.6h0M581.3 927.0h0M578.7 934.1h0M595.9 932.5h0M591.2 935.7h0M585.3 921.0h0M590.2 908.0h0M587.8 925.7h0M576.2 918.7h0M589.7 926.0h0M595.5 911.1h0M595.5 933.0h0M594.2 909.0h0M596.5 920.1h0M595.7 914.4h0M599.4 933.3h0M576.8 918.0h0M591.1 927.8h0M591.6 923.9h0M582.9 935.3h0M581.8 927.8h0M592.7 932.5h0M599.6 932.2h0M587.3 910.8h0M583.4 922.9h0M580.9 930.4h0M594.9 916.2h0M586.0 921.9h0M579.4 912.7h0M585.2 915.5h0" stroke="#e8202a" stroke-width="3.0" stroke-linecap="round" fill="none"/>
<path d="M588.7 904.4h0M568.1 940.3h0M588.4 913.6h0M580.3 917.0h0M578.2 942.2h0M567.6 930.6h0M569.6 928.5h0M592.2 905.1h0M580.6 900.7h0M579.3 942.8h0M587.9 932.8h0M573.5 942.5h0M583.0 909.4h0M572.1 941.4h0M577.9 935.2h0M580.1 915.9h0M567.7 903.4h0M573.2 941.0h0M586.6 920.5h0M568.9 909.2h0M599.6 917.2h0M586.4 911.5h0M581.4 930.9h0M598.3 928.9h0M584.5 923.7h0M594.1 912.4h0M584.4 920.5h0M592.6 904.4h0M582.9 934.5h0M588.4 942.5h0M573.1 918.9h0M592.5 904.1h0M587.8 921.9h0M589.6 940.8h0M591.9 941.0h0M576.7 921.2h0M567.9 938.2h0M597.4 905.6h0M594.1 925.0h0M573.8 920.7h0M599.3 915.3h0M597.1 898.4h0M575.2 934.5h0M592.0 908.7h0M577.8 919.9h0M596.0 919.5h0M579.6 897.2h0M584.9 902.4h0M595.9 939.3h0M588.9 927.3h0M569.4 908.2h0M591.4 933.3h0M570.9 912.7h0M588.8 929.7h0M586.6 913.6h0M585.4 933.9h0M584.1 899.2h0M586.0 940.9h0M596.7 906.5h0M591.0 932.5h0M589.4 899.4h0M579.1 929.6h0M580.4 904.1h0M597.4 938.8h0M593.2 925.5h0M584.5 919.0h0M567.6 927.4h0M591.1 914.8h0M568.6 937.5h0M588.3 937.9h0M576.4 912.8h0M569.8 922.3h0M585.1 910.9h0M577.9 905.0h0M598.3 933.2h0M592.9 922.8h0M577.9 919.0h0M592.8 936.2h0M581.5 935.6h0M596.6 905.6h0M585.8 899.5h0M579.9 911.0h0M592.4 899.6h0M590.2 915.8h0M585.5 904.7h0M586.2 940.3h0M584.8 906.3h0M581.9 905.4h0M588.4 913.7h0M588.2 915.2h0M572.7 907.4h0M595.2 917.0h0M586.6 941.6h0M570.3 930.0h0M582.7 926.1h0M568.4 930.7h0M571.8 920.7h0M598.3 928.0h0M574.0 920.1h0M588.7 897.4h0M593.1 937.1h0M569.4 924.3h0M573.0 940.1h0M586.8 928.3h0M586.8 917.1h0M582.1 942.4h0M575.8 919.8h0M595.8 930.2h0M578.7 942.7h0M581.8 910.9h0M589.9 927.9h0M589.1 915.5h0M568.0 924.8h0M580.3 900.4h0M591.3 929.8h0M567.4 933.9h0M589.3 938.4h0M571.6 909.5h0M588.7 917.6h0M593.6 930.9h0M592.0 901.7h0M584.1 940.4h0M594.5 898.0h0M567.6 903.6h0M580.4 937.2h0M588.7 938.8h0M583.2 900.3h0M593.9 906.5h0M588.9 903.9h0M566.8 915.1h0M581.3 935.7h0M583.0 930.7h0M590.3 928.6h0M572.3 908.9h0M601.4 941.1h0M588.8 928.6h0M571.5 940.9h0M599.8 922.9h0M567.6 935.5h0M574.9 931.0h0M574.7 926.9h0M575.7 917.8h0M575.4 932.2h0M577.3 935.0h0M600.8 935.4h0M600.0 912.7h0M593.9 941.7h0M580.5 924.6h0M591.5 907.9h0M580.2 937.1h0" stroke="#e8202a" stroke-width="3.0" stroke-linecap="round" fill="none"/>
<path d="M586.7 943.0h0M603.3 930.2h0M564.4 934.9h0M574.2 891.8h0M609.2 925.2h0M564.9 898.5h0M576.2 935.7h0M595.6 908.1h0M565.5 911.2h0M602.4 917.5h0M588.5 941.7h0M608.3 931.1h0M581.1 899.3h0M578.1 939.4h0M588.9 902.7h0M575.9 904.6h0M568.7 930.8h0M597.8 892.4h0M560.2 918.2h0M569.8 894.2h0M600.5 922.4h0M573.5 918.5h0M574.6 907.3h0M569.3 891.3h0M603.3 914.4h0M576.7 938.5h0M598.2 937.3h0M564.0 919.2h0M569.3 920.2h0M596.2 932.0h0M602.9 895.9h0M564.9 909.9h0M576.3 909.0h0M569.8 905.7h0M588.4 904.8h0M590.9 910.7h0M575.5 912.8h0M582.1 908.8h0M571.0 892.1h0M579.0 890.9h0M581.4 922.8h0M596.8 906.6h0M573.3 893.1h0M594.2 912.7h0M600.0 911.5h0M607.2 905.8h0M562.0 918.7h0M576.9 901.8h0M594.9 888.7h0M588.8 921.3h0M601.6 890.7h0M572.6 891.9h0M565.3 907.3h0M585.4 928.1h0M563.5 918.1h0M607.2 928.9h0M610.0 929.4h0M566.3 923.5h0M597.6 907.9h0M609.2 912.8h0M595.8 904.3h0M577.6 935.0h0M590.7 941.7h0M566.9 902.4h0M592.3 911.3h0M600.2 914.0h0M601.2 909.3h0M609.8 925.9h0M562.7 931.3h0M609.5 912.4h0M603.5 911.9h0M577.9 937.3h0M582.8 935.4h0M572.6 920.4h0M601.6 905.1h0M565.7 903.7h0M609.5 917.4h0M590.4 933.5h0M582.2 915.1h0M581.0 940.0h0M607.8 920.8h0M602.0 926.1h0M576.1 942.7h0M566.6 921.6h0M598.5 937.6h0M597.5 934.4h0M599.4 936.8h0M593.8 901.6h0M593.1 911.7h0M590.8 922.3h0M604.6 931.4h0M594.6 926.9h0M593.9 929.0h0M604.2 923.0h0M583.4 928.6h0M566.7 908.4h0M588.2 918.7h0M585.8 935.4h0M585.6 934.3h0M583.1 902.6h0M567.3 923.9h0M582.4 942.7h0M576.8 933.9h0M570.0 927.8h0M608.6 934.0h0M580.2 896.0h0M593.2 932.7h0M597.2 933.2h0M559.7 919.4h0M606.2 899.1h0M589.1 912.5h0M560.1 939.1h0M575.6 894.1h0M576.9 942.7h0M596.7 919.7h0M574.9 931.1h0M581.2 903.8h0M597.0 917.9h0M611.0 933.8h0M570.7 912.4h0" stroke="#e8202a" stroke-width="3.0" stroke-linecap="round" fill="none"/>
<path d="M610.6 881.5h0M577.5 872.8h0M574.5 866.0h0M601.3 886.0h0M593.3 876.5h0M606.1 887.6h0M576.4 882.0h0M593.3 863.0h0M604.3 884.9h0M570.9 883.0h0M604.6 879.8h0M604.4 879.6h0M600.9 885.5h0M573.0 870.4h0M574.9 881.2h0M578.3 879.4h0M585.8 881.0h0M594.1 887.2h0M593.4 877.0h0M584.3 877.3h0M583.7 887.7h0M586.7 879.8h0M579.8 880.2h0M580.9 869.2h0M581.1 883.9h0M596.9 884.3h0M593.3 869.2h0M593.0 863.8h0M604.7 876.4h0M586.6 889.7h0M572.6 889.2h0M583.0 891.5h0M583.1 882.6h0M599.1 889.6h0M611.5 884.2h0" stroke="#e8202a" stroke-width="3.0" stroke-linecap="round" fill="none"/>
<path d="M611.5 935.3h0M637.3 918.9h0M625.8 899.1h0M635.0 909.8h0M615.2 939.5h0M616.4 927.9h0M614.2 911.0h0M627.1 938.1h0M642.9 920.3h0M641.8 931.0h0M631.0 923.1h0M638.3 915.6h0M636.0 908.4h0M617.0 926.8h0M642.6 937.0h0M619.2 902.1h0M617.5 905.0h0M628.9 921.4h0M629.9 908.7h0M621.5 938.3h0M620.9 917.5h0M621.8 910.8h0M618.5 916.1h0M623.5 924.3h0M629.2 907.2h0M617.4 933.3h0M630.3 931.8h0M632.2 939.6h0" stroke="#e8202a" stroke-width="3.0" stroke-linecap="round" fill="none"/>
<path d="M660.0 915.0h0M665.0 911.0h0M668.0 918.0h0M672.0 913.0h0M650.0 934.0h0M655.0 931.0h0M662.0 936.0h0M640.0 930.0h0M645.0 935.0h0M627.5 830.9h0M598.5 856.0h0M597.0 862.0h0M605.0 867.0h0M607.0 866.0h0M596.0 870.0h0" stroke="#e8202a" stroke-width="3.0" stroke-linecap="round" fill="none"/>
<path d="M596.7 949.3h0M595.9 945.3h0M589.9 948.2h0M578.9 940.2h0M570.3 943.5h0M575.0 945.8h0M594.6 939.5h0M590.2 947.7h0M592.9 941.2h0M588.6 948.2h0M598.4 947.1h0M594.9 941.9h0M569.4 942.6h0M580.6 949.9h0M586.5 939.5h0M597.6 946.8h0M574.7 940.9h0M598.4 940.4h0M582.8 949.4h0M580.5 949.9h0M586.3 944.3h0M590.3 939.5h0M578.4 942.5h0M580.5 940.0h0M599.6 945.2h0M587.5 943.1h0M579.4 947.3h0M594.1 941.7h0M585.1 945.2h0M584.3 944.5h0M585.1 946.6h0M584.7 948.0h0M583.2 946.7h0M595.2 944.3h0M579.4 940.9h0M569.5 941.1h0M581.7 939.9h0M594.8 940.7h0M579.8 942.3h0M584.8 945.5h0M583.0 940.0h0M591.1 941.5h0M570.7 949.3h0M573.9 946.2h0M580.0 940.0h0M598.7 939.4h0M581.6 946.9h0M576.3 945.4h0M595.6 944.1h0M590.8 948.9h0M581.0 944.0h0M591.6 946.4h0M571.7 948.9h0M587.5 943.2h0M574.5 942.6h0M591.1 949.4h0M569.6 942.5h0M585.5 945.6h0M575.5 942.5h0M568.6 942.1h0" stroke="#bdbdbd" stroke-width="3.0" stroke-linecap="round" fill="none"/>
<path d="M475.9 859.6h0" stroke="#1a1a1a" stroke-width="3.0" stroke-linecap="round" fill="none"/>
<text x="462.8" y="858.3" font-size="7.2" fill="#222222" stroke="#222222" stroke-width="0.25">SAG1</text>
<path d="M449.1 917.4h0" stroke="#1a1a1a" stroke-width="3.0" stroke-linecap="round" fill="none"/>
<text x="441.7" y="915.5" font-size="7.2" fill="#222222" stroke="#222222" stroke-width="0.25">GRA24</text>
<line x1="515.3" y1="887.5" x2="519.8" y2="904.3" stroke="#222" stroke-width="0.7"/>
<path d="M519.8 904.3h0" stroke="#1a1a1a" stroke-width="3.0" stroke-linecap="round" fill="none"/>
<text x="493.5" y="888.0" font-size="7.2" fill="#222222" stroke="#222222" stroke-width="0.25">ROP15</text>
<path d="M496.1 909.0h0" stroke="#1a1a1a" stroke-width="3.0" stroke-linecap="round" fill="none"/>
<text x="482.5" y="906.9" font-size="7.2" fill="#222222" stroke="#222222" stroke-width="0.25">ENO2</text>
<path d="M623.6 813.2h0" stroke="#1a1a1a" stroke-width="3.0" stroke-linecap="round" fill="none"/>
<text x="615.7" y="821.8" font-size="7.2" fill="#222222" stroke="#222222" stroke-width="0.25">ROP43</text>
<path d="M623.6 840.5h0" stroke="#1a1a1a" stroke-width="3.0" stroke-linecap="round" fill="none"/>
<text x="613.2" y="848.6" font-size="7.2" fill="#222222" stroke="#222222" stroke-width="0.25">ROP42</text>
<path d="M603.2 878.2h0" stroke="#1a1a1a" stroke-width="3.0" stroke-linecap="round" fill="none"/>
<text x="603.6" y="876.8" font-size="7.2" fill="#222222" stroke="#222222" stroke-width="0.25">ROP20</text>
<line x1="603.6" y1="901.0" x2="603.2" y2="908.6" stroke="#222" stroke-width="0.7"/>
<path d="M603.2 908.6h0" stroke="#1a1a1a" stroke-width="3.0" stroke-linecap="round" fill="none"/>
<text x="603.6" y="900.7" font-size="7.2" fill="#222222" stroke="#222222" stroke-width="0.25">SRS38D</text>
<path d="M615.5 915.7h0" stroke="#1a1a1a" stroke-width="3.0" stroke-linecap="round" fill="none"/>
<text x="616.8" y="913.2" font-size="7.2" fill="#222222" stroke="#222222" stroke-width="0.25">SRS16E</text>
<line x1="620.7" y1="916.8" x2="620.7" y2="923.0" stroke="#222" stroke-width="0.7"/>
<path d="M620.7 916.8h0" stroke="#1a1a1a" stroke-width="3.0" stroke-linecap="round" fill="none"/>
<text x="617.7" y="929.1" font-size="7.2" fill="#222222" stroke="#222222" stroke-width="0.25">SRS37A</text>
<path d="M659.3 929.3h0" stroke="#1a1a1a" stroke-width="3.0" stroke-linecap="round" fill="none"/>
<text x="650.2" y="925.7" font-size="7.2" fill="#222222" stroke="#222222" stroke-width="0.25">SRS47A</text>
<path d="M655.5 934.3h0" stroke="#1a1a1a" stroke-width="3.0" stroke-linecap="round" fill="none"/>
<text x="653.2" y="942.3" font-size="7.2" fill="#222222" stroke="#222222" stroke-width="0.25">203985</text>
<path d="M611.6 938.2h0" stroke="#1a1a1a" stroke-width="3.0" stroke-linecap="round" fill="none"/>
<text x="600.9" y="948.0" font-size="7.2" fill="#222222" stroke="#222222" stroke-width="0.25">SRS40D</text>
<rect x="438.5" y="773.3" width="243.8" height="188.0" fill="none" stroke="#231f20" stroke-width="1.4"/>
<line x1="496.8" y1="961.3" x2="496.8" y2="965.1" stroke="#231f20" stroke-width="1.2"/>
<text x="495.1" y="975.3" font-size="10.2" font-weight="bold" text-anchor="middle" fill="#231f20">-5</text>
<line x1="555.1" y1="961.3" x2="555.1" y2="965.1" stroke="#231f20" stroke-width="1.2"/>
<text x="555.1" y="975.3" font-size="10.2" font-weight="bold" text-anchor="middle" fill="#231f20">0</text>
<line x1="613.4" y1="961.3" x2="613.4" y2="965.1" stroke="#231f20" stroke-width="1.2"/>
<text x="613.4" y="975.3" font-size="10.2" font-weight="bold" text-anchor="middle" fill="#231f20">5</text>
<line x1="671.7" y1="961.3" x2="671.7" y2="965.1" stroke="#231f20" stroke-width="1.2"/>
<text x="671.7" y="975.3" font-size="10.2" font-weight="bold" text-anchor="middle" fill="#231f20">10</text>
<line x1="433.8" y1="952.0" x2="438.5" y2="952.0" stroke="#231f20" stroke-width="1.2"/>
<text x="431.3" y="955.2" font-size="10.2" font-weight="bold" text-anchor="end" fill="#231f20">0</text>
<line x1="433.8" y1="857.0" x2="438.5" y2="857.0" stroke="#231f20" stroke-width="1.2"/>
<text x="431.3" y="860.2" font-size="10.2" font-weight="bold" text-anchor="end" fill="#231f20">100</text>
<line x1="433.8" y1="817.6" x2="438.5" y2="817.6" stroke="#231f20" stroke-width="1.2"/>
<text x="431.3" y="820.8" font-size="10.2" font-weight="bold" text-anchor="end" fill="#231f20">200</text>
<line x1="433.8" y1="787.5" x2="438.5" y2="787.5" stroke="#231f20" stroke-width="1.2"/>
<text x="431.3" y="790.7" font-size="10.2" font-weight="bold" text-anchor="end" fill="#231f20">300</text>
<text x="559.2" y="768.7" font-size="10.736300000000002" font-weight="bold" text-anchor="middle" fill="#231f20">Group E bradys compared to D7-BAG1+ bradys</text>
<text x="563.4" y="987.2" font-size="10.78945" font-weight="bold" text-anchor="middle" fill="#231f20">Log2 fold change</text>
<text x="410.9" y="871.4" font-size="10.72" font-weight="bold" text-anchor="middle" fill="#231f20" transform="rotate(-90 410.9 871.4)">-Log10 adjusted p-value</text>
</svg></body></html>
